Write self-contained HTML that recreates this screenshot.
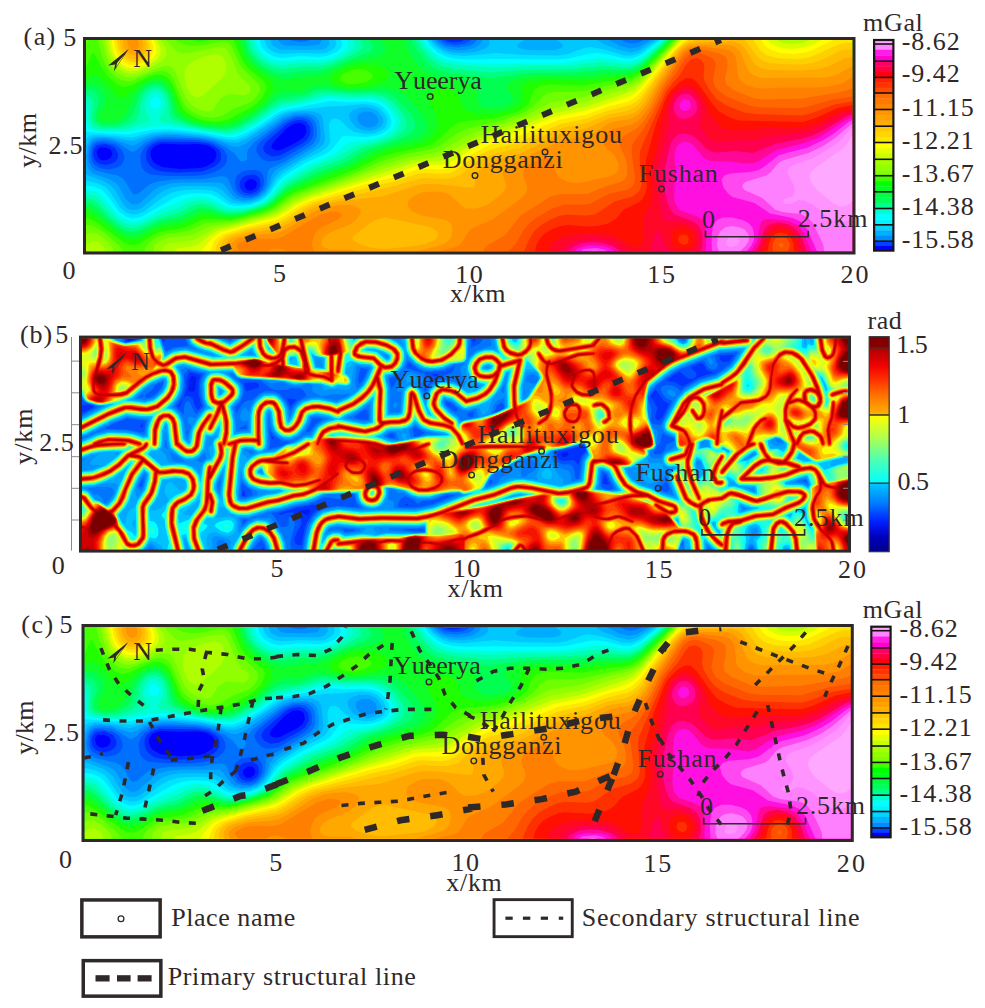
<!DOCTYPE html>
<html><head><meta charset="utf-8"><style>
html,body{margin:0;padding:0;background:#fff;width:985px;height:1008px;overflow:hidden}
svg{display:block}
text{font-family:"Liberation Serif",serif;fill:#2f2829;font-kerning:none}
</style></head><body>
<svg width="985" height="1008" viewBox="0 0 985 1008">
<defs><clipPath id="ca"><rect x="0" y="0" width="766.5" height="211.5"/></clipPath><clipPath id="cb"><rect x="0" y="0" width="766.3" height="211.4"/></clipPath><linearGradient id="gb" x1="0" y1="0" x2="0" y2="1"><stop offset="0" stop-color="#7a0000"/><stop offset="0.054" stop-color="#8a0000"/><stop offset="0.055" stop-color="#b00000"/><stop offset="0.133" stop-color="#f00000"/><stop offset="0.2" stop-color="#ff3000"/><stop offset="0.27" stop-color="#ff7000"/><stop offset="0.364" stop-color="#ffb400"/><stop offset="0.366" stop-color="#ffff00"/><stop offset="0.47" stop-color="#b0ff50"/><stop offset="0.57" stop-color="#50ffb0"/><stop offset="0.679" stop-color="#00ffff"/><stop offset="0.681" stop-color="#00c8ff"/><stop offset="0.77" stop-color="#0080ff"/><stop offset="0.86" stop-color="#0020ff"/><stop offset="0.93" stop-color="#0000c0"/><stop offset="1" stop-color="#000088"/></linearGradient><g id="fa" clip-path="url(#ca)"><rect x="0" y="0" width="766.5" height="211.5" fill="#0000ff"/>
<path fill="#0028ff" d="M2 0l764.5 0 0 211.5-766.5 0 0-211.5zM207.5 84l-6.5 4-13.5 14-2 4 0 1.5 2 2 4.5 1 4-1 16-8 6-4.5 2.5-5-1-6-2.5-2-3-1-6 .5zM74.5 104l-4.5 1.5-3 2-2.5 4 0 4 1.5 4 2 3 8 4.5 18 2 20-1 6-1.5 5-3 3-2 2-4 .5-4-2-4-4.5-3-4-1.5-8-1-16 .5-20-1zM13.5 107.5l-3 4 1.5 6 2 2 4 1 4-1 3-2 1.5-4-2-4-4.5-2-6 0zM162.5 139.5l-4 4 .5 4 3 3 4 0 4-3 1-4-1-2-2-2-4-.5z"/>
<path fill="#0050ff" d="M2 0l357 0 4.5 2 4.5 .5 6.5-.5 4-2 388 0 0 211.5-766.5 0 0-211.5zM212 80l-6 1-5 3-21 18-3 5.5 1 3.5 2 2.5 6 3 8-1 21.5-11.5 5.5-4 3-6 .5-4-1-4-3.5-4.5-4-1.5-4 0zM72.5 102l-5.5 2-4.5 3.5-2 4-.5 4 1 6 3 4 4 3.5 4 1.5 8 1.5 12 .5 24-1 12-4.5 4.5-3.5 2.5-4 0-6-2-4-5-3.5-6-2.5-10-1.5-38-.5zM10.5 106l-2.5 3-1 4.5 1 5 2 3 4 2.5 6 1 6-1.5 4-2.5 2-3.5 0-4-3.5-6-3.5-1.5-5-2-8 1zM159.5 135.5l-3.5 2.5-2 3.5-.5 4 1.5 4 3 3 4 1 4 0 4-2 2.5-2 2-4-.5-6-2-3-4-2-8 1z"/>
<path fill="#0070ff" d="M2 0l353 0 5 3.5 10 1.5 8.5-1 4.5-2 2-2 381.5 0 0 211.5-766.5 0 0-211.5zM209 78l-6 2-5 3-22 17-3.5 4-2 3.5 0 4 2.5 4 3 3.5 4 2 4 .5 10-1.5 24.5-14 5.5-4.5 2.5-3.5 1-4 0-6-1.5-4.5-3-3.5-3-1.5-4-1-6 0zM71.5 100l-6 2-5.5 4-3 3.5-2.5 6 0 6 1.5 6 3 4 5 3 18 1.5 24 0 12-1 8-2 8-3.5 4.5-4 2.5-4 0-6-3.5-6-5-3.5-8.5-4-14-2-28-1-10 .5zM16 102l-6 1-4 4.5-1 10 1 4 2 3 6 3.5 8 1.5 8-1.5 5-2.5 2.5-4 1-4-1-4-2-4-4.5-3.5-4-2-11-2zM156.5 131.5l-4.5 3-2 3-1 6 1.5 6 3.5 4 4 2 6 .5 6-1.5 4-3 3.5-6 .5-6-1-4-3-4-4-1.5-6 0-6 1z"/>
<path fill="#0090ff" d="M2 0l202 0 10 2 6-.5 4.5-1.5 127 0 2.5 2.5 6 3.5 12 1.5 12.5-2 4-2.5 2-3 145.5 0 4.5 2.5 6 1 6-1 6-2.5 208 0 0 211.5-766.5 0 0-211.5zM208 76l-10 4-29.5 22-6.5 7.5-1 4 0 6-3 2-4-.5-5.5-7.5-8-6-12.5-6-14-3-32-1.5-10 .5-7.5 2.5-7 4-7.5 6.5-4 1.5-12.5-8-5.5-2.5-10-1.5-8 1-4 2.5-2 4-1.5 8 .5 6 3 6 4 3 21.5 5 4.5 2.5 3.5 3.5 5.5 10 3 3 4-.5 12-10 8-2.5 14-2 32-.5 18-3 4 1 2 1.5 4.5 11 5 6 6.5 2.5 8 0 6-2.5 6-6 2.5-6 1.5-12 2-3 16-7.5 22-13.5 5-3.5 2.5-4 1.5-4 0-6-1-6-2-4-4-3-4-1.5-12 .5z"/>
<path fill="#00acff" d="M2 0l190 0 3.5 4 4.5 1.5 20 .5 12-1 2-1 2-4 112.5 0 3.5 4 6 3.5 6 2 8 1 8-.5 8.5-2 6-4 2-4 126.5 0 11.5 6 10 2.5 8-1.5 12.5-7 201.5 0 0 211.5-766.5 0 0-211.5zM277 72l-4 2-1.5 2 0 4 2.5 4 4 2.5 4 1 4-.5 4-1.5 2.5-3.5-.5-4-1-2-5-4-8-.5zM207.5 74l-10.5 4-37 25.5-8 3.5-6-.5-16-6.5-9.5-2-30.5-3-12 0-10 1.5-8 2.5-10 5.5-4 1-20-6.5-8-1-8 .5-4 2-3.5 5.5-2 9.5 .5 10 2 4 3 3.5 18 6.5 6 3.5 3.5 4.5 6.5 12 6 5 4 0 4-1.5 14-13 6-3.5 10-3 12-1 38 0 4 2 8 10.5 4 3.5 8 2 8-1 8-3.5 5-4.5 3.5-6 3.5-10.5 4-5 38-22.5 5.5-5.5 1-6 0-6-1.5-8-2-4-3-2.5-6-2-14 0z"/>
<path fill="#00c8ff" d="M2 0l182.5 0 1 4 1.5 2 7 3.5 36 .5 6-.5 4.5-1.5 3-4-.5-4 102.5 0 4.5 5 8 5 8 2.5 10 .5 12.5-1 10-3 4-3 1-2 0-4 34.5 0-5.5 4-1.5 2 2 2 8.5 2 15 .5 13-.5 6-2 1.5-2-.5-2-5.5-4 40.5 0 6 4 15.5 6 11.5 2.5 8-2 16.5-10.5 197.5 0 0 211.5-766.5 0 0-77 18.5 7 5.5 3.5 4.5 4.5 9.5 16 4 3.5 4 1 6-.5 4.5-2 15.5-13 6-4 8-3 10-1.5 24 0 10 1 6 3 7.5 7.5 4.5 3 8 1.5 8-.5 8-2.5 7.5-5.5 4-6 5-10 5.5-6 40-24 3.5-3.5 1.5-6-2-18-1-4-2-2-6-2.5-12-.5-10 1-8 2.5-36 23.5-10 4.5-8 0-16.5-4.5-11.5-2.5-36-2.5-14 1.5-20 6.5-22-4-14-.5-6 2.5-4 6.5 0-105.5zM273.5 68l-6.5 2-4 4 1 6 6 7.5 6 2.5 8 1 6-1.5 5.5-3.5 2-4-.5-4-5-7-8-3.5-10 0z"/>
<path fill="#00e4ff" d="M2 0l176.5 0 2 6 3.5 4 6 3 8 1 16-1 20 .5 6-.5 4-2 4.5-3 2-4-1-4 93.5 0 5 6 10 6.5 8 2.5 12 1 32.5-3 28 2 34 .5 9.5-1.5 16.5-6 6-1 14 2.5 20 6 6 0 4-.5 6-2.5 17.5-12.5 194.5 0 0 211.5-766.5 0 0-71 12 3 8 4 4 4.5 10 15.5 6 5 6 2 6-.5 6-2.5 18-13.5 8-4.5 8-2.5 8-1 14-.5 12 1 6 2.5 10 8 4 2 8 1 10-.5 8-2.5 8-5.5 4.5-6 6-10 5.5-5.5 20-13 19.5-9.5 5.5-4 3.5-5.5-1.5-16 1-4 2-3 4-.5 4 1.5 8 8 6.5 4 11.5 2 8-.5 6-2.5 5-3 2.5-6-.5-4-2-4-5.5-6-7.5-3-10-1-18 2-16 .5-40 4.5-8 3-16 11-18 11-10 4-8-.5-28-5.5-32-3-16 1.5-20 5-34-3-8 1-4 3 0-98.5z"/>
<path fill="#00ffff" d="M2 0l172 0 1 6 5 6 8 4.5 8 1.5 18-2 20 1 8-1.5 8.5-3.5 4.5-4 1.5-4-1.5-4 85.5 0 3.5 5.5 8 7 8 4 8 2 14 1 28.5-.5 58 .5 14-1 20-4.5 8-1 10 1 18 4.5 8 0 10-4.5 18-14 192 0 0 211.5-766.5 0 0-66 8 1 8 3.5 5.5 5.5 11.5 16 7 5 6 2 4-.5 6-1.5 32-18.5 8-3 8-1.5 10-.5 10 1 6 2.5 10.5 7 5.5 2 8 .5 10-1 10-3.5 6-4 4-4 10-14 6-5 20-12 20-9 6-4 10-13 4-.5 20 1 10-1.5 6-2 5.5-3.5 3-4 1-4-1.5-6-4-6-4-4-6-3-10-1.5-18 .5-18-1-46 9-6 2.5-16 11-16 9.5-12 4.5-8-.5-24-4.5-32-3.5-16 .5-26 5-42-2.5 0-92z"/>
<path fill="#00ffd8" d="M2 0l167.5 0 2.5 8 6 7 8 4.5 10 2 20-2 18 .5 10-1.5 9.5-4.5 5.5-4 3-4-1-6 76.5 0 4 6 6.5 7 6 4 6 2.5 14 3 28.5 1 76-.5 34-5 10 .5 16 3 6 0 10-3.5 22-18 190 0 0 211.5-766.5 0 0-61.5 8 1 5.5 2.5 4.5 4.5 8.5 11.5 5.5 6 6.5 4 7.5 2.5 4-.5 6-1.5 18-10 26-11 8-2 8-.5 8 1.5 14 7.5 6 2.5 8 0 12-1.5 9-3 7-4 4.5-4 11.5-14.5 22-13.5 30-13.5 12-9.5 4-2 24-3.5 10-3.5 8-5.5 2.5-4 1-4-1.5-6-4-6.5-6-5.5-6-3.5-8-1.5-22 .5-18-1.5-8 1-16 4.5-24 4.5-6 3-14 10-14 8-8 4-6 2-10 0-44-7.5-14-1.5-16 1-26 5-18-.5-12-1-5-2.5-3-7 0-81zM66 58l-2 4 .5 4 3.5 3 4-.5 2-2.5 1-2-1-4-2-3-4-.5z"/>
<path fill="#00ffb0" d="M2 0l164 0 3 10 7 8 10 5.5 10 1.5 20-2 20 0 10-2.5 10.5-4.5 9.5-6 3-4-1.5-6 66.5 0 3.5 6 7 8 5.5 4.5 8 4 14 3 32.5 2 38-1.5 38 0 34-4 8 .5 16 2 6 0 6-2 6-3.5 22-19 188 0 0 211.5-766.5 0 0-57 6 .5 6 2.5 18 20 8 5.5 8 2 8-1 18-9 18-6 14-7 6-1.5 6-.5 6 1 16 7.5 6 1.5 8 0 12-2 10-3 6-3.5 5-4 13-14.5 26-15.5 28-11 17-10.5 23-5.5 12-4.5 7.5-6 2-4 .5-4-1.5-6-5.5-8-6-6-7-3.5-10-2-20 .5-24-1.5-6 1-16 5-22 3.5-8 4-18 13-16 8.5-10 2.5-10-.5-28.5-4.5-28-6-4.5-2 0-2 5-8 1-8-3-7.5-2-1.5-4-2-6 2.5-4.5 6.5-1 4 1 6 5 10-3 2-17 6-8.5 1.5-14 .5-12-1.5-4-2-2-3-1-5.5-.5-12-.5-2.5-2-2.5 0-61z"/>
<path fill="#00ff80" d="M2 0l160.5 0 3 10 6.5 8.5 12 7.5 12 3 20-2.5 18 0 12-3 21.5-9.5 7-4 2.5-4-2-6 55.5 0 3 6 8 10 6.5 6 6 3.5 14 3.5 36.5 3.5 38-3 44-.5 30-3 22 1.5 6-.5 6-2 6-3.5 24-21.5 186 0 0 211.5-766.5 0 0-53 6 1 4 2 15.5 16 7.5 6 7 4 6 1 8-1.5 20-9 18-5 14-7 6-2 10 .5 14 6 6 1.5 8 0 12-2 10-3 8-3.5 6-4.5 14-14 28-15.5 27.5-10 20-12 22.5-6 10-4.5 5.5-3 4.5-4 2.5-6-1.5-6-6.5-10-6.5-6.5-8-5-10-2-24 0-24-2-8 1-16 5.5-22 3.5-6 3-19.5 14.5-18.5 9.5-10 1.5-14-1-21-4-19-6.5-3-3.5-.5-12-2.5-9-4-5-6-2.5-6 1.5-6 5.5-3 7.5-2 14-2.5 4-2.5 2-8 3.5-8 2-10 .5-8-1-4-1.5-3.5-3.5-1-6 1.5-14-2-4-5-3 0-55z"/>
<path fill="#00ff50" d="M2 0l157.5 0 3.5 12 7 9 8 6 8 4 6 2 6 .5 18-2.5 18-.5 12-3.5 37-15 2.5-2 1.5-4-3.5-6 42 0 4 8 7.5 10 5.5 6 7.5 5 14 4 40.5 5 38-5 44-.5 32-3 18 1 8-1 6-2 6-3.5 25.5-24 184.5 0 0 211.5-766.5 0 0-49 5 1 5 3 13 13 9 7 8 4.5 6 1 8-1.5 20-9.5 20-4.5 14-7 6-2 8 .5 18 6 8 0 10-1.5 14-4 8-3 6-4 16-15 30-14.5 28-10 21-12.5 23-7 16.5-6.5 6-4 3-6-1.5-6-5-8-13-13.5-8-5-12-2-28 1-24-3.5-8 1.5-15 5.5-15 1-6 1.5-6 3-18.5 14.5-13.5 8-8 3.5-10 1.5-16-1.5-17-3.5-14-6-3.5-4-3-14-3-8-5.5-6-6-2-8 2.5-6.5 5.5-4 8-4.5 14-5 6-6 3-6 2-8 .5-6-.5-5.5-3-1.5-4 .5-6 3.5-10-1-6-4-4.5-4-1.5-4 0 0-50z"/>
<path fill="#10ff28" d="M2 0l154 0 4.5 14 7.5 9.5 8 6 12 7 6 2.5 6 .5 16-2.5 18-1.5 30-13 29.5-6.5 5.5-4 1-4-2-4-3.5-4 24 0 2 8 4.5 8 7 9.5 6 6 6 3 6 2 26 4.5 10.5 3 4.5 4 1 2-1 10 2 4 5.5 3 8 1 13.5-2 6-4 1-2-.5-4-6-8 0-2 3-4 4-2 9-2.5 12-1.5 46 .5 26-3 16 0 8-1 6-2.5 6-4 27.5-26 182.5 0 0 211.5-766.5 0 0-44.5 4 1 4 2.5 24 20 8 4 6 1 8-1.5 20-9.5 22-4.5 18-8.5 6-.5 20 5 8 0 8-1.5 24-7.5 6-3.5 12-11 8-5 32-14 26-9 22-13 46.5-13.5 5.5-5 2-3 1-4-1.5-6-5.5-8.5-16-17-7.5-4.5-6.5-1.5-8-.5-32 2-30-5-4 .5-16 5.5-14 0-6 1.5-6 4-17.5 15.5-22.5 12.5-10 2-16-.5-16-4-12-6-4-6-4-14-4-8-6-6-6-1-9.5 3-7.5 6-5.5 8-6.5 14-4.5 6-8.5 4-10 0-3.5-2-1-4 1-4 5.5-10 0-4-1-4-4-6-5-3.5-4-.5-6 .5 0-44.5z"/>
<path fill="#20ff00" d="M2 0l150 0 5 14 4.5 8 6.5 6 16 12 3 4 .5 4-4.5 8-9.5 10-7.5 5-18 10-8 3-6 .5-10-.5-8-1.5-13-4.5-7-5-3.5-5-4.5-14-4-8-4-5-4-2.5-6-.5-10 3-8 5-14 11.5-4 1-13-14.5-9-8.5-4-1.5-8 4.5 0-38.5zM584.5 1.5l1-1.5 181 0 0 211.5-766.5 0 0-39.5 8 3.5 26 20 6 3 6 1.5 8-1.5 18-10 6-1.5 18-3 20-8.5 6-.5 14 3 8 0 10-1.5 16-4 10-3.5 6-3.5 14-11.5 6-3.5 36-15 23.5-8 24.5-13 20-6.5 23-4 9-4 7.5-8 3-8-1.5-8-5.5-10-2-6 1-6 4.5-4 9-2 6 1 4 1.5 4 4 4 11.5 4 4 4.5 2 14 2.5 16-2 12-3 8-5.5 2.5-6-1-8 .5-4 2-2 4-2 16-2 40 .5 46-5.5 6-2.5 6-4 27.5-26.5zM266 25.5l14-1.5 14 2 7.5 4 1 2 0 4-2.5 4-3.5 2-14.5 4-10 1.5-14-1-8.5-2.5-3-2-1.5-2 0-2 3.5-4 7.5-4.5 9-3.5z"/>
<path fill="#48ff00" d="M2 0l103.5 0 8.5 1.5 9.5-1.5 24 0 9.5 22 5 6 16.5 14 2 4-.5 4-4 8-6 6-6 4-22 11.5-12 2.5-14-2-10-4-8-6-3.5-6-8.5-21-4-5-4-2.5-4-1-6 .5-8 3-14 7-8 2-8-3.5-8.5-7.5-5.5-8-8-15-2 0-6 14.5 0-27.5zM586.5 1l.5-1 179.5 0 0 211.5-766.5 0 0-33.5 4 1 6 3 28 20.5 6 2.5 4 .5 6-2 12-8 8-4 24-3.5 19-8.5 5-.5 22 1 30-7.5 12.5-5 15.5-12 6-3 60-22.5 25-12.5 17-5 25.5-5 8.5-2.5 8-5 14-13.5 6-3.5 8-2 28.5-2.5 22.5-6.5 7-4 4.5-4 5.5-14 6.5-4 12-1.5 32 1 24-4.5 16-1.5 8-2 6-3.5 6-4.5 27-27.5zM266 30l8-1 8 2 4 3 1 2-1 2-5.5 4-10.5 2-8 0-5.5-2-2-2-.5-2 3-4 9-4z"/>
<path fill="#70ff00" d="M1 2l-1 2.5 0-4.5 2 0zM14 0l75.5 0 8.5 4.5 10 1.5 12-1 16-4 4 .5 4 2.5 2 3 6.5 15 3.5 6 16.5 16 1.5 4-.5 4-3.5 5.5-5 4.5-17 6.5-12 7.5-10 2-10-1.5-9.5-4.5-6.5-5.5-4-7-9-21.5-3-4-4-2.5-4-1-6 1-26 10-8-1-6-3.5-6-5.5-5-7.5-3.5-10-3.5-14zM588.5 .5l178-.5 0 211.5-708.5 0 1.5-4 3-4 5.5-4.5 6-3.5 6-1.5 22-3 18-8 26-1.5 32-8.5 10-4 14-10.5 8-4.5 58-20.5 26-11.5 22-7 32-6.5 6-3 18-12.5 8-4 38.5-9.5 20-7 9.5-6.5 9-10 5.5-3 6-1 18 0 12-1 46-10 8-4 6-5 28.5-30zM2 185l6 1.5 10 6 15 13 4.5 6-37.5 0 0-26z"/>
<path fill="#90ff00" d="M18 0l62 0 10 11 6 2.5 10-1 24-5 8 0 3.5 2.5 2.5 4 8 20 12 12 .5 2-.5 4-2 2-4 1.5-14-1.5-4 1-6 4-7 11-5 1.5-7.5-1.5-8.5-4.5-6-7-10-26-4-5.5-4-1.5-6 1-26 10-6 1-6-1-8-4.5-6.5-8-4-10-3-14zM590.5 0l176 0 0 211.5-699 0 1-6 3.5-3.5 4.5-2.5 7.5-2 20-2 20-9 26-4 32-9 8-3.5 15-10.5 9-4.5 54-18.5 24-9.5 24-8 37-7.5 33.5-18.5 52-16.5 26-14 32-5 26-8 22-5.5 6-3 8-6.5 30.5-32.5zM4 193l6 .5 8 5 7.5 7 2.5 6-28 0 0-17 2.5-1z"/>
<path fill="#b0ff00" d="M20 0l54.5 0 5 8 1 6-3.5 6-15 9-12 4.5-6 .5-4-.5-8-4.5-6-7-4-10-2.5-12zM592.5 0l174 0 0 211.5-690 0 .5-4 1.5-2 4-2 25.5-3.5 20-11 22-5 34-9 8-3.5 14-9.5 8-4 72-25.5 40-12.5 24-3 8-2 34.5-19 48-16.5 24-10.5 34-6.5 24-8.5 20-5.5 8-4 8-7 33.5-37.5zM120 16l10-2 6 2 2 2.5 2 5.5-.5 8-3.5 6-18 16.5-4 2.5-4 .5-5.5-3.5-3.5-6-2.5-10 .5-8 2-4 3-2.5 6-3.5 10-4zM6 201.5l4-.5 4.5 2.5 3.5 4 1 4-19 0 0-6 5.5-4z"/>
<path fill="#d8ff00" d="M24 0l47 0 3.5 8 0 6-4 6-10.5 7-10 4-8 0-8-4.5-5.5-6.5-4-10-2-10zM594.5 0l96.5 0 5.5 3 10 1 10-1 7-3 43 0 0 211.5-678.5 0 4-3 14-2 6-2 14-11 6-3 56-14.5 6-3 16-10.5 12-5.5 104-33.5 9.5-2 16.5-.5 6-1 6-2.5 26.5-15.5 12-5.5 40-13.5 24-9.5 32-6.5 44-14.5 6-3 8-7 28-32.5 9.5-10z"/>
<path fill="#ffff00" d="M26 0l42 0 2 6 .5 6-3 6-7.5 6-10 4-8-.5-6-3-5.5-6.5-3.5-8-1.5-10zM596.5 0l85.5 0 2.5 3 6 3.5 8 2 8 .5 14-2 8-3 6.5-4 31.5 0 0 211.5-651.5 0 11.5-14 7.5-5 28-8 26-6.5 8-3.5 16-10.5 10-4.5 64-20 24-6.5 20-7 8-1 16 0 6-1 6-2.5 24.5-15 14-6.5 22-7 42-16 32-6.5 42-13.5 6-3.5 6-5 31.5-38.5 10.5-10z"/>
<path fill="#ffe800" d="M28 0l37 0 2 6 0 6-3.5 6-5.5 4-8 3-6 0-6-3-5.5-6-3.5-8-1-8zM598.5 .5l76.5-.5 3.5 5.5 6.5 4.5 9.5 3 12 1 10-1 8-2 22.5-11 19.5 0 0 211.5-642.5 0 4-10 3.5-4 4.5-3 21.5-7 32.5-7.5 8-4 16-10.5 10-4.5 60-18 26-6 21-7.5 7-.5 18 .5 6-1 6-3 20.5-13 16-8 24-6.5 44-18 28-5.5 22-8 20-5 6-3.5 6-5.5 31.5-40.5 10.5-10z"/>
<path fill="#ffd000" d="M32 0l30 0 2 6-.5 6-2.5 4-5 4-6 2.5-6-.5-6-3.5-3.5-4.5-2.5-6-1.5-8zM600.5 1l1.5-1 65.5 0 6.5 10 6.5 5 10 3 16 1 10-.5 8-1.5 28-12.5 8-2 6 .5 0 208.5-637 0 1-6 2-4 7-6 20.5-6.5 32-7 8-4 16-10.5 12-5.5 60-16 22-5 22-7.5 8-.5 16 1 8-1 6-3 17.5-12.5 17-8 26-6.5 44-19 26-5.5 22-8 22-5.5 6-3.5 4-4 33.5-45.5 6-6 5.5-4z"/>
<path fill="#ffbc00" d="M34 0l25.5 0 1.5 6-1 6-3.5 4-4.5 2.5-4 1-4-1-4-2.5-3.5-4-2-6-1-6zM604.5 1.5l5-1.5 49.5 0 11.5 15.5 4 4 8 3.5 14 1 18 .5 12-1.5 10-3.5 18-9 6-1 6 0 0 202-631.5 0-.5-4 1-4 3-4 5.5-3.5 18-5.5 24-4 8-2 8-4.5 16-10.5 12-5.5 78-18 26-7.5 6-.5 20 1 8-1.5 6-2.5 16.5-13 14-7 28-7 30-14.5 13.5-5.5 24.5-5 22-8.5 18-3.5 6-2.5 6-4 4-4.5 13-20 20.5-28 6.5-6.5 6.5-3.5z"/>
<path fill="#ffa800" d="M38 0l18 0 1.5 6-1.5 5-2.5 3-3.5 1.5-6-1-3-2.5-3-4-1-8zM638.5 2l8-.5 8 2.5 4 4 10 16 6 4 8 2 30 .5 18-1 12-3 16-8 8-1.5 0 194.5-626.5 0-1-4 1-4 3.5-4 4-2 16.5-5 22-3 8-2 8-3.5 22-14.5 14-5 18-3.5 40-4.5 34-11 8-1.5 12 0 32 3.5 4.5 0 2-2 1-8 2.5-6 6.5-6 7-4 29-8 40-19.5 26-5.5 22-10 20-3.5 6-2.5 5.5-4.5 4.5-5 14-23 18-26 6-6.5 6-3.5 6-1.5 29-.5zM298.5 177.5l-8.5 2.5-8 4.5-14 11-1.5 2 0 2 6 4 11.5 4 8 1 8 .5 32-3.5 8-1.5 9.5-4.5 2.5-4 0-2-2-3-6-3.5-44-9.5z"/>
<path fill="#ff9400" d="M42 0l10 0 1 6-1 3-4 2-4-2-2-3-1-6zM604.5 5.5l10-1 28 .5 6 1.5 6 5.5 6 15 3 5 5 3.5 8 2.5 64-.5 10-2.5 16-9 0 185.5-436.5 0 20-5 8.5-3 3-2 3.5-4 1.5-8-1.5-6-5-3.5-24.5-4.5-9.5-4-3.5-4-1-4 1.5-4 2.5-2 6.5-3.5 6-2 14-.5 6 1 6 2.5 11 10.5 5 3 10.5 0 12-4.5 11.5-8.5 5-6 1-4-3.5-12 1.5-4 4.5-4 32-15.5 18-8 10-3 18-2 4-1.5 18-12 6-2 16-2.5 8-4.5 9-10.5 11-20 19-28 5-6 6-4zM250 165.5l12-.5 8 1.5 4.5 3 0 4-4 6-6.5 5-20 8-4.5 3-3.5 4.5-.5 3.5 .5 2 2 2 6 2 20 0 9 2-127 0-2-4 1-4 7-5 14-3.5 20-1.5 8-1.5 10-5 24-15.5 11-4 11-2z"/>
<path fill="#ff8000" d="M604.5 7.5l10-1 24 2.5 6 2 3.5 3 2 4 2 18 2 4 6.5 5 10 3 8 .5 20-1 30 0 14-1 12.5-2.5 11.5-7 0 174.5-416 0 17.5-4 5-2 3.5-4 5.5-9.5 4.5-4 20-8.5 29.5-22 3.5-4 1.5-4 0-4-4-10 1-6 3.5-4 9-5 8-2.5 6 1 2 2.5 3 10 3 5 4 3 8 3 8 .5 6-1 26-6 5-2.5 3-4 0-6-4-8-10-9.5-1.5-4 2-6 3-4 4.5-3 18-4 6-3 4-3.5 9.5-12.5 10-20 18.5-28 5-6 5.5-4zM244 171.5l8 .5 3.5 1.5 .5 2-3.5 4-16.5 7.5-6 5-2.5 5.5-1.5 6 .5 4 2 4-27 0-4-2-5.5-1-6 .5-4.5 2.5-27.5 0-3-4-.5-2 1.5-2 9-4 11-1 16 .5 8-2 36-21.5 12-4z"/>
<path fill="#ff6800" d="M606.5 9.5l6-.5 6 1 14 3 6 3 2 2 1 4 0 6-2.5 10 1 6 7.5 6 21 8.5 10 1 38-1 38-6.5 12-3.5 0 163-369.5 0 1.5-3 2.5-3 17.5-10 16-20 30-19 10-2.5 26 0 20-8 14-4 4-2.5 2.5-4 .5-8-1.5-8-6-13.5 0-6 3.5-4 13-7.5 6-6 8.5-12.5 11-22 18.5-28.5 4-5.5 6.5-4z"/>
<path fill="#ff5000" d="M604.5 14l4-1.5 6 .5 11.5 5 2 2 2 4-3 16 1.5 5 3 5 9 6.5 24 9.5 12 1.5 40 .5 30-8.5 20-3 0 155-344 0 7.5-8 8-14 5-6 7.5-6 16-9 12-4 20 0 6-1 19-10 17-3.5 6-3.5 2-4 .5-5-3.5-26 1-7.5 10-13.5 10-16.5 12.5-26 10.5-14 9-15 5.5-5zM693.5 203.5l-.5 2 1.5 2 2-.5 1-1.5-.5-2-2.5-.5z"/>
<path fill="#ff3000" d="M604.5 19.5l6-1.5 4 1.5 2.5 2.5 1.5 4-1 10 1.5 6 5.5 9.5 6 7.5 10 6.5 18 7 12 1.5 46 1.5 8-2 24-9 18-3 0 150-64.5 0 2-6-1-4-3.5-4-5-1-4 1.5-3 3.5-1 4 .5 6-249 0 5-12 5-8 6.5-6 10-6 8-3.5 8-1.5 20 1 8-1 6-3.5 14-9.5 18-5 6-4.5 2-3.5 1-5-2-26 .5-6 2-5.5 24-54 4.5-6.5 8.5-9.5 7.5-12 3.5-4z"/>
<path fill="#ff1000" d="M602.5 38l4 .5 6 5.5 14 20 6 7 10 6 10 3.5 64 1.5 12-3.5 22-10 16-3.5 0 146.5-59 0 0-8-3-6-4-3.5-6-1.5-4.5 1-4.5 4-2.5 6-1.5 8-232.5 0 2-8 3.5-5.5 4-4.5 8-4.5 8-3 6-1 24 1.5 9-1 8.5-2 7-4 9-10 14.5-7 4-3.5 3-5.5 1.5-6-1.5-20 .5-8 10-35.5 10-26 3.5-6 9-9 6-4 3.5-1zM593.5 195.5l-1.5 4 2 4 4.5 1.5 3-1.5 1.5-4-2-4-2.5-1-4 .5z"/>
<path fill="#ff0828" d="M596.5 45.5l6-.5 4 1.5 4 2.5 7 9 7 16.5 4 6 8 7 8 2.5 10 0 28-2 24 .5 10-1 14-4 22.5-11.5 13.5-3.5 0 143-54.5 0-1-8-3.5-8-5-4.5-8-2-6 1.5-4 3-3.5 6-3.5 12-214.5 0 1.5-6 6-6 10-4 12-2 20 0 10 .5 8 3 16 9.5 4 .5 4-1.5 2-3.5 .5-4.5 0-20 6.5-12 2-6 1-10-1-24 6-19.5 3-19 9-29 5-7.5 7-4.5zM594.5 187.5l-4 1-4 3-1.5 4 0 6 2 4 2 2 5.5 2 4 .5 4-1 4-2.5 2-3 0-4-.5-4-2.5-4-5-3-4-1z"/>
<path fill="#ff0050" d="M598.5 49.5l4 0 4 2 6.5 6.5 2.5 6 1 6-.5 6-2 8 .5 4 10 11.5 6 3 18-2 20-.5 20-4 30-3.5 14-5 24-13 10-3 0 140-50.5 0-3-12-4.5-7.5-6-4.5-8-1.5-6 .5-6 4-3 5-6 16-65.5 0 3-4 2-6-1-8-3.5-5.5-8-4.5-8-1.5-12-.5-3.5-2-2-10-4-30 1-14 11-39.5 0-14 1.5-8 4-8.5 4-3.5 4-2zM572.5 190.5l2 1 4.5 14 5 6-20 0 4.5-15 3-5zM494.5 199l14-1 12 1.5 8 3 13.5 9-66.5 0 2.5-4 4.5-4 10-4z"/>
<path fill="#ff0898" d="M598.5 54l4 0 4 2.5 4 5.5 .5 4 0 4-2.5 4.5-4 3-6 1.5-4-.5-4-3-2-3.5-1-4 .5-4 2.5-5 4-4 3.5-1zM762.5 75.5l4-1.5 0 137.5-46 0-4.5-14-5.5-8-8-5-10-2-8 1.5-5 3.5-6.5 18-3.5 6-55 0 2-6 0-8-1-6-3-6-6-4.5-18-6.5-4.5-5-3-8-2.5-12-.5-18 6.5-27.5 3.5-6 4.5-3.5 6-1 8 2 5.5 4.5 8.5 9 6 3 6 .5 16-1.5 18 2 6-2 18-7.5 24-4.5 12-3.5 11.5-5.5 23-14zM496.5 203l10-1 10 1 10 3 8 5.5-52 0 4-4 8-4z"/>
<path fill="#ff10e0" d="M598.5 59.5l4 .5 2.5 4-.5 4-4 3-4-.5-2.5-2.5-.5-4 3-4zM764.5 77.5l2-.5 0 134.5-41 0-7.5-18-6-8-9.5-4.5-18-2-6 .5-3 2-1.5 4-3 16-6 10-45 0 .5-18-1.5-8-1.5-4-5-4.5-18-6.5-4-4.5-2-4.5-.5-10 1.5-18-1-18 2-8 2.5-3.5 5.5-2.5 6 1.5 4 3.5 8 10 4 3 4 1.5 20 .5 14 2 8 0 6-2 12-8 7.5-4 24.5-6 14-5 10-5.5 16-11 7.5-4zM502.5 205.5l14 .5 8 2.5 4 3-40.5 0 4.5-3.5 8.5-2.5z"/>
<path fill="#ff48f0" d="M764.5 81l2-1 0 131.5-35.5 0-9.5-22-7-8-8-3.5-22.5-4.5-15.5-10.5-22-6-4.5-3.5-4.5-6-2-8 3-4 6-2 20-1.5 8-2 4.5-2.5 15.5-12 6-2 22-5.5 16-7.5 10-6 16-12.5zM638.5 177.5l8 0 10 2.5 6 3 4 4.5 1.5 6 0 6-2.5 6-5 6-34.5 0-.5-14 1.5-12 3.5-5 6.5-3zM498.5 209l12-1 7.5 1.5 4 2-28 0 3-2z"/>
<path fill="#ff80ff" d="M766.5 83.5l0 128-28.5 0-.5-6-2.5-6-8-16-5-6-7.5-3.5-18-2-7.5-2.5-12.5-11.5-18-8-2-2.5 0-2 1-2 3-2 20-6 4-3 7.5-9 4.5-3 26-7.5 14-6.5 12-8 17-14.5zM640.5 187l6-1 7.5 1.5 4.5 2 3.5 4 1 4-.5 4-2.5 4-6 6-21 0-2-6 .5-8 2.5-6 5-4zM502.5 211.5l6-1 4.5 1-11.5 0z"/>
<path fill="#ff94ff" d="M764.5 89.5l2-1.5 0 91-10 2.5-10-1-6-3.5-12-11.5-10-5-6-.5-8 4-6-.5-1.5-2 1-2 8.5-3 2.5-5-1-6-6.5-12 .5-4 1.5-2 3-2 20-7 14-8 12.5-8.5 11-12zM644.5 196.5l4-.5 4 1.5 1 4-3 4-6 1.5-3.5-1.5-1-4 2.5-4z"/>
<path fill="#ffa8ff" d="M766.5 95.5l0 66-6 4-6 1-7-3-17-14-6-8-1-6 2-4 4-4 27-18.5 4-4.5 5.5-8.5z"/></g></defs>
<use href="#fa" transform="translate(86 40)"/>
<line x1="221" y1="250.2" x2="721" y2="40" stroke="#2f2829" stroke-width="6" stroke-dasharray="10.5 16.3"/>
<rect x="84.5" y="38.5" width="769.5" height="214.5" fill="none" stroke="#2f2829" stroke-width="3"/>
<text x="394.25" y="89" font-size="26" letter-spacing="-0.07">Yueerya</text>
<circle cx="430.2" cy="96.6" r="2.8" fill="none" stroke="#2f2829" stroke-width="1.4"/>
<text x="480.85" y="143.2" font-size="26" letter-spacing="0.89">Hailituxigou</text>
<circle cx="545.0" cy="152.0" r="2.8" fill="none" stroke="#2f2829" stroke-width="1.4"/>
<text x="442.65" y="168.2" font-size="26" letter-spacing="0.76">Dongganzi</text>
<circle cx="475.0" cy="175.6" r="2.8" fill="none" stroke="#2f2829" stroke-width="1.4"/>
<text x="638.85" y="181.8" font-size="26" letter-spacing="0.74">Fushan</text>
<circle cx="661.5" cy="188.9" r="2.8" fill="none" stroke="#2f2829" stroke-width="1.4"/>
<path fill-rule="evenodd" d="M128.9 48.8L108.2 65.6L115.2 64.4L113.7 71.4ZM124.6 54.5L117.0 63.1L116.2 67.0Z" fill="#2f2829"/>
<text x="133.35" y="66.8" font-size="26" letter-spacing="1">N</text>
<text x="701.9" y="228" font-size="26" letter-spacing="1">0</text>
<text x="797.7" y="227.4" font-size="26" letter-spacing="0.99">2.5km</text>
<path d="M705.5 230.8V236.8H808.2V230.8" fill="none" stroke="#2f2829" stroke-width="1.6"/>
<text x="23.6" y="45" font-size="26" letter-spacing="1.38">(a)</text>
<text x="63.3" y="45.7" font-size="26" letter-spacing="1">5</text>
<text x="48.4" y="154" font-size="26" letter-spacing="0.8">2.5</text>
<text x="62.4" y="279" font-size="26" letter-spacing="1">0</text>
<text x="272.9" y="282" font-size="26" letter-spacing="1">5</text>
<text x="455.15" y="282.5" font-size="26" letter-spacing="1.65">10</text>
<text x="647.25" y="282.9" font-size="26" letter-spacing="1.65">15</text>
<text x="840.5" y="282.9" font-size="26" letter-spacing="2.1">20</text>
<text x="450.05" y="301.8" font-size="26" letter-spacing="0.68">x/km</text>
<text transform="translate(36.4 167.85) rotate(-90)" font-size="26" letter-spacing="0.42">y/km</text>
<rect x="874.5" y="40.50" width="18.5" height="3.80" fill="#ffa4ff"/>
<rect x="874.5" y="44.00" width="18.5" height="6.03" fill="#ff84ff"/>
<rect x="874.5" y="49.73" width="18.5" height="6.03" fill="#ff1ee6"/>
<rect x="874.5" y="55.47" width="18.5" height="6.03" fill="#ff00d0"/>
<rect x="874.5" y="61.20" width="18.5" height="5.70" fill="#ff0068"/>
<rect x="874.5" y="66.60" width="18.5" height="5.70" fill="#ff0040"/>
<rect x="874.5" y="72.00" width="18.5" height="5.70" fill="#ff0010"/>
<rect x="874.5" y="77.40" width="18.5" height="5.50" fill="#ff2000"/>
<rect x="874.5" y="82.60" width="18.5" height="5.50" fill="#ff3400"/>
<rect x="874.5" y="87.80" width="18.5" height="5.50" fill="#ff4800"/>
<rect x="874.5" y="93.00" width="18.5" height="5.80" fill="#ff6c00"/>
<rect x="874.5" y="98.50" width="18.5" height="5.80" fill="#ff7800"/>
<rect x="874.5" y="104.00" width="18.5" height="5.80" fill="#ff8400"/>
<rect x="874.5" y="109.50" width="18.5" height="5.87" fill="#ff9600"/>
<rect x="874.5" y="115.07" width="18.5" height="5.87" fill="#ffa200"/>
<rect x="874.5" y="120.63" width="18.5" height="5.87" fill="#ffae00"/>
<rect x="874.5" y="126.20" width="18.5" height="5.73" fill="#ffc800"/>
<rect x="874.5" y="131.63" width="18.5" height="5.73" fill="#ffd600"/>
<rect x="874.5" y="137.07" width="18.5" height="5.73" fill="#ffe400"/>
<rect x="874.5" y="142.50" width="18.5" height="5.90" fill="#ffff00"/>
<rect x="874.5" y="148.10" width="18.5" height="5.90" fill="#e4ff00"/>
<rect x="874.5" y="153.70" width="18.5" height="5.90" fill="#c8ff00"/>
<rect x="874.5" y="159.30" width="18.5" height="5.77" fill="#a4ff00"/>
<rect x="874.5" y="164.77" width="18.5" height="5.77" fill="#92ff00"/>
<rect x="874.5" y="170.23" width="18.5" height="5.77" fill="#80ff00"/>
<rect x="874.5" y="175.70" width="18.5" height="5.67" fill="#40ff00"/>
<rect x="874.5" y="181.07" width="18.5" height="5.67" fill="#00ff00"/>
<rect x="874.5" y="186.43" width="18.5" height="5.67" fill="#00ff20"/>
<rect x="874.5" y="191.80" width="18.5" height="5.87" fill="#00ff40"/>
<rect x="874.5" y="197.37" width="18.5" height="5.87" fill="#00ff58"/>
<rect x="874.5" y="202.93" width="18.5" height="5.87" fill="#00ff90"/>
<rect x="874.5" y="208.50" width="18.5" height="5.73" fill="#00ffd0"/>
<rect x="874.5" y="213.93" width="18.5" height="5.73" fill="#00ffff"/>
<rect x="874.5" y="219.37" width="18.5" height="5.73" fill="#00f4ff"/>
<rect x="874.5" y="224.80" width="18.5" height="5.77" fill="#00d4ff"/>
<rect x="874.5" y="230.27" width="18.5" height="5.77" fill="#00b0ff"/>
<rect x="874.5" y="235.73" width="18.5" height="5.77" fill="#008cff"/>
<rect x="874.5" y="241.20" width="18.5" height="5.05" fill="#0044ff"/>
<rect x="874.5" y="245.95" width="18.5" height="5.05" fill="#0000ff"/>
<line x1="874.5" x2="893.0" y1="44.0" y2="44.0" stroke="#141010" stroke-width="1.6"/>
<line x1="874.5" x2="893.0" y1="61.2" y2="61.2" stroke="#141010" stroke-width="1.6"/>
<line x1="874.5" x2="893.0" y1="77.4" y2="77.4" stroke="#141010" stroke-width="1.6"/>
<line x1="874.5" x2="893.0" y1="93.0" y2="93.0" stroke="#141010" stroke-width="1.6"/>
<line x1="874.5" x2="893.0" y1="109.5" y2="109.5" stroke="#141010" stroke-width="1.6"/>
<line x1="874.5" x2="893.0" y1="126.2" y2="126.2" stroke="#141010" stroke-width="1.6"/>
<line x1="874.5" x2="893.0" y1="142.5" y2="142.5" stroke="#141010" stroke-width="1.6"/>
<line x1="874.5" x2="893.0" y1="159.3" y2="159.3" stroke="#141010" stroke-width="1.6"/>
<line x1="874.5" x2="893.0" y1="175.7" y2="175.7" stroke="#141010" stroke-width="1.6"/>
<line x1="874.5" x2="893.0" y1="191.8" y2="191.8" stroke="#141010" stroke-width="1.6"/>
<line x1="874.5" x2="893.0" y1="208.5" y2="208.5" stroke="#141010" stroke-width="1.6"/>
<line x1="874.5" x2="893.0" y1="224.8" y2="224.8" stroke="#141010" stroke-width="1.6"/>
<line x1="874.5" x2="893.0" y1="241.2" y2="241.2" stroke="#141010" stroke-width="1.6"/>
<rect x="874.10" y="40.00" width="19.30" height="210.60" fill="none" stroke="#1a1616" stroke-width="2.2"/>
<text x="863.1" y="31" font-size="26" letter-spacing="0.65">mGal</text>
<text x="901.7" y="49.6" font-size="26" letter-spacing="1">-8.62</text>
<text x="901.7" y="82.4" font-size="26" letter-spacing="1">-9.42</text>
<text x="901.7" y="115.5" font-size="26" letter-spacing="1">-11.15</text>
<text x="901.7" y="148.5" font-size="26" letter-spacing="1">-12.21</text>
<text x="901.7" y="182.2" font-size="26" letter-spacing="1">-13.67</text>
<text x="901.7" y="214.9" font-size="26" letter-spacing="1">-14.38</text>
<text x="901.7" y="247.6" font-size="26" letter-spacing="1">-15.58</text>
<g transform="translate(82 338.5)" clip-path="url(#cb)"><rect x="0" y="0" width="766.5" height="211.5" fill="#00008e"/>
<path fill="#0000b5" d="M.5 0l766 0 0 211.5-766.5 0 0-211.5z"/>
<path fill="#000ad4" d="M.5 0l766 0 0 211.5-766.5 0 0-211.5z"/>
<path fill="#0019f1" d="M.5 0l766 0 0 211.5-766.5 0 0-211.5z"/>
<path fill="#0031ff" d="M.5 0l45 0 1 2.5 5-1.5 .5-1 714.5 0 0 211.5-766.5 0 0-211.5zM109.5 37.5l-2 4.5-1 10.5 4 1 2.5-1.5 1.5-13-4.5-2zM481.5 114l-2.5 2 1.5 2.5 3 0 2.5-2 .5-1.5-1-1-4 0zM225 171l-7.5 1.5 7.5 4.5 3-4-1-2.5-1.5 .5zM218 196l-1 3.5 1-3.5z"/>
<path fill="#0053ff" d="M.5 0l43 0 0 3 1.5 .5 9-2 1-1.5 25 0 1 3.5 1.5-1 .5-2.5 307.5 0 .5 4 2-1.5 1.5-2.5 372 0 0 211.5-584 0-1.5-3-1.5 3-179.5 0 0-137 10.5-5 1.5-1.5-6-2.5-6 1.5 0-67zM647 16.5l-8.5 .5-1.5 1.5 1.5 3 2 2 6.5-.5 5-6.5-5 0zM619 24.5l-10 4.5 5.5 6 0 2.5-2 2-3.5 1-3-.5-8.5-7-6 3.5-7.5 6 8.5 1 8 4.5 16-9 15.5-5-7-2-4.5-7.5-1 0zM326.5 26.5l1 1.5 2 .5-2.5-2.5zM107.5 33.5l-3 5.5 0 9.5-3 10.5-6 8.5 2 1.5 3.5-9 3-2.5 3 0 3.5 2 3 9 2.5 3 3.5-4-3-12 0-11.5 2.5-7.5-11-3zM353 35.5l-3.5 .5 4 2 4-2.5-4.5 0zM166.5 44l-4.5 .5 2 8.5 11.5-3.5 1.5-1.5 0-2-2.5-2-7.5 0zM573 51.5l-4.5 6 7 12-2 7 0 3 1 1.5 3 1 3.5-4.5 6-12-5-3-8-11-1 0zM205 60l3.5 7.5 5.5-6-1.5-1-7-.5zM366 65.5l2.5 1-2.5-1.5zM61 84l-2.5 3.5 1 2 1.5-2 0-3.5zM337 94.5l-1 1 1.5-.5-.5-.5zM309 96.5l-1 .5 .5 .5 2 0-1.5-1zM189 97.5l1 3 2.5 0-3-3.5zM499.5 106.5l-6 2.5-16.5 3.5-2 2.5 0 3.5 2.5 2.5 3.5 1.5 11-1 4.5 5 2.5-8.5 5-6-2-5.5-2.5 0zM522 136l-1.5 8.5 2.5 1.5 3 0 1-1-.5-1.5-3-7-1.5-.5zM161 150.5l-1 6 .5 1 2 0 1-1.5-2.5-6zM365 157l-2 2 3.5-1.5-1.5-.5zM344.5 164.5l2.5 0-2 0zM324.5 165l-2 2 5 0-3-2zM231.5 166l-17.5 3.5-18 5.5 3 1.5 6.5-2.5 4.5 0 5 2.5 4 4 1 4.5-5 8.5-2.5 6.5 .5 4 2.5 2.5 4 0 3-15.5 2-6.5 5-8 6-6-3-4.5-1 0z"/>
<path fill="#0076ff" d="M.5 0l41 0 0 3.5 2.5 .5 12-2.5 .5-1.5 22.5 0 4.5 13 7.5-4 15.5-1.5-2-4-1-3.5 40.5 0 4 2 3-2 238 0-.5 9.5 8.5-4 3-3 1-2.5 198.5 0 1.5 1.5 1.5-1.5 164 0 0 211.5-95.5 0-.5-1.5-1.5-1-2 2.5-39 0-1-1-.5 1-406 0 2-12.5 2.5-10.5 4-8.5 6-6.5 7-3.5 12.5-2.5 23.5 1.5-4.5-6-1.5-7.5-5-.5-4 .5-3.5 3.5-2.5 1.5-14.5-2-11 5.5-7.5 2.5-10 1.5-15 4.5-10 2 4 4 3.5 7.5 3 2.5 3.5 0 3-1.5 1-2.5-.5-4.5 1-1.5 2.5 .5 2 2 1 5-4.5 17 .5 8.5-25 0-2-7-3-3.5-8.5 10.5-170.5 0 0-135 16.5-8.5-12-3.5-4.5-3.5 0-61zM654 14l-15.5 1-5 2-.5 1 3 9-1 2-2 1.5-3 .5-2.5-1-2.5-2.5-3-5.5-2 0-26 10.5-19.5 14.5-5.5 6.5-3 5 .5 4 3 7.5-1 10 1.5 5.5 8.5 1 11.5-23 0-1-6-3-3.5-4.5-2-4 1.5-3 4.5-1.5 5.5 .5 4.5 2 4 3.5 5-4 13-7.5 16.5-5 7.5-4.5 3-3 4-2.5 3.5-4.5 4-6.5 0-1-1 0zM326 23l-2.5 6.5 17.5 5 6 5 1 2.5-.5 2.5-6 6 1.5 3.5 3-5.5 4-4 4-3 5-1.5 3.5-3 7.5-3 3.5-7-12.5 5.5-14.5 1-6.5-1-5.5-3-8-6.5zM278.5 29.5l-2.5 11.5 1.5 4.5 4-4.5 4.5-10.5-7-1zM106 31l-4 5 .5 11-1.5 7-2.5 5.5-5.5 8 8.5 8.5 1-9.5 1.5-3 2.5-1 2 2.5 3.5 8 2.5 2.5 7-7.5-3-11-.5-10.5 .5-4 3-7-15.5-4.5zM151.5 36.5l1 1-1-1.5zM315.5 37.5l-8.5 2.5 2.5 10 5.5-8.5 1.5-4-1 0zM155.5 40l5.5 7 .5 7.5-2.5 7.5-6 7 1.5 6 4-7 3.5-4 4-2 3.5 0 8-7 5-2 9-.5 6.5 3 6 7 4 10 3.5-5.5 4.5-4.5 8.5-5-2.5-5-3.5-2.5-9.5-.5-3.5 2-13 0-4.5-2-9.5-7.5-23-2zM80 43.5l-6.5 2.5-3.5 5.5-7 5 .5 2.5 2.5 .5 3.5-1 5.5-4 5-6.5 1-3.5-.5-1zM60.5 56l-3.5 2.5 0 1 2.5-.5 2-2.5-1-.5zM364 62.5l-1 2 1 2 6.5 5.5 4 1.5 1-2 0-1.5-7-6-4.5-1.5zM419.5 64l-4.5 2.5-3 7.5 3-.5 7-3.5-.5-5-1.5-1zM283.5 70.5l-12 8 5.5 2.5 4 .5 5.5-.5 0-7.5-3-3zM390.5 72.5l-5.5 2 .5 2.5 2 2 4-.5 .5-4.5-1.5-1.5zM233 79l-3 1.5-1.5 4.5-5 9 4.5-1 6-7.5 7-5-8-1.5zM45 80l-14.5 5.5-8.5 5 22.5 .5 14 3 3.5-.5 2-11.5-18.5-2zM164 86.5l-5.5 2.5-1.5 1.5 8 0-.5-4zM187 88l1 17-1 5.5 12-3 9.5-4-8-1-5.5-3-5-5-3-6.5zM333 88.5l-2 2.5 1 7.5 5-1 6-3-10-6zM104.5 92l.5 4.5 1-4.5-1.5 0zM309 94.5l-2.5 1-2 2 3.5 2 5.5 .5-1.5-5-3-.5zM580.5 94.5l-2.5 9.5-6 8.5 0 2.5 1.5 1 5.5-.5 3.5-4 2-5.5 7.5-3.5 .5-1-.5-1.5-6.5-2.5-5-3zM500.5 105.5l-27 7-1.5 2.5 .5 5 4 4 4 2 7.5 0 2.5 1.5 2 5 1 8 2.5 0 1-1 2.5-18 2-4 3.5-4-2.5-7-1.5-1zM422.5 130l-3 2.5 3.5-.5 1-2-1.5 0zM520 133.5l-1 14.5 3.5 2.5 4 1 5.5-1.5-7.5-15-4.5-1.5zM62 138l-5 8.5 .5 1.5 1.5 .5 1-.5 1-3 1-7zM408.5 140.5l-2.5 5.5 4.5-1.5-.5-3-1.5-1zM722.5 141.5l-2.5 1 5 1.5-.5-2-2-.5zM584.5 143l-4.5 3.5-2.5 3.5 3.5 2.5 4.5 1 2-3.5-3-7zM159.5 144.5l-1 14 4.5 .5 7.5-2.5-1.5-4.5-9.5-7.5zM308.5 153.5l.5 1 0-1.5zM364.5 155.5l-8 4-8 2.5-8.5 .5-3.5 2.5-2-.5-2.5-3-9-4-5 3.5-2.5 7 4.5 1 12 0 11-1.5 8-2 22.5-9-9-1zM375.5 155.5l1.5 0-1 0zM161 181l-1 3.5 1 1.5 5-5-5 0zM259 190l4.5 3.5 8-1 2-1-4-1-10.5-.5zM341.5 190l-24 1 15.5 2 8.5 0 1-1.5-1-1.5zM313 190.5l1 .5-1-.5zM600 204l-.5 2 1 1 .5-2-.5-1.5z"/>
<path fill="#0091ff" d="M.5 0l38.5 0 0 3 5 1.5 13.5-3 .5-1.5 20.5 0 5 14.5 7-3.5 7.5-2 7 0 10.5 2.5-8-5.5-2.5-6 35 0 8 3.5 6-3.5 233.5 0-2 11 .5 9 7.5-7.5 15.5-5 .5-2-1-5.5 189 0 1 2 2.5 1 2-.5 1-2.5 162.5 0 0 211.5-93.5 0-1.5-3.5-2.5-1.5-2.5 1.5-1 3.5-35.5 0-4.5-4.5-.5 4.5-23 0 0-8-1-1.5-2 3-1.5 6.5-375.5 0 2-12.5 3.5-12.5 5-8.5 5.5-5 5-2 12-2.5 28.5 2.5-7.5-6.5-2-5-.5-4.5-8.5-.5-21.5 1.5-12 6.5-8 2.5-10 1.5-15 4.5-11 2-20 6-9.5 1 1 9.5 7-6 5-3 4-1 13.5 0 12 16 3 8 1.5 8-19.5 0-3-9-4.5-4-4 4-5 9-26 0 .5-7.5-2-2-3.5-.5-2 .5-1.5 2 1 7.5-63 0-1.5-2.5-3-2-4 4.5-64 0 0-88.5 4-2.5-4 .5 0-20 14-6.5 12.5-3 18 .5 7 1.5 9.5 3 2-.5 3-15-21-2.5-15 5.5-25.5 13-4.5 1.5 0-20.5 20-10-14.5-4-3-1.5-2.5-3.5 0-59zM654 12.5l-16 1.5-8.5 3-1 1.5 2.5 5.5-1 2.5-2.5-1.5-3-6-30.5 12-12 8.5-11.5 9.5-3.5 4.5-1.5 5.5 1 16 1 6 3 8 1 1 3.5 1.5 1 3-2 13.5-1.5 2.5-4.5 2.5 0 4 1.5 2.5 2.5 .5 6.5-.5 4-5.5 7-3.5 3.5-3-.5-9-9.5-4.5-2-3-1-4 1.5-4 13-24.5 8-7.5 9-5.5 7.5-4 14.5-4 10-6.5 4.5-3.5 4-5 6-9.5-4-.5zM303 17l1.5 2 1-.5-2-1.5zM325 20l-3.5 9-5 5.5-3 2-8 2.5 2.5 11.5-.5 23.5 8 0 3-1 1-18.5-.5-1.5-3.5 .5-.5-2 6-15 3-3 3.5-.5 5 1.5 6 2.5 2.5 2 1 2-.5 2-4.5 4 2.5 4 3.5 7.5 4.5-9.5 5.5-5 3.5-2 9-.5 13.5 4.5 1-.5 1-5-3-9 1.5-3.5 3.5-3.5-10.5 1-12 5.5-14 1.5-6-1.5-5.5-3-10-8zM275 28l-2 14.5 1.5 8 3.5-2 4.5-6.5 5.5-12.5-1.5-1-11.5-.5zM102.5 29l-1 1.5-3 0 3 9.5-1 12-3 7-7 9 7 6 3 5.5 2 6.5 1 13.5 2 2 4-14-4-3.5 .5-4.5 2-1.5 5.5 2 10-11.5-3-8.5-1-14.5 1.5-5 3-5.5-1-1-20-5zM148 34.5l-1 1 11 9.5 2.5 5.5 0 5-1.5 3.5-2 3.5-6 6.5 2.5 12.5 1 11.5 12-1 0-9.5-.5-.5-4.5 1-2.5-1.5-1-3.5 1-4.5 2-3 2-1 1.5 1 2 3.5 2-6 3.5-6 6-5.5 4-2 9 0 4 1 3 2 6 8 2 5.5 1.5 8.5 5-11.5 4.5-4.5 3.5-2 9-2.5 9-.5 16 4 10.5-4.5 3.5-3-6.5 1-9.5-.5-13 2.5-8-4.5-1.5-3 .5-3.5-2.5-1-2.5-.5-6.5 2-6 .5-7-1.5-6-3-10.5 1.5-9.5-3.5-22.5-1.5-3-1.5-3-4-3 0zM447.5 36l-3 2.5-.5 4 4.5 2.5 5 0 2.5-3.5-1-4-2.5-1.5-4.5 0zM81 41.5l-12.5 5.5-6.5 4.5-8 8.5 9 1.5 8-2 7.5-6.5 2.5-4 1.5-5.5-1-2zM422.5 45.5l-4 7 3.5 2.5 .5-9.5zM442 49l0 9.5 1-4.5-1-5.5zM422 59l-6.5 3-2.5 2-4.5 11.5 6.5-1.5 8.5-4.5-1.5-10.5zM362.5 61l-1 3.5 1.5 2.5 4.5 4.5 7.5 5.5 4 5 17.5-3.5-2.5-8.5-8 2-5 0-11.5-9-6.5-2zM287.5 65.5l-11 8-12 6 16.5 3.5 6.5-.5 .5-4-.5-13zM186.5 74.5l-1 9.5 1 22-2 5.5 .5 .5 11-2 8.5-4 7-2.5 11-6.5 6-1 7-10 11-6-12.5-2.5-5.5 1-5 11.5-7 8-7 3-7 .5-6.5-3-5-5.5-2.5-9-1-8.5-1-1zM333 86.5l-6.5 5 2.5 7.5 7-.5 8.5-2.5 13 0-13-3-6.5-3-5-3.5zM309 93l-3 1-4.5 3.5 6 3 9.5 1-3-8-4.5-.5zM129 99.5l.5 1 1-1-1 0zM694 100l-.5 2 2 2 2.5 0 2.5-1-3.5-3-3 0zM83 101l-1 7.5 4 2.5-1.5-8.5-1.5-2zM621.5 103l-1.5 .5 .5 2 1.5-2-.5-.5zM501 105l-30 7.5-1.5 2 0 5 2 4 7.5 6.5 6.5 2 2 1.5 1.5 4 0 5.5 7-1 2.5-1.5 2.5-18.5 5-7.5-3.5-9-1.5-.5zM164 111l-1 1 3.5 1.5 2 2.5 4-2-3-2.5-5.5-.5zM88 113l1.5 6.5 1.5 3 8 1 4.5-.5-15.5-10zM123 113.5l-8.5 8.5 5 2 5-4.5-1.5-6zM670.5 116l-2.5 2 4-2-1.5 0zM444.5 120l-3.5 2-2 3 0 13 5 .5 2-3 6-3 2-3 0-3.5-2-3-3.5-3-3.5 0zM615.5 123l-.5 1.5 1 .5 1-1-1-1.5zM428.5 126.5l-9.5 4.5-9.5 6-3 4.5-3 7.5 12.5-4.5 2-5 10-5 2-5 0-2.5-1.5-.5zM585.5 130.5l-3 7.5-10.5 11 9 5 10.5 3-6-18 .5-3.5 2-5-2.5 0zM519.5 131.5l-1 2-2 16.5 11 2 6.5-1 .5-1-4.5-7-4.5-9-5.5-2.5zM179.5 132.5l-.5 .5 1 .5-.5-1zM62 135l-3.5 5-3.5 9 4 3.5 2-2.5 2.5-9.5 .5-4.5-1.5-1.5zM139 138.5l-3.5 6-.5 3.5 2.5 6 1.5-10 0-6zM159 139l-2 14.5 0 6 2.5 1 3.5 0 12.5-4 0-3.5-10-5-4-4.5-2.5-4.5zM722.5 140l-6 1.5-3 2 7.5 1 5.5 2.5-1.5-6-1-1-1.5 0zM14.5 148.5l-9.5 1.5 7 6 3.5 0 2.5 1.5 3 3.5 1 3.5 3.5-.5 6-8.5 .5-4.5-2-1.5-5-1-10 0zM307.5 150l-2 11 6 2 .5 2.5-.5 4 1 .5 20.5 .5 10-1.5 8.5-2 27.5-10.5-2.5-2-11 .5-17 5.5-13 .5-6.5-2.5-7-4-6 0-3.5-3.5-5-1zM660.5 168.5l.5 2.5 3.5-1-4-1.5zM254.5 188l-6.5 1.5-3 4 6-1.5 6 0 6.5 3 15-2-.5-3-23-2zM341.5 188.5l-5.5 1-26.5-.5-2 .5-1 2.5 22.5 2 13 0 1-.5 0-3-.5-2-1 0zM297.5 190l2.5 2 1.5-2-3.5 0zM586.5 51.5l3 0 3 1.5 1.5 2.5 0 2-3.5 .5-3.5-1.5-2-3 1.5-2zM313 64l1.5 0 1 2-1 2.5-1.5 1-1.5-1-.5-2 2-2.5z"/>
<path fill="#00a9ff" d="M.5 0l31.5 0 6.5 3.5 5 1 14.5-2.5 1.5-2 18.5 0 5 16 9-4.5 12-1 27 6.5 1.5 0-5-3-5.5-1-7-3-5-3-2.5-3-1-4 31 0 10.5 4.5 8-4.5 154.5 0 7 4.5 4.5 4-3.5-8.5 67.5 0-1 19-1.5 3.5-3 1.5-10 1.5-10 4.5-13 1-7-1.5-8-4.5-8.5-9.5-.5 7-4 7.5-5.5 5-9 2.5-1 1 2.5 12-.5 24 2 1 7.5-.5 3.5-1 2-21.5 3-4 4-2.5 5 .5 4.5 3.5 5.5 12.5 5-12.5 3.5-3.5 5.5-3.5 7.5 0 6.5 1 11 5 3-7-1-13 3-8.5 5.5-6 4.5-2.5 6.5-1.5 10 0-1.5-10.5 184 0 2 3 3 1.5 3-1.5 1-3 161.5 0 0 211.5-92.5 0-1.5-4.5-3.5-2.5-3 2-1.5 5-32.5 0-7-6.5-1 1-.5 5.5-20.5 0-.5-9-1.5-1.5-2.5 4.5-1.5 6-373.5 0 1.5-12 3.5-13 5-8 3.5-3.5 4.5-2.5 14.5-2.5 23 2 25.5-1 29 .5 17-3 31.5-12-5-2.5-10.5 .5-6.5 1-12 4-12 0-7.5-2.5-6.5-4.5-15-3-1.5 .5 0 6.5-3.5 8.5-5 3.5-4.5 1.5-6 0-6.5-3-4-5-1.5-7.5-30 1-3 .5-11 5.5-7.5 2.5-9.5 1.5-15 4.5-11 2-20.5 6-11.5 .5 1 17 9.5-10.5 7.5-4 10.5 .5 8 4.5 7.5 10 3 8 1 7.5-16.5 0-4-10-2-2.5-3.5-1.5-4.5 4.5-5.5 9.5-21 0 2.5-7.5-.5-2-5-2.5-9-2-3 .5-1.5 2.5 .5 11-23 0-3.5-8-.5 1.5 1 6.5-28.5 0-2-3.5-6-3.5-5.5 7-62.5 0 0-61.5 6.5 2 7 9 10 5 3-1 3.5-4.5 3-5 2.5-9-.5-1-10-1.5-12 3.5-13 1.5 0-17 9.5-1 11-4.5-11 0-1.5-1 2-4 6.5-5.5-.5-.5-6 1-10 3 0-17.5 14.5-6.5 12-2.5 18 .5 7 1 9.5 3 3-.5 .5-.5 .5-7 2.5-10-22.5-2-15.5 5.5-26 13.5-3.5 .5 0-17.5 23.5-12-8.5-1-9-2.5-3-1.5-3-4.5 0-58zM658.5 11l-21 1.5-37.5 14.5-11 6-19.5 15.5-2.5 3.5-1.5 5 0 13.5 1.5 10 5.5 14.5 1.5 11-1.5 4-5.5 2.5 0 3-1.5 4.5 1 4 2.5 1 8-1 3.5 1.5 0-6 2-4 4-2.5 8-2.5-1.5-12.5-9-4.5-2-2.5-.5-3.5 1-4.5 13-23.5 7.5-7.5 9-5.5 7.5-4 14.5-4 10-6.5 5-4 5.5-7 6-9.5-2-.5zM169 12l-6 4 8.5 0-2.5-4zM299 14l5 6 2 0 1-2-.5-1-7.5-3zM232 18l2.5 10.5 6.5 .5-1-8.5-8-2.5zM273 26l-2 7.5-2 15-1.5 2-3.5 1-8.5-1.5-13 1.5-2-1.5 0-3-4.5-1-10.5-1-7 1.5-6 0-12.5-4-41-2.5-4-1.5-4-5-8 .5 13 10.5 3 5.5 0 5.5-1.5 4-7.5 9 2.5 13.5 .5 12.5 14.5-1.5 .5-16 1.5-8.5 2.5-5 3.5-3.5 7-4.5 7 0 4 .5 3 1.5 3 3 3 4 2.5 6 1.5 11.5 3-3.5 4-10 4.5-4.5 3-1.5 8.5-2.5 7.5 0 17.5 3.5 12-5 8-5.5 6.5-6.5 4-7 4.5-10-1-1.5-1.5-.5-13.5-1.5zM100.5 27l-4.5 1.5 3 6.5 1 4.5-.5 12-3 7-8 10 5.5 3.5 4 5 2.5 6 2 17 4 4 2-11.5 4-8 8-11.5 4.5-4-3.5-9-.5-14.5 1.5-5.5 3.5-5.5-3-1.5-22-6zM404 27.5l-1.5 .5-.5 1.5 3 .5 3.5-1.5-1.5-1.5-2.5 .5zM447 33l-3 1-2 7.5-1.5 8.5 0 9.5 .5 2 4.5-3 2-3.5 .5-4 4-2.5 5-7.5-1-5.5-1.5-2-7.5-.5zM425 35l-6 14-9 12.5-3.5 10-3.5 4.5-2 0-1.5-1-2.5-6.5-11 2.5-4 0-3-1.5-9-7.5-3.5-1.5-4.5-.5-1.5 4 .5 2 5.5 6.5 8 5.5 4 5 19-4 20-6 7-4-.5-22 2-12-1 0zM80.5 40.5l-12.5 5.5-6.5 4.5-10.5 10 11.5 2.5 9-2.5 8-7 2.5-4 1.5-6.5-.5-2.5-2 0zM394 45.5l1.5 4.5 4-3-5-1.5zM137.5 51.5l1 4 2-2.5-3-2zM289 62.5l-13 10-12.5 5.5-2 2 20.5 4.5 7-1.5 .5-19.5-.5-1zM186.5 72.5l-1.5 2-.5 6 .5 26-1 3.5-3 3 .5 .5 12-1.5 11-6 8-2 10.5-6 6.5-.5 3-6.5 4-4.5 4.5-3 9-3-4-2-11.5-2-6.5 1-5.5 12-6.5 7-6.5 3.5-7 0-6-2.5-4.5-5-2.5-8.5-1-9-1-2.5-1 0zM332.5 85l-3 3-4 2-6 2-9.5 0-4 .5-7 5 8 4 8.5 1.5 6-2-2-4 1.5-2.5 3 1.5 .5 4 1 0 20-3 18.5-.5-3.5-1.5-15.5-3-7-3-5-4.5zM83.5 86.5l-2 7-1 13.5-2 5 5 4 2.5 8 16 1 7 2 3 1.5 6 7 1.5-7.5 1.5-4 2.5-2.5 5-2-1.5-10 2.5-3 1.5-5.5 3.5-3.5 .5-2.5-4.5 3-5.5 0-2.5 12.5-5.5 7.5-6 3-8 0-6-3-9.5-8.5-2.5-14-.5-5.5-1-3.5zM693 99.5l-4.5 3 .5 2 2 2 5.5 1.5 6-2.5-.5-2.5-4-3-5-.5zM622 102l-3 1.5-.5 5.5 8.5-1-.5-6-4.5 0zM500 105l-17.5 5-12.5 2-5 5 .5 5.5 6.5 6.5 4.5 8 5 4-1 5 9-1.5 10-3 2.5-19 4.5-7-4-10.5-2.5 0zM162.5 110l-1.5 1-1 4.5 3.5 2 2 2.5 10.5-6-6-3.5-7.5-.5zM34.5 114l-1 .5 1 2 2.5-2-2-.5zM671 114.5l-9.5 7 4.5-1 7.5-4.5-1-2-1.5 .5zM445.5 117.5l-24.5 12-11 6.5-3 4-5 10 8.5-2 18-8.5 13 .5 14.5 1.5-2-3.5 5-11-1.5-9-11.5-.5zM615 121l-1 3.5 .5 5 5.5 2 .5-2.5-1-4-2-3-2.5-1zM581 126l0 5.5-3 6-4.5 5.5-5 2-4-1-3.5-3.5-.5-3 1-6.5-1-2-9.5-.5-7 2 5.5 10 7.5 4.5 11.5 4 12.5 6 12.5 3.5-6-16-.5-5 1.5-5 5-3.5-7 0-5.5-3zM159 130l-3 23 .5 7.5 3 1 4 0 20-6 12.5-2.5-19-1.5-10-3.5-6-7.5-2-10.5zM519 130.5l-1.5 1-1.5 14-1.5 5 15 2 6.5-1-9.5-18.5-4-2-3.5-.5zM178.5 131.5l-1.5 2 4 1.5-1-3.5-1 0zM62 133.5l-4.5 6-5 11.5 2.5 8.5 5.5-6.5 3-7.5 1.5-9.5-1.5-2.5-1.5 0zM140.5 133.5l-6 10.5-.5 3.5 0 2.5 4 8.5 2-14.5 1-9.5-.5-1zM722 139l-6 1.5-8.5 4 13 1 6 3 1-2-2-6.5-1-1.5-2.5 .5zM648.5 144.5l0 1.5 2.5 0-2-2zM662.5 149l7 3.5 3.5 1 .5-.5-1.5-4-9 0zM436.5 156.5l-6 1.5 8.5-1.5-2 0zM659 167l0 4 1 2 7.5-3-8.5-3zM113 169l-2.5 2.5 1.5-.5 1-2zM595 182l1 1-.5-1.5zM254 187l-7.5 2-2.5 3.5-1 4.5 4-2.5 4.5-1 6.5 0 5 2.5 15.5-1.5 3-.5 2.5-4.5-24-2.5-6 0zM341 187.5l-5.5 .5-33.5 0-8.5 .5-2.5 1 3 5.5 1 .5 10.5-1.5 19 .5 18 0 1-1-.5-5.5-2-.5zM672 189.5l-2 1-1 2.5 1.5 2.5 2 .5 2.5-1 1-2.5-1.5-2.5-2.5-.5zM326 36.5l3-.5 3 1.5 1.5 2-.5 2.5-4 2-4-.5-1.5-3.5 2.5-3.5zM304.5 167l1 .5-.5 1.5-1-1 .5-1z"/>
<path fill="#00c1ff" d="M.5 0l31 0 4 2.5 8 2.5 16-3 .5-2 17 0 6 17.5 9-5 11.5-1.5 28 7 5.5-.5-9.5-4.5-5.5-1-7-3-6-4-2-5 28.5 0 12.5 5.5 9.5-5.5 114.5 0 0 .5 1-.5 35 0 6.5 3.5 5.5 5 2.5 5 .5 6.5-3 8-5 5.5-4.5 2-6.5 1-1 1.5 3 12.5-1 19.5 .5 6.5 10-.5 4.5-1 2-22 2-3.5 4-2.5 5 .5 4.5 4 6.5 18.5 3.5 5.5-3.5-8 1-7 3.5-9.5 7-6 3-1 5-.5 7.5 1.5 6 2.5 8.5 6.5 2.5-1 .5-2.5 1.5 2 2 0 6-2.5 3.5-4-8-2.5-5.5-4.5-2.5-8 .5-6 4-7 7-5 6-1.5 6.5-.5 6 2-2.5-13 182 0 2 3.5 4 2 3.5-1.5 1.5-4 116 0 0 6 2.5 2.5 0-8.5 2.5 0 1 3.5 2 1.5 1.5-1.5-1.5-3.5 36.5 0 0 118-15 3.5-3 2 0 4 1.5 0 9-2.5 7.5-3.5 0 90-59 0-.5-2-2-1-2 .5-1 2.5-27 0-3.5-10.5 5.5-4.5 1-4-2-4-4-1.5-3.5 1-2 3-.5 3.5 2 5.5-3.5 5.5-1 6-30 0-9.5-8.5-1 2 0 6.5-15 0-2.5-10-4-1.5-2 2-3 9.5-372.5 0 2-12 3.5-12.5 4.5-8 7.5-5.5 14.5-3 23 2.5 20.5-1 34 .5 17-3 36-14-6 0-3.5-2-9 .5-8 1-12.5 3.5-11.5 .5-6.5-2.5-6.5-4-16.5-3.5-2 1 0 6-3.5 8-4.5 4-4.5 1-5 0-6.5-2.5-3-4-1.5-4-.5-4-1-.5-33.5 1.5-10.5 5-7.5 2.5-9.5 1.5-15.5 4.5-11 2-20.5 6-12 0-6-2.5-7-6.5-3.5 .5-2.5 7.5-3 4 14.5-2 4 1 2 2 1 3-.5 7.5-2.5 4-3.5 2-4.5-.5-10.5-3.5-4.5 1-2 2-1.5 3.5 0 11.5-16 0-5-12.5-2 1 0 1 2 10.5-23 0-.5-3-1.5-2-10-4.5-7.5 9.5-61 0 0-60.5 3.5 .5 3 2 6.5 8 4.5 1.5 6 3.5 2.5 0 5-5.5 2.5-4.5 3-8.5 8-18-12 9.5-12 5-8 2-12.5 1.5 0-15.5 9.5-.5 10-3.5 12.5-8 7-7-7-.5-13.5 1-9 1.5-9.5 3.5 0-16 14.5-6.5 12-3 18 1 6.5 1 10 3 4-.5 1-8.5 3.5-11-11 0-14-2-15.5 6-25.5 13-3.5 1 0-16 28.5-14.5-10.5 1-9.5-2.5-5-2-3.5-5.5 0-57zM169.5 10l-8.5 5.5-1 1.5 14 .5-4-7.5zM658.5 10l-21 1.5-37.5 14.5-12 6.5-19 15-2.5 4-1 4-.5 13.5 1.5 10.5 6 17.5 1.5 10-2.5 3-5 2-.5 5-6 6.5-6 2-6 3.5-5 .5 1 4.5 5.5 7.5 8 5 11 3.5 10.5 5.5 16.5 5-8-22.5 1.5-4.5 2-2 3.5-1.5 0-2-1-.5-5.5 1-3-1-3-3-1-3.5 1-3.5 2.5-2.5 11.5-4-2-4-.5-10-7-3-2.5-2-1.5-3.5 .5-4 13-24 6.5-7 16-9.5 16-4.5 10-6.5 5.5-4.5 5.5-7 6.5-11-3-.5zM286 10.5l-1 1 5.5 0 5.5 2 8 7.5 2 0 1.5-1 0-3-5-3-10-3-6.5-.5zM230.5 17l3 12 8.5 1 0-10.5-11.5-2.5zM209 18.5l-1 2 1 2.5 2.5-4-2.5-.5zM270.5 24.5l-2.5 4-3.5 .5-1 3.5 0 2.5 3 2 2 3.5 .5 3-1 2.5-3.5 1.5-8-1-6 3-3.5-.5-7.5-3.5-14.5-1-12.5 1.5-11.5-3.5-42-3-4-1.5-4.5-5.5-16.5 .5 7 1.5 7 4 8 7 2 4 0 6-1.5 4-8 8.5 3 14 .5 14 16.5-2 0-17 1.5-8 4.5-7 5-4 3-1.5 7-.5 4 1 5.5 4 2.5 4 2.5 5.5 2 13.5 4-5 4.5-10 4-4 3-2 8.5-2 7-.5 17.5 4 13-5.5 7.5-5.5 7-7 4-7 4.5-10.5-1-1.5-2-1-10-1-6.5-1.5zM100.5 26l-6 2 3.5 7 1 4.5-.5 12-3 6.5-4 6-5.5 5 6.5 3 4.5 4.5 2.5 6.5 2 17.5 5.5 5 1-2 1.5-10.5 3.5-8 8-11.5 3-2.5 3.5-1.5-3-4-2-5.5-1-15 3-7 4.5-4.5-28-7.5zM405.5 26l-3.5 1-1.5 2 .5 1.5 4 .5 4-1 1-2.5-4-1.5zM444.5 30.5l-1.5 2.5-3.5 16 .5 13 3-1 3-2.5 12-18.5-1.5-4.5-4-4.5-7.5-.5zM425 33.5l-1 1-5.5 13.5-4.5 7-6 6.5-5.5 3.5-16.5 5-3 0-3.5-1.5-9-7.5-8.5-2.5-2.5 5 .5 3 6 6.5 9 6.5 2.5 5 5-2.5 14.5-2.5 15-4 10.5-4.5 3-2.5-1-22 2.5-12.5 0-1-1.5 .5zM80.5 39.5l-7.5 2.5-6 3.5-6 4.5-13 11.5 15 2 9-2.5 8-7 4-6 .5-4.5-.5-3.5-3-.5zM741.5 43.5l1 2.5-1-3zM136.5 49.5l.5 6.5 1 1 4-4-2-2-3.5-1.5zM290 60l-5.5 5-9 6.5-13 6-3 3 22.5 5 8-2 1-23.5-1 0zM186 71.5l-1.5 2.5-1 6 1 25-1.5 4.5-2.5 2.5-3 1-3.5-1-4-2.5-6.5-.5-3.5 1-1.5 7-4 39.5 1 4.5 3 1.5 5 0 20-6 11-2 6-2-3.5-1-10 .5-10-1.5-7.5-2.5-3.5-2-4.5-6.5-1-8.5 2.5-6.5 4.5-4.5 5-3 5.5-2 15-2 12-6.5 8.5-2 10-6 6.5 0 3.5-7 3.5-4 4.5-3 10-3 1-1-6-3-8-1.5-5-.5-6 1.5-1.5 1-2 6.5-2.5 4.5-6 7-6.5 3-6.5 0-5.5-2.5-4.5-4.5-2-8-1-9.5-1.5-3-1.5 0zM333 83l-3.5 4-4 2-6.5 1.5-9.5 .5-4 1-9.5 6 10.5 4.5 5.5 1 33-6 21.5-1-4-2-17.5-3.5-6.5-3-5.5-5.5zM83 85l-2.5 8 0 9-1.5 7-3.5 3-7 2-2 1.5 13 11 16-1.5 7 1 6 2 6 4.5 4 6.5 1.5-9 1.5-5 3-3 4-1 2.5-4 0-13 1.5-3 3-3 1.5-8.5-5.5 7-3 1-4.5-.5-2 13-5 7-5.5 3-7.5 .5-6-3-10-8.5-3-22.5-1-2-1 .5zM693 99l-7 3.5 2.5 7.5 6.5-.5 5 1.5 3-1.5 1.5-3.5-1-2-6-4.5-4-.5zM622.5 101.5l-4.5 2-.5 6.5 10.5-1.5-.5-6.5-5-.5zM500.5 104.5l-18.5 5-13 2.5-3.5 3-2.5 1-13.5 .5-8 2-32 17.5-2.5 3.5-6.5 11.5 3.5 0 23-8.5 7.5-2 7 0 10.5 2 26.5 5 21-4.5 1-1.5 2.5-19 4-6.5-4-11-2-.5zM641 109.5l0 1 5 3 1 0 0-1.5-5.5-2.5zM671 113.5l-12 9 6-1 9.5-5.5-1.5-3-2 .5zM717.5 115l-2 4 0 1 6.5 2 6 0-10-7zM614.5 120l-1.5 6 4 13.5 4-4.5 1-5.5-3-7.5-2-1.5-2.5-.5zM142 129l-8.5 15-.5 3.5 0 3 5.5 11.5 1.5-1-.5-6 2.5-20.5 0-6zM519 129.5l-2 1-2 14.5-1.5 6 17 2 7.5-1-6.5-10-4.5-9.5-7.5-3zM178.5 130.5l-2.5 2 0 2 6 1.5-2-5.5-1.5 0zM62 132l-5.5 7.5-9.5 24-3.5 6-6.5 7 2.5 6.5 2.5 2.5 1-1 2.5-9.5 3.5-4.5 3.5-1.5 3-7.5 7.5-10.5 3-15-1.5-2.5-2.5-1.5zM724.5 137.5l-8.5 2-12 4.5-.5 1 1 .5 13.5 .5 4 1 4.5 2.5 2-3.5-2.5-6.5-1.5-2zM92 140l-11.5 2-4 14.5-3 6-5 6.5 0 3 4.5 0 4-1.5 6-4 3-4 .5-1.5-3-5-1-3.5 1-5.5 2.5-3 2-.5 2.5 1 7 7 3 .5 2.5-1 1-4-1-5-4-1.5-6.5-.5zM647.5 141l-.5 6.5 4.5 0 6.5 1 14.5 6 1.5 0-1-6.5-16-.5-5.5-4.5-4-2zM436.5 155.5l-5 1-8.5 3.5 20-3.5-6-1zM116.5 161l-4.5 5-10.5 8-.5 2 7.5 1 7-8.5 2-6-.5-2zM658 165.5l-1 5.5 1.5 3 13-4-13.5-4.5zM721.5 170l-2 2 2.5 1.5 1 2 0-5.5-1.5 0zM707.5 176l-2 1 2 1.5 1-2-1-.5zM52 181l-2.5 4.5 3.5 5.5 .5-8-.5-2-1 0zM594.5 181l2 3.5-.5-3.5-1.5 0zM630.5 184.5l2 4 0-4.5-2 .5zM254 186l-7 1.5-2 2-3 6-1 7 5-6 5.5-2.5 6 .5 5.5 2.5 18-2 7 0 6 1.5 11-2 19 1 19-1 .5-1 0-6-1-1-6.5 1-34-.5-25.5 1-22-2zM635.5 192.5l2 2 0-1.5-1.5-.5zM322.5 0l63 0-1 20.5-3.5 3-12.5 2-8.5 3.5-8.5 1.5-9-1-9-5-6.5-6.5-3-6.5-2-11.5zM463.5 130l3.5 0 2.5 3 .5 5-2 2.5-5 0-3.5-2.5 .5-4 3.5-4zM570.5 131.5l3 1 .5 3.5-2.5 3.5-3.5 .5-2-1.5 0-3 1.5-2.5 3-1.5zM173.5 182l6-.5 4.5 1 9 5.5 5.5 8.5 3 7.5 1.5 7.5-15.5 0-.5-4-3-6.5-3-3-3.5-1.5-2 1-3.5 4-5.5 10-16.5 0 .5-3 10-16.5 6.5-6.5 6.5-3.5z"/>
<path fill="#03fffc" d="M.5 0l30 0 4 2.5 9 2.5 16.5-2.5 1-2.5 15.5 0 4.5 12.5 1.5 6.5 9.5-5.5 11-1.5 28.5 7 9.5-.5-11.5-5.5-14-4.5-5.5-4-2-4.5 26 0 14 6.5 11-6.5 112 0 .5 2.5 3-2.5 32 0 7.5 4 5.5 5 2.5 4.5 0 6.5-2.5 7.5-5 5-4.5 2.5-6.5 1-1 2 2.5 13-.5 26 11 0 5-1.5 2.5-22.5 3-4 4-1.5 3.5 1 3.5 3.5 8.5 23 1 1.5 3.5 1-5-10 .5-6.5 3.5-9.5 6.5-6 3-1 5 0 7.5 1.5 5.5 2 9 7 8.5-2 4.5-2.5 4-3.5 .5-1.5-8.5-2-5.5-5-3-7 0-4 2-5.5 2.5-3 3.5-3.5 4-2 5.5-1.5 7 0 8 3.5-2.5-5-2-10.5 15.5 0 1 2.5 2.5 1.5 2-1 1-3 157.5 0 3.5 4.5 4.5 1.5 3.5-1.5 2-4.5 113 0-.5 8 1.5 1.5 3.5 1 1.5-5 3.5 1.5 2.5-.5 0-6.5 34.5 0 0 117.5-30.5 7.5 6.5 6.5 13.5-5 10.5-2 0 87-58 0-1-4.5-2.5-1-3.5 1.5-1.5 4-24 0-1.5-9 5-6 .5-3.5-2-5.5-4-2.5-8.5 2.5-1.5 3-1 3.5 1 7-1.5 10.5-28 0-12-11.5-1 4 .5 7.5-13 0-1.5-10-2-1.5-4-1-2.5 3.5-3 9-169.5 0-.5-2-2 2-199 0 1.5-12 3.5-12.5 5-7.5 7-5 14-3 23 2.5 20.5-1 34.5 .5 17.5-3.5 41.5-16-11 1.5-5-2-10 .5-8.5 1-11 3-11 0-6-1.5-7.5-4.5-11-2.5-7-.5-1.5 .5 .5 5-1 4-3 5.5-4 3.5-5.5 1-6-1-5-3-2-4-1.5-6.5-35 1-11 5-7.5 2.5-9 1-15.5 5-11 1.5-20 6.5-11 0-6.5-2-3-2.5-3-3-2-4-1-9.5 3-26.5-.5-3.5-8 13.5-3 8 0 3.5 3.5 6.5 1.5 5.5-2 12.5-3 4-3 .5-3.5-.5-2.5 2.5-1.5 3.5 3.5 1.5 .5 1.5-3 3.5-4 2.5 0 4.5 4.5 13-13.5 0-2.5-5.5-3-10.5-4 1-.5 1 3 14-17.5 0 2-7.5-3.5-14-1-9.5-2.5-2.5 0-2.5 3-3.5 2-6.5 3.5-4.5 5.5-4.5 5.5-2 4-2.5 1.5-3-.5-6-1.5-2-4-1.5-6-.5-13 2-4 15-3 6-5 6.5-1 3 1 11 4 .5 3 3.5 1.5 5-.5 5.5-1 2-1.5 1-5.5-1-4 8-4.5 4.5-59.5 0 0-59.5 6 2 6 7.5 5.5 1.5 6.5 4.5 2.5-.5 5-5.5 2.5-4.5 9.5-23.5 6-9.5-17 13.5-8 4.5-11.5 4-13 1 0-13.5 10-.5 14.5-6 12-9.5 4.5-5-9.5-.5-13 1-9 1.5-9.5 3.5 0-14 15-6.5 11.5-3 18 .5 6.5 1 10 3.5 5-.5 .5-9.5 4.5-12-12.5 0-14-2-15.5 6-26 13.5-3 .5 0-14 33.5-16.5-13 1.5-5 0-10-3-3.5-3.5-2-4 0-56zM185 7l1.5 3.5 2 2-.5-2-3-3.5zM170.5 8.5l-13.5 9 18 .5-4.5-9.5zM662 9l-24.5 2-38 14.5-11.5 6-19.5 15.5-2 3.5-1.5 7.5 0 12 1 9.5 6 17 1.5 10.5-2 3-5.5 2 .5 4-2.5 2.5-14.5 9.5-7.5 1.5 1.5 5 5 7.5 9 5.5 10.5 3 12.5 6.5 16 5 .5-1.5-7.5-18.5-1-4 1.5-4.5 5-3-.5-3.5-6 .5-3-.5-2.5-2.5-1-3.5 .5-3 2.5-2.5 12.5-4-3-4-1-11.5-8.5-4-2-3.5 .5-3.5 13-24 6.5-7 16-9.5 16-4.5 10-6.5 5.5-4.5 5.5-7 8-12.5-1.5-.5zM284.5 10l-2.5 1.5 12.5 2 10 8.5 2 0 1.5-1.5 .5-3.5-6-4-10-3-7.5 0zM229 14.5l4 15 9.5 1 .5-11-9-2-5-3zM208.5 18l-1.5 2.5 1 5 8 1.5-2-9-5.5 0zM268 22.5l-4 2.5-1.5 9.5 5 5 1 3.5-1 2.5-3 1.5-8.5-1-6 2.5-11-3.5-15-.5-11.5 .5-11.5-3-42-2.5-4-2-4.5-6-23 1-25.5-7.5-6 1-3 2 5 8.5 .5 5.5-.5 8.5-2.5 6.5-4.5 6-7 7 6 1 6 5.5 3 6.5 2 17.5 4.5 5 2 .5 1.5-2.5 2-12 4.5-9 8-10 6.5-2.5-4.5-4-2.5-6-.5-14.5 1-4.5 2.5-3.5 3.5-2.5 6.5-.5 4.5 1 7 3.5 5.5 5 3 3 1.5 3.5 0 5-1.5 4-8 8.5 3 14.5 0 14.5 9-2 9 0 .5-18 1.5-7.5 3.5-6 7-5.5 9.5-1 4 1.5 3 3 3 3.5 2 6 1 9.5 1.5 4.5 2-1 2.5-3 5-11.5 6.5-5.5 8.5-2.5 7 0 17.5 4 10-4 8.5-5.5 9.5-9 4-6.5 5-11.5-2.5-3-12-1-8.5-3zM445 23l-6.5 26 0 11 1 2.5 4-1.5 3-2.5 12-19-2-5-10-11-1.5-.5zM404.5 25.5l-3.5 1.5-1.5 2.5 .5 1.5 5 1 5-2 1-2-1-1.5-2.5-1.5-2.5 .5zM427 32l-3.5 1.5-4.5 12.5-6 9-5.5 5.5-3.5 2.5-7 3-14 3.5-3-1.5-9.5-8-8.5-2.5-1.5 1.5-1.5 3.5 0 4 6.5 7 9 7 2.5 5.5 4.5-3.5 16.5-3 13-3.5 13-5.5 2-2-.5-21.5 3-14.5-1-.5zM738 37.5l5.5 14.5 1 1 1-2-2-6-3-5.5-2.5-2.5zM79.5 39l-12 5.5-6.5 4.5-10 9-7.5 4 19 2.5 9.5-2.5 9-7.5 3.5-6.5 1-4.5-1-4-1-1-3.5 .5zM665.5 45.5l-.5 2 1 1 1-2-1.5-1zM135.5 48.5l.5 8 1.5 1 3-1.5 2.5-3-2.5-2.5-4.5-2.5zM291 58l-7 6.5-9 6.5-12.5 5.5-5 3.5-2.5 0-8.5-3.5-11.5-2-8.5 2-3 8-4.5 6.5-4.5 4.5-6 3-7.5-.5-3.5-2-3.5-3.5-2.5-6-1.5-13-2-3-2.5 .5-2 2.5-1 6.5 1 24.5-1 4.5-2.5 2.5-3 .5-3-.5-3.5-3-7-.5-4 1.5-2.5 11-3 32.5 1 8.5 4 2 4.5 0 20.5-6.5 11-1.5 8-3-6-2-10 .5-9.5-1-10.5-4.5-4.5-6.5-1-8 2.5-6 4.5-4.5 5-3.5 4.5-1.5 14.5-1.5 11.5-7 10-2 10-5.5 6.5 0 6-10.5 8.5-5 11-3 26 5 8.5-1.5 .5-1 0-16.5 1-8-1-1zM332.5 81.5l-3.5 4.5-4 2.5-6 1.5-9.5 0-4.5 1-5 4-7 3 13 5 5.5 1 33.5-6 22.5-1-1-1.5-3.5-2-14.5-2-7-2.5-3.5-2.5-5-5.5zM83 84l-3.5 9 0 9-1 6.5-4 3-5.5 0-3.5 4 14 12 16.5-1.5 6.5 .5 7 2.5 6.5 7 2.5 8.5 3-18 3-3.5 5-1.5 2.5-4.5 1-3.5-1.5-9 1.5-3 3.5-3 1.5-6.5-.5-5.5-6 9-3 1-5-.5-2.5 13.5-4 6.5-5.5 3-7 .5-6-2.5-9.5-8-1.5-6-1.5-16.5-1.5-2.5-1.5 0zM249.5 96.5l0 .5 1 0 1.5-.5-2 0zM694 98.5l-8.5 3.5 1 6 2 3 7-.5 6 3 3-4 .5-4.5-6.5-5.5-4-1zM623.5 101l-6.5 2.5-.5 7 8-1.5 5 .5-1-3 0-4-2.5-1.5-2.5 0zM501.5 104l-19 5.5-14.5 2.5-5 3.5-11 0-11 3-31 17-3 3.5-5.5 10-3 3 5.5 0 22.5-8.5 8-2 7 0 10.5 1.5 26 5.5 22.5-5 1-1.5 2-19 4-6.5-4.5-12-1.5-.5zM640.5 109l-1.5 2 4 1 3 3 1-.5 1-1.5 0-1-7-3.5zM634.5 112.5l1.5 0-1-.5zM671.5 112.5l-8.5 5.5-5 5 8-.5 9-6 .5-1-1.5-3-2.5 0zM717.5 114l-3.5 6 8 3.5 8-1-12.5-8.5zM614 119l-2 7 3.5 13.5 1.5 1.5 5-5 1-6-3.5-9-2.5-2-3 0zM666 123l-1.5 1.5 .5 1 2-2-.5-.5zM517.5 129l-1.5 1-1.5 15-2 6 19 2.5 7.5-1 0-1-7-10-4.5-9.5-5.5-3-4 0zM178.5 129.5l-3 2.5-.5 2.5 4 2 4 .5-3-7-1-.5zM61.5 131l-5.5 8-6.5 14-2.5 8.5-3.5 6.5-7.5 8.5 4.5 9 5 6 4.5 2.5 3 4 1.5-3.5-.5-27 2-5.5 7.5-10.5 3-10.5 .5-6-5-4.5zM680 131l-2 2 2.5-1 .5-1-1 0zM723 137l-20 6.5-.5 1 1.5 2 16.5 .5 6 3.5 2.5-5-3-8-1-1-2 .5zM645.5 138l-1 1 2 5-1 4.5 6.5-.5 8 2.5 12.5 5 2.5 0 0-5-1.5-3.5-16.5-.5-2.5-1.5-2.5-3.5-6.5-3.5zM118.5 150l-.5 3.5-4.5 8-6 5-7.5 3-2.5 2-1.5 6.5 1 7 10-4 9-12 2.5-6.5 0-13zM435 155l-4.5 1-14 6 30-6-8-1.5-3 .5zM707.5 160l1.5 0-1.5 0zM657 164l-1.5 7.5 .5 2.5 1.5 1 19.5-5-1-1-7.5-1-11.5-4zM723.5 168l-8.5 5 5.5 2 5 11 4.5 5.5-4.5-10.5-2-13zM708.5 174.5l-4.5 2.5 4.5 3 2.5-5.5-2 0zM594.5 180l-1 1 3.5 4.5-.5-4-.5-1.5-1 0zM631 183l-2 1 1.5 3.5 5.5 7 2 1 .5-3-3-2-1.5-2.5 0-5-2.5 0zM255.5 185l-8.5 2-3 2.5-3 6-1.5 7.5 .5 3 5.5-8.5 5.5-2.5 6.5 0 5.5 3 18-2 13 1.5 11-2 18.5 .5 19.5-1 1-1 0-7-1-1.5-7 1-34-.5-25.5 1-20.5-2zM323.5 0l61 0-.5 20-1 2-2 1.5-12.5 1.5-8.5 3.5-8 1-9-1-9-4.5-6.5-6.5-3-6-1-11.5zM144.5 181.5l5 .5 2.5 4-1.5 5.5-4.5 3-7-2-5-3.5-1.5-2 1-1.5 3-2 7.5-2zM175 182.5l8.5 1 9 5.5 5.5 8 3 7.5 1 7-13.5 0-1-4.5-3-6.5-4.5-4-2.5-.5-2.5 1-3.5 4-6 10.5-14.5 0 .5-3 9.5-16 6.5-6.5 7.5-3.5z"/>
<path fill="#1dffe2" d="M.5 0l29.5 0 4 2.5 9.5 3 17.5-3 .5-2.5 12 0 .5 3.5 2-1 3.5 6.5 2 6 .5 5 7-5 10.5-2.5 6 0 25 7 13.5-.5-16-7.5-5-.5-7.5-3.5-5.5-3.5-1.5-4 24 0 15.5 7 12-7 110.5 0 0 4 5-4 29 0 9 4.5 5.5 4.5 2.5 4.5 0 6-3 8-4.5 5-6 2.5-4.5 0-1.5 3 2.5 13-1 26.5 12.5 0 5-1.5 1-3.5 1-19 3-4 4-1.5 3.5 1 3 3.5 6 17.5 3 6 6 3 1-.5-4-5-2.5-5.5-.5-4 4-12 6-5.5 4.5-1.5 10.5 1 6 2.5 9 7.5 8.5-2.5 5-2.5 4-4 1-2.5-9-1.5-5.5-4.5-3-7 0-4 2.5-5.5 5-6 8.5-3.5 9 0 5.5 3 4.5 4.5 2-.5-7-8.5-2-11 13.5 0 2 3.5 3.5 2 2.5-1.5 1-4 155.5 0 4 5 5 2 4-2 2-5 63.5 0 1 1 1-1 45.5 0-1 4-2.5 5 6 3.5 4-.5 1.5-4 6 0 0-8 34 0 0 105-2 1-1 1.5 1 1.5 2 1 0 7-32 7-2-.5-15.5-10-3.5 6 8 4.5 11.5 0 4 2.5 5.5 6 11.5-4.5 12.5-3 0 51.5-2 .5-1 1.5 .5 2 2.5 1 0 30-57.5 0-1-6-3.5-1-4 2-2.5 5-21 0-.5-8 4.5-6 1-4-3-9-3.5-1-11.5 3.5-2 2.5-1.5 5.5 1 7.5 0 9-25.5 0-14-13.5-6.5-12-.5 4 4 6 2 5.5 .5 10-12 0-1.5-10.5-6.5-2.5-2.5 3.5-3 9.5-169 0 .5-3-1-.5-3 1-1 2.5-197 0 3-19 4.5-9.5 6.5-7 8.5-3 9.5-1 21 2.5 21-1 34.5 .5 17.5-3.5 38.5-15 20.5-5 20.5-8 11-.5 36 7 22.5-5 1.5-2 2-19 4-6-5.5-13.5-21 6-14 2-4.5 3.5-10 0-11.5 3-31 17-3.5 3-7 12.5-3.5 1.5-7 2-7.5 1-5-2-9 .5-11.5 1.5-9 2.5-11.5 0-5-1.5-7-4-12-2.5-7.5-.5-1.5 .5 .5 6.5-3.5 7.5-4.5 3.5-5 1-6-1-4.5-3-2.5-4-1-6.5-36.5 1-10 5-7.5 2.5-9.5 1-47.5 13-9.5 0-6-2-5.5-4.5-2-4-1.5-10 3-26 0-7.5-12 22-.5 6.5 3.5 6.5 1.5 5.5-2 12.5-3.5 3.5-6 0-4 4.5-3.5 8 .5 7.5 4.5 13-12.5 0-4-9.5-1-10.5-3-1.5 3.5-3.5 5-9.5 6-7.5 1.5-3.5 3.5-38 3-4.5 5-1 3-5 1-4-1.5-9 1.5-3 3.5-2.5 1.5-6.5 0-7.5-1-.5-6 10.5-3.5 1-4.5-1-2.5 14-4 6-6 4-6.5 0-6-2.5-9-8-3-22-1-2.5-1.5-1-2.5 2-2 6-.5 11-1.5 6.5-3.5 3-5-1-4.5 5 14.5 12.5 17-1.5 6.5 .5 7 3 6 6.5 2.5 9-.5 7.5-4 7.5-8 5.5-6.5 3-2.5 3-1 11.5 6.5 28-13 0-5.5-25 0-11.5 2.5-9.5 6.5-7 11.5-6 1.5-3-.5-6.5-1.5-2.5-4.5-1.5-6-.5-13.5 2-4 15.5-3 6-5 6-1 3 1 18 3.5 0 1 4-1.5 2-2.5 0-1.5 7-3 5-3.5 3.5-2 1-58 0 0-59 3 .5 3 1.5 5.5 7.5 5.5 1 7.5 5 2.5-.5 5-5.5 3-5 2.5-8.5 7-15 6.5-10-2.5 0-8 8-9 6-7.5 4-11.5 4-12.5 1 0-12.5 10-.5 14.5-6 12-9 6-6.5-11-.5-13 1-9 1.5-9.5 3.5 0-13 7.5-2.5 7.5-4 11.5-3 17.5 .5 7 1 10 3.5 5.5-.5 1.5-14 4.5-9.5-13.5 1-14.5-2-15.5 6-29 14 0-13 24.5-12.5 17-6.5 8.5 0 13.5 2 8.5-2.5 9.5-8 3.5-6 1-5-.5-4-1.5-1.5-3.5 0-8 3-12 7.5-11.5 10.5-12.5 5-18.5 2.5-12.5-3.5-2.5-2-3-6.5 0-54.5zM184 5l2 6 4 2.5-6-8.5zM171 7.5l-16 10.5 21 .5-5-11zM659 8.5l-21.5 2-38 14.5-7.5 3-5 3.5-19 15-2 4-1.5 8 0 11.5 1.5 9.5 5.5 17.5 2 10-2 2.5-6 2.5 .5 3.5-2 3-15 9-8 1.5 2 5.5 5.5 8 9 5.5 10 3 12.5 6.5 17.5 5.5 0-2-8.5-22.5 1.5-5 5-2.5-.5-4.5-9 0-2.5-2.5-1-3 1-3 2-2 13.5-4.5-3-1.5-1.5-2.5-1-12-8.5-4-1.5-3 .5-3.5 13-23.5 7-7.5 15.5-9 16-4.5 15.5-11 5.5-7 8.5-14-5.5 0zM286 9l-3.5 1-2 2 13.5 2 10.5 9 2.5-.5 1.5-1.5 1-3.5-3-3-13.5-5-6.5-.5zM228 12.5l4 17 4.5 1 7 0-.5-11.5-9-2-6-4.5zM265.5 16l-3.5 18.5 4.5 4.5 1.5 5.5-1.5 1.5-2 .5-9-1-5 2.5-11.5-3.5-26.5 0-10-2.5-43-3-4-1.5-5-6.5-23 1-25.5-7.5-6 1-3.5 2.5 5 8.5 .5 5.5-.5 8.5-2.5 6-4 6-9 8 7.5 1 6 5 3 7 2 17.5 4.5 5 3 .5 1.5-3 1.5-11.5 5-9 8-10.5 2.5-1.5 3.5 0 .5-1-4.5-4-2.5-6-.5-14.5 1-4 2-3.5 3-2.5 8-.5 4 1 6.5 3.5 7.5 7 2 4 0 5-2 4-8 8 3.5 15-.5 15.5 6.5-2 13.5-1 0-18 1.5-7.5 2.5-5 3-3 6.5-4 9.5 .5 5.5 4.5 4 7.5 1.5 13 1 2.5 1 .5 2.5-2 3-4.5 3.5-9.5 6-5 9-3 7 0 12.5 2 5 2 13.5-5.5 13-10.5 4.5-6.5 6.5-15-3-3-16-2.5-4.5-2.5-3-4.5zM210 17.5l-3 1 0 7 9.5 2 .5-2-2.5-8-4.5 0zM444.5 22l-6.5 27 0 11 1 3 4.5-1.5 3-3 12-19-1.5-4.5-12-13.5zM406 24.5l-5 1.5-2 3.5 1 2 5.5 1 5-2 1-3.5-5-2.5zM428.5 31l-5.5 2-2 6.5-4 9-4.5 6.5-8 7-7.5 3.5-13.5 3.5-3-1-9.5-8.5-9-2.5-2 1.5-1.5 4-.5 2 .5 2.5 7 7.5 9 6.5 2 6.5 2-3 3-1.5 16-3 14-4 13.5-6 2-1.5-1-21.5 3.5-15-1-1zM736.5 35.5l7.5 19.5 2.5-4.5-5.5-11-4.5-4zM665 41l-1.5 3-.5 4.5 1 2.5 2 .5 3-2 .5-3.5-1.5-4-3-1zM135.5 47.5l0 9 .5 1.5 1.5 .5 3.5-2 3-3.5-3-3-5.5-2.5zM292 56l-8 8-9 6.5-12.5 5.5-5 3.5-3.5 0-7.5-3.5-11.5-2-9 2-3.5 8.5-3.5 6-5 5-5.5 2.5-7-.5-3.5-1.5-3.5-3.5-2.5-6-1-11.5-1.5-3.5-2-2-2.5 1-2 3-1 6 1 25.5-1 4-2.5 2-2.5 .5-3-1-3-2.5-8-.5-4 1.5-2.5 11.5-3 32 0 7 1 2.5 4.5 2 4.5 0 20.5-6.5 11-1.5 10.5-3.5-8-2.5-10.5 .5-9.5-1-10-4-4.5-6.5-1-8 2.5-6 4.5-4.5 9-4.5 14-1.5 12-7 10.5-2 9.5-5.5 6.5 0 6-10.5 5-3.5 4-2 11-2.5 26 5.5 8.5-2 1-1 0-28zM744.5 60.5l.5 4.5 1-3.5-1-1.5zM333 79.5l-3 5-5 3.5-6 1.5-10 0-4.5 1-5 4-9.5 4 8.5 1.5 8 4 4.5 .5 34-6.5 18.5 0 5-1-2-2.5-3-1-15-2.5-7-3-5-3.5-3.5-5zM256 95l-5.5 .5-3 1.5 3.5 .5 4-1.5 10 0-6-1.5-2.5 .5zM693 98.5l-8.5 3.5 1 5.5 2.5 4 6-1 3 1 2 2 0 2.5 1 .5 4.5-6 1.5-5.5-8-6-5-.5zM622 101l-5.5 2.5-.5 7.5 9.5-1.5 10 4 5.5-1.5 3 1.5 2 3 3-3.5-8-5-4.5 3.5-4.5-1-2.5-3-.5-5.5-3.5-1.5-3 .5zM673 111.5l-4.5 1.5-6 4.5-4.5 4-1 2 5.5 .5 .5 3 1.5 0 6-7 5.5-4-1.5-4-1.5-.5zM614 118l-2.5 5.5 0 2.5 3.5 13.5 2 3.5 6-6 1-5.5-4-11.5-2.5-2-3.5-.5zM519.5 128l-4 1.5-1.5 15.5-2.5 6 22 3 3.5 0 3.5-1.5-7.5-11-4.5-9.5-2.5-2-6-2zM178.5 129l-4 3 0 3 5.5 2.5 4.5 0-4.5-8.5-1.5 0zM681.5 129l-5.5 3.5-1 1.5 6-.5 1.5-2.5-.5-2zM61.5 130l-6 8.5-6.5 14.5-2.5 8-4 7-7 8.5 2.5 7 5 5.5 7 12 2.5-.5 2.5-4-.5-27 .5-4 8.5-13 3.5-11 .5-7-5.5-4.5zM724.5 136l-6 1-16.5 6-.5 1 2 3 14 0 4.5 1.5 5 3 3-6-3.5-8.5-2-1zM645.5 136.5l-2 2.5 2.5 3.5 0 3-4.5 5 10-2 8 2 13 5.5 3.5-.5-.5-5.5-1-3.5-17.5-.5-3-2-1.5-4-6.5-4zM290 154l0 1.5 1-1-.5-1zM437 154l-6.5 1.5-22.5 8.5 41-8-11.5-2zM708 159l-1.5 .5 0 1.5 5.5-1.5-4-.5zM477.5 161.5l1.5 2 2-1-.5-1-3 0zM655.5 163l-2.5 9 1 2.5 2 1.5 2.5 0 13-4.5 8.5-1-1.5-2-9.5-.5-13-5.5zM402 165l-5.5 1.5 9.5-1.5-4 0zM724 166.5l-5.5 3.5-15.5 7 6.5 4.5 3.5-6 2.5-1 3 1 2 2 7 13 3.5 3 0-2.5-5.5-10.5-.5-13.5-1-.5zM611.5 173.5l1.5 5-1-5.5zM595.5 179l-2.5 1.5 4.5 6 .5-1.5-2.5-6zM636 180.5l-7.5 2 0 1 4 8 5.5 5.5 1.5-4.5-4-2.5-1.5-3 2-6.5zM687 182.5l-2.5 .5 2 2 2-2-1.5-.5zM254.5 184.5l-8 2-3 2.5-3 7-1.5 7 0 6 5.5-9.5 3-2.5 3.5-1.5 6.5 0 4 3 2 0 17.5-2 12.5 1.5 12-2 14.5 .5 23.5-1.5 .5-1-.5-9-7.5 1-34-.5-25.5 1-21.5-2zM698.5 190l-.5 2.5 4 0-3-3zM324.5 0l59.5 0 0 20-1.5 2-2 1-13.5 2-7.5 3-11.5 1-6-1-7.5-4-6.5-7-3-5.5-1-11.5zM173.5 183.5l9.5 0 9 5.5 5.5 8 3 7.5 1 7-12.5 0-1-5-3-6.5-4.5-4-3-1-3 1.5-3.5 4-6 11-13.5 0 .5-2.5 9-16 7-7 5-2.5zM143.5 186l4 .5 0 2-1 1.5-2.5 .5-2-1.5-.5-1.5 2-1.5z"/>
<path fill="#38ffc8" d="M.5 0l29 0 4 2.5 10 3 18-2.5 .5-3 11 0 1 6.5 3-1 3 5.5 1.5 4.5 0 5 8-5 9.5-2.5 6 0 25.5 7 12.5 0 2.5-1-17.5-8-5-.5-7-3-5.5-3.5-1.5-4 22.5 0 16.5 7.5 13-7.5 47.5 0 0 1.5 0-1.5 60 0 1.5 5.5 6.5-5.5 26.5 0 13 6.5 3.5 4 1.5 5 0 6-3.5 7-5.5 4.5-9 1.5-1.5 3.5 2.5 13-.5 27.5 12.5-.5 5-1.5 1.5-4 1-19 3-4 3.5-1 3 1 3.5 3.5 5.5 17.5 3.5 6.5 7 2.5 .5-1-5.5-8-1.5-6 3.5-12 6-5.5 4.5-1.5 10.5 1 5.5 2.5 9.5 7.5 8.5-2.5 5-2.5 4.5-4 1.5-3-9.5-2-6-4.5-2.5-6.5 0-4 2.5-5.5 4.5-5.5 4-2 5-1.5 8.5 0 5.5 3 4.5 4.5 3-1-7-8-2-5.5-.5-6 11.5 0 2.5 4 4.5 2.5 3-1.5 1.5-5 153 0 5 5.5 5.5 2 4.5-2 2-5.5 62.5 0 1 2 2-2 43 0-1.5 3.5-4 4.5 11 6 3.5-.5 1.5-3.5 6.5-1-.5-9 33.5 0 0 103.5-3.5 1.5-1 2.5 1.5 2.5 3 1 0 6-31.5 6.5-4-1-14-9.5-4.5 7 9 4.5 8.5-.5 5.5 2 3.5 3 4 6.5 3 2.5 2-1.5-.5-5 1-1 8-3 10-2.5 0 50-3.5 1-1.5 2 1.5 3.5 3.5 1.5 0 28.5-57 0-1.5-8-3.5-1-2.5 .5-3 2-2 3-.5 3.5-18 0 0-7.5 5.5-7 0-8.5 2-1 3.5-5-2.5-.5-13 1.5-10 3-4.5 3-2 7 2.5 7.5 .5 7.5-23.5 0-11-9.5-5.5-7.5-6-14-1.5-7.5-2.5-1-.5 2 3 10 0 5.5 4 3.5 2 4 1.5 5 .5 9.5-11 0-2-11-6.5-2.5-1 .5-2 3.5-3 9.5-168 0 1-4-1.5-.5-4 1-2 3.5-165 0-3.5-1-1 1-12.5 0 5.5-11.5 3-2.5 3.5-1.5 6.5 0 3.5 3 2.5 0 17.5-2 12 1 12.5-1.5 13.5 .5 24.5-1.5 1-1 0-9-1-1-7.5 1-34-.5-25.5 1-19.5-2-10.5 2-3.5 3-3 6.5-2.5 16-11.5 0 3-19 4-9 7-7 8-3 9.5-1 21 2.5 21-1 34.5 .5 17.5-3.5 38.5-15 21.5-5.5 19.5-7.5 11-.5 36 7 22.5-5 2-2.5 2-19 4-5.5-4.5-12.5-1.5-1.5-21 5.5-14.5 2.5-4 3-9.5 0-12.5 3.5-31.5 17-10.5 15.5-12.5 3.5-5 1-4-2-7.5 0-15 2-8 2-10.5 0-5-1.5-6.5-3.5-13.5-3-7.5-.5-1.5 1 .5 6-3.5 7.5-4 3.5-5.5 1-5.5-1-4.5-3-2.5-5-.5-5.5-38 1.5-9.5 4.5-7 2.5-9.5 1-47.5 13-9 0-6-2-5.5-4-2-4-1.5-10 3.5-31.5-.5-4.5-13 24-.5 7.5 3.5 6.5 1.5 5-2 12.5-3.5 3.5-5.5-1-4.5 5.5-3.5 8 .5 7.5 4.5 13-11.5 0-4-10-.5-14 3.5-8 7.5-10 1.5-3.5 1.5-10 .5-17 1.5-11 3-4 5-1 3-5.5 1-4-1.5-9 1.5-3 3.5-2 1.5-7 0-7.5-1-2-7 11.5-3.5 1-4-1.5-1.5 3-2 12.5-4 6-5 3-6.5 0-5.5-2.5-9.5-8-2.5-22-1.5-2.5-1.5-1-2.5 1.5-2 5-2.5 19.5-3.5 2.5-4.5-1-5.5 5 15.5 13.5 11.5-1.5 12 .5 7.5 3 3.5 3.5 2.5 5 1.5 9-.5 5-3.5 6.5-8 6-6.5 3-3 3-1 12 6.5 28-11.5 0-6-25.5 0-11 2.5-9.5 6.5-6.5 11-6 2-3.5-.5-6.5-1.5-2.5-4.5-2-6.5-.5-14 2-4 15.5-3 6-5.5 7.5-.5 8.5 1 16-.5 7-3.5 6-3 3.5-3 1.5-57 0 0-58.5 5.5 1.5 6 8 5.5 1 7.5 5 3-1 5-5.5 2.5-4.5 10-24 6.5-10-3-.5-8.5 8-8.5 6-8 4-11 4-12.5 1 0-11.5 10-.5 14.5-6 9-6.5 11-10.5-26 1-9 1.5-9.5 3.5 0-12 7.5-2.5 7.5-4 11.5-3 17.5 .5 7 1 10 3.5 6-.5 .5-9.5 1-5 5-10.5-7 1.5-7 0-15-2-16 6-28.5 14 0-12 24.5-12.5 17-6.5 8.5 0 13.5 2 9-2.5 9.5-8.5 3.5-6 1-5-.5-4-2-2-3.5 0-8 3-12 7.5-12 10.5-12.5 5-17.5 2.5-13-3-2.5-2.5-3-7 0-53.5zM183.5 3.5l.5 4 1.5 4 3 2 2.5 .5-7.5-10.5zM171 7l-20 12 25.5 0-4.5-12-1 0zM662 8l-24.5 2-38 14.5-12.5 6.5-19.5 15.5-1.5 3-2 9.5 .5 12 1 8.5 6 16.5 1.5 10.5-2 3-5.5 2 .5 4-2 2.5-7.5 4-8 5.5-8 1.5 2.5 6.5 5 7.5 9.5 5.5 10 3 10.5 5.5 13 4 6.5 3.5 1-.5 0-2.5-9-23 1.5-5 5-2-.5-5.5-1-.5-5 1-3-.5-2.5-2-1-3 .5-2.5 2-2 13-4 1-1.5-3-1-1.5-2.5-1-12.5-8.5-3.5-1.5-3 .5-3 13-24 6-6.5 16-9.5 16-4.5 15-10.5 6.5-8 9-14.5-4 0zM284.5 9l-4 2-1 1.5 14 2 11 8.5 3-.5 1.5-1.5 .5-4.5-6-4-11-3.5-8 0zM227.5 11.5l4.5 18.5 11.5 1 .5-12-9.5-2-4-4.5-3-1zM265 15.5l-1.5 3-2 16.5 4.5 3.5 1.5 3.5 0 2.5-3 1.5-9.5-1-5 2.5-11-3-26.5-.5-10-2-43-3-4-2-5-6.5-23 1-25.5-7.5-6.5 1-4 3 5.5 8.5 .5 5.5-.5 8.5-2.5 6-4 6-9.5 8.5 8 1 6 4.5 3 7 2 18 5 5 3 .5 2-3 1.5-12 5-9 7.5-10 3-1.5 3 0 1-1.5-4.5-4.5-2.5-5.5-.5-14 1-4 1.5-3.5 3-2.5 7.5-.5 4 1 7 3.5 7.5 7 1.5 3.5 0 5-1.5 3.5-8.5 8.5 3.5 15-.5 16 7-2 14-1 0-18 1.5-8 5.5-8 6.5-3.5 9 .5 5 4 4.5 9 1.5 13.5 2 1.5 4.5-4.5 5-11.5 6-5.5 8.5-2.5 7 0 12.5 2 5 2 14-6 12.5-10 5-7 6.5-15-3-3.5-16.5-2.5-4-2-2-5-1.5 0zM211.5 17l-5 1 0 7.5 10.5 2.5 .5-2.5-2.5-8.5-3.5 0zM444.5 21l-7 28 0 11 1 3.5 5-2 3-2.5 12.5-19.5-1.5-4.5-10-12-3-2zM404.5 24.5l-3.5 1-1.5 2-1 2 1 2.5 6 1 3.5-1 2-1.5 1-3-1-1.5-3-2-3.5 .5zM427 31l-4.5 1.5-2 7-4 8.5-4.5 7-7.5 6.5-8 4-13 3-3-1-9.5-8.5-9.5-2.5-2 1.5-1.5 5 .5 4.5 6.5 7 9 6.5 1.5 2.5 0 3.5 1.5 1 1.5-3 3-2 16.5-3 14.5-4 13-6 2-1.5-1-22 3.5-15-.5-1-2.5 .5zM665.5 31l-2 2.5-2 14.5 1 3.5 3 1.5 4-2 2-5-4.5-9-1.5-6zM735.5 34.5l8.5 23 3.5-7.5-6.5-12-5.5-3.5zM135 47l0 9.5 1 2 1.5 .5 4-2.5 3-3.5-3.5-3.5-5.5-2.5zM292 55l-8.5 9-9 6-13 6-4 3-3.5 0-7.5-3.5-11.5-2-9 2-1.5 2-2.5 7-3.5 6-5 4.5-5 2.5-7-.5-6.5-4.5-2.5-6-1-11.5-1.5-4-2.5-2-3 1.5-2 3-1 6.5 0 14.5 1 9-1 5-2 2-2.5 .5-3-1-2.5-2.5-4.5-.5-7.5 .5-1 1.5-2.5 11.5-3 32 1 9.5 4.5 2.5 5 0 43.5-12-9.5-3-10.5 .5-9.5-1-9-3.5-4-4.5-2-5 0-5.5 2.5-5 4-4.5 5.5-3 4-1.5 13-1 13.5-8.5 9.5-1 10-6 6.5 .5 6-11 8.5-5 11-2.5 26 5 9-2 1.5-26.5 0-3.5-1 0zM744.5 58l-.5 7.5 .5 1 1-1 1-4-2-3.5zM518.5 76.5l0 1.5 1.5-.5-.5-1-1 0zM333 78.5l-3 5.5-5 3.5-6.5 1.5-9.5 0-4.5 1-6.5 4.5-10.5 4 11 2 7 3.5 5 .5 34.5-6 18.5 0 6-1-2.5-3-3-1.5-17.5-3-6.5-3-4-3.5-3-5.5zM256.5 94.5l-7.5 1-2.5 1.5 5 1 4-1.5 14.5 0-7.5-2-6 0zM694 98l-10 4 1 5.5 3 4.5 5.5-1 3 1 1 5 2.5 .5 5-7 1-5.5-7.5-6-4.5-1zM623 100.5l-7 3-1 8 10.5-1.5 10 4 5.5-1.5 3 1.5 2 3.5 3.5-4.5-8.5-5.5-4.5 3.5-4-.5-2.5-3-.5-5.5-6-1.5zM47.5 108.5l-.5 1 2-.5-1.5-.5zM673 111l-5 2-5.5 4-4.5 4-1.5 2.5 4.5 1.5 1 3.5 2-.5 12.5-12-2-4.5-1.5-.5zM145 111.5l.5 2 0-2.5zM615.5 116.5l-2 .5-2.5 8.5 3.5 14 2.5 5 8-7 1-6-5.5-13-2-1.5-3-.5zM517.5 128l-2.5 1-1.5 16-2.5 6 22.5 3 4 0 4-1.5-6.5-8.5-7-13-6.5-3-4 0zM178.5 128.5l-4 3-1 2 1 2 5.5 2.5 5.5 0-3-4-2.5-5.5-1.5 0zM681.5 128.5l-5.5 3.5-2 2.5 8.5-.5 1.5-4.5-.5-1-2 0zM61.5 129.5l-6.5 9-6.5 14.5-2.5 7.5-3.5 7-7.5 9 3 7.5 4.5 5.5 5.5 10 2 2 3-1 2.5-3.5-.5-27.5 .5-4 8.5-13 3.5-11 .5-7-4-4-2.5-1zM646 135l-3 4 2.5 3.5-.5 3.5-1.5 2.5-3 1.5 0 1 10.5-2 8.5 2 13 5.5 4.5-.5-1-9.5-19-1-3-2.5-1-4.5-6.5-3.5zM724.5 135.5l-6 1-17.5 6.5-.5 1 2.5 3.5 17 .5 7.5 4.5 1-4 2-3-3.5-9.5-2-.5zM290 153.5l-1 2 1 .5 1.5-2-1.5-.5zM435 154l-21 7.5-21 6 6-.5 51.5-11-1.5-1-10-1.5-4 .5zM706.5 159l-.5 3 8-3-7.5 0zM476 161l.5 2.5 2 1.5 2 0 1.5-1.5 0-2.5-6 0zM654 162l-.5 4-3.5 6.5 1.5 2 3 2 4 0 13.5-4.5 14.5-1 4-1.5-10-2-11 0-15-5.5zM724.5 165.5l-5.5 4-13.5 5-3.5 3 8 5.5 3.5-6 2-.5 2.5 .5 2.5 3 7.5 13 3 3 .5-4.5-5.5-11-1-10 .5-4.5-1-.5zM641.5 174.5l-6.5 4.5-7.5 3 4.5 9.5 6.5 6.5 1.5-6-4.5-2.5-1-4 2-4 5.5-4 1.5-3-2 0zM595 178.5l-3 1.5 6 7 .5-1-2-7-1-.5zM698.5 189.5l-1.5 2 0 2 4 1 3-.5-3.5-4-2-.5zM324.5 0l59 0 0 20-3 3-14 1.5-7 3-11.5 1-6-1-7.5-4-6-6.5-3-5.5-1-11.5zM175.5 183.5l8 1 8.5 5 5 8 3 7 1 7-11.5 0-1-5-3-6.5-5-4.5-3-1-3 1.5-3.5 4-6.5 11.5-12.5 0 .5-2.5 9-16 7-6.5 6.5-3z"/>
<path fill="#53ffad" d="M.5 0l28.5 0 3.5 2.5 11 3.5 18-2.5 1-3.5 10 0 1 8.5 1 0 2.5-1.5 1 1 3 6.5-.5 6 1 .5 8-5 9.5-2.5 6 0 25.5 7 47-1.5-3.5-7-2-6-18.5 11.5-7 1-18.5-7.5-5-1-7-3-5.5-3.5-1-3.5 21.5 0 17 8 13.5-8 46 0 0 2.5 1 .5 1.5-.5 0-2.5 57 0 2.5 6.5 7.5-6.5 24.5 0 6 2 8 5 3.5 3.5 1.5 5 0 6-3 6.5-5.5 4.5-9.5 2-1.5 3.5 2.5 13-.5 28 13-.5 5.5-1.5 1.5-4.5 1-19 3-3.5 3-1 3 1 3.5 3.5 5.5 17 3 6.5 7.5 3 1.5-1-5.5-6.5-2-5 0-3 3.5-12 6-5.5 3-1 4.5 0 7 1 5.5 2.5 9.5 7 8.5-2 5.5-3 4-3.5 2-4-10-2-5.5-4.5-2.5-6.5 0-3.5 2.5-5.5 4.5-5.5 8.5-3 9 .5 4.5 2.5 5 4.5 4-1.5-5-4-3-4-1.5-5.5-.5-6 10.5 0 2.5 5 5.5 3 3.5-2.5 1.5-5.5 150.5 0 6.5 6 5.5 2 5-2 2.5-6 61.5 0 .5 3 3-3 40 0-1 3-5.5 4.5 9.5 4 6 4 3-1 1.5-3.5 6.5-.5-.5-10.5 33 0 0 102.5-4 1.5-2 3.5 1.5 3 4.5 1.5 0 4.5-31.5 7-3.5-1-15-10-4.5 8 9.5 4.5 8.5-.5 5.5 2 4.5 5 6 10 2 1 3-1.5-1-10.5 7.5-3 9-2 0 48.5-4.5 1-1.5 2.5 2 4.5 4 2 0 27.5-56.5 0-1.5-9-3.5-4.5 .5-3.5-6.5-6-2.5 3 0 3.5 4.5 4-5 6.5-1 6-15.5 0 1-6 4-4 1-11.5 4.5-7.5-1-1-14.5 1.5-11 3.5-6 3-3.5 8.5 4.5 6.5 1 7-8.5 0 .5-10.5-1-2-1 4-.5 8.5-11.5 0-5.5-4-9-10-7-13-2.5-11.5-4.5-2-.5 2.5 2.5 10.5-.5 4.5 5.5 4 2.5 4.5 1.5 5.5 .5 9-10 0-2-11-3-2-4.5-1-3 5.5-2.5 8.5-167.5 0 1.5-4.5-3-1-4.5 1.5-2.5 4-159 0-1.5-1-3.5 0-3-1-1.5 2-11.5 0 5.5-11 2.5-2.5 3.5-1.5 6 0 4 2.5 2.5 .5 17.5-2 11.5 1 13-1.5 13 .5 13.5-2 12 0 1-1-1-10.5-8 1-34-.5-25.5 1-19.5-2-10.5 2-3.5 3-3 7-3 16-10.5 0 3-19 4-9 6.5-6.5 8.5-3 9-1 21 2.5 21-1 34.5 .5 17-3.5 39-15 21-5.5 20-7.5 10.5-.5 36.5 7 23.5-5.5 1.5-2.5 2-19 4-5.5-5-13-1.5-1.5-20.5 6-15 2-4.5 3-9 .5-12.5 3-31.5 17.5-3 3-5 9.5-2.5 3-12 3.5-5.5 .5-4-2-8 .5-22.5 3.5-10.5 0-5-1.5-6.5-3.5-14-3-7.5 0-1.5 .5 .5 5.5-.5 3.5-3 5-4 3-5 1-5.5-1-4.5-3-2-4.5-.5-5.5-38.5 1-9.5 4.5-7 2.5-9.5 1.5-48 12.5-8.5 0-6-2-5.5-4-2-4-1-9.5 4.5-43.5-.5-1.5-1 0-.5 6.5-1.5 4.5-12 22-.5 7.5 3.5 6.5 1.5 5-1.5 12-3.5 3.5-5.5-1-5 6-3 7.5 .5 8.5 4 12.5-10.5 0-4-10-.5-13.5 3-8 8-10.5 1.5-4 3-35 2-5.5 2.5-1.5 3.5 0 3.5-6 1-4-1.5-9 1.5-3 3-1.5 2-7.5-1-11-7.5 12.5-3 1-4-1.5-1 .5-1 2.5-2.5 13.5-3.5 5-4.5 2.5-9 0-12-9-1.5-6-2-16.5-1-2.5-2-1.5-2.5 1.5-2 5-1.5 4.5-.5 13-1 2.5-3.5 2-4.5-1-6 5.5 16 13.5 12.5-1 11.5 .5 7 3 3.5 3.5 2.5 4.5 1.5 9-.5 5-3 6-8 6-6.5 3-3.5 3.5-1 12 6.5 28-10.5 0-6-25.5 0-11 2-9 6.5-6.5 11.5-6.5 2-3.5-.5-6.5-2-3-4.5-1.5-6.5-1-14 2-4.5 16-3 6-5.5 7.5 0 31-3.5 6.5-3 3-3 2-11.5 0-2-1-.5 1-42.5 0 0-37.5 2-1 .5-2-1-2.5-1.5-.5 0-14.5 5.5 1.5 5.5 7.5 6 1.5 7.5 4.5 3-.5 5-5.5 3-5 3-8.5 6.5-15 7-11-3.5-.5-8.5 8-9 6.5-7.5 3.5-11 4-12.5 1 0-10.5 10.5-1 15-6 8-6 9.5-9 7-4-2.5-1-4.5 2.5-11.5 0-16.5 1.5-15 4.5 0-11 8-3 7.5-4 11.5-2.5 17 .5 7 1 10 3.5 3-.5 3 .5 1-1.5 0-9 1-5 2.5-6.5 3.5-5-10 2-20.5-1.5-16 6-28.5 13.5 0-11 25-12.5 16.5-6.5 8.5 0 13.5 2 9-2.5 9.5-8.5 3.5-6 1.5-5.5-2-6-4.5 0-13.5 5.5-7 5-11.5 10-11.5 5-18.5 3-12.5-3-3-2.5-3-8 0-52.5zM183 2.5l.5 5 2 4.5 3 2 3 .5-8.5-12.5zM662.5 7.5l-25 2-38.5 15-12 6-19.5 15.5-1.5 3-2 10 0 12 1.5 8.5 5.5 15.5 2 11.5-2 3-6 2 .5 4-2 2.5-7 3.5-8 6-8.5 1 2.5 7 5 7.5 9.5 5.5 10.5 3.5 10.5 5.5 15.5 5 4.5 3 1.5-.5 0-2-9.5-24.5 1-4.5 5.5-2-1-6.5-.5-.5-5.5 1-3-.5-2-1.5-1-3 .5-2.5 2-2 13-4 1-1.5-3.5-1.5-1.5-2-.5-12.5-9-4-1-2.5 .5-3 13-24 7-7 15-8.5 15.5-4.5 15.5-11 6-7.5 10-15.5-4 0zM285 8.5l-4.5 2-1.5 2 14.5 2.5 11 8.5 3-.5 1.5-1.5 1.5-4.5-3-3-14.5-5-8-.5zM227 10.5l0 2.5 4.5 17 12.5 1.5 0-13-9-2-4-4.5-3.5-1.5zM265.5 15l-2 1.5-2.5 18.5 5 4 1.5 3-.5 2.5-3 1.5-9-1-5 2-11-3-26-.5-10.5-2-43-3-4-1.5-5-7-23 1-25-7-7 1-4.5 3 5.5 9 .5 9.5-1 5.5-6 10-10.5 9.5 9 .5 6 5 3 6.5 2 18 5.5 5.5 3 .5 2-3.5 2-12 5-9 7.5-10 2.5-1 3.5 0 1-2 0-1-4.5-3.5-2.5-5.5-.5-14 1-4 4-5.5 7.5-.5 4 1 6.5 3.5 7.5 6.5 1.5 3.5 0 5-1.5 3.5-8.5 8.5 3.5 15-.5 16.5 11.5-2.5 10 0 .5-19 1.5-8 5-7.5 6.5-3.5 9 .5 4.5 4 4.5 8.5 2 14 2 1 2.5-1.5 2.5-3 5-11.5 5.5-5 8.5-2.5 7 0 12 2 5.5 2 14-6 13-10.5 6.5-10 3.5-8 1-4.5-3-3.5-11.5-1-5-1-4.5-3-1.5-5-1 .5zM212.5 16.5l-6 1-1 3 1 5.5 11 2 0-3-2-8-1-1-2 .5zM444 20.5l-7 28.5 0 11 1 4 5.5-2 3.5-3 12.5-19.5-1.5-4.5-10.5-12.5-3.5-2.5zM405 24l-5 2-2 3.5 1 2.5 6.5 1.5 3.5-1 2-1.5 1-2.5 0-2-3.5-2.5-3.5 0zM667 28l-5.5 7.5-.5 15 1.5 2.5 2.5 1 3-.5 2.5-1.5 3-6-.5-3-3.5-6.5-1.5-7.5-1-1zM427 30.5l-4.5 1.5-2.5 7.5-4 8.5-4 6.5-8 7-7.5 3.5-13 3-2.5-1-9.5-8-10-3-2.5 2-1.5 5 .5 4.5 7 7.5 9 6.5 1 2.5 0 3 2 2 1.5-3.5 3-2 16.5-3 15-4.5 13-6 1.5-1.5-.5-6 0-16 3.5-15-.5-1.5-2.5 .5zM734.5 33.5l5.5 13.5 3.5 11-.5 8.5 2 .5 2-6-2-2.5 0-3 4-5.5-3.5-4-4.5-9-5-3.5-1.5 0zM134.5 47l.5 11 1.5 1 2.5-.5 5-3.5 1-2-6.5-5.5-4-.5zM292.5 54l-9 9.5-9 6-13 6-4 3-3 0-7.5-3-12-2.5-9 2-1.5 1.5-2.5 7.5-4 6-4.5 4.5-5.5 2.5-6.5-.5-6.5-4.5-2-6-1-11-1.5-4-3-2.5-3.5 2-1.5 2.5-1.5 6.5 0 15 1 10-1 4-2 1.5-2.5 .5-2.5-1-2.5-2.5-8-.5-4.5 1-1 1.5-2.5 11.5-3 32 1 10 5 2 5.5 0 44.5-12 .5-.5-11.5-3-10.5 .5-9.5-1-8.5-3-4-4.5-2-5 0-5.5 2-4.5 4.5-4.5 5-3 4.5-1.5 12.5-1.5 13.5-8 9.5-1 10-6 7 0 5.5-10.5 8.5-5 10.5-2.5 26.5 5 10-2.5 0-18 1-8.5 0-4-1-.5zM731 58l-.5 3 2 1.5 0-2.5-1.5-2zM517.5 73.5l-1.5 3.5 1.5 3 4.5-3-2-3.5-2.5 0zM333 77.5l-3 6-5.5 3.5-6 1.5-9.5 0-4.5 1-7.5 5-12.5 4 9.5 1.5 11.5 4.5 5 .5 35-6.5 17.5 .5 6.5-1-1.5-3-3.5-2-17.5-3.5-7-3-3.5-3.5-3.5-6zM257 94l-8.5 1.5-3 2 6.5 .5 5.5-1 16.5 .5-11-3-5.5-.5zM692.5 98l-9 4 1.5 5.5 2.5 5 6.5-.5 2 5 4 1 5-7 1.5-6-8.5-6.5-5-.5zM726 98.5l-.5 1 1.5 .5 3.5-1-1.5-1-2.5 .5zM622 100.5l-6.5 3-1 8.5 11-2 10 4.5 5.5-1.5 3 2 1.5 3.5 4.5-5.5-9.5-6-3.5 3-4 0-2.5-2.5-1-5.5-3.5-1.5-3.5 0zM673.5 110.5l-6 2.5-8 6-3.5 4 0 1 4 1.5 1.5 4.5 2.5-1.5 13-12-2.5-5.5-1-.5zM614.5 115.5l-2.5 4.5-1.5 6 4 14.5 3 5.5 8.5-5.5 1-10.5-5.5-13.5-2.5-1-4.5 0zM518 127.5l-3.5 1.5-1.5 16-2.5 6.5 25 3 7-1.5-7-9-7-13-5-3-5-.5zM683.5 127.5l-8 4.5-2.5 3 4.5 .5 6.5-1.5 1-4.5-.5-1.5-1-.5zM179 128l-5 3.5-.5 2 .5 2 6 2.5 6.5 .5-3.5-4-2.5-6-1.5-.5zM61.5 129l-6.5 9-6.5 14.5-3 8-3.5 7-7.5 8.5 3 8 6.5 8.5 4 7.5 2 2 3-1 3-4-.5-27.5 .5-4 8.5-13 3.5-11 0-7.5-3.5-3.5-3-1.5zM701.5 130l0 1 2-.5-1.5-.5zM646.5 134l-4.5 5 3 3.5-.5 4-2 2-4.5 1.5 2 2 11-2.5 8.5 2 12.5 5 3 .5 3-1-1.5-10-19.5-1-2.5-2.5-.5-5-7-3.5zM601 134.5l.5 2.5-.5-2.5zM725 135l-6.5 1.5-19 7 3 4.5 17.5 .5 7.5 5 1-5 3-3-3-9.5-1-1-2 0zM289.5 153l-1 2.5 1.5 1 2-2.5-.5-1-1.5 0zM435.5 153.5l-5 1-16.5 7-15.5 3.5-7.5 3 9.5-1 51-11-2.5-1.5-13-1zM706.5 158.5l-2 4 6-1.5 4.5-2.5-8.5 0zM475 160.5l.5 3 2.5 2.5 3 0 2-2 0-3.5-8 0zM652 161.5l0 3.5-2.5 3.5-8.5 3-8 7.5-6.5 1.5 3 8 5.5 7 3.5 3 2-7-4-1.5-1.5-4 1-3 2.5-2.5 9.5-4 10.5 0 13.5-4 17-1.5 4.5-2.5-9-2-12.5 1-16-6-3.5-.5zM725 164.5l-6.5 5-13 5-5 3 6.5 3.5 3.5 3 4-5 3.5 .5 4.5 5.5 6 12 3 2 .5-8-5.5-10.5-1-10 .5-5.5-1-.5zM595.5 178l-4 2 5 6.5 2 .5 .5-.5-2.5-8-1-.5zM325 0l38 0 1 3 2 1.5 3-1.5 1.5-3 12.5 0 1 12-1 8-3 2.5-13.5 2-7 2.5-11.5 1-6-1-7-4-6-6-3-6-1-11zM174.5 184l8.5 .5 8.5 5 5 8 3 7 1 7-10.5 0-1-5-3.5-7-4.5-4-3.5-1-3.5 1.5-3.5 4-6.5 11.5-11.5 0 9.5-18 6.5-6.5 6-3z"/>
<path fill="#73ff8d" d="M.5 0l28 0 3.5 2.5 11.5 3.5 12.5-2 6 0 .5-4 10 0 1 10 1 0 2.5-2 1 .5 2.5 6 0 6 1 1 8-5.5 10-2.5 5.5 .5 25.5 6.5 47.5-1-4-7.5-2-6.5-18.5 12-7 1-18.5-8-5-1-6.5-2.5-5.5-3.5-1.5-3.5 20.5 0 18.5 8.5 13.5-8.5 20.5 0 .5 7 2 4.5 2 2 4 1.5 1-1-9.5-14 25 0-.5 3 1.5 .5 2.5-.5 0-3 54.5 0 3.5 8 5-5.5 4-2.5 22.5 0 13 6 4.5 4 2.5 5-.5 6-3 7-5 4.5-9.5 1.5-2 4 3 13-1 28 13.5-.5 6-1.5 1-4.5 1.5-19 2.5-3 3-1.5 3 1.5 3 3 5.5 17 3.5 7 8 2.5 2-.5-5.5-6.5-3-7.5 3-11.5 4-4.5 4.5-3 6.5-.5 10.5 3 10 8 8.5-2 6.5-3.5 3.5-3 3-4.5-11-2-5.5-5-2.5-8.5 1-3.5 3.5-5.5 6.5-4.5 5-1.5 6 0 6.5 3 5.5 5 5-1.5-5.5-4.5-3-4-1.5-5.5-1-6 10 0 1.5 4.5 4.5 4 3 1.5 2-1 1.5-2.5 1.5-6.5 148 0 9 7 5 1.5 3-.5 2.5-2 2.5-6 60.5 0 .5 4 4-4 37 0-1.5 2.5-6 5.5 8 1.5 5.5 3 6 4.5 2.5-1 1.5-3.5 7-1-1-11.5 33 0 0 101.5-5 2-2 4 2 4 5 1.5 0 3-31.5 7-4-1.5-14.5-9.5-5 9 10 4 8.5-.5 5.5 2.5 4.5 5 5.5 10 2 1 6-2-1.5-11 14.5-4 0 47-5.5 1-2 3 2.5 5.5 5 2.5 0 26.5-56.5 0-1-9.5-2-5.5-2-3.5-6-4.5-3 4-1.5 19-13 0 .5-3.5 2-2.5 1-3.5 1.5-12.5 4-8.5-16 1.5-19 7-4 4.5-1.5 3.5-1 5.5 0 8.5-10.5 0-6-4-9-10-7-13.5-3-11.5-6-3-.5 2 2.5 11.5-1.5 5 6.5 3.5 3.5 4.5 2 6.5 .5 9-10 0-2-11.5-3-2-4.5-.5-1 .5-2.5 4.5-2.5 9-167 0 2.5-5-4-1.5-6 2-2 4.5-156 0-1.5-1.5-5.5 .5-3.5-1.5-1.5 2.5-11 0 6-11 2.5-2.5 3.5-1.5 5.5 .5 3.5 2.5 3 0 17.5-2 11 1 13.5-1.5 12.5 .5 14-1.5 12 0 1-1 0-10-1-1.5-8 1.5-34.5-.5-25 1-19.5-2.5-11 2-3.5 3.5-3 7-2.5 16-10.5 0 3.5-18.5 4-9.5 6.5-6.5 8-2.5 9-1.5 21 2.5 21-1 34.5 .5 17.5-3 38.5-15 21.5-5.5 19.5-7.5 10.5-1 36.5 7 23.5-5 1.5-2.5 2.5-19.5 3.5-5.5-6-15-21.5 6-15 2.5-4 2.5-8.5 .5-13 3.5-32 17.5-3 3.5-5 9.5-2.5 2.5-12 3-5 1-3.5-2-8 0-23 4-10.5 0-5-1.5-6.5-3.5-14-3-7.5-.5-2 1 .5 6.5-3 7-4 3.5-5 1-5.5-1-4-3.5-2-4.5-.5-5.5-39.5 1.5-9 4.5-7 2-9.5 1.5-48 13-8.5 0-6-2-5-4-2-4-1.5-9.5 4.5-44 0-1-2-.5-.5 7-1 4.5-12 22-.5 8 2 2.5 3 8.5-2 12-1 2-2.5 1-5.5-.5-4.5 5.5-3.5 8 .5 8.5 4.5 12.5-10.5 0-3.5-10-.5-13.5 3-8 7.5-10 2-5 1.5-26 2-11 2.5-3.5 5-1 3.5-6.5 .5-3.5-1-9 1-2.5 3.5-2 1.5-7.5 0-7.5-1-4-7.5 12.5-3 1.5-4-2-1 .5-1.5 3-2.5 13.5-3.5 5-4 2.5-9 0-11.5-9-2-6-1.5-16.5-1.5-3-2-1-3 1.5-2 5-2.5 19.5-3.5 2.5-4.5-1.5-6.5 6 16.5 14 12-1.5 12 1 7 3 3 3 3 4.5 1.5 9-1 5-3 6-8 6-6.5 3-3 3.5-1 12 6.5 28-10 0-6.5-25.5 0-11 2.5-9 6.5-6.5 11-6 2-4-.5-7-2-3-4.5-1.5-6.5-.5-14.5 1.5-4 16.5-3 5.5-5.5 7.5 0 31.5-3.5 6-3 3-4 2.5-9.5 0-3.5-1.5-.5 1.5-42 0 0-36 2.5-1.5 1.5-2.5-2.5-4-1.5-.5 0-13.5 5.5 2 5.5 7.5 6 1 8 5 2.5-.5 6-6.5 12-28 7.5-11-4.5-1-8.5 8-9 6.5-11 5.5-7.5 2-12.5 1.5 0-10.5 10-.5 15-6 9-6.5 9-8.5 8-4.5-3.5-1.5-4.5 3-28 1.5-15 4.5 0-10.5 8-3 7.5-4 11.5-3 17 .5 7 1.5 10 3.5 3-1 3.5 .5 1-11 4-11.5 3-4 3.5-1.5 7.5-1 5.5 2.5 4.5 6.5 3 21 5 5 3.5 1 2-2.5 2.5-13.5 4.5-8.5 7.5-10 3-1.5 3 .5 1.5-2 0-1.5-4-2.5-2-3.5-2-8 1-12.5 3-5 3.5-1.5 8 1 4.5 2 8.5 6.5 3 5 0 5-1.5 3.5-8 8.5 3.5 15 0 12-1 5 12-3 10 .5 .5-1.5 0-18 1.5-7.5 3-5 5.5-5 3.5-1.5 6 .5 3.5 1 3 2.5 4.5 9 2 14 2.5 1.5 2.5-1.5 2.5-3 5.5-12 5.5-5 8-2 7-.5 12 2.5 5.5 2 14.5-6.5 7.5-5.5 7.5-7.5 4.5-7.5 5-12-3.5-4-12.5-1.5-6.5-2-2.5-2.5-1.5-4.5-3.5 2-3 19 5.5 4 1 3 0 2.5-3 1-9-1-5.5 2.5-6-2.5-5-.5-25.5-.5-10-2-43.5-3-4-2-4.5-6.5-23.5 1-25-7.5-7 1-5 3.5 3.5 4.5 2 4.5 1 9.5-1.5 5.5-6 10.5-11.5 9.5-12 4-21.5-2-16 6-28.5 14 0-10.5 28.5-14.5 14-5 7.5 0 13.5 2 9.5-2.5 9.5-8.5 3.5-6 1-5.5-1.5-6-5-.5-8.5 3-5.5 3-7 5-10 9-12.5 5.5-18.5 3.5-12.5-3.5-3-2.5-1.5-6.5-1.5-1.5 0-52zM663.5 7l-26 2-38.5 15-7.5 3-5 3.5-19.5 15.5-1.5 3.5-2 10 .5 12 1 8.5 5.5 15.5 2.5 11-2 2.5-6.5 2.5 1 3.5-2 2.5-7 3.5-8.5 6.5-8.5 1 2.5 7 5.5 8 9.5 5.5 10.5 3 12.5 6.5 13.5 4 5 4.5 2.5-1.5-11-27 1.5-4.5 5.5-1.5-1-7.5-9 .5-2-1.5-1.5-3 1-2.5 1.5-1.5 13-4 1-2.5-3-1-1.5-2-1-13-8.5-3.5-1-2.5 0-3 13-23.5 7-7 15-9 16-4.5 15.5-11 6-7.5 10-16-4 0zM285.5 8l-5.5 2.5-1.5 2.5 15 2 7.5 7 3.5 2 3-.5 2-2 1-4.5-3-3.5-14.5-5-7.5-.5zM683 8l-2 2 .5 3 2.5 1.5 3-.5 1.5-2 0-2-2-1.5-3-.5zM226.5 10l0 3 5 17.5 13 1 0-13-9-2-4.5-6-4.5-.5zM214.5 15.5l-8 1.5-1 3.5 .5 5.5 8 2 4 0-.5-5.5-3-7zM443.5 19.5l-6.5 29.5 0 11.5 1 4 6-2.5 3.5-3 10.5-16.5 1.5-3.5-1.5-4-11-14-3-2zM405.5 23.5l-4.5 1-2 2.5-1 2.5 1 3 6.5 1 3.5-.5 2.5-2 1-3-.5-2-3.5-2.5-3 0zM668 26l-7.5 10.5-.5 14.5 1.5 2.5 3 1.5 3.5-.5 3.5-2 2.5-3.5 1-3.5-.5-3-3.5-6.5-1.5-8-1.5-2zM427.5 30l-5.5 2-2 7-4 8.5-4.5 7-7.5 6.5-7.5 3.5-13 3.5-2.5-1.5-9.5-8-10-2.5-2.5 1.5-1.5 4.5-.5 3 .5 2.5 7 7.5 9 6.5 1 2.5 0 3 2.5 2.5 1.5-4 3-2 16.5-3 14-4 14.5-6.5 1.5-1.5-1-6 0-16 3.5-15.5 0-1-3 0zM734 32.5l6 15 3 10.5 .5 6-1 3.5 3 .5 2-7-2-3 0-2.5 1-2.5 3.5-3-4-3.5-4.5-10.5-7.5-3.5zM134 46.5l0 7 1 5 1.5 1 3-.5 4.5-3.5 1.5-2.5-4-4-4.5-2.5-2.5-.5zM293 53l-9.5 10-4.5 3-5.5 4-12 5-4 3-3 0-8-3-11.5-2-9.5 2-1.5 2-2.5 7.5-4 5.5-4.5 4.5-5 2.5-6.5-.5-6-4.5-2-6-1.5-11.5-1.5-4-3-2-3.5 1.5-2 3-1 6.5 0 15 1 9-1 4.5-4 2.5-2.5-1-2.5-2.5-5-.5-8 .5-1 1.5-2.5 12-3 32 .5 10 5.5 2.5 5.5 0 20.5-6 11-2 15-5-13-3-10.5 .5-9.5-1.5-8.5-3-4-4.5-1.5-4.5 0-5.5 2-4.5 4-4 5.5-3.5 4-1.5 12.5-1 13.5-8 8.5-.5 11-6.5 7-.5 6-10.5 8-4.5 11-3 26 5.5 10.5-3-.5-18 1-9-.5-5zM729.5 57.5l-.5 3.5 3.5 2 .5-3-1.5-2.5-1.5-.5zM517 71.5l-1.5 1.5-.5 3 .5 3.5 1.5 2 5.5-4-1.5-4.5-3.5-1.5zM332.5 76.5l-3 6.5-5 4-6 1.5-9.5 0-4.5 1-5 3.5-5 2.5-13 3 12.5 2 11 4 5 .5 35.5-6 9.5-.5 8 1 8-1.5-3.5-4-3-1.5-17.5-3.5-7-3-3.5-3.5-3.5-6zM646.5 81.5l-3 3 3.5-1 .5-2-1 0zM429.5 92l-1 2 1.5 .5 1.5-.5 0-2-2 0zM258 93.5l-9.5 1.5-4 2.5 7.5 1 4.5-1.5 22 1.5 2-.5-22.5-4.5zM694 97.5l-8 2.5-3.5 2.5 4.5 10 5 0 2.5 4.5 5.5 1.5 5.5-7 1.5-6.5-8-6.5-5-1zM726.5 98l-2.5 1.5 4 1.5 3.5-1.5-1-1.5-4 0zM623.5 100l-8.5 3.5-1 8.5 .5 1 11-2.5 10 4.5 5.5-1.5 3 2 1 4 5.5-6.5-2-2-8-4-3.5 3-4 0-2.5-3-.5-5-3.5-2-3 0zM360.5 102l-4.5 3.5 0 2 1 1 3.5 0 3-3 0-3-3-.5zM674 110l-6.5 2.5-8.5 6.5-3.5 4 0 1 3 2 1.5 5.5 13.5-10.5 4-4.5-3.5-6.5zM618 113.5l-4.5 1.5-3 9 .5 6 2.5 9 4 8 6-3.5 4.5 0-1.5-4 0-5.5 2-6.5-3-3.5-2.5-9-2-1.5-2.5 0zM519 127l-4.5 1.5-2 16.5-2.5 6.5 26.5 3.5 7-2-8-9.5-6.5-12.5-5-3-5-1zM683.5 127l-8 4.5-3 4 10-.5 2.5-1 1-5.5-.5-1-2-.5zM179 127.5l-5 3.5-1 2.5 1 2.5 6 2.5 7.5 .5-4-4.5-3-7-1 0zM61.5 128.5l-7 9.5-6.5 14.5-2.5 8-4 7-7 8.5 3 8.5 6.5 8.5 4 8 2 1 3-.5 3-4 0-29.5 2-5.5 7-10 3-11 .5-7.5-4-4-3-1.5zM700.5 129.5l-1 1 .5 1 4.5-1-1-1-3 0zM600.5 130l-1.5 4 2 5 2.5 3-3-12zM647 133l-6 6 3.5 3.5-.5 4-3 2.5-5 .5 0 1 4.5 2.5 5-2.5 5.5-1 8.5 2.5 12.5 5 3 .5 4-1.5-.5-10-21.5-1-2.5-3.5 1-5.5-4-1-4-2zM726 134.5l-7.5 1.5-13 5-6.5 1.5-.5 1 3.5 5 18 .5 4.5 2.5 3.5 3.5 .5-6 4-4-3-9.5-3.5-1zM290 152.5l-2 3 1.5 1.5 2-1 1-2-1-1.5-1.5 0zM436.5 153l-6 1-23.5 9-9 1.5-9 4 12-1.5 51.5-11.5-16-2.5zM707 158l-2 1-2 4.5 7.5-2 5.5-3-9-.5zM474 160l.5 3.5 3 3 3.5 .5 3-2.5-.5-4.5-9 0zM649.5 160.5l.5 3-1.5 2.5-8.5 4-7.5 8-3 1-4 0 4 10 5.5 7 4 3.5 2-8.5-4-1.5-2-3.5 1-2.5 2.5-2.5 6.5-3 13.5-1 13.5-4 17.5-2 6.5-3.5-9.5-2.5-9 2-5 .5-17.5-6.5-5.5-.5zM726.5 161.5l-4 5-3.5 2-13.5 5.5-6 3.5 7 3.5 5 4 3.5-4 3.5 .5 5.5 8 3.5 10.5 4 2 1-1.5-.5-9.5-4.5-8.5-1.5-6.5-.5-6.5 1.5-8.5zM595.5 177.5l-4 1.5 0 1 5.5 7.5 2.5 0-2.5-9.5-1.5-.5zM325.5 0l36 0 1 5.5 2 2.5 5.5-3.5 2-4.5 11 0 .5 11.5-.5 8-3 3-14 1.5-6.5 2.5-11.5 1.5-6-1.5-7-4-6-6-2.5-5.5-1.5-11zM174 184.5l9 .5 8.5 5 5 7.5 2.5 7 1.5 7-10.5 0-.5-5-3.5-7-5-4.5-3.5-1-3.5 1.5-3.5 4-7 12-11 0 10-18 6-6 5.5-3zM655 205l2.5 2 1 4.5-6 0 .5-4.5 1.5-2z"/>
<path fill="#93ff6d" d="M.5 0l27.5 0 3.5 2.5 12 3.5 13.5-2 5.5 1 .5-5 9 0 1.5 11 .5 .5 3.5-2 1 1 2.5 5.5-1 5 1.5 1 8-5.5 10-2.5 5.5 0 25.5 7 41.5-1.5 7 .5-4.5-8-2-7-19 12-6.5 1-7-2.5-11.5-5-5.5-1.5-6.5-2.5-5.5-3.5-1-3 19.5 0 19 8.5 14-8.5 19.5 0 .5 7 2.5 5 2 2 4 1.5 1.5-1-7.5-10.5-1.5-4 23.5 0 0 3.5 1.5 .5 3.5-.5 0-3.5 53 0 3.5 10.5 3-5 7-5.5 21 0 13.5 6 5 4 2 5 0 6-3 6.5-5.5 4.5-9.5 1.5-2 4.5 3 13-1 28.5 14-.5 6-1.5 1.5-5 1-18.5 2.5-3.5 3-1 2.5 1 3 3 5.5 17 3.5 7 5 2.5 3.5 .5 3-.5-6.5-7.5-2.5-7.5 3-11 3.5-4.5 5-3 6 0 10.5 3 10 8 9-2.5 6.5-3.5 3.5-3 3-5-11-2-5.5-4.5-2.5-8.5 2-5.5 2.5-3.5 6-4 5-1.5 6 0 6.5 3 5 4.5 6.5-1.5-4.5-3-4.5-5.5-2-5.5-.5-6 9 0 1 4 4.5 5 2.5 2 3 .5 1.5-.5 1-2.5 1.5-8.5 29.5 0 1.5 3.5 .5-3.5 114 0 2 2 9.5 6 4.5 1.5 3-1 3-2 2-3 .5-3.5 59.5 0 .5 2-.5 2.5-2.5 2-24.5 2.5-5-.5-38.5 15-12.5 6.5-19.5 15.5-1.5 3-2 11 0 11.5 1.5 9 7 20 .5 7-2 2.5-6.5 2 1 3.5-2 3-7 3-8 6-9 1.5 5.5 11.5 2.5 3.5 4.5 3 5.5 3 10.5 3 12 6 14 4.5 3 2 2.5 3.5 4.5 0 3 6.5 1.5 6.5-1 4-2.5 2 9.5 4.5 3 3.5 2.5 6.5 .5 9.5-9 0-2-11.5-3-2-5-1-1 .5-2.5 5-2.5 9-102.5 0-.5-5-.5 5-63 0 2.5-5.5-4.5-1.5-7 1.5-1.5 2.5-.5 3-153 0-1.5-2-7.5 .5-3.5-1.5-2 3-10 0 5.5-11 2.5-2 3.5-1.5 5.5 0 3.5 3 3 0 17.5-2 8.5 1 16-1.5 12 .5 14-2 13 0 1-1-1-12-8.5 1.5-34.5-.5-25 1-19.5-2-11 2-3.5 3-3.5 7.5-2.5 16-9.5 0 3-18.5 4-9 6.5-6.5 8-3 9-1 21 2.5 21-1 34.5 .5 18-3.5 38-14.5 21.5-6 19.5-7.5 10.5-.5 36.5 7 12-2 12-3.5 1.5-2.5 2-19 4-6-6.5-15-21.5 6-15 2-4 3-8.5 0-13.5 4-31.5 17-2.5 3-5.5 10-2.5 2.5-12.5 3.5-4.5 .5-3.5-1.5-8 0-23 3.5-10.5 0-11-4.5-14.5-3.5-7.5 0-2 1 .5 6.5-3.5 7-3.5 3-5 1-5.5-1-4-3-2-4.5-.5-6-39.5 2-16 6-9.5 1.5-48 13-8.5 0-6-2-5-4-1.5-3.5-1.5-9.5 4.5-44.5-2.5-1.5-2 11.5-12 22.5-.5 8 2 2.5 3 8.5-2 12-3 3-5.5-1-5 6-3.5 8 .5 8.5 4.5 12.5-9.5 0-4-10-.5-13.5 3-7.5 8-10.5 2-5 1.5-26 2-11 2.5-3.5 4.5-.5 4-7.5 .5-3-1.5-9 1.5-2.5 3.5-1.5 1.5-8 0-7.5-1.5-5-7.5 13.5-3.5 1-4-2.5-.5 .5-2 4-2 13-3.5 5-4 2.5-9 0-11.5-8.5-1.5-6-1.5-16.5-1.5-3-2-1.5-3.5 1.5-2 4.5-1.5 5.5 0 9-1.5 6-3.5 2-4-1.5-7 6.5 17 14.5 12-1.5 11.5 .5 7.5 3 3 3.5 2.5 4.5 1.5 7-.5 5.5-3.5 7-7.5 5.5-6.5 3-3.5 4-1 12 6.5 28-9.5 0-5.5-22.5-.5-14 1-6.5 1.5-3 6-5.5 11.5-6.5 2-3.5 0-4.5-1-3.5-2-3-4.5-1.5-6.5-.5-15 2-4 16.5-3 5.5-5.5 7.5 0 31.5-3.5 6-2.5 3-4.5 2.5-8.5 0-4.5-2.5 0 2.5-42 0 0-34.5 2.5-1.5 2.5-3.5-5-6 0-12 5 1.5 5.5 7.5 6.5 1 8 5.5 3-1 5-5.5 3-5 9.5-24 8-11.5-5.5-.5-8 8-9 6-11 5.5-7.5 2.5-12.5 1 0-9.5 10-.5 15.5-6.5 8.5-6 9-9 8.5-5-4-1.5-4.5 3-28 1.5-15 4.5 0-10 8-2.5 7.5-4 11.5-3 21 1 13 4.5 3.5-1 3 1 1-2.5 0-9.5 4.5-11.5 2.5-3.5 4-2 7-.5 5 2 4.5 6.5 3 21 6.5 6 3 0 2-2.5 2.5-13.5 4.5-8.5 7.5-10 2.5-1 3.5 .5 1-2.5 .5-2-4-2-2.5-3.5-1.5-8 1-12.5 2.5-4.5 3.5-1.5 8 .5 4 2 8.5 6.5 3.5 5 0 4.5-1.5 3.5-8.5 8.5 3.5 16 0 11.5-1 5.5 12.5-3 10.5 0 .5-19.5 1-7 3-5.5 6-5 3-1 6 0 3.5 1.5 3 2.5 4 8.5 2.5 14.5 2.5 1.5 2.5-1.5 3-3.5 5-12 6-4.5 8-2.5 6.5 0 12 2 5.5 2 14.5-6 8-6 7-7 4.5-8 5-12-3.5-4.5-12.5-1-6.5-2.5-2.5-2.5-1-5-4.5 3-3 19.5 5 3 1.5 3 0 2.5-2.5 1.5-9.5-1-5 2-5.5-2-5.5-1-25.5-.5-10-2-43-3-4-1.5-5-7-23.5 1-25-7.5-7 1-4 2.5-1.5 2 2.5 2.5 3.5 6 .5 9.5-1.5 5.5-5.5 10-11.5 9.5-7.5 3-4.5 1-22-2-16 6.5-28 13.5 0-10 29-14 13.5-5 7.5 0 13.5 2 9.5-2.5 9.5-8.5 4-6.5 1-5.5-.5-4-1.5-2.5-5-.5-14 6-7 5-10 9-13 6-18 3-12.5-3-2.5-2.5-2-7-1.5-2 0-51zM284 8l-4.5 2.5-1.5 2.5 15.5 2.5 7.5 7 3.5 2 3.5-1 1.5-1.5 1.5-5-3-3.5-5-2.5-10-3-8.5 0zM226 9l0 4 5 17.5 13.5 1.5 .5-13.5-9-2-4.5-6.5-5.5-1zM13.5 12.5l-1 2.5 1 2 .5-4.5zM212.5 14.5l-1 1-5.5 1.5-1 3.5 .5 5.5 12.5 2.5 .5-3.5-2.5-8.5-1-1.5-2-.5zM445 18l-2 1.5-6.5 29 0 12 1 4.5 6.5-3 3-2.5 13-20-1-3.5-9.5-12.5-2-5-2.5-.5zM404 23.5l-4.5 2-2 3.5 .5 3 1.5 1 4.5 1 5.5-1 3-3 .5-3.5-4.5-3.5-4 .5zM428.5 29.5l-6.5 2-2.5 7.5-4 8.5-4 6.5-7.5 6.5-7.5 3.5-13 3.5-2.5-1-9.5-8-10-3-3 2-1.5 4.5-.5 3 1 3 7 7.5 9 6.5 1 2 0 3.5 3 2.5 1-4 3-2 19.5-4 14-4.5 12-5.5 1.5-1.5-1-6 0-16 3.5-16.5-.5-1-2 .5zM134 46l-.5 7.5 1 5.5 2.5 1 2.5-.5 5-4 1.5-2.5-4.5-4.5-4-2-3-1zM293 52l-10.5 11-9 6.5-12.5 5.5-3.5 2.5-3 .5-7.5-3.5-12-2-9.5 2-1.5 2-3 8-3.5 5.5-4.5 4-5 2.5-6-.5-6-4-2.5-6-1-11.5-1.5-4-3.5-2.5-4 2-2 3-1 6.5 0 15.5 1 8.5-1 4.5-1.5 1.5-2.5 .5-2.5-1-2-2.5-8.5-.5-5 1-1 1.5-2.5 12-3 32 0 7 1 3.5 5.5 2.5 5.5 0 20.5-6.5 10.5-1.5 18.5-5.5-16-3.5-10.5 .5-9-1-7.5-2.5-3-2-3-5-1-3.5 .5-5.5 3.5-5.5 7-5 4.5-1.5 12.5-1 13.5-8.5 4-.5 3.5 .5 12-6.5 5 0 2.5-1 5.5-10 8-4.5 11-3 26 5.5 10.5-3 0-18.5 1-12.5-1-2.5zM516.5 70.5l-2 2-.5 4.5 1 4 2 2 6-6-2-4.5-2.5-2-2 0zM332.5 76l-3 7-5 3.5-6 1.5-9.5 0-5 1-6.5 5-9 3-8 .5-22-4.5-10 1.5-4.5 3 8 1 3.5-1 6 0 25 2 7.5 1 10.5 4 5 .5 35.5-6 11 0 4 1-5.5 5-1 2 1 2 4 2 4.5-1.5 3.5-5.5-.5-4 5.5-1.5-2-3-5.5-3.5-17-3-6.5-3-3.5-3-4.5-7.5zM429.5 90l-3.5 2.5 0 3 2.5 1.5 4-.5 2-2 0-2.5-2-2-2.5 0zM180 127l-3 1-3.5 3-1 2 1 3 6.5 3 9 .5-5-4.5-4-8zM517 127l-3 1.5-1.5 16.5-3 6.5 27 3.5 7.5-1.5-8-10-7.5-13.5-7-3.5-4 .5zM61 128.5l-7 9.5-6.5 14.5-2.5 8-3.5 6.5-7.5 9 3.5 9 6 8 4.5 8.5 2 1 3.5-1 3-4-.5-29.5 2-5 7-10.5 3.5-11 .5-7.5-4.5-4.5-2.5-1.5-1 .5zM289 152.5l-1 2.5 0 1.5 3 .5 1.5-4-1-1-2 .5zM434.5 153l-21 7.5-20 5.5-6.5 3 13-1.5 54-12-15-3-4.5 .5zM473.5 159.5l0 4 3.5 3.5 4.5 .5 3-2.5 .5-3-1-2.5-10.5 0zM563 162l5.5 2-3.5-2-2 0zM595.5 177l-4.5 2 0 1 6 7.5 4.5 0-2-2-2.5-8-1-.5zM587.5 200l-.5 1 1.5-.5-.5-.5zM325.5 0l35 0-.5 13 1 2 6-4 5.5-7.5 .5-3.5 9.5 0 1 11.5-1 8-2.5 2.5-14 1.5-10 3.5-8.5 .5-5.5-1.5-7-3.5-5.5-6-3-5.5-1-11zM675 0l33 0-7 8.5 11 1.5 5.5 3 7 5.5 2-1 1.5-4 7-.5-1-13 32.5 0 0 45-4 2 4 1 0 52.5-6 2.5-2.5 4.5 2 4 6.5 2 0 2-31.5 7.5-4-1.5-15-10-5.5 9.5 10.5 4.5 9-.5 5.5 2.5 4 4.5 6 10.5 2 1 6-1.5 2-1.5 0-3.5-1.5-6.5 .5-1 12-3.5 0 46.5-6.5 .5-2 3 .5 3.5 2.5 3.5 2.5 2 3 .5 0 26-56 0-1-9.5-2-6-2.5-3.5-6-4.5-1.5 1-2 3.5-1.5 19-10 0 2.5-21.5 5.5-9-1-.5-16.5 1.5-21 7.5-2.5 3.5-2 6-.5 12.5-9.5 0-6.5-4.5-11-13-6-14-2-8-9.5-5-3.5-4.5-3-5.5-7-18 .5-3 1.5-2 2.5-1 3 1 7.5 16 2 1.5 0-1.5-3.5-8.5-3.5-15-3 4.5-1.5-7-8 1.5-2.5-1-1-2 0-3 1.5-2 13.5-4.5 1-2.5-.5-1-3-.5-1.5-1.5-1-13-8.5-4-1-2.5 .5-3 13-23 6-6.5 15.5-9 16-4.5 10.5-7 5.5-4.5 16.5-24 6.5-6.5zM682.5 6.5l-3.5 4 1.5 4 4.5 1.5 5-2.5 1-2.5-1-2.5-4-2-3.5 0zM668 24.5l-9 12.5 .5 15 1.5 2.5 3 1 4.5 0 3.5-2 3-3.5 2-4.5-.5-3.5-4-6.5-1.5-8-2.5-3zM733 31.5l6.5 16 3.5 10.5 0 6-1.5 4 4 1 2.5-8-2-3 0-3 1.5-2.5 4-2.5-5-3.5-2.5-8.5-2-3-8.5-3.5zM627 54l-4.5 1.5-1.5 1.5 7.5-3-1.5 0zM728.5 56.5l-1 2.5 .5 2 3 2.5 1.5 0 1-2-1-3-1-1.5-2.5-.5zM647.5 80l-5 4 0 2.5 4-.5 4-2-.5-2.5-2-1.5zM663.5 80.5l-1.5 1.5 0 1 3-1.5 0-1-1.5 0zM733 87.5l0 1 1.5 .5-1-2zM692.5 97.5l-7.5 3-3 2 5 10.5 4 .5 3 4 6.5 1 5-7 2-6.5-9-7-5.5-.5zM727 97.5l-3 1-1 1.5 5 1.5 4.5-1.5-1.5-2-3.5-.5zM622 100l-7.5 3.5-1 10-3.5 10 1.5 10.5 2.5 7.5 3.5 7 5.5-3 2.5 0 14 8.5 6-3 5-1 9 2.5 12.5 5 3 .5 5.5-2-.5-10.5-22-.5-2.5-1.5-1-2.5 1-3 2.5-3 12-11.5 5-3.5 3-3.5-3-6.5-7.5 2-11 9-2 3 3 3 .5 4.5-1.5 2-4 .5-4.5-2.5-6 6.5-2 .5-3-1 .5 2 3 0 2.5 1 1 2 .5 2.5-1.5 2.5-2.5 1-6.5 .5-3-2-3.5-7-.5-7 3-8.5-2-.5-1.5-1.5-1-7.5-2-3 2-1 2.5 .5 7.5 4 3.5-2 3 .5 2.5 3-.5 4 2.5-2 4.5-6.5-11-6-3 3-4 0-2-2.5-.5-5-4-2-4 0zM682.5 127l-7.5 4.5-4 4 6.5 .5 8.5-1.5 1.5-4 0-3-1.5-1-3 .5zM700.5 129l-2.5 1 0 2 4.5 0 3.5-2-5.5-1zM724.5 134.5l-6 1-21 7.5 .5 2 3.5 4 15-.5 4.5 1 5.5 4 1 3.5 0 2.5-2.5 3.5-3.5 3.5-16.5 7.5-7 4 5.5 1.5 8.5 6.5 3.5-3 3.5 .5 3 4 2.5 4.5 1 10 6.5 2 1-1.5-.5-11.5-5-10.5-1.5-11 .5-5 2-5.5 0-9.5 5-4.5-3-9.5-3-1.5-3 .5zM705.5 158l-1 .5-4 6.5 10-3 6-3.5-2-1-9 .5zM648.5 160l-1 1-1 3.5-7.5 4.5-7 8-4.5 .5-3-3 0 3 4.5 11.5 5.5 7 4.5 4 2.5-9-4.5-1.5-1.5-3.5 1-2.5 2.5-2.5 6-2.5 13.5-1 13.5-4.5 17.5-1.5 10.5-6-5.5 .5-6.5-2-10.5 3-5 0-17.5-6.5-6.5-.5zM176 184.5l7 1 8.5 5 4.5 7.5 2.5 6.5 1.5 7-9.5 0-1-5.5-3.5-7-5-4.5-3.5-1-4 2-3.5 4-6.5 12-10.5 0 9.5-18 6.5-6 7-3z"/>
<path fill="#b2ff4e" d="M.5 0l27 0 3.5 2.5 12 4 16.5-2 1.5 .5 2 4.5 .5-1.5 0-8 8 0 1.5 11.5 1 1 3.5-2 1 .5 2 5.5-1 4.5 2 1 8.5-5.5 9.5-2 5.5 0 25.5 7 41-2 8.5 .5-5-8-2-7.5-19.5 12-6.5 1-18.5-7.5-5-1-7-3-5-3-1-3 18 .5 20 8.5 14.5-9 18.5 0 1 7 2 5 2.5 2.5 4 1.5 1.5-.5 .5-1-8-10.5-1.5-4 23 0 0 4 2 .5 4-.5 .5-4 51 0 3.5 11.5-1 2-3.5 2-3.5 20 5.5 3.5 1.5 4.5-2.5 1.5-9.5-1-5 2-5.5-2-6-1-25-.5-10-1.5-42.5-3-4.5-1.5-5-7-23.5 .5-27-7-7 1.5-4 3.5 4 4.5 2 4.5 .5 5-.5 8-2.5 6-3.5 5.5-11.5 10-7.5 3-4.5 .5-22-1.5-16 6-28 13.5 0-9 25-12.5 11.5-5 6-1.5 6.5 0 15 2 9.5-3 6-5 6-7 2.5-8.5-2-6.5-5.5-.5-14 5.5-7 5-10.5 9.5-12 5.5-18 3.5-12.5-3-3-2.5-1.5-7.5-2-2.5 0-11.5 2-3.5-2-3 0-32zM226.5 8l-1 .5 .5 4.5 4.5 17.5 5 1 9.5 .5 0-14-8-1.5-4.5-7-2.5-1.5-3.5 0zM13.5 10.5l-2.5 5 2 3.5 1-.5 .5-4.5-.5-4zM209.5 13l-1 .5 1 1.5-3.5 1-.5 1-1 3.5 1 5.5 6 2 7 .5-.5-6-2-7-4.5-2.5-2 0zM23.5 13.5l0 5.5 1-3.5-1-2zM39.5 49l-1.5 2 2.5 0 3-1.5-1.5-1-2 .5zM279 0l19 0 7.5 2.5 9.5 5 3 3 1.5 3.5 0 7-2.5 6-5.5 5-10 1.5-1.5 4.5 2.5 13-.5 29 14-.5 6-2 2-5 1-18.5 2.5-3.5 2.5-.5 2.5 .5 3 3.5 5.5 17 3.5 7 5 2 7 1 0-1-6.5-7.5-2.5-6 .5-5.5 2-6.5 3.5-4.5 5-3 6 0 10.5 3 10 8 9-2.5 6-3 4-3.5 3.5-6-11.5-1.5-5.5-5-2-8 2-5.5 2.5-3.5 5.5-4 5-1 6 0 6 2.5 5.5 5 8-2-6-3.5-4-5-2-5.5-.5-6 8 0 1.5 5 4 5 6 2 2-.5 1.5-1.5 1.5-10 28 0 1 3.5 2 2 .5-5.5 111.5 0 1.5 2 11.5 6.5 4.5 1.5 3.5-1 3-2 2-3.5 .5-3.5 18 0 .5 1.5 5.5-1.5 35 0 0 3.5-2.5 2.5-25 2.5-4.5 0-46 18-12.5 8.5-12 10-1.5 3.5-2 10.5-.5 12 2 9.5 6.5 18.5 1 8-2.5 2.5-6 1.5 1 4-1.5 2-8 4-6.5 5.5-3.5 1-7 .5 3 8 6.5 8.5 8.5 5 10.5 3 10.5 6 16 5 3.5 2.5 1.5 3.5 4.5 2 3.5 8-.5 3.5-1.5 2-4.5 0-3-8.5-6 2-.5 1 6.5 8.5 10 1 8.5 4.5 2.5 4 1 4.5 .5 9.5-8 0-2-11.5-3.5-2.5-5-1-1.5 1-2.5 4.5-2.5 9.5-99.5 0 0-8.5-1.5-2.5-2.5 1-1.5 2-1 8-59.5 0 3-6-2-1.5-4-.5-8 2-1.5 2-.5 4-150 0-2-2.5-8.5 .5-3.5-1.5-2 3.5-9.5 0 5-10.5 3-2.5 3-1 5.5 0 3.5 3 3 0 17.5-2 8.5 .5 16-1 11.5 0 14-1.5 13.5-.5 1-.5 0-11.5-1-1-8.5 1-34.5-.5-24.5 1-20-2-6 1-6.5 2-3 3-2.5 6-3 17-8.5 0 3-18.5 4-9 6.5-6.5 7.5-2.5 9-1 21 2.5 21-1 34.5 .5 18-3.5 38-15 21.5-5.5 20-7.5 10-.5 36.5 7 24-5.5 1.5-3 2.5-19 4-5.5-5.5-14-1.5-2-21.5 6.5-15.5 2-3.5 2.5-8 .5-14 3.5-31.5 17.5-3 3-7.5 12-12.5 4-4.5 .5-3.5-2-8 0-23 3.5-10.5 0-10.5-4.5-14.5-3-7.5-.5-3 1 .5 7-3 7-4 3-4.5 .5-5.5-1-4-3-1.5-4-.5-6-40.5 1.5-9 4.5-7 2-9 1.5-48 12.5-8.5 0-5.5-1.5-5-4-2-4-1-9 4.5-45-3-1.5-1 1 0 6.5-1 4.5-12 22-1 8.5 2.5 3 2.5 8-1.5 11.5-3 3-5-1.5-6 7-3 8-.5 5 5 16-8.5 0-4-10.5-.5-13 3-7.5 7.5-10 2-5.5 2-26 1.5-11 2.5-3 4.5-.5 4-7.5 1-3.5-1.5-9 1.5-2.5 3-1 2-8.5 0-7.5-1.5-6-8.5 14.5-3.5 .5-3.5-3-2.5 5.5-2.5 13-3 4.5-4 2.5-8.5 .5-12-9-3-22-1-3-2.5-2-3.5 1.5-2.5 4.5-1 5.5-.5 9.5-1 6-3.5 1.5-4-2-4 5-4 2.5 17.5 14.5 4 .5 9-1.5 11 .5 7 2.5 3.5 3.5 2.5 4.5 1 8.5-.5 5-3 5.5-8 6-6.5 3-3 3.5-1 13 6 27.5-8.5 0-5.5-22.5-.5-14 2-9 6.5-6 6.5-3 5-3.5 1.5-3.5 .5-4.5-1-3.5-2-3-5-1.5-6.5-1-15 2-4 16.5-3 5.5-5.5 8-.5 31.5-3 5.5-3 3.5-5 2-5.5 .5-7-3 0 3-12.5 0 5-11-1-3-2-1-3 1.5-2 3.5 .5 4 1.5 6-28 0 0-33.5 3-2 2.5-4-5.5-7.5 0-10 5 1.5 5.5 7.5 6 1 8.5 5 3-.5 6-6.5 12-28.5 8-11.5-3.5-1-2.5 0-8 8-9 6.5-11.5 5.5-7.5 2-12 1 0-8.5 10.5-1 15-6 9-6.5 9-9 9-5-5.5-2-3.5 3-25.5 1.5-9 1.5-9 3 0-9 8.5-3 7-4 11.5-2.5 21 1 13 4.5 3.5-1 3.5 1 1-12.5 4-11 2.5-3.5 4-2 7-.5 5 2 4.5 6.5 3 21 6.5 6 3 0 2-2.5 2.5-14 4.5-8 7.5-10 2.5-1 3.5 .5 2-4-.5-1.5-5-3.5-2.5-9 0-11.5 2-4.5 4-2.5 6 0 6.5 2.5 8 6 3.5 5 0 4.5-1.5 3.5-8.5 8.5 3.5 16 0 11.5-1 6 13-3 11 0 .5-20 1-7.5 5.5-7.5 5.5-3 8.5 .5 4.5 3.5 4 8.5 2 14 1.5 1.5 2 0 2.5-1.5 3-3.5 4.5-11.5 5.5-4.5 8.5-2.5 6.5 0 12 2 5.5 2 14.5-6 13.5-11 4.5-6.5 7-16-4-4.5-15-2-4-2-2-2-.5-5.5 2.5-5.5 3.5-4 4-2.5zM284.5 7.5l-5.5 3-1 3 15 2 7.5 7 4 2 3.5-.5 2-2 1-5.5-3-3.5-5-2.5-10-2.5-8-.5zM447 16.5l-4.5 3 0 3-4.5 18-2 9 1 15.5 6.5-2.5 3.5-2.5 13-20.5-.5-3.5-9-12-1.5-6.5-2-1zM404.5 23l-4 1-2.5 3-1 2.5 1.5 3.5 7.5 1 3.5-.5 3-3 1-3.5-1-1.5-4-2.5-3.5 0zM429.5 29l-8 2.5-2 7.5-4 8-4.5 7-7 6-7.5 4-13 3-12-9-4-1.5-6.5-1-3 2-1.5 5.5 .5 5 7 7.5 9 6.5 1 2 0 3.5 4 3.5 .5-4.5 3-2.5 19-3.5 14.5-4.5 12.5-6 1-1.5-.5-6 0-16 3.5-17.5-1.5 0zM134 45.5l-1 7.5 1.5 6 2 1 3-.5 5-3.5 2-3-5-5-4-2-3.5-.5zM293.5 51l-11 12-9 6-12.5 5.5-3.5 3-3 0-7.5-3-12-2.5-9.5 2-2 2-2.5 7.5-3.5 6-4.5 4.5-5 2-6 0-6-4.5-2-5.5-1.5-11.5-1.5-4.5-3.5-2.5-4 2-2 3.5-1.5 6.5 0 15.5 1 8.5-.5 4-1.5 1.5-2.5 .5-2-.5-2-2.5-9.5-1-4.5 1-1.5 2-2.5 12-3 32 0 7 1.5 3.5 5.5 2.5 5.5 0 20.5-6 10.5-2 15.5-4.5 9.5-1.5 .5-.5-9.5 0-13.5-3-16 0-10.5-2.5-3-2-3-4.5-1-4 0-5 3.5-5.5 7.5-5.5 4-1 12.5-1.5 13.5-8 4-.5 2 1.5 13.5-8 4.5 .5 3-1 6-10.5 7.5-4.5 11-2.5 26 5 11.5-3-.5-18 1-14-1-2.5zM516 70l-2.5 1.5-.5 5 1 5 3 3 2-4 4.5-3-2.5-5.5-2.5-2-2 0zM332.5 74.5l-3 7.5-4 3.5-7 2-9.5 0-5 1.5-6 4-9.5 3.5-8 .5-22-4.5-10.5 2-4.5 3.5 9 .5 9-.5 25 2 11.5 2 6.5 3 5 .5 35.5-6 10 0 2.5 .5-5 5.5-.5 2.5 1 2 5.5 2.5 3.5 0 2.5-2 5-7 .5-3.5 2-1-2.5-4-2-2-3.5-1.5-17-3-6.5-3-3.5-3-4.5-8zM429 89l-4.5 3.5-.5 4.5 4 1.5 6.5-1 1.5-3-.5-3.5-2.5-2-4 0zM537 108.5l.5 1.5 2 .5 0-1.5-2-1zM518 126.5l-4 1.5-2 17-3 6.5 23.5 3.5 5.5 .5 7-2-5-4.5-3-4.5-7.5-14-5.5-3.5-5.5-.5zM178.5 127l-5.5 4-.5 2.5 1 3 6.5 2.5 10 1-6-5.5-3-7.5-2 0zM61 128l-7.5 10-6.5 14.5-2 7.5-4 7-7 8.5 3 9.5 6.5 8.5 4 8 2 1 4-.5 3-4 0-30 2-5 7-10.5 3-10.5 .5-8.5-4-4-3-2-1 .5zM289.5 152l-2 3.5 .5 1.5 2 .5 2-1 1-3-1-1.5-2.5 0zM435.5 152.5l-5.5 1-16.5 7-19 4.5-9.5 4.5 15-2 55-12-5.5-1.5-13.5-1.5zM473 159l-1 2 1 3 4 4 4.5 .5 4-3 .5-3-1.5-3.5-11.5 0zM561 161.5l9 3-5-3-3.5 0zM355 189l-3.5 2.5 0 2 1.5 2 5.5 0 3-2 0-2-1.5-1.5-5-1zM576.5 196l-6.5 2.5-6.5-2-1.5 1 1.5 2.5 2.5 1.5 10 1.5 2.5-7-2 0zM589 198.5l-2.5 1.5-.5 3 3.5-.5 2-1.5 0-2.5-2 0zM326 0l33.5 0-.5 6.5-2 8 0 2 1 .5 5-2 6.5-5.5 3.5-5.5 .5-4 8.5 0 1 11.5-.5 7.5-3 3-13 1-7.5 3-11 1-5.5-1-7-3.5-6-6.5-2.5-5-1-11zM629.5 0l1 0-1.5 0zM675.5 0l29 0-6.5 8.5-.5 2 5.5-1 8.5 .5 6 3 7.5 7 2-1 1-4 8-.5-1.5-14.5 32 0 0 43.5-5 1.5-2 3 7 .5 0 50.5-6.5 3-2.5 3-.5 2.5 2 4.5 6 3-12 4-18 3.5-4-1.5-15-10-6 10 11 5 9-.5 5 2 4.5 4.5 5 9.5 2 2 9.5-2 4.5-3 6 0 0 33-7.5 .5-2 1.5-.5 2 1.5 4 2.5 4 3 2 3 .5 0 25.5-45 0 1-3.5 1.5-2 4-.5 4.5 .5 .5-1-.5-14.5-5-10-1-10.5 .5-5.5 2-5.5 0-9.5 1.5-2 3.5-2 0-1-2-8-3-2.5-10.5 1.5-13 5-7 1.5-2.5 1.5 5 6 16-.5 3.5 .5 4 2.5 2.5 3 0 3.5-2 4.5-3 3-29 14-18.5 2-21.5 7-2 3-2 7-1 12.5-8.5 0-6.5-4.5-6-6-3.5-4.5-4-7-4-10-1.5-7.5-9.5-5.5-4-4-3-6-6.5-18 .5-3 2.5-2 3 .5 1.5 1.5 8 18.5 2 .5 .5-1.5-7-20.5-1-9.5-3.5 5.5-1.5-5-8 1.5-3.5-2.5 0-2.5 1.5-2.5 13.5-4 1-1 .5-2.5-5-2-1-13.5-8.5-4-1-2.5 .5-3 12.5-22.5 6.5-7 15.5-9 15.5-4 10.5-7 6-5 16-23.5 7-7zM684 4.5l-6.5 7 2 4 4.5 1.5 6-2 4.5-4.5-4.5-4-6-2zM669.5 21.5l-11.5 16 1 3-.5 12.5 2 2.5 3 1 5 0 4-2 3.5-4 2.5-5.5 0-3-4.5-6.5-4.5-14.5zM732 30.5l7.5 17 3 10.5 0 6-1.5 5 5 .5 2.5-8.5-2.5-3 0-3 2-2.5 5-2.5-5.5-3-3-9.5-2.5-4-2-1.5-3.5 0-4-1.5zM727 42l.5 4 1.5 .5-2-4.5zM630.5 52.5l-7.5 2.5-2.5 2 1.5 .5 10-5-1.5 0zM728 56l-1 2.5 .5 3 3 2 2.5 .5 1-2.5-1.5-4-2.5-1.5-2 0zM664.5 77l-9 5-6.5-3.5-7 5.5-.5 3 2 1 10-2 6.5 1 3-.5 4-3 2-4-.5-2-3.5-.5zM733.5 86.5l-1.5 2 4 1-.5-2.5-1.5-.5zM700.5 89.5l1 2-.5-2zM713 93.5l.5 1.5 2-.5-2.5-1zM693.5 97l-9 3-3 2.5 5 10.5 3.5 1 2 3.5 8.5 1.5 5.5-7.5 1.5-6.5-8-7-5.5-1zM725.5 97.5l-2 1-1 2 6 2 3-1 2-1.5-2.5-2.5-5 0zM623.5 99.5l-9 3.5-.5 6-4.5 14.5 1 6.5 2.5 9 5 11 4.5-2.5 3-.5 13.5 7.5 6.5-3.5 5.5-.5 23.5 7.5 9-3-1-10.5-24 0-2.5-1-1-2.5 .5-2.5 3.5-4 11-10.5 7-5 1.5-3-3.5-7-7.5 2.5-11 9-2.5 3.5 2 4-1 3.5-2.5 .5-4-1.5-5.5 6.5-2 1-2.5 0-2.5-1.5 1.5 3.5 3.5 0 2.5 2 .5 2.5-1 2.5-3 1.5-4 0-4.5-1.5-4-7 0-6 6-15 4.5-4.5 2.5-.5 2 .5 1.5 4-2.5 6.5 5.5-6 4.5-6.5-11.5-6.5-3 3-3.5 .5-2.5-2.5 0-5-4-2-3.5-.5zM683 126.5l-8 4.5-4.5 5 7 .5 9.5-1.5 2.5-7-2.5-1.5-4 0zM698.5 129l-2.5 1 1 3 5.5-1 4.5-2-4-1.5-4.5 .5zM706 157.5l-2 .5-2.5 4.5-3 2-4 .5-5.5-2-12.5 3.5-7-.5-13.5-5.5-7-1-10.5 8-5 7-3 2-2 0-2-1-2.5-6.5-1 0 1 8 5 12.5 5.5 7 5 4 2.5-10-4.5-1-1.5-3.5 .5-2 2.5-2.5 6-2.5 13.5-1.5 13.5-4 17.5-2 12.5-6 12-4.5 3.5-2.5-3-1.5-8 .5zM627.5 112.5l3.5 1 2.5 2-1 2.5-2 2-1.5-.5-1.5-7zM764.5 127l2 0 0 3-6 .5-2-1 6-2.5zM696.5 179l6.5 .5 9.5 8 4.5-3 4 3 2 4 .5 4-1.5 4.5-3 2.5 .5 9-8.5 0-1.5-9.5-1.5-5.5-2.5-4-6.5-5-2 1.5-1.5 3.5-2 19-9 0 3-23.5 4.5-6.5 4.5-2.5zM174.5 185l8.5 .5 8 5 5 7.5 2.5 7 1 6.5-8.5 0-1-5.5-3.5-7-5-4.5-4-1-4 1.5-4 4.5-6.5 12-9.5 0 9-17.5 6.5-6.5 5.5-2.5z"/>
<path fill="#caff36" d="M.5 0l26.5 0 3 2.5 13 4 16-1.5 5 7.5-.5-12.5 8 0 1.5 12.5 1 1.5 3.5-2.5 1 .5 2 4.5-1 5 2 1 8.5-5.5 9.5-2.5 5.5 .5 25.5 6.5 41.5-2 9 1.5-6-9.5-2-8-19.5 13-6.5 1-18.5-8-5-1-6.5-2.5-5-3-1.5-3 18.5 1 19.5 8.5 15.5-9.5 17.5 0 .5 7 2.5 5.5 2.5 2 4 1.5 2.5-1-8-11-2-4 23 0-.5 4 1 .5 6.5 0 0-4.5 50 0 .5 4.5 3 7-1 2-3.5 2-3.5 20.5 5.5 2.5 2 4.5-2 2-9-1.5-6 2.5-5-2-7-1-24-.5-10.5-1.5-42-3-4.5-1.5-5.5-7.5-23.5 1-27-7.5-7 2-4.5 4 3 2.5 3 6 1 5-1 8-2 5.5-4 6-11.5 10-11.5 3.5-22-2-16 6-28 14 0-8.5 25-13 11.5-4.5 6-2 6.5 0 15 2 9.5-2.5 6.5-5.5 6-7 2-8.5-.5-4-1.5-3-5.5-.5-9 3-5.5 3-7 5-11.5 10.5-12 4.5-17 3.5-12-3.5-2.5-2-1.5-8-2.5-2.5 0-8 2-2.5 1-4.5-.5-3-2.5-2 0-29.5zM225 7.5l.5 5.5 5 18 6.5 1 8.5 0 0-14-8.5-2-2.5-5.5-3-3-6 0zM14 8.5l-4.5 7.5 1 2.5 2.5 2 1.5-2 .5-4-.5-6.5zM24 10.5l-1.5 11 1.5-1.5 1-3-1-7zM209 12.5l-2 1-2 4.5 0 8.5 14 2.5-.5-6.5-2.5-7.5-4-2.5-3 0zM74.5 28.5l-.5 1 1.5-.5-1-.5zM40.5 47l-2.5 1.5-1.5 3 3.5 0 5-2.5-1-1.5-3-.5zM279.5 .5l17.5-.5 8.5 3 9.5 5 4 6 0 7-2.5 6-5 4.5-10 1.5-2 5 3 13-1 29 15-.5 6-2 1.5-4.5 1.5-19 2-3 2.5-1 2.5 1 2.5 3 5.5 17 3.5 7 5.5 2.5 7.5 1 .5-1-7.5-8-2.5-6 1-5.5 2-6.5 3.5-4.5 4.5-2.5 6-.5 10.5 3 10 8 9-2 7-4 3.5-3 3.5-6-12-2-5.5-4.5-2-8 2-5.5 3-3.5 5.5-3.5 4.5-1.5 6 0 6 2.5 5.5 5.5 9-2.5-6.5-3.5-4.5-5-1.5-5.5-1-6 8 0 1 5 3.5 5 7 2.5 2.5-.5 2.5-2.5 .5-9.5 27.5 0 1.5 5 3 2 0-7 59.5 0 1.5 2 2 1 2-1 1-2 43 0 2.5 2.5 12.5 7 4 1 3.5-.5 3-2.5 2.5-3.5 1-4 14.5 0 .5 3 9-3 33.5 0 0 3.5-2.5 2-24.5 3-4.5-.5-46 18-13 9-12 10-1.5 3.5-2 11 0 11.5 1.5 9 6.5 19 1 8-2 2-6.5 2 1 3.5-.5 2-4 2-5.5 1-1.5 3-4 3.5-3.5 1.5-7.5 .5 6 12.5 3 3.5 4 3 6 3 10 3 12.5 6.5 13.5 4 3 2 2.5 5.5 3 1.5 2 2 1.5 4-.5 3.5-2 2-2.5 0-3-8.5-7 3.5 7 9.5 10 1 6 2.5 2.5 2 2 3.5 1 4.5 1 9.5-8 0-.5-7-1.5-5-3.5-2-5-1-1.5 .5-2.5 4.5-2.5 10-98.5 0 .5-11-.5-1.5-2-1-3.5 1.5-2.5 2.5-.5 9.5-58.5 0 4-6.5-3-1.5-4.5-.5-9.5 1-1 2.5 0 5-148 0-2-3-9.5 1-3.5-2.5-2.5 4.5-9 0 5.5-10.5 2.5-2.5 3-1 5.5 .5 3.5 2.5 20.5-2 8 1 17-1.5 11 .5 14.5-2 13.5 0 1-1-1-13-9 1.5-34.5-.5-24.5 1-20-2.5-10.5 2-3.5 2.5-4.5 8.5-2.5 16.5-8.5 0 3.5-18.5 3.5-9 6.5-6.5 7.5-2 9-1.5 20.5 2.5 21.5-1 35 .5 17.5-3.5 38.5-14.5 21-5.5 20-8 10-.5 36.5 7 12-2 12.5-3.5 1.5-3 2.5-19 3.5-5.5-6.5-16.5-21 6.5-16.5 2-3.5 2.5-8 .5-14 4-32 17.5-10.5 15-12 3.5-4 .5-4-1.5-7.5 0-23.5 3.5-10.5 0-10.5-4.5-14.5-3-7.5-.5-3.5 1 1 6.5-3.5 7.5-3.5 2.5-4.5 1-5-1-4-3-2-4.5 0-6-41.5 2-8.5 4-7 2-9 1.5-48 13-8.5 0-5.5-2-5-4-1.5-3.5-1.5-9 5-45.5-4-1-1 .5 .5 7-1.5 4.5-12 22-.5 9 2 2.5 3 8.5-2 11-1 2-2 1-4.5-2-7 9-2.5 6.5 0 5 1.5 7.5 3.5 8.5-8.5 0-4-10.5-.5-12.5 3-8 8-10 2-5.5 1.5-25.5 2-11.5 2.5-3 4.5 0 4-8 .5-3.5-1-9 1-2 3.5-1.5 1.5-8.5 0-7.5-1.5-7.5-8.5 15.5-3.5 .5-2-1-1-2-1 .5-2.5 5.5-2 12.5-3 4.5-4 3-8.5 0-11.5-8.5-3-22.5-1.5-3-2.5-1.5-3.5 1-2.5 5-1.5 5.5 0 9-1.5 6.5-3.5 1.5-3.5-3-4 5.5-4.5 3 18 15 4 0 9-1.5 11 1 7 2.5 5.5 7.5 1.5 8.5-1 4.5-2.5 6-8 6-6.5 2.5-3.5 4-1 13 6.5 27.5-8 0-6-22.5-.5-14 2.5-9 6-6 11.5-6 2-4 0-4.5-.5-3.5-2.5-3.5-5-1.5-6.5-.5-15.5 2-1 6-3 10.5-2.5 5.5-6 8 0 31.5-3 5.5-3 3-4.5 2-6.5 .5-5-2-2-2 0 4.5-8.5 0 3.5-12.5-1.5-3-3-1-4 1.5-2.5 3.5-.5 4 .5 7.5-25 0 0-32.5 3-1.5 3.5-5-6.5-9 0-9 4.5 1.5 6 8 6 .5 9 5.5 3-1 5.5-6.5 12.5-28.5 8-11.5-1.5-1-5-.5-8.5 8.5-9 6.5-11 5-7.5 2.5-12 1 0-8.5 10.5-.5 15.5-6.5 8.5-6 9-9 10-5.5-6.5-2-4 3-25 1-9 1.5-9 3.5 0-8.5 8.5-3 7.5-4 11-3 21 1 13 5 4-1.5 3 2 1-4 .5-9.5 3.5-11 3-3.5 4-2 6.5-.5 5 2.5 4 6 3 21 6.5 6 3.5 .5 2.5-3 2-12 4.5-10 8-10 2.5-1 3 1 2-4.5 0-1.5-4-2-1.5-2-2.5-8.5 1-12.5 2-4 3.5-2 8 1 4 1.5 8 6.5 3 4.5 .5 4.5-1.5 3.5-9 8.5 4 16 0 11.5-1 6.5 13-3.5 11.5 0 0-20 1.5-7 4-6.5 6.5-4 8.5 .5 4 3 4 8.5 2.5 14.5 1.5 1.5 2 0 2.5-1.5 3-3.5 4.5-11.5 5.5-5 8.5-2.5 6.5 0 12 2.5 5.5 2 15-6.5 13-10.5 4.5-6.5 7.5-16.5-4-5-15.5-2-6-3.5-.5-5 2.5-6 4-4 4.5-2.5zM285.5 7l-6.5 3-1.5 2 0 2 15.5 2 11 9 4-1 2-1.5 1.5-6-3-3.5-5.5-2.5-9.5-3-8-.5zM462 8l.5 3.5 3 1.5 0-1-3.5-4zM448 15l-6 4.5 0 3-4.5 18-1.5 9 0 11 1 5 7-3 3.5-2.5 13-20.5-1-3.5-8-11 0-8.5-2-2-1.5 .5zM405.5 22.5l-5 1.5-2.5 2.5-1 3 1.5 4 5.5 1 4.5-.5 4.5-3.5 .5-3.5-.5-1.5-4-3-3.5 0zM540.5 24l-2 2.5 2 2.5 4.5 2 3-1 1-2.5-1.5-2.5-3.5-1.5-3.5 .5zM430 28.5l-8.5 2.5-2.5 8-3.5 8-4.5 6.5-7.5 6.5-7.5 3.5-12.5 3.5-12-9.5-10.5-2.5-3 2-1.5 5-.5 3 1 3 7 8 9 6.5 1 2-.5 3 4.5 4.5 1-5.5 2.5-2.5 19-3.5 14.5-4.5 13-6 1-1.5-1-6 0-16 4-18-1.5 0zM134 45l-1 2.5 .5 9.5 1 3 3 .5 5-2.5 4.5-5-5-5-4.5-2.5-3.5-.5zM293 50.5l-10.5 12-9 6.5-13 5.5-3 2.5-3 0-7.5-3-12-2-10 2-2 2.5-2.5 7.5-3.5 5.5-4 4-5 2.5-6-.5-5.5-4-2-5.5-1.5-11.5-1.5-4.5-3.5-2.5-4.5 1.5-2.5 3.5-1 7 0 15.5 1 8-.5 4.5-3.5 2-2.5-1-2-2.5-9.5-.5-5.5 1.5-3 13-3 32.5 0 7 1 3.5 6 3 5.5 0 20.5-6 10.5-2 15.5-4.5 9-1.5 4-1.5-12 .5-14-3-16 0-10-3-3-1.5-3.5-4.5-1-4 .5-5 3.5-5.5 7-5 4-1.5 12.5-1 13-8 3.5-.5 2 2 14.5-8.5 4.5 0 3.5-1 5.5-10 8-4.5 10.5-3 26 5.5 11.5-3-.5-18.5 1-14-1-3zM516.5 69.5l-4 2-.5 6 2 5.5 4 3 .5-4.5 4.5-3 .5-1.5-2-5-2.5-2-2.5-.5zM332.5 73l-3 8.5-3.5 3.5-7.5 2.5-9.5 0-5 1-6 4.5-9.5 3-8 1-22-4.5-10.5 1.5-5 4 9.5 1 9-1 25 2 11.5 2.5 6 2.5 5.5 .5 21.5-4 16-2 6.5 0 2 1-4 3.5-1 3 2 4 2.5 2 4 1 4 0 3-1.5 5-7 3-2.5-.5-3-3.5-5-2.5-2.5-3-1-17.5-3.5-6.5-2.5-3.5-3.5-4.5-9zM429 88l-3 1.5-2.5 3-2.5 7.5 12.5-.5 3-1.5 1-4-1-4-3-2-4 0zM416 101.5l-6.5 2 7.5 .5 3-1-.5-2-3.5 .5zM536 106l-1.5 2.5 1 2.5 3 1.5 3.5 0 .5-2-1.5-3-2.5-1.5-2.5 0zM518.5 126l-4 1-1 1-2 17-3 7 18 2.5 11 1 8.5-2-5.5-4.5-3.5-4.5-7.5-14.5-5.5-3-5-1zM179 126.5l-6 4-1 2.5 1 3.5 7 3 10 1 0-1-6-5.5-2.5-7.5-2 0zM61 127.5l-7.5 10-6.5 14.5-2.5 8-3.5 7-7.5 8.5 3.5 10 6.5 8 4 8.5 2 1 4-.5 3.5-4.5 0-30 1.5-5 7.5-10.5 3-10.5 .5-8.5-4.5-4.5-3-2-1 .5zM395 138l.5 .5 .5-.5-1 0zM290 151.5l-1.5 1-1.5 3 .5 1.5 2 1 2.5-1 1.5-3.5-1-1.5-2.5-.5zM436 152l-6 1.5-17 6.5-18.5 5-12 5 17-2 57-12.5-7-2-13-1.5zM472.5 158.5l-1 2 .5 3.5 4.5 4.5 5 1 4.5-3.5 .5-3.5-1.5-4-12.5 0zM559.5 161l10 4 1-.5-1-1.5-4.5-2-5.5 0zM392 184l-2 1.5 .5 2.5 3 2.5 2.5-.5 1.5-1.5-1-3-1.5-1.5-2.5 0zM355.5 187l-3.5 1-2 2.5-.5 3 1.5 2.5 9 0 4-1 2-1.5-.5-2-3-3-7-1.5zM559.5 193.5l-.5 1.5 .5 2.5 3 5 2.5 2.5 3.5 1 8-1.5 1-4.5 2.5-5.5-10 1.5-10-2.5zM590.5 197.5l-4.5 2.5-1 2.5 .5 1.5 5.5 0 3-2 .5-2-.5-2-3.5-.5zM326.5 0l32 0-.5 6.5-3.5 9.5 .5 1.5 1.5 .5 6.5-2.5 7-6 3.5-5 0-4.5 8.5 0-.5 4 1 7.5-.5 8-3 2-10.5 1-12.5 4-8.5 .5-5-1.5-7-3.5-6-6-2-5-1.5-11zM676 0l25.5 0-2 3.5-4 2.5-9.5-3.5-2 1-8 9 4.5 5 6.5 0 14.5-7.5 6.5-.5 9 3.5 9 9 1.5-1 1-5 9 .5-3-16.5 32 0 0 42.5-5.5 1.5-4 4.5 9.5 .5 0 49-3.5 1-4.5 3-2 3-1 3 1.5 4 5.5 3-8.5 3.5-19 4-4-1.5-15.5-10.5-6 11 11.5 5 9-1 5 2 4.5 5 6.5 11 2.5 .5 12.5-3.5 5.5-1 0 31.5-8.5 .5-2 1-.5 1.5 1 4.5 3 5 3.5 2.5 3.5 1 0 24.5-42.5 0 2.5-3.5 3-.5 3.5 1 .5-2-.5-16-5-10-1.5-10 1-6 1.5-5 0-9.5 1.5-2 4-2 0-1-2.5-8.5-2.5-2.5-3-.5-8 1.5-13.5 5-11 3 1 2 5.5 5 16.5-1 3.5 1 3.5 2 2.5 3 .5 3.5-2 4-3 3-4.5 3-12.5 4.5-12.5 6.5-18 2-21.5 7-2.5 3.5-2 7-.5 12.5-8.5 0-12.5-11-5.5-7-2-4.5-3.5-9.5-1.5-8-9.5-5-4-4-3-6-7-18 .5-3 3-2 2.5 .5 1.5 2 9 21 2 1 1-1.5-8-24-1-10-2 0-1.5 3.5-1.5-2.5-8.5 1.5-2-1-1-2 0-2.5 2-2 13-4 1.5-4-5-1.5-1-3.5-.5-10.5-8-3.5-1.5-2.5 .5-2.5 12.5-23 6.5-6.5 15.5-9 16-4.5 10.5-7 5.5-4.5 16.5-24 7-7zM674.5 13.5l0 .5 0-.5zM672.5 16.5l-1 2 1-2zM671 19l-7.5 11-8 9 2 0 1 1-.5 14 1.5 2 3 1 6 .5 5-2 3.5-4 3-6 0-4-4.5-6.5-2.5-9-2.5-3.5 .5-4zM714 22l2.5 2-2.5-2zM731.5 29l-.5 1.5 6 12 5 15.5 .5 6-2 5.5 5.5 1 1-1 1-6.5 1-2.5-2.5-2.5 0-3 2-2.5 6-2.5-6-3-3.5-10.5-3-4.5-2.5-1.5-4 .5-4-2zM725 38.5l1.5 8 3 .5 0-2-4-7zM631 52l-11 4.5 2 1.5 11-6-2 0zM728 55.5l-1.5 1.5 .5 4 3.5 3 2.5 .5 1.5-3-1.5-4-3-2-2 0zM612.5 63.5l-3 4 3 1 3 3 2-3 0-2-2-2.5-3-.5zM698 68l-1 2 .5 1.5 1.5-2.5 0-1-1 0zM606 74.5l-1 2 2.5 0-.5-2-1 0zM664 75.5l-8 4-6.5-2-7.5 6-1 5 2.5 .5 9-1 8 1 3-.5 6-5.5 3-5.5-2-2-6 0zM600.5 82l-.5 1 .5-1zM699.5 84.5l.5 7 3 3.5 0-1.5-3.5-9.5zM615.5 85l1 4 1.5 1 1-1.5-.5-2.5-1-1-2 0zM734 85.5l-2.5 3 5.5 2-1-4-1.5-1zM712.5 93l1 3.5 3-2.5-4-1zM692.5 97l-9.5 3.5-2 2 2 2.5 3 8 3 2 1.5 2.5 10 2 5.5-7.5 2-7-9.5-7.5-6-.5zM726 97l-3 1.5-1 2.5 3.5 2 3.5 0 3.5-.5 2-2-3.5-3.5-4.5 0zM622 99.5l-8 3.5-.5 6-4 14.5 .5 6.5 2.5 9 5.5 12.5 5-2 2.5 0 12.5 6 7.5-4 5.5-1 23.5 8 11.5-4 .5-10.5-27.5 .5-2.5-1-1-2 .5-3.5 7-7 7.5-7 8.5-5.5-.5-2.5-3.5-7.5-8 3-8.5 6.5-5 6.5 0 4.5-4.5 0-7 8.5-3 0-3.5-2 1.5 4.5 4 .5 2.5 1.5 .5 2.5-1.5 2.5-4.5 1.5-3.5-.5-2.5-1-4-7.5-.5-5.5 6.5-14.5 4.5-5 2.5 0 2.5 1.5 0 3-4 8.5 7.5-8 5-7-12-7-3.5 3.5-3 0-2-2.5 0-4.5-5-2.5-4 0zM683.5 126l-9 5-4.5 5.5 17.5-1 4.5-5.5 2 1 1.5 2.5 7-1 5.5-2.5-5-1.5-10 0-6-2.5-3.5 0zM706.5 157l-3.5 1-2 4-3 2-3 0-5-1.5-13.5 4-7-1-13-5-7.5-1.5-10 6-6 8-2.5 2-3-.5-2.5-6.5-2 .5-.5 1.5 1 7 5 12.5 5.5 7 5.5 5 3-11.5 0-.5-4 0-2-2 0-3 2.5-3 6.5-2.5 13-1 14-4.5 17-1.5 12.5-6.5 12.5-4.5 3.5-3-3.5-1-7.5 0zM696.5 179.5l4-.5 2.5 1 3.5 2 7 7 3.5-2.5 3.5 2 2 6-1 3-3.5 3 1 11-8 0-1-9.5-2-6-2.5-4-6.5-5-2 1.5-2 4-2 19-8 0 3-23 4-6.5 4.5-2.5zM174 185.5l8.5 .5 8 4.5 5 7.5 2.5 7 1.5 6.5-8.5 0-1-5.5-3-7-5.5-5-4-1-4 1.5-4 4.5-7 12.5-9 0 9.5-17.5 6-6 5-2.5z"/>
<path fill="#e1ff1f" d="M.5 0l26 0 3 2.5 13 4.5 15.5-2 6.5 9-.5-14 7 0 .5 8.5 2 6 5-1.5 1.5 4-1 4.5 2.5 1.5 8.5-5.5 9.5-2.5 5.5 0 25.5 7 23-.5 18.5-1.5 10.5 1.5-5-5.5-3-6.5-1-6.5-20.5 13-6 1-18.5-8-5-.5-6.5-3-5-3-1-2.5 12 0 2.5 1 3.5 0 19.5 8.5 10-5 6-4.5 16.5 0 .5 7 2.5 5.5 2.5 2.5 4.5 1.5 3-1.5-8.5-11-1.5-4 22 0 0 5 9 0-.5-5 48.5 0 .5 4.5 3 7.5-4.5 3.5-2.5 18-1 2.5 5.5 2.5 2 4.5-2.5 1.5-5.5-1.5-3 0-5.5 2.5-5-2-8-1-19.5 0-14-2-41.5-3-5-1.5-5.5-7.5-23.5 1-27-7.5-7.5 2-5 4.5 3.5 2.5 3.5 6 .5 5-.5 8-2.5 5.5-4 6-11 9.5-11.5 3.5-22-2-16 6-28 14 0-8 25-12.5 12-5 5.5-1.5 6.5 0 15 2 9.5-3 6.5-5 6-7 2.5-9-2-7-6-1-9 3-6 3.5-6.5 4.5-12 10.5-10 3-3 2-15.5 3-12-3-2.5-3-1-8-2.5-4.5 3-8 1-5-1.5-4-3-2.5 0-27zM23 5.5l-1 17.5 3-2.5 1-4-1-6-2-5.5zM14.5 6.5l-7.5 10.5 1 2 5 3 1.5-2.5 1-5 0-6.5-1-1.5zM226 6.5l-1.5 .5 0 1.5 5.5 22.5 5.5 1.5 10 0 .5-14.5-8-2-3-6.5-2.5-2.5-2.5-1-4 .5zM207.5 12.5l-1.5 1.5-2 6 1 6.5 14 3 .5-4.5-3-10-4.5-2.5-4 0zM253 17.5l.5 4 1-4-1-.5zM74.5 28l-1.5 2 3-1-1.5-1zM39 46l-2.5 2-1 4 3 .5 4.5-1.5 3.5-3-3-2-4 0zM280.5 .5l15.5-.5 9.5 3 9.5 5.5 4 5.5 0 6.5-3 6.5-5 4.5-9.5 1-2.5 6 3 12.5-.5 29.5 15-.5 6-2 2-5 1-19 2-2.5 2.5-1 2.5 1 2.5 3 5 16.5 4 7.5 5.5 2.5 7.5 1 1.5-.5-7-7.5-3.5-8 3-11.5 3-4 4.5-3 6 0 10 3 10.5 8 9-2 6.5-3.5 4-3.5 4.5-7-12.5-1.5-5.5-5-2-5.5 0-2.5 2-5 4-4.5 3.5-2 4.5-1.5 7 0 5.5 2.5 5.5 5.5 9.5-3-6.5-3.5-4.5-5-2-5.5-.5-6 7 0 1.5 6 3 4 7.5 3 3-1 3.5-3 0-9 26 0 2 5.5 4 2.5 0-8 31 0 1 2 2-2 22.5 0 2 3 4 1.5 3-1.5 1-3 40.5 0 2.5 3 14 7 3.5 1 3.5-.5 3.5-2.5 2.5-4 1-4 12.5 0 0 3.5 1 .5 11-4 32 0 .5 3-2.5 2.5-24.5 2.5-4.5-.5-46 18-13 9-12 10-1.5 3.5-2 11.5-.5 13.5 1.5 7.5 6.5 16 1.5 7.5 0 3-2.5 2-6 2 1 4-2 2-3 1-5.5-1-2.5 1 .5 4.5-3.5 3.5-11 2 6.5 13 2.5 3 4.5 3.5 5.5 3 10.5 3 10.5 5.5 12.5 3.5 5.5 3 1.5 2 1 5 2.5 1 2 2.5 .5 4.5-1.5 1.5-2 0-2-7.5-4 2.5-3.5 1-.5 1 7.5 10 10 .5 8 4.5 2 3.5 1.5 4.5 .5 9.5-7 0-.5-7-1.5-5-3.5-2.5-5.5-1-1.5 0-2 2.5-3-2-4 .5-4 2-1.5 2.5-.5 2.5 1 1.5 9-.5-.5 6.5-97 0 1-12-1-2.5-2-.5-4.5 1.5-3.5 3-1 3.5 0 7-56.5 0 4-6.5-.5-1-5-2-13-.5-2 .5-.5 1 1 8.5-145 0-2-3-11 .5-3.5-2.5-3 5-8 0 5-10 2.5-2.5 3-1 5.5 0 3.5 3 20.5-2 36 0 14.5-2.5 14 0 1-1-.5-12.5-1-1-9.5 1.5-34-.5-24.5 1-20-2-11.5 2-3 2.5-4.5 8.5-2.5 16.5-7.5 0 3-18.5 4-8.5 6-6.5 7.5-2.5 9-1 20.5 2.5 21.5-1 35 .5 17.5-3.5 38.5-15 21.5-5.5 19.5-7.5 10-.5 36.5 7 12-2 12.5-3.5 2-3.5 2-19 4-5.5-5-14.5-2-2-21 6.5-17 2-3 2.5-7.5 0-14.5 4.5-32 17-3 3.5-7.5 11.5-12.5 4-4 .5-3.5-2-7.5 0-24 3.5-10 0-10-4-15.5-3.5-7 0-4 1 1 6.5-3 7-3.5 2.5-4.5 1-5-1-4-3-1.5-4 0-6.5-42 2-15.5 6.5-9.5 1-47.5 13-8.5 0-5.5-2-4.5-3.5-2-3.5-1-9 5-46-4.5-1-1.5 1 .5 6.5-1.5 5-12 22-.5 9 2 2.5 3 8.5-1.5 11-3 2.5-4.5-2-7.5 9.5-2.5 6.5 0 5 1.5 7.5 3.5 8.5-7.5 0-4-10.5-.5-12.5 3-8 8-10 2-5 1.5-26 2-11.5 2-2.5 4.5 0 4.5-8.5 .5-3.5-1.5-9 1.5-2 3-1 2-8.5 0-8-1-7-1-1.5-9 16.5-3.5 0-2.5-4-1 1-3 6-1.5 12.5-3 4.5-5 3.5-5.5 0-5-2-8.5-7.5-2.5-21-1.5-3.5-2-2-4 .5-3 4-2 7.5-1 15-3 1.5-3-1.5-1-2.5 1-14.5 2.5-8 3-5.5 6.5-3.5 6 0 3.5 2 2.5 2.5 2.5 5.5 2 19 7 6.5 4 0 2.5-3 2-13.5 4.5-8.5 7.5-9.5 2.5-1 3 1 2-3 .5-3.5-4.5-2.5-2.5-4-1-6 0-10 2-5 2-2.5 6.5-.5 4 1 6 3 7 6.5 1.5 3 0 4-1.5 3.5-8.5 8.5 3.5 16 0 11.5-1 7 13.5-3.5 12 0 0-20.5 1-7 2.5-4.5 3-3 5.5-3 8 .5 4 3.5 4 8 2 14.5 2 2 2 0 2.5-1.5 3-3.5 5-12 5-4.5 8.5-2.5 6.5 0 12 2 5.5 2 15-6 13.5-11 5-7 6.5-16.5-4-4.5-15.5-2-4-2-1.5-2-.5-4.5 2.5-6 4-4 5-2.5zM461 5.5l-1.5 5 .5 2 3.5 2 4.5 0-6.5-9.5zM284 7l-5.5 3-1.5 4 16 2.5 7 6.5 4 2.5 4-1 2.5-2 1.5-6-3.5-4-5.5-2.5-9.5-3-9 0zM449.5 13l-8 6.5 .5 2.5-6.5 26.5 0 12 .5 4.5 1 1 7.5-3.5 3.5-2.5 12.5-20-.5-4-7.5-10 1-8-1-4-2.5-1zM542.5 22l-4.5 2-1 3.5 6.5 5 4.5 .5 3-3.5 .5-4-3.5-2.5-5.5-1zM404 22.5l-4 1-2.5 3-1 3 1 3 1.5 1.5 4.5 1 6-1 4-3.5 .5-4.5-5-3.5-4.5 0zM430.5 28l-9.5 3-2 7.5-4 8.5-4.5 6.5-7 6-7.5 4-12.5 3-11.5-9-4.5-2-6.5-1-3 2.5-2.5 6 0 2.5 1 3 7.5 8 8.5 6 1 2-.5 3 5.5 5.5 .5-6 2.5-2.5 19-3.5 15-5 12.5-6 1.5-1.5-1-6 0-16 4-18 0-1-1.5 .5zM133.5 45l-1 8.5 1.5 6 2.5 1.5 3.5-1 5-4 2-3-7.5-7-6-1zM293 50l-4 5.5-7 7-9 6-12.5 5.5-3.5 3-2.5 0-7.5-3.5-11.5-2-5.5 .5-5 2-2 2-2.5 7-3.5 6-4.5 4.5-4.5 2-6-.5-6-4.5-2-7.5-.5-9-2.5-5-4-2-4 2-2.5 3.5-1 7 0 15.5 1 8.5-.5 4-3.5 1.5-2-1-1.5-2.5-6-.5-8 .5-2 1.5-3 13-3 32.5 0 7.5 1.5 3.5 5.5 3 6 0 20.5-6.5 11-1.5 29-8-1.5-.5-11.5 .5-13.5-3-11 .5-9-1-5-1.5-4-2-3-4-1.5-4 0-5 3-5 7.5-5.5 4-1.5 12.5-1 12.5-8 3-.5 1 2.5 2-.5 14.5-8.5 4.5 0 3.5-1 6-10.5 7.5-4.5 10.5-2.5 26 5.5 12-3.5-.5-18.5 1-14.5-1.5-3.5zM455 67l-.5 3 2 3 3.5 .5 3-1.5 .5-1.5-2-2-3.5-1.5-2.5 0zM515.5 69.5l-4.5 1.5 .5 8.5 3 5.5 2 2 2.5 .5 .5-.5-1-3 .5-2 4.5-3.5 .5-1.5-1.5-4-2-2.5-2.5-1.5-2.5 .5zM332 70l-.5 5.5-2.5 6-2.5 3-3 1.5-20 2-5.5 4.5-10 3.5-7.5 .5-22-4.5-10.5 1.5-4 2.5-1.5 2.5 10.5 .5 8.5-.5 25 2 11.5 2 6 3 5.5 0 21-3.5 21.5-2 1 .5-3 3-.5 5 2 3.5 3 2 4.5 1.5 5 1 3-1 5.5-7.5 3-3-3-7.5-4.5-5-3-1.5-18-3-6.5-3-3-3.5-5.5-11.5zM429.5 87l-5 3-6.5 8.5-9 3.5-2 2 14 0 5.5-2.5 10-1 2.5-4-1-6-3.5-3.5-4.5 0zM535 104.5l-2 3.5 1.5 4 5.5 2 4.5-.5-.5-3-2.5-4-3-2-3 0zM223.5 112l-3.5 2.5 3-.5 2-2-1.5 0zM412.5 112l2 .5-2-.5zM179.5 126l-3 1-3.5 3-1.5 3 1 3.5 2 1.5 5.5 2 11 .5-6-6-3.5-8.5-1.5 0zM517.5 126l-4 1.5-2 17-3.5 7.5 19 3 11 1 8.5-2.5-5.5-4.5-3.5-4.5-8.5-15.5-7.5-3.5-4 .5zM395.5 134.5l-3 2-1.5 2.5 1.5 2.5 3.5 1 2.5-1.5 1-3.5-1-2.5-3-.5zM289 151.5l-2 3.5 0 2 2.5 1 2 0 2-2.5 0-3-2-1.5-2.5 .5zM435 152l-5 1-17 7-20 5-13 5.5 19.5-2.5 57.5-12.5-7.5-2.5-10.5-1.5-4 .5zM471 158.5l-.5 3 1 3 5 5 5.5 .5 4.5-3.5 1-4-2-4.5-14 0zM557 161l12.5 4.5 1.5-1-1.5-2-4.5-2-8 .5zM392.5 182.5l-3 1.5-1.5 3 2 3 3.5 1.5 4.5-1.5 1-1.5-2-5-4-1zM354 185.5l-3.5 1.5-2 3-.5 3.5 1.5 3 6.5 .5 14.5-2.5-1-3-6-4.5-4.5-1.5-5 0zM558 191.5l-1 2.5 6 12 3.5 4.5 1.5 0 9-5 .5-5.5 3.5-6.5-11 1-8.5-3-3 0zM326.5 0l7 0 1 5 .5-5 22.5 0-1 6.5-3.5 10-.5 1.5 1.5 .5 5.5-1 8.5-5.5 5.5-7 .5-5 7.5 0-.5 4.5 1.5 7.5-1 7-2 2-5.5 0 1.5-2.5-.5-2.5-8 6-7.5 3.5-8.5 1-8.5-1-6.5-3.5-6-6-2.5-5.5-1-10.5zM676 .5l10-.5-1.5 2.5-10.5 10.5-9 14.5-6 7.5-7 6.5 5.5-1.5-.5 14 1.5 2.5 2.5 1.5 7 0 6-1.5 3.5-3.5 3.5-6.5 0-5.5-4.5-7-2.5-9.5-2.5-3.5 3.5-6 4.5 3.5 5.5 .5 7.5-3 4-3.5 5-2 6.5-.5 9 3.5 11.5 12-.5-6.5 1-2 5.5 .5 5.5 3.5-3.5-8.5-1.5-12.5 31.5 0 0 41.5-5 1-7.5 5.5-2.5 0-2.5-3-4-10-3-5-2.5-1.5-4.5 1.5-5-4-1 .5 7.5 16 4.5 11.5 1 9.5-2 7 4 1.5 3-1 1-8 2-2.5-2.5-1.5-1-2 .5-2 1.5-2 8-3 6.5-1 3.5 .5 0 46.5-9 6-2.5 3-1.5 3 1.5 4 5.5 3.5-8 3-17.5 3.5-4-1.5-15.5-10.5-6.5 11.5 12 5 8.5-.5 5.5 2 4 4.5 4.5 9 2.5 2.5 20.5-4 0 30-10 0-2 1-.5 1.5 1.5 5.5 3.5 6 3.5 2.5 4 1 0 24-32.5 0-.5-21-5.5-10.5-1-9.5 .5-6 2-5 0-9.5 1-2 4.5-2.5-1.5-7.5-3-4-4-1-8 1.5-13.5 5.5-15 3.5-30.5 .5-3-1-1-3 1.5-2.5 13.5-13 9.5-6-4.5-11-8.5 3.5-8.5 6.5-16.5 19.5-3.5 0-2.5-3-1 3 2 3.5 4.5 .5 2 3-.5 2-2 1.5-5.5 .5-4-2-3.5-7 0-6 3-7 6-10 2-1.5 2.5 .5 1.5 1.5 .5 2-5 9.5 0 1 14-16.5-7-5-5.5-2-1 0-2.5 3-3 0-2-2 0-4.5-5.5-3-4.5 .5-7.5 3-.5 6-4.5 14.5 0 3 4 15.5 5.5 12 1 .5 5-2 6 3 7.5 1.5 7.5-4.5 5-1 24.5 8 12.5-4.5 2.5-6.5 2.5-2 7.5 4.5 16.5-1 4 1 3 1.5 2.5 3 .5 3.5-2 4-3.5 3.5-29 13.5-17.5 1.5-21.5 7-2.5 3.5-2.5 7-.5 13-7.5 0-.5-1.5-3.5-1.5-8-7.5-6-7.5-6-14-1-8-10-5.5-4-4-2.5-5.5-7-18 .5-3 2.5-1.5 2 .5 1.5 1.5 9.5 22 4 3.5 2.5 .5-9-21-2.5-9-.5-10-1.5-.5-2.5 1.5-9 1.5-2.5-.5-1.5-2 .5-2.5 1.5-1.5 13.5-4.5 1.5-4.5-4 0-1.5-1.5-1-13.5-8.5-4-1-2 .5-2.5 12.5-23 6.5-6.5 15-8.5 16-4.5 10.5-7 6-5 16-23.5 7-7zM744 10l1.5 4.5 1.5 .5 0-2-2.5-3zM704.5 17.5l7.5 4.5 9.5 10 4 15 4.5 .5-2.5-7.5-11-17.5-7.5-4.5-4-.5zM634.5 51l-11 3-4.5 2.5 3 2 13.5-7.5-1 0zM728.5 55l-2.5 1.5 1 5 3.5 2.5 2.5 .5 1.5-2.5-.5-3-1.5-2.5-4-1.5zM716 56.5l-1 1 3.5-.5-.5-.5-2 0zM701.5 58l-3.5 2.5-5 9.5 5 9 1 14 2 2.5 3 1.5 0-2.5-4.5-13 .5-11 1-5.5 3-6.5-.5-1-2 .5zM753.5 59l-2 1 2.5 .5 1-1.5-1.5 0zM612 63l-2 2-1 3.5 3.5 .5 4.5 5.5 1.5-4-.5-3.5-2-3.5-3.5-.5zM677.5 72l-4.5 1.5-9 .5-8 4-6-1-8.5 6.5-.5 6.5 2 .5 9-1 9 1.5 3-1 16-17.5-.5-1-2 .5zM606 73.5l-9.5 12 3.5 1 5-5 2.5-.5 3.5 3 4 9 2 1 2-.5 2.5-4-1-5-7.5-1.5-6.5-10zM712.5 84l1.5 1 5 0-6.5-1.5zM735 84.5l-4 4.5 6.5 3 0-5.5-1.5-2.5-1 .5zM711.5 93l1 3 1.5 1.5 3-4-5-1zM693.5 96.5l-11 2.5-3 2.5 3 3.5 3 8 4.5 5 10.5 1.5 6-7.5 2-7-9-7.5-6-1zM727.5 96.5l-4.5 1.5-1.5 2 0 1.5 3.5 2 4 .5 3.5-.5 3-2-.5-2-3-2.5-4.5-.5zM685.5 125.5l-6 1.5-5 3.5-5.5 6 8.5 .5 10.5-1 4-1.5 3 0 8-1.5 6-3-5.5-2-10.5 0-7.5-2.5zM705.5 157l-3 1-2 3.5-2.5 1.5-3 0-4-1.5-15 4.5-6.5-.5-13-5.5-7.5-1.5-7.5 5-4.5 1-4.5 7-2 2-1.5 0-1.5-1.5-1.5-5.5-2 .5-2 2.5 1 7.5 4 10 3.5 6 9.5 9 3.5-13-4 .5-2.5-1.5-.5-3 2.5-3 6-2.5 13.5-1 14-4.5 17.5-1.5 12.5-6.5 12-5 4-3-4-1.5-9 .5zM735.5 177l.5 3 1.5 1.5-.5-3-1.5-1.5zM689 0l9 0-1.5 2.5-2.5 .5-3.5-1-2-2zM27 97.5l21 1 13 5 3-1.5 2 .5 2 2.5-1 3.5-3 3.5-4.5 3 15 13 4.5 2.5 11.5-1.5 11.5 .5 6.5 2.5 4.5 5 1.5 3 1 7.5-.5 5-3 5.5-7.5 6-7 3-3.5 4-1 13 6.5 27.5-7.5 0-5.5-22.5-.5-14 1.5-7 3-4.5 5-4 5-2 5.5-3.5 2-4 0-4.5-1-4-2-3-5.5-2-6.5-.5-16 2-.5 6.5-3.5 10.5-8.5 13.5-.5 9 1 19-1 4.5-5 7-5 2.5-6.5 0-4.5-2-3-3.5 1 6.5-6 0 3-10-3-6.5-3.5-1-4.5 1.5-2.5 3.5-1 5 0 7.5-23.5 0 0-31.5 3.5-2 3.5-5.5-7-9.5 0-8 4.5 1.5 6 8 6 .5 9 5.5 3-1 6-6.5 12-28.5 8.5-12-1.5-1.5-5.5-.5-9 9-8.5 6-7 3.5-11.5 4-12 1 0-7.5 10.5-.5 15.5-6.5 8.5-6 9.5-9.5 10.5-5.5-8-2.5-3.5 3-25 1-9 1.5-9 3.5 0-8 9-3 2-1.5 5-2.5 10.5-2.5zM61 127l-7.5 10.5-7 14.5-2.5 8-3.5 6.5-7.5 9 4 10.5 6 7.5 4 8.5 2.5 1.5 4.5-1 3.5-4.5-.5-29.5 2-5.5 7-10 3.5-11 .5-8.5-4.5-4.5-4-2.5zM698 179.5l3.5 0 4.5 2.5 8.5 9 2.5-2.5 3 2 .5 4.5-3 2.5 1 14-7 0-1-9.5-2-6-2.5-4-7-5-2.5 1.5-2 3.5-1.5 19.5-7.5 0 2.5-23 4.5-6.5 5-2.5zM175.5 185.5l7.5 1 7.5 4.5 4.5 7 3 7 1 6.5-7.5 0-1-5.5-3.5-7.5-5.5-5-4-1-4.5 2-4 4.5-7 12.5-8 0 9.5-17.5 6-6 5.5-2.5zM729 210l2.5 1.5-4 0 1.5-1.5z"/>
<path fill="#f8ff07" d="M.5 0l21 0 1.5 10.5-2 13 .5 1 3.5-2.5 1.5-4.5-2-17.5 1 0 3 2.5 13.5 4.5 15.5-1.5 5 7.5 3 2.5-1-15.5 6 0 1 8.5 1.5 7 1 .5 4.5-2 1 3-1 4.5 3 1.5 11.5-6.5 10-1 27 7 23.5-.5 19.5-2 13.5 3.5 .5-.5-5-2.5-4-4-3-7-1-7-2 1-19 12.5-6 .5-18.5-7.5-5-1-6.5-2.5-4.5-3-1-2.5 11 0 3 1.5 3.5 0 19.5 8.5 10-5.5 6-4.5 16 0 1 7.5 2.5 5.5 2.5 2 4.5 2 2.5-1 1-1-8.5-10.5-2-4.5 14 0 .5 1 .5-1 6.5 0 0 5.5 7.5 0 3 .5-1-6 47 0 3.5 12.5-3.5 2.5-3 18.5-1.5 2.5 6.5 3 1.5 4-1.5 1-3-.5-1-3-1.5-.5-7 5-2 0-13-3.5-18 1-15.5-2-38-2.5-8-2-6-7.5-23.5 .5-27-7-7.5 2-6 4.5 4.5 3 3 5.5 .5 4-.5 8.5-2 5.5-4 6-11 9.5-11.5 3.5-22-1.5-16.5 6-27.5 13.5 0-7 25.5-13 11.5-4.5 5.5-1.5 6.5 0 15 2 9.5-3 7-5.5 6-7 2.5-9-1-4.5-1.5-3-2-.5-4.5 0-8.5 3-6 3-20 16-11 2.5-2 2-12 3-5.5-.5-8-2.5-2.5-2-1-2.5 .5-3.5 1.5-3-2-7 1.5-11.5-1.5-8 1-2 2-.5 7 .5 2-8 0-7.5-1-2.5-7.5 9.5-3 1.5-4 .5 0-16zM229 5l-4.5 1-.5 2 5.5 23 5 1.5 11.5 0 0-15-7.5-1.5-4-9-2.5-2-3 0zM208 12l-2.5 1.5-.5 2.5-1 4.5 .5 6 7.5 2 7.5 1 0-4.5-3-10-4.5-3-3.5 0zM253 17l0 8.5 1.5-7.5 0-1-1 0zM74 28l-1.5 2.5 4-1.5-1.5-1.5-1 .5zM40 44.5l-4 2.5-2 5.5 4.5 0 5-1.5 4-3.5 0-1-2-1-5-1zM281.5 .5l13-.5 11 3.5 9 5 2.5 2.5 1.5 3.5 0 6-2.5 6-5 4.5-10 1.5-2.5 6 3 12.5-.5 30 15.5-1 6.5-2 1.5-5 1.5-19 2-2.5 2-.5 2.5 1 2.5 3.5 5 15.5 3.5 7.5 6 2.5 10 1.5-7.5-8.5-3.5-7.5 .5-5 2-6.5 3.5-4.5 4-2.5 6 0 10 2.5 10 8.5 9.5-2.5 6.5-3 4-3.5 5-8-11.5-1-3.5-1.5-3.5-3.5-1.5-5.5 0-2.5 1.5-4.5 4.5-5 3.5-2 4.5-1 6.5 0 5.5 2.5 5 5 11.5-3-8-4-4-4.5-2-5.5-.5-6 6 0 2 7.5 1.5 2 3 2 6 1.5 3-.5 4-3.5 0-9 25 0 2 5.5 2.5 2.5 2.5 .5 1.5-.5-1.5-8 28 0-.5 4 1.5 .5 5-1 2-3.5 18.5 0 2.5 4 5 1.5 3.5-1 1.5-4.5 38 0 2.5 3 8 3.5 7.5 4.5 3.5 .5 4-.5 3.5-2.5 2.5-4 1-4.5 11 0 .5 5 13.5-5 6.5 .5 24-.5 .5 3-2 2-24.5 2.5-4 0-9 3-38 15-12.5 8.5-12.5 11-3.5 16.5-.5 15.5 7.5 18 2.5 9-.5 3.5-2.5 1.5-6 2 1 4.5-4 2-11.5-3-6-8.5-4-3-4.5 .5-2.5 3.5 .5 3 1.5 2.5 4 2 9.5 2 4 6-1 2-3 2-10 1 4 9 5 7.5 10.5 6.5 10 3 10.5 5.5 13 4 5 2.5 2 3.5 0 4.5-3 3-5 2 8 10.5 10 1 7.5 4 2.5 3.5 1 4.5 .5 9.5-6 0-2-12-4-2.5-5.5-1.5-11 1.5-4 2-1.5 2.5 0 4.5 9 1 0 4.5-21 0 1-2.5 4-2.5 .5-6.5 4.5-7-13 0-11-3.5-2.5 .5-1 2 5 8.5 4.5 11-66.5 0 1-13.5-1-2.5-2.5-.5-5.5 1.5-5 4-.5 3 .5 8-55 0 4-6.5 0-1-5-2.5-16.5-2.5-2.5 .5-1 1.5 3 10.5-99.5 0-1-5-1.5-.5-1.5 .5-1 5-38.5 0-1.5-3.5-12 .5-2-1-1-2-4 6-7 0 5-10 2.5-2.5 2.5-.5 5.5 0 3 3 21-2 35.5-.5 16-2.5 13 .5 1.5-1 8.5 1 16-1.5 2-1-.5-2-2-2.5-6-4-4.5-2-8.5 0-5 4.5-.5-6-1-.5-10 1-34-.5-24.5 1-20-2-11.5 2-3.5 3-4 8.5-3 16.5-6.5 0 3-18.5 3.5-8.5 6-6 7.5-2.5 9-1 20.5 2.5 21.5-1 35 0 17.5-3 38.5-15 21.5-5.5 19.5-7.5 10-.5 36.5 7 12.5-2.5 12-3 2-4 2.5-19 4-5-4.5-14.5-2.5-3-21 6.5-17.5 2-3 2.5-7.5 .5-15 4.5-30.5 16-4 4-7 10.5-5.5 3-7.5 2-4 .5-3-1.5-8 0-24 3-10 0-9.5-4-15.5-3-7.5-.5-4 1.5 .5 6.5-3 7-3.5 2.5-4 .5-5-.5-3.5-3-1.5-4 0-6.5-43 2-15 6-9.5 1.5-47.5 12.5-8.5 0-5-1.5-4.5-3.5-2-3.5-1-9 3.5-37.5 1.5-8.5-4.5-1.5-2 1.5 0 6.5-1 5-12 21.5-.5 9.5 2 3 2.5 8-1.5 11-1 1.5-2 .5-4-2-7.5 10-2.5 6.5 0 5.5 4.5 15.5-6.5 0-4-10.5-.5-12.5 2.5-7.5 8-10 2-5.5 2-26 1.5-11 2.5-3 4 .5 4.5-9 1-3.5-1.5-8.5 1-2 3.5-1.5 1.5-8.5 .5-8-1.5-7.5-1-2-9.5 17.5-3.5-.5-1-2.5 .5-3-1.5 1-4 8-2 12.5-3 4.5-4.5 3-5.5 0-5-2-8.5-7-2.5-21.5-1-3-2.5-2-4.5 .5-2.5 4-2 7.5-1 14.5-2.5 1.5-3-1-1-2.5 1-14.5 2-8 3.5-5.5 6-3 6 0 3.5 2 2.5 2.5 2 5 2.5 19.5 7 6.5 4 0 2.5-3 2-12.5 4.5-9.5 8-10 2.5-.5 3 1.5 1.5-4 1-3.5-5-3-2-3.5-1-6 0-10 1.5-4.5 2-2.5 6.5-.5 4 .5 6 3.5 6.5 6 1.5 3 0 4-1 3-9 9 3.5 16 0 11.5-1 7 14-3 12 0 .5-21 1-7 5-7 5.5-3 8 .5 3.5 3 4 8 2.5 15 2 1.5 2 0 3-1.5 3-3.5 4.5-11.5 5.5-5 8-2 6.5 0 12 2 5.5 2 15-6.5 13.5-10.5 5-7 7-17-4.5-5-15.5-2-5.5-3.5 0-4.5 2.5-6 3.5-3.5 6-3zM461 2.5l-2.5 5.5-2.5 3 2.5 1.5 4 3.5 7.5-1-5-5-4-7.5zM284.5 6.5l-6 3-2 4.5 16.5 2.5 7 7 4 2 4.5-1 2-1.5 1.5-6.5-3-4-5.5-2.5-10-3-8.5-.5zM450 11.5l-9 7.5 .5 3-6 26.5-.5 12 1.5 5.5 8-3 4-3 12-20-.5-4-6-9 1-7-2-5.5 2-3-4.5 0zM541 21l-5 3-1 2 .5 2 8.5 6.5 2.5 1 2-.5 4.5-5.5 .5-5-5.5-3-7-.5zM404.5 22l-4.5 1.5-2.5 3-1.5 3.5 2.5 4 5.5 1.5 4.5-1 3.5-1.5 1.5-2 1-4-1-2-4.5-3-4 0zM431 27.5l-10 3-6 16-4.5 6.5-7 6.5-7.5 3.5-12.5 3-11.5-9-4-1.5-7-1-3.5 2-2 5.5-.5 3.5 1.5 3 7 8 9 6.5 .5 4.5 6.5 7.5-.5-7.5 2.5-3 18.5-3 15.5-5.5 13-6 1-1.5-.5-6 0-15.5 4-19-1.5-.5zM133.5 44.5l-1 2.5-.5 6 1.5 6.5 3 1.5 4-1 5-4 2-3-8-7-6-1.5zM293.5 49l-4.5 6-7 7-9 6.5-13 5.5-3 2.5-2.5 0-7.5-3-11.5-2-5.5 .5-5 1.5-2 2-2.5 7.5-4 6-4 4-4.5 2-6 0-6-5-1.5-7-1-9-2.5-5.5-4-2-4 2-2.5 4-1 6.5-.5 16 1 8.5-.5 4-3 1-2-1-1-2-6.5-1-8 1-2 1-3 13.5-3 32 0 8 1 3.5 6 3 6 0 20.5-6 11-2 15-4.5 9.5-1.5 5.5-2-2.5-1-11.5 .5-13.5-2.5-11 0-11-1.5-6-2-3.5-4-1.5-4.5 0-5 2.5-4.5 7.5-6 4-1 12.5-1.5 12-7.5 2.5-.5 0 2.5 1.5 0 17-9.5 4.5 .5 4-1.5 6-10.5 7-4 10.5-2.5 26 5 12.5-3.5-.5-18.5 1-14.5-1-3-1-1zM495 58.5l-1 3.5 4.5 2.5 8-1-2-3-9.5-2zM453.5 63.5l-2 4 1.5 5 4 3.5 5 0 2.5-4.5 0-4-7.5-4-3.5 0zM508.5 63.5l-1 .5 1 1.5 1-1.5-.5-.5zM332 68.5l-2.5 11.5-2.5 3.5-3.5 2-20 2.5-5.5 4-10 3.5-7.5 .5-22-4.5-11 2-4 2.5-1.5 2.5 11.5 1 8-.5 24.5 2 12 2 5.5 2.5 5.5 .5 21.5-4 12.5 0 6.5-1.5 .5 .5-1.5 1 1 4-1.5 3 2.5 3.5 7 4 7 2.5 3-.5 9.5-11.5-4-9.5-4.5-5-3.5-1.5-18-3.5-6.5-3-3-3.5-5.5-12.5zM516 69l-6 1.5 1 8.5 3 7 2.5 2.5 2.5 0 3-1-3-2.5 0-3 4.5-3 .5-2-1-4-2-2.5-2.5-1.5-2.5 0zM472 71.5l-1 4.5 3 0 1-1 0-2-3-2zM543 81.5l-1 3 2 2.5 .5-4.5-1-1.5zM552 81.5l-.5 4 1 3 2-2 .5-2-1-2-2-1zM430.5 86l-6 3-7.5 8.5-9.5 4-3 2.5 18 .5 5.5-2 7 0 2.5-1 2.5-4.5-.5-6-4.5-4.5-4.5-.5zM380.5 96l1.5 4.5 1.5 1-.5-3.5-2.5-2.5zM510.5 101l-2.5 1.5 0 1.5 2 .5 1.5-1 .5-2-1.5-.5zM226 110l-9.5 6 8.5-1.5 2-3 0-2-1 .5zM408.5 111.5l-.5 .5 1.5 1 4 1 5-2-10-.5zM180 125.5l-3.5 1.5-4 3-1 3 .5 3.5 2 1.5 6 2 9 1.5 3-1-7-6-2.5-8.5-2-.5zM518 125.5l-5 1.5-2 18-3.5 7 23 3.5 8.5 .5 8.5-2-7-6-11-19-7-3.5-4 0zM395.5 133l-5 3.5-1.5 3.5 2 2.5 6 4 3-4.5 1-5.5-2-3.5-3.5 0zM289 151l-2.5 4.5 1 2.5 2.5 .5 2.5-1 1.5-4-1-2-3.5-.5zM435.5 151.5l-6 1.5-16.5 6.5-20 5-14 6.5 21-2.5 33-8 17.5-3 8-2.5-9-2-13.5-1.5zM470.5 158l-.5 3.5 .5 3 2.5 3 3.5 2.5 3 1 3-.5 5-4 .5-4-2-5-15 0zM555 160.5l15 5.5 1.5-2-6.5-3.5-9.5 0zM585 169.5l4 1-3.5-1.5zM392.5 181.5l-4.5 2-1.5 3 1.5 3.5 4 2.5 6-2 2.5-2-3-6-2-1-3 0zM430.5 182.5l-1.5 1 1 1.5 2.5-.5 1-1.5-3-.5zM470 194l-3 1.5 .5 3 2.5 1.5 3-.5 1.5-1.5 0-1.5-2-2-2.5-.5zM327 0l6.5 0 0 3.5 1.5 5.5 1-9 20.5 0-1 6.5-4.5 10.5 .5 2 2 0 6-1 8.5-5.5 5.5-6.5 1-6 6.5 0-.5 8 1 2 0 3.5-1.5 1-4-.5-9 7.5-7.5 3.5-8 1-7.5-.5-8-4-5.5-5.5-2.5-5.5-1-10.5zM676.5 .5l9-.5-1 2-11 11-14.5 21.5-10 9 8-3-1 13.5 .5 2.5 2 1.5 8 1 8.5-1.5 3.5-3 4-7.5 0-5.5-5-9-2.5-11.5-2-2 .5-1 5 2 8-.5 5.5-2 4.5-4.5 6.5-2.5 8 .5 6 3 5.5 5 9 13.5 7 15.5 3 10.5 0 5.5-2.5 6 .5 1 4.5 2 3-.5 2-10.5 2-1.5 3 1 2.5-3-1-.5-5 2-2-.5-1.5-3 1.5-3 10-3.5 8 0 0 38.5-2.5 1.5-1.5 6-9 8-2.5 5.5 1.5 3 6 3.5-7 2.5-17 3.5-19.5-12-6.5 11.5 12 5.5 9-.5 5 1.5 4 4.5 5 9.5 2.5 2.5 20.5-4 0 29-13.5-.5-2 1 3 6.5 5 8 3 2.5 4.5 1 0 23.5-32.5 0 0-21-5.5-10.5-1-9.5 .5-5.5 2-5.5-.5-9.5 1.5-2 4-2.5-1.5-7.5-2.5-4-4.5-1.5-8 2-13.5 5-15 3.5-11 .5-19.5 0-3-1-.5-3.5 7.5-7.5 7.5-7 10-6-5.5-11.5-8.5 4-9 6.5-16.5 19.5-3.5-.5-1.5-4.5-1.5 4 1 4 1 1 4.5 0 1.5 3-.5 2-2 1.5-5 0-3.5-1.5-3.5-7 0-6 3-7.5 6.5-10 2.5-.5 2 1 .5 3-5.5 9.5-.5 3.5 16-19.5-7.5-6-6-1.5-3 3.5-3 0-1.5-2.5 0-4-6-3-5.5 .5-7 3 0 3.5-4.5 17 0 3.5 3.5 15 8 18.5 9-3 9-.5 7-4.5 4-.5 8 1.5 14 5.5 3.5 .5 14-4.5 2.5-4.5 2-1.5 6 2.5 6-1 11 0 5 1 4.5 4.5 0 4-5 6-29 13.5-18 2-11.5 3.5-3.5 2-6.5 1.5-2.5 3.5-2 7-1 13-6.5 0-.5-1.5-3.5-1.5-8.5-8-6-7.5-5.5-13.5-1.5-8.5-9.5-5-4-4-3-5.5-6.5-18 0-2.5 2.5-1.5 2 0 1.5 2 9 22 7.5 5 2 0-2.5-2.5-7.5-17-3.5-12-1-10.5-13 2.5-2 0-1.5-2 0-2.5 2-1.5 13-4 1.5-5 0-.5-4 0-1.5-1-.5-3.5-.5-10.5-8-3.5-1-2 .5-2.5 12-22.5 6.5-6.5 15-9 16.5-4.5 10-6.5 6-5 16.5-24 7-7zM704 17l-1 1.5 7.5 4 8.5 10.5 2.5 5 3 10 6-.5-3-8-11-17.5-7.5-4.5-4.5-.5zM645 45.5l-.5 1 1-1zM634.5 50.5l-11.5 3.5-4.5 2.5 3.5 2.5 15-8.5-2 0zM716.5 54.5l-3 3.5 5.5 0-.5-3.5-1.5 0zM727 55l-1 1.5 .5 5 4 3 3 .5 1.5-3.5-1.5-4-3.5-2.5-2.5 0zM702.5 56l-5.5 2-8.5 11.5 5.5 6 2.5 4 2 16-10 2-7 0-8.5 4 2 1.5 3.5-1 2.5 1.5 4.5 9.5 4.5 5.5 10 1.5 2.5-1.5 4-6 2.5-7-6-6.5 2-.5 0-1.5-4.5-14.5 0-12 1-5 4-9-3-.5zM612 62.5l-2 2-1.5 4.5 4 .5 5 6 1.5-4-.5-4.5-2.5-4-3.5-.5zM680 68l-7 3.5-9.5 1.5-7 3-5.5 0-10 7.5-1 8 2.5 .5 8.5-1 10 1.5 3.5-.5 11.5-12 11-10-3-2-4 0zM644 71l0 1.5 .5-1-.5-.5zM606.5 72.5l-10.5 13 5.5 2 6-2 2 2 4 7.5 2.5 1.5 3-1 4.5-5.5-1-5-1.5-2.5-3.5 1-4-1-7-10zM726.5 81l-7.5 2.5-8-1 1.5 2.5 3.5 1 6.5-1.5 4.5-2.5 .5-1-.5 0zM736 83l-6 6 8.5 4 0-7-1-2.5-1.5-.5zM711 92.5l1 3.5 2 2.5 4-5.5-6.5-1zM725.5 96.5l-4 2.5-.5 2 0 1.5 4 2 4.5 .5 4-.5 2.5-2 0-2.5-4-3-3.5-1-2.5 .5zM683 125.5l-8.5 4.5-6.5 7 9.5 .5 17-2.5 8.5-2 7-3-6.5-2-7.5 0-9-3-4 .5zM706 156.5l-4 1-4 4.5-6-1-16 4.5-6.5-.5-13-5.5-8-1-7.5 4.5-7.5 1.5-3 6-1.5-1-.5-4-4.5 1-2 2.5 1 8.5 3.5 9.5 3.5 6 10 9.5 4-14-4 .5-2.5-1-.5-3 2-2.5 6.5-2.5 13-1.5 14-4 17.5-2 12.5-6.5 12-4.5 4.5-3.5-1-1-3-.5-8.5 0zM735 175.5l.5 4 2.5 4 0-5.5-1.5-2-1.5-.5zM735.5 0l31 0 0 40.5-6 1.5-7 4-2 0-1.5-1.5-7.5-17 .5-2 1.5-2-4-3.5-3.5-7.5-1.5-12.5zM743.5 6.5l1 6.5 1.5 2.5 1 0 1-1.5 0-2-4.5-5.5zM729 19l3.5 0 3 1.5 2.5 3 0 2.5-3 2.5-2-.5-3.5-4.5-.5-4.5zM26 98l22 1 10 3 3 2 3-1.5 2 0 1.5 2.5-.5 3.5-3.5 3.5-5 3 16 13 4.5 3 11.5-1.5 11 .5 6.5 2 4.5 5 1.5 3 1 7.5-.5 5-2.5 5.5-8 6-6.5 2.5-3.5 4.5-1 13 6 27.5-6.5 0-5.5-22.5-.5-14 1-6.5 3.5-5 5-4 5-1.5 5.5-4 1.5-4 .5-4.5-1-4-2.5-3.5-5.5-1.5-6.5-1-16 2-1 6.5-3 10.5-2.5 5.5-6 8.5-.5 31.5-5.5 8-5.5 2-5.5 0-4-1.5-3.5-4.5-5-9.5-3-1.5-5 1.5-3.5 4-1 5 0 8-22.5 0 0-31 4-2 3.5-6-7.5-10 0-7 4.5 1.5 6 8 6 0 9 5.5 3-1 6-6.5 12.5-28.5 8.5-12.5-2.5-1-5-.5-9 8.5-9 6.5-6.5 3-11.5 4-12 1 0-6.5 10.5-1 15.5-6 9-6.5 9-9 11-6-8.5-3-3.5 3-25 1.5-9 1.5-9 3 0-7 9-3 2-2 5-2 10-2.5zM61 126.5l-8 11-6.5 14.5-2.5 8-3.5 6.5-7.5 9 2.5 5 1 5.5 6.5 8 4 8 2.5 1.5 4.5-.5 3.5-5 0-29.5 1.5-5 7.5-10.5 3-11 1-8.5-4.5-4.5-4.5-2.5zM598.5 175l1.5 .5 1 2-1 3-1.5-2.5 0-3zM697 180l4.5 0 4.5 2.5 9 10 2 7.5 1 11.5-6 0-1.5-9.5-1.5-6-3-4.5-7-5-2.5 1.5-2 4-2 19.5-6.5 0 2.5-23 4-6 4.5-2.5zM174.5 186l8 .5 7.5 4.5 5 7.5 2.5 6.5 1 6.5-6.5 0-1-5.5-3.5-7.5-5.5-5-4.5-1-4.5 1.5-4 4.5-7 13-7.5 0 9-17 6-6 5-2.5zM39 207l1.5 4.5-3 0 1-4.5z"/>
<path fill="#ffc800" d="M.5 0l20.5 0 1.5 10.5-2 15 4-1.5 2.5-4.5 .5-5-1.5-12 16.5 4.5 14-1 6 8 3.5 3-1.5-17 6 0 .5 8.5 1.5 7 1.5 1.5 4.5-2 1 2.5-1 4.5 3 1.5 9-5.5 9.5-2.5 4.5 0 25.5 7 23.5-.5 19-2 5 1 8.5 2.5 2-.5-5.5-2.5-4-4-3-7-1.5-7.5-21 13.5-5.5 1-7-2.5-12-5.5-5-1-6-2.5-5-3-1-2 10.5 0 3.5 2 3.5 0 19.5 8.5 10.5-6 6-4.5 15.5 0 .5 7.5 2.5 5.5 3 2.5 4.5 1.5 3-1 .5-1-8-10.5-2-4.5 13 0 .5 6 1.5-6 6 0 0 6 7.5-.5 3.5 1.5-1-7 46 0 3 12.5-3 2.5-2.5 18.5-2 2.5 1.5 2-8.5 7-13.5-4.5-8 1.5-9.5 0-55.5-4.5-6-1.5-6.5-8-23 1-25.5-7.5-7.5 1-9 6 5 3 3 5.5 1 9-1.5 5.5-5.5 9.5-11 9.5-11 3.5-22-2-16.5 6-27.5 14 0-6.5 25.5-13 11.5-4.5 5.5-2 6.5 0 15.5 2 9.5-3 6.5-5 6-7 2.5-9.5-.5-4.5-2-3.5-6.5-.5-9 3-5.5 3.5-20 15.5-5 2-8 1-1.5 2-10.5 2.5-5.5 0-7.5-2.5-2.5-2-1-3 .5-2 3-3-3-8.5 2-16.5 1.5-2.5 5.5-.5 2-6 .5-11.5-1.5-5-2.5 5.5-4 4.5-3.5 2.5-4.5 .5 0-14.5zM231 3l-7 2-.5 1.5 6 25 4.5 1.5 12.5 0 0-15.5-7.5-2-4-11.5-1.5-1-2.5 0zM209 11.5l-4 2.5-1.5 6 .5 6.5 7.5 2.5 8 1 .5-5-3.5-10.5-4-2.5-3.5-.5zM252.5 17l.5 12 2-11.5-.5-1-1.5 .5zM74 27.5l-2.5 3.5 6-2-3-1.5zM39.5 43.5l-3 1.5-2 2-1 6.5 5-.5 5-1.5 5.5-5-4-2.5-5.5-.5zM282.5 .5l9-.5 14 4 9 5 4 5.5 0 6-3 6-4.5 4-4.5 1.5-5.5 0-2.5 6 3 13-1 30 2.5 .5 4-1 9.5 0 6.5-2 2-5.5 1-18.5 2-2.5 2-1 2.5 1.5 2.5 3.5 4.5 15 4 8 5.5 2.5 11 1.5 .5-1-8.5-8.5-3.5-7 .5-5 2.5-6.5 3-4 4-2.5 6-.5 10 3 10 8 10-2.5 6-3 4.5-3.5 5-8.5-12-1-3-1-3.5-3.5-2-7.5 2-5 4-4.5 3.5-2 4.5-1.5 7 0 5 3 5.5 5 12.5-4-8.5-3.5-3-2.5-2.5-4-2-9.5 6 0 2.5 9 3.5 2.5 6.5 2 3-1 4.5-3.5 1-2-.5-7 16 0-.5 4.5-2.5 3.5-6 2-5.5 5.5-5 3.5 1 3-6.5 26.5 0 12.5 .5 4.5 1 1 8.5-3.5 3.5-2.5 12.5-20-.5-4-5.5-8.5 1.5-6.5-2.5-5.5 0-2.5 1.5-1.5 2 0 5.5 6 9-2.5-7-6-2-4-1.5-5.5 6.5 0 1 4 2.5 3.5 5.5 2 1.5-1-2-4-.5-4.5 25 0-2 5 .5 0 9-.5 4-4.5 15.5 0 .5 2.5 2 2 7 2.5 4-2 1.5-5 36 0 3 3.5 8 3 8 5 3.5 .5 4.5-1 3.5-2 3-4.5 1-4.5 8.5 0 1 6 16-6 5 1 7.5-1 16.5 0 0 3-2 2-24 2.5-4-.5-9 3-38 15-13 9-12.5 11-5 25.5 0 9.5 3.5 2.5 4 8 3.5 12.5-.5 4.5-2 1.5-6 1.5 .5 4.5-2.5 2-11.5-4-7.5-9-4-2.5-4.5 .5-3 4.5 0 3.5 2 3 3.5 2 9.5 2.5 4.5 5.5-1 2-2.5 1.5-10 1 4 9 5.5 8 10 6.5 10.5 3 10.5 5.5 17.5 6 2 3.5 0 4.5-3 3-5 1.5 8 11 10.5 1.5 7.5 4 2 3.5 1.5 4.5 .5 9-6 0-.5-7-1.5-5.5-4-2.5-5.5-1-11 1-4 2-1.5 2.5 0 6 8 2.5 .5 2-18 0 3-4.5 .5-7.5 5.5-7.5-14 0-12.5-4-3.5 1-1 1.5 6.5 10 4.5 11-65.5 0 2-14.5-1.5-2.5-3-1-6 2-7.5 4.5 1.5 11.5-45.5 0-.5-.5-.5 .5-7.5 0 5-7-.5-1.5-5-2-19-4-4 .5-1 1.5 5 12.5-17 0-1-2.5-1.5-.5-2 1-.5 2-74.5 0-.5-6-3.5-.5-4 1 0 5.5-36 0-2-4-12.5 1-1.5-1-1.5-2.5-4 6.5-7 0 5.5-10 4.5-3 5.5 .5 3 3 21-2.5 35.5 0 16-2.5 23 .5 16-1.5 4-1.5-1.5-4-8.5-6-4.5-1.5-9.5-1.5-2 .5-2 3-.5-3-1.5-.5-10 1.5-34-.5-24.5 1-20-2.5-12 2.5-3.5 3-4 8.5-2.5 16.5-6.5 0 3-18 4-9 6-6 7.5-2.5 8.5-1 20.5 2.5 21.5-1 35 .5 18-3.5 38-14.5 21.5-6 19.5-7.5 10-.5 36 7 8.5-1 17-4.5 2-4 2.5-19 4-5-3.5-10 4.5-1 2.5-3.5 1.5-5.5-.5-2-1.5-.5-30.5 11-11.5 2-7.5-1-2.5 3.5-7 .5-14.5 4-27.5 14.5-6.5 4-4 4.5-2-6.5-2-1.5-3 .5-6 4-2.5 4 .5 2.5 4.5 5 0 2.5-7 3-4 .5-3-2-8.5 0-23.5 3.5-10 0-9.5-4-16-3.5-6.5-.5-5 2 1 6.5-3.5 7-3 2-4 1-5-1-3.5-3-1.5-4 .5-6.5-43.5 2.5-15 5.5-9.5 1.5-47.5 13-8.5 0-5-2-4.5-3.5-1.5-3-1.5-9 3.5-37 2-9.5-5-1.5-2.5 1.5 .5 7-1.5 5-12 21.5-.5 10 2 2.5 3 8-2 11-1 1.5-2 .5-3-3.5-8.5 11.5-2.5 6.5 0 5.5 1.5 7 3.5 8.5-6.5 0-4-10.5-.5-12.5 3-7.5 7.5-10 2.5-5.5 1-9 0-11.5 2.5-16.5 2-2.5 4 .5 5-9.5 .5-4-1.5-8 1.5-2 3-.5 2-9.5 0-8.5-1-7-1.5-3-8.5 17-2 1.5-2-.5-1.5-2 2.5-7-1 .5-7 11.5-1 10.5-1.5 4-3 3.5-3 2-6 .5-4.5-2-8.5-7-2.5-21.5-1.5-3.5-2.5-2-5 1-2.5 4-2 7.5-1 14.5-2.5 1.5-2.5-1.5 0-16.5 2.5-7.5 3.5-6 5.5-3 6 0 3 2 2.5 2.5 2 5 2.5 19.5 7.5 6.5 4.5 0 2.5-3 2-12.5 4.5-9.5 7.5-9.5 2.5-1 3 2 2-4.5 1-4-5-2.5-2.5-4-1-5.5 0-10 3.5-6.5 6.5-1 3.5 1 6 3 7 6.5 1.5 2.5 0 4-1.5 3-9 8.5 4 16.5 0 11.5-1.5 6 .5 2 14-4 12.5 .5 0-21.5 1.5-7 4.5-6.5 5.5-3.5 8 1 3 2.5 4 8 2.5 15 2 1.5 2.5 .5 3-1.5 3-3.5 5-12 5-4.5 8-2.5 6.5 0 11.5 2 6 2.5 15.5-7 13.5-10.5 5-7 7-17-4.5-5-16-2.5-4-2-1.5-3 .5-3 2.5-5.5 5-4.5 5-2zM285.5 6l-7.5 3.5-2 5 16.5 2.5 7 6.5 4.5 2.5 4.5-1 2-2 2-6.5-3.5-4-5.5-3-10-3-8-.5zM500.5 11.5l-1.5 .5 3.5 .5 3-1-5 0zM497.5 12.5l1 0-.5 0zM494 13l1 0-1 0zM490 13.5l-4 1.5 2 .5 4-1.5-1.5-.5zM492.5 13.5l1 0-1 0zM542.5 19.5l-6.5 3-2 2.5 0 2.5 2.5 3 7.5 6 4 1 4.5-4.5 2.5-5.5 .5-3-4-3.5-8.5-1.5zM405.5 21.5l-6 2-2.5 3-1 3.5 2 4 5.5 1.5 5-.5 4-2 1.5-2 .5-4-.5-2-5-3.5-3.5 0zM431.5 27l-11 3.5-5 14-5.5 8.5-5 5-9 4.5-12.5 3.5-10.5-8.5-5-2.5-7-1-3.5 2.5-2.5 7 1 5 7.5 8.5 8.5 6 1 2-.5 2.5 7 8.5 4.5 9 1.5-2.5-.5-3.5-1.5-2.5-3.5-3-1-3 0-3 1.5-2 5-2 14-2 16-5 14.5-7-1-22.5 4.5-19 0-1-1.5 0zM133.5 44l-1.5 3.5 1 12 1.5 1.5 3.5 .5 5-2.5 5-6-5.5-5.5-5-3-4-.5zM293.5 48l-5 7-6.5 6.5-9 6.5-13 5.5-3 2.5-2.5 0-7.5-3-11.5-2-6 .5-5 2-2 2-2.5 7.5-4 6-4 4-4 2-6-.5-5.5-4.5-2-7-.5-9-3-6-2-1.5-2.5 0-4 2-2.5 4-1 6.5 .5 28-3 1.5-1.5-1-1.5-2.5-6.5-.5-8 .5-2.5 1-3 14-3 32 0 8 1.5 4 6 3 6 0 20.5-6 11-2 15-4.5 9.5-1.5 6.5-2.5-3-1.5-12 1-13.5-3-10.5 .5-10-1.5-7.5-2.5-3-3.5-2-4.5 .5-5 3-5 7-5 3.5-1.5 12.5-1 12-7.5 1.5 0-.5 2.5 2 0 5.5-2.5 12.5-7.5 4.5 .5 4.5-2 5.5-10 7-4 10.5-3 26 5.5 7.5-1.5 5.5-2.5 .5-.5-1.5-3.5 0-14 1-15-1.5-5zM472 49.5l1 4 1-2-2-2zM492.5 57l-1 5.5 4 1 4 3 5.5 .5 2.5 1.5 1.5 4 2 10 5 8 3 0 8.5-5.5-4.5 1.5-2.5-.5-1-1.5 .5-3 4-2.5 .5-1-1-4.5-3-4-3.5-1-5.5 1.5-2-1.5-.5-2.5 1.5-1.5 6.5-2.5-16.5-2.5-7.5-2.5zM452 60.5l-2 5 .5 6.5 5 5.5 2.5 1 2.5 0 2-2 2.5-5 .5-5.5-9.5-5.5-3.5 0zM524.5 64.5l4.5 5-.5-3-4-2.5zM331.5 67.5l-2 12-3 4-3 1.5-20 2.5-7 5-12.5 3.5-10-1-14.5-3.5-9 1-7 3-2 3.5 20 0 24.5 2 11.5 2 5.5 2.5 5.5 .5 23.5-4 5.5 0 3.5 2 6-1.5 1.5 1 1 2-2.5 4 3.5 4.5 14.5 7.5 2.5 0 7-9.5 4-3.5-4.5-9.5-6.5-7.5-6-2-14-2-6.5-3-3-3.5-6-13.5zM472 69l-2.5 8.5 6 1.5 2-2 .5-4.5-2-2.5-3.5-1.5zM544 79l-3.5 2.5-1.5 3 2 2.5 3.5 2 .5-7.5-1-2.5zM552 80l-1 6 1.5 3.5 3.5-2.5 2-4-1-1.5-5-1.5zM431.5 85l-7 3-8.5 9-10.5 4.5-2.5 3.5 20.5 0 12-1 2.5-1 3-5-.5-6.5-5.5-6-3.5-.5zM227.5 108.5l-18 10.5 17.5-3.5 1.5-3.5 0-3-1-.5zM408 111l-2.5 1 4 2.5 4 1 3.5-1 3.5-3-12.5-.5zM181 125l-5 2-3.5 2.5-1.5 3.5 1 4 2 1.5 6 2 9 1 3.5-.5-7-7 1-8-5.5-1zM519 125l-6 1.5-2 18-4.5 7.5 23.5 4 9 .5 9.5-2.5-8-6.5-11-19-5-2.5-5.5-1zM341.5 134.5l-1 .5 2 2.5 2 1 1.5 0 .5-3.5-4.5-.5zM290 150.5l-2 1-2 4 1 2.5 2.5 1 3.5-1.5 1.5-4-1-2.5-3.5-.5zM436.5 151l-7 1.5-16.5 6.5-19 5-17.5 7 6 0 16.5-2.5 34-8 17.5-3 9.5-2.5-10.5-2.5-13-1.5zM470 157.5l-.5 3.5 .5 3.5 2.5 3.5 4 3 3 .5 3 0 5.5-4.5 .5-4-2-5.5-10.5 .5-5.5-1zM554 160l-1 .5 17.5 6 1.5-2.5-7-4-11 0zM582 168l5 3 3.5-.5-8-2.5zM392.5 180.5l-5.5 2.5-2 3.5 1 3 4.5 4 7.5-2.5 3.5-2.5-3-6.5-2.5-1.5-3 0zM433 181.5l-6 1.5 .5 4 2 .5 2.5-.5 4-2.5 1.5-2-.5-1-3.5 0zM528 183.5l-3 1 .5 4 3 2 3.5-1 1.5-2-.5-2-2-2-3 0zM468.5 192.5l-2.5 1-1 2 .5 3 2 2.5 4.5 1 5.5-2.5 .5-2-2.5-3-3.5-1.5-3.5-.5zM327.5 0l5.5 0 1 8.5 1.5 2 1.5-2.5 0-8 19 0-1.5 6.5-5 10 0 2.5 1 1 7-1 6-3 5-3.5 4.5-5.5 1.5-2.5 0-4.5 6.5 0-.5 6-1.5 4-8 8-10 6-11 2-6-1-5.5-2.5-7.5-6.5-3-5.5-1-10.5zM677 .5l8-.5-1 2-10.5 10.5-9 14.5-6 7.5-15.5 12.5 13-6 .5 4-1.5 10 .5 2 1.5 1.5 4 1.5 7.5 0 7.5-1.5 2.5-1.5 4.5-9 1-5-1-3.5-5-8.5-1-5 1-3 1.5-1 12-3.5 5.5-5.5 6-2.5 7.5 .5 6.5 3.5 5 4.5 9 13.5 7 15.5 3.5 10.5 0 5.5-4 7 .5 .5 5.5 3 3-.5 1.5-2.5 1-9 2.5-1.5 3 1.5 4.5-5.5-10 2-2-2.5 2-3 9.5-3.5 5.5-.5 2.5 .5 0 37-4 1.5-2 7.5-9 8-2 4-2.5 .5-3-1-4 2.5 0 3.5 2 2.5 8.5-1 5 1.5-6 2-15 3-4.5-2-15-10-7 12.5 10 3.5 2.5 2 9-1 5 2 4 4.5 5 9 2 2.5 21-4 0 28.5-10.5-1-8.5-3.5-1.5 2 .5 2.5 12.5 16.5 3.5 2.5 4 1 0 22.5-10 0-2-3.5 0 3.5-20 0-1-16 1-5-5-9-2-11 .5-5.5 2-5.5 0-9.5 5.5-4.5-1.5-7.5-3-4.5-4.5-1-8.5 1.5-13 5-15 3.5-11.5 1-19.5 0-2-1-.5-3.5 7-7 8-7.5 10-5.5-6-13-2 2-7 3-8.5 6-16 19-2 1-2.5-2 0-3.5 16.5-19-5-6.5-3-3-2.5-1-2.5 2.5-2.5 0-2 3.5-2.5 0-1.5-1.5-.5-5-7.5-3-5.5 1-6 3 .5 3.5-5 16.5 0 4 4 15.5 7 15 .5 3.5 10-3 8.5-.5 7-4.5 4-1 8 2 14 5.5 3.5 .5 14-4.5 5.5-4.5 4 1 7-1.5 11 0 5 1.5 4 4 0 4-4.5 5.5-29 13.5-18 2-12 4-3 1.5-6.5 1.5-3 4-2 7-.5 13-6.5 0 0-2-3.5-1-3-2.5-11.5-13-5.5-13.5-1.5-8.5-10-5.5-4-4-2.5-5.5-7-17.5 .5-2.5 2-1.5 2 .5 1 1.5 9.5 22.5 7.5 5 2 .5 1-1-3-2.5-7.5-17-4-12-.5-11-13.5 3-2-.5-1-1.5 0-2 1.5-1.5 13.5-4.5 2-6-4.5 .5-1.5-1-1-3.5 0-10.5-8.5-4-1-2 1-2 12-22.5 6.5-6.5 15-8.5 16-4.5 10.5-7 6-5 16-23.5 7.5-7.5zM704.5 16.5l-3.5 2.5 8.5 4.5 7.5 8.5 3.5 7.5 2 9.5 8.5-1-3-8.5-11-17.5-7.5-4.5-5-1zM635.5 50l-12.5 3.5-5.5 3 7 6-1-4 15-8.5-3 0zM719 52l-6.5 6.5 6.5 0 1-6.5-1 0zM727.5 54.5l-2 1.5 1 6 4 3 3 0 2-3.5-1-3.5-2-2-4.5-1.5zM698.5 55l-3 1.5-4.5 6.5-2.5 1.5-8 .5-9 5.5-8.5 1.5-6.5 2.5-5 .5-10.5 8-1.5 10 3 1 9.5-2 13.5 3 6.5-10 5-5.5 8.5-5.5 4.5 0 4 3 2 4 0 14-6 1.5-7.5-.5-9 1.5-2.5 4.5 2.5 1 1.5 1.5 2.5-2 3 1 1.5 1.5 3.5 8.5 4 5 11.5 1.5 6-7.5 2-7.5-3-4 0-2-5.5-17 0-11 1-5 5-11-7.5 0zM612.5 62l-2.5 2-2.5 6.5-12 15 3 2 8.5 2 5 7 5 1.5 3-1.5 3-3 2-3.5 .5-2.5-3.5-6-4 1.5-4.5-1-5.5-8 0-3.5 3-1.5 1.5 1 4.5 6.5 1.5-1.5 1-4-.5-4.5-2.5-3.5-4-1zM715 65l9.5 4.5-3-3-6-1.5zM643 68.5l-1 .5 1.5 4 3.5-3-3.5-1.5zM727.5 79.5l-9 3.5-9-2 2.5 4 4 1.5 5-1 6-3 2.5-3-2 0zM634.5 80.5l-1.5 3.5 .5 2.5 1-6.5zM736.5 81.5l-8 7.5 5 1.5 6 3.5 0-9.5-1-2.5-2-.5zM710.5 92l1.5 4 2 3.5 5-7-8-1zM726.5 96l-5 2.5-1 2.5 0 2 8 3 5.5-.5 3-1 0-3-2-3-4-2.5-4.5 0zM683.5 125l-9.5 5-7 7 10.5 .5 17-2 8.5-2 7.5-3.5-7-2.5-7.5 .5-8.5-3-4 0zM707 156l-6 1.5-3.5 3-4.5-.5-17 5.5-6-.5-14.5-6-7-1-7.5 4.5-12 1.5-5.5 2.5-2 2.5 1 8.5 3.5 9.5 4 6.5 10.5 9.5 4-15.5-4.5 1.5-2-1-1-2.5 2.5-3 6-2.5 13.5-1 13.5-4.5 17.5-1.5 12.5-6.5 12.5-5 3-1.5 1-2-.5-1-3.5-1-8 0zM734.5 174l.5 5.5 2.5 4.5 1 .5 0-7-1.5-2.5-2.5-1.5zM736 0l6 0 1 10.5 2.5 5 1 .5 2-1.5 .5-3.5-4.5-5.5-1.5-5.5 23.5 0 0 40-5.5 1-7.5 3-3-1-5.5-14 0-2.5 2-3.5-4-1-3-3-3-7-1.5-12zM729.5 21l2.5 0 2 1.5 .5 2.5-1 2-3-2.5-1-3.5zM262.5 39l2.5 2.5-.5 2-2.5-.5 0-3.5zM25.5 98.5l10.5-.5 12 1 10 3.5 3 2 2.5-1.5 2 0 2 2-1 3.5-3 3-5.5 3.5 4.5 3 11.5 10 4.5 3 12-1.5 11 .5 6.5 2.5 4.5 5 1.5 3 1 7-1 5-2.5 5.5-7.5 5.5-7 3-3.5 4.5-1 13 6.5 27.5-6 0-6-22.5-.5-14 1.5-6.5 3-4.5 5-4 5-2 5.5-3.5 2-4 0-5.5-1-4-2.5-3-5.5-2-6.5-.5-16.5 2-.5 6.5-3.5 10.5-2.5 5.5-6 8-.5 9.5 1 19-1 4.5-5 6.5-5.5 2.5-5.5 0-4-2-8.5-14.5-3-1.5-5.5 2-3.5 4-1.5 5.5 0 8-21.5 0 0-30 4-2 4-6.5-8-11 0-6.5 4 1.5 7 9.5 2-1.5 2.5 0 10 6 3.5-1.5 5.5-6 13-29 8.5-12.5-2.5-1.5-6-.5-9 9-8.5 6-7 3.5-11 4-12 1 0-6.5 10.5-.5 16-6.5 8.5-6 9.5-9.5 11.5-6-10-3.5-3 3.5-25 1-9 1.5-9 3.5 0-6.5 9-3 2-2 5-2 9-2.5zM61 126l-8 11-7 15-2.5 8-3.5 6.5-7.5 8.5 3 6 1 5.5 6 7.5 4.5 8.5 2.5 1.5 5-1 3.5-5-.5-29.5 2-5 7.5-10.5 3-11 .5-8.5-4.5-5-4.5-2.5zM639 115.5l3 .5 1 2.5-5.5 10-3 8.5 2 4 5 .5 1.5 3-3 2.5-4.5 .5-3-1.5-1.5-2.5-2.5-4.5 0-5 4-9 6-9.5zM697 180.5l4-.5 4.5 2.5 8.5 9.5 3 8 1 11.5-6 0-1-9.5-2-6.5-2.5-4-7.5-5.5-3 2-2 4-2 19.5-6 0 3-23 3.5-5.5 4-2.5zM174 186.5l8.5 .5 7.5 4.5 4.5 7 2.5 6.5 1.5 6.5-6.5 0-1-6-3.5-7.5-5.5-4.5-4.5-1.5-5 2-4 4.5-7 13-7 0 9.5-17 5.5-5.5 4.5-2.5z"/>
<path fill="#ff9c00" d="M.5 0l13 0-1.5 5-3.5 5-4 2.5-4.5 1 0-13.5zM15.5 0l5 0 .5 1.5 1 9.5-1 9-1.5 5.5 .5 1 4.5-1.5 3-4 .5-5-.5-12.5 15 4 13-1 7.5 9 4 2.5-2-18 5 0 .5 8.5 2 7.5 1.5 2 4.5-1.5 .5 2-1 3.5 3 2 3.5-1.5 8.5-5.5 10-1 27 7 24-.5 19-2.5 14 4 2.5-1-7-3-4-4.5-3-6.5-1-9 5.5 0 .5 7.5 3 6 2.5 2 5 2 3-1 1-1.5-8.5-10.5-2-4.5 12.5 0 .5 9.5 2.5-9.5 5 0 0 6.5 8-.5 4 1.5-1-7.5 14 0-2 2.5-5 2 0 3.5 6 23.5 3.5 2.5 2.5 .5 3.5-1 7.5 0 1-1 0-15-6.5-1.5-1-1-1.5-9 1-6 22 0 2.5 12.5-2.5 2.5-2.5 19-3 2 1 1.5-3.5 3-1 3-2 1-13-4.5-5.5 0-2.5 1.5-9.5 .5-54.5-4.5-6.5-1.5-7-8.5-23.5 1-25-7.5-8 1-10 7 5.5 2.5 3.5 5.5 .5 9-1 5.5-6 9.5-10.5 9-11 3.5-22-2-16.5 6.5-27.5 13.5 0-5.5 25.5-13 11.5-5 5.5-1.5 6.5 0 15.5 2 9.5-3 10-8.5 3-4.5 2.5-7.5-.5-6-2-3.5-2.5-1-4.5 0-9 3.5-5.5 3-20 16-5 1.5-9 1-3 3-8 2-6-.5-7.5-2.5-2.5-3.5 0-1.5 4-3.5 0-3-2.5-5.5-.5-4 2.5-12.5 1.5-1.5 4-1 2.5-7 .5-8-1-10.5zM207.5 11.5l-3 2-1.5 6 1 7.5 8.5 2 7.5 1 .5-5.5-3.5-10-5-3.5-4 .5zM253 16.5l-1 1 0 16.5 1.5 1 0-5 2-12.5-.5-1-1.5 0zM74.5 27l-4 5 8-3-4-2zM38.5 42.5l-4.5 4-1.5 7 6 0 5.5-2 6.5-6-5.5-3-6 0zM112 0l9 0 4.5 2.5 3.5-.5 19.5 9 10.5-6 7-5 8.5 0-1.5 2-11 7.5-9.5 6-4 .5-8-2-11.5-5.5-5-1-6.5-2.5-4.5-3-1-2zM283.5 .5l11.5 .5 10.5 3 8.5 5 4 5.5 0 6-2.5 5.5-4.5 4.5-4.5 1-5.5 0-3 6.5 3 13-1 18 .5 12.5 16-.5 7-2.5 2-5.5 1-18.5 1.5-2 2-1 2 1 2.5 3.5 5 15.5 3.5 7.5 6 3 12.5 1.5 .5-.5-9.5-9.5-3.5-7 .5-5 2-6.5 3-3.5 4.5-3 5.5 0 10 3 10 8 10-2.5 6-3 4.5-3.5 5.5-9-1-1-7 .5-4.5-.5-3-1.5-3-3-2-7.5 2-5 4-4.5 7.5-3 7 0 4.5 2.5 5.5 5.5 14.5-4.5-7.5-2.5-5-3.5-3-4-1.5-9.5 5 0 1.5 7.5 1.5 2 3.5 2.5 6.5 2 6-3 2.5-3 1-2.5-1-5.5 15 0-2.5 6-2.5 1.5-3.5 1-5.5 6.5-5.5 4 1 3-6.5 27 0 12 1 5.5 1.5 0 12-5-.5 6 .5 4.5 2 3.5 5.5 5.5 6-3.5 3-6 .5-7-9.5-6.5-4.5-1 8.5-15 1-3-.5-3-4.5-6.5 1.5-6.5-4-8.5 1.5-2 2 0 6 7 11-4-5-2.5-4-3.5-2.5-4-1-5.5 5.5 0 1 4 3 4 6 2 5.5-1.5-4.5-3-1.5-5.5 22.5 0-2.5 4-11 4 22.5-3 5-5 12.5 0 1 3 2 2 4.5 2 4.5 1 2.5-.5 2-1.5 1.5-6 34 0 1 2 2 2 9 3 8 5 3.5 1 4.5-1 4.5-3 3-4.5 1-4.5 6.5 0 1 6.5 17.5-6 5 1 11.5-1.5 11.5 0 .5 2.5-1.5 2-24.5 2.5-4.5-.5-46.5 18.5-13 8.5-12 10.5-1.5 4-3 15.5-2 4.5-1 8.5-2 2-5 0-1 3.5 1 9 3.5-1.5 5.5-5 3-1 2 2 3 6.5 2.5 10 .5 4.5-2 2-7 2 1 3.5-1 2-1.5 0-11-4-8-9-4-3-3 0-2.5 1-3 5 0 4.5 2 3 13 5 5 5-.5 1.5-3 1.5-10 .5 4 9.5 5.5 8 10.5 6.5 10.5 3 10.5 6 13 3.5 4.5 2.5 2 3.5 0 4-3.5 3-5 1 8.5 12 10.5 1 7 4 2.5 3.5 1 4.5 .5 9-5 0-.5-7.5-2.5-6-4-2-5-1-9.5 .5-6.5 4-1.5 3 .5 5.5 4 1.5 2 2-13 0 2-12 2-3.5 5.5-4.5-16.5-.5-13.5-4-7 1 8 9 6 14.5-64.5 0 2.5-14-.5-2.5-1.5-2-5 0-12 3.5-9-4.5-4.5-1-3.5 1-1.5 1.5 0 4 1.5 4 3.5 2 10.5-.5 2.5 3.5 .5 5-43 0-1-1.5-1.5 1.5-6.5 0 6-7.5-1-1.5-6-2.5-24-6-7 3-3.5 2.5 8.5 2.5 4 5 1.5 4.5-13 0-1-5.5-2.5-2-5 3-1.5 4.5-71 0 0-6-5-1-5 1-.5 6-33.5 0-2-4.5-13.5 1-1.5-1-1-2.5-1.5 .5-3.5 6.5-6 0 5-9.5 2-2 3-1 5 0 2.5 3.5 21.5-2.5 35.5 0 16-3 23.5 1 16.5-2 5-1.5-1.5-4.5-9-6-13.5-4.5-18 3-34.5-.5-24.5 1-20-2.5-10 2-5 3.5-2.5 4.5-3.5 11.5-1 9.5-5.5 0 3-18 3.5-8.5 6-6 7.5-2.5 8.5-1 20.5 2.5 21.5-1 35 .5 18-3.5 38-15 21.5-5.5 19.5-7.5 9.5-.5 36.5 7 13-2 13-4 2-3.5 2-19.5 4.5-4.5-2.5-7.5 3.5-.5 2-2.5 3-7.5 2-9 12-8.5-1-3.5-6 5.5-2 .5-2.5-.5-1-1.5 .5-2 5-3.5-2-6.5-4.5-4-7.5 1.5-1.5-1.5 0-2 1.5-1.5 3.5-1.5 6 0 6.5 5.5 3 4.5 2-5.5-2-2.5-10-4.5-19.5-1.5-9.5-4-1.5 3-.5 4.5 6.5 1.5 4.5 3.5 5.5 1.5 2 2.5 2 10.5 3.5 8.5 0 2-1.5 2-9.5 4-5.5 4-13 4.5-13 1.5-6.5-2 0 3-1.5 2-7 0-15.5 5-24.5 12.5-11 7-3-5.5-2.5-1-2.5 .5-6 4-4 4.5-.5 3.5 4 5 .5 2.5-1 1.5-5.5 1.5-2.5 0-2.5-1.5-9.5-.5-23 3.5-10 0-9-3.5-15.5-4-7 0-6 2 1 6.5-3.5 7-2.5 2-5 .5-4.5-1-3-3-1-4 1-6-10.5 .5-8.5-1-13 2-13.5 .5-14 6-9.5 1-15.5 5-10.5 1.5-20.5 6.5-9.5 0-5-1.5-3-2.5-2-2-1.5-4.5-.5-6.5 3.5-37 2-10-5.5-1.5-2.5 1.5 0 7.5-1 4.5-12.5 21.5-.5 10.5 2.5 2.5 2.5 8-1.5 10.5-1.5 2-2 0-1.5-1.5-.5-3.5-9 13-3 6.5 0 6 1.5 7 3.5 8.5-5.5 0-4-10.5-.5-12.5 2.5-7 8-10.5 2.5-5.5 1-8.5 0-12 2-16.5 2.5-2.5 3.5 1 5.5-10 .5-4-1.5-8 1-1.5 3.5-1 2-9.5-1-15.5-2-3.5-8.5 17-2.5 1.5-2-1-.5-2 4-9-1.5 1-4.5 6-4 7.5-1.5 11-1.5 4-5.5 5-5.5 .5-5-2-8.5-7-2-21-1.5-3.5-3-2.5-3.5 .5-3 2.5-3.5 10-.5 14-2 1.5-2.5-1 0-16.5 2-7.5 3.5-5.5 5.5-3 6 0 3 2 2.5 2.5 2 5 2.5 19 7.5 7 4.5 0 3-3.5 1.5-12.5 5-9.5 7.5-9.5 2.5-.5 2.5 2 2.5-5 1-4-5-2.5-2.5-4-1-5.5 0-10 1.5-4.5 2-2 6-.5 3.5 .5 6 3.5 6.5 6 1.5 2.5 0 4-1.5 3-9 8.5 4 16.5 0 11.5-1.5 5.5 .5 3 15-4 12.5 0 0-21 1-7 4.5-6.5 5.5-3.5 7.5 .5 3.5 3 4 8 2 14.5 2.5 2 3 0 3-1.5 3-3.5 4.5-11.5 5-4.5 8-2.5 6.5 0 11.5 2 6 2.5 15.5-7 13.5-10.5 7-11 3.5-8 2-6-5.5-5.5-16-2-3.5-2-1-3 0-2.5 3-5.5 4.5-4 6-2.5zM284 6l-6.5 3.5-2 5 4.5 1.5 12.5 1 7 7 4.5 2.5 4.5-1 2.5-2.5 2-6.5-4-4.5-5.5-3-10-3-9 0zM507 10.5l-7.5 .5-16.5 4 4 1.5 8.5-3 11.5-1.5 1-1-1-.5zM500.5 18.5l-3 1 6-.5-3-.5zM541.5 18.5l-7 4-1.5 2.5 0 2.5 2 3 9 7.5 4 1.5 2.5-1.5 2.5-3.5 3.5-7 .5-3.5-2-2.5-3.5-2-5.5-1.5-4.5 .5zM404 21.5l-4.5 1.5-2.5 3-1.5 3.5 1 3.5 2 2 5 1 6.5-1 4-4 1-5-5.5-4.5-5 0zM432 26.5l-11.5 3.5-5.5 14.5-5 8-5 5-9 5-12.5 3-10-8.5-5.5-2.5-7-1-4 3-2.5 7 1.5 5.5 7 8 9 6.5 0 4 7 8.5 4.5 10 2.5-.5 1-4.5-2.5-5-4.5-4-.5-4 1-2.5 5.5-2 13-1.5 17-5.5 14-7-.5-22.5 4.5-19 0-1.5-1.5 0zM133 44l-1.5 3 0 6.5 1.5 6.5 3.5 2 4.5-1.5 5-4 2-2.5 0-1.5-8-7-7-1.5zM470.5 45.5l2 11 1 .5 3-.5 1.5-2 0-2.5-3-4-4-3zM294 47l-5.5 7.5-7 7-9 6.5-13 5.5-2.5 2.5-2.5 0-7.5-3.5-11.5-2-6 .5-5 2-2 2-3 8-3.5 5.5-4 4-4 2-5.5 0-5.5-4.5-2-7-.5-9-3-6-4.5-2-4.5 2-3 4.5-1 6.5 .5 28-2.5 1-1.5-1-1-2-7-1-8.5 .5-2.5 1.5-3 14-3 32 0 8 1.5 4 6.5 3.5 6 0 21-6.5 10.5-1.5 15.5-5 9-1 7-2.5 .5-1-2-1.5-14 1-13.5-3-11 .5-9-1-5-1.5-3-1.5-3.5-4-1-4 0-4.5 3-4.5 7-5.5 3.5-1 13-1.5 10.5-6.5 0 3 1.5 0 8-3.5 13-8 4 1 4.5-2 6-10.5 6.5-4 10.5-2.5 26 5.5 7.5-1.5 5.5-2.5 1-1-1.5-3.5 0-14.5 1-14.5-2-6zM464.5 50l1 3-1-3.5zM331.5 66l-2 13-2.5 3.5-3.5 2.5-20 2-7.5 5.5-12 3-10-1-14.5-3.5-9 1-7 3-2.5 4 20.5 .5 24.5 2 11.5 2 5 2 5.5 .5 23.5-3.5 5 0 3 2.5 7.5-2 1.5 1 .5 2-3.5 3.5 6 6.5 9 5 3.5 3 2.5 3.5 .5 7.5 2.5 2 1-2.5-2.5-6.5 .5-3.5 6-10 6.5-6-2.5-1.5-4-8.5-6.5-7-6.5-2.5-14-2-7-3.5-2.5-2.5-3.5-7-3-8.5zM472.5 66.5l-4 12.5 5.5 2.5 2.5 .5 2.5-3.5 1-8-2.5-3-5-1zM543 77.5l-4.5 3-3 4 2.5 3 7 3 .5-1 0-11.5-2-.5zM432.5 84l-7.5 3-9.5 9-11 4.5-2.5 2.5-.5 2.5 37-1 3.5-5.5 0-7-7-7.5-2.5-.5zM458.5 87.5l-3 1 1 2 3-.5 .5-2-1-.5zM229 107l-14.5 9-11 5 4 1 9.5-4 13.5-1 .5-3-1-6.5-1-.5zM405.5 111l-2 1 5.5 3.5 5 1.5 3.5-1 4.5-4.5-2.5-1-13.5 .5zM179.5 125l-3.5 1.5-4 3.5-1.5 3.5 1.5 4 1.5 1 6.5 2.5 9 1 4.5-1-6.5-6 1.5-9-5-1.5-3.5 .5zM517.5 125l-5 1.5-2 18-1.5 4-3 3.5 22 4.5 11.5 0 9.5-2 0-1-8-6-5.5-8-4-9-2-2.5-8-3.5-3.5 .5zM341.5 126.5l-3.5 2 8.5-.5-2-1.5-2.5 0zM341.5 134l-2.5 .5-.5 1 5.5 7.5 2.5 .5 2-2.5 0-5.5-1.5-1-5-.5zM268 137l.5 2 3.5 3 3 1.5 1.5-.5 0-2.5-1.5-2.5-7-1zM288.5 150.5l-1.5 1.5-1.5 4 1.5 2.5 3 1 3-1.5 1.5-4.5-1-2.5-4.5-.5zM435 151l-5.5 1-16.5 7-20.5 5-18.5 7.5 8 0 17.5-2.5 61.5-14-11.5-3-10-1.5-4 .5zM469.5 157l-1 4 .5 3.5 2.5 3.5 5 3.5 3 1 3-.5 4-2 2.5-3 .5-4-2.5-6-11 .5-6-.5zM551.5 160l14 4.5 5.5 3 1.5-3.5-7.5-4.5-13.5 .5zM581 167.5l6 4 4-.5-.5-1-2-1-7.5-1.5zM393 179.5l-6 2.5-3.5 4.5 0 3 5.5 4.5 5.5-1 8-4.5-3.5-7-2.5-2-3 0zM433.5 181l-8 2 0 3 1 2.5 2.5 1 3-1 6.5-3.5 2-2.5-1-2-5.5 .5zM531.5 182l-8.5 2 .5 4 3.5 3.5 4 .5 9.5-5.5-7-4.5-2 0zM327.5 0l5 0 1 9 2.5 3.5 2-3 0-9.5 17 0-1.5 7-5.5 9.5 0 3 2.5 1 7-1 6-3 5-3.5 5-5.5 1.5-3 0-4.5 5.5 0-.5 6-1.5 3.5-8 8.5-9.5 6-11 1.5-6-.5-5.5-2.5-7-6.5-3-5.5-1-10.5zM677.5 .5l7-.5-1 2-10.5 10.5-9 14.5-6 7.5-8 7-7 4.5-1 2 13.5-6.5 .5 4-2.5 11 1.5 3 4.5 1 9 0 8-1.5 4.5-3 3.5-8.5 1-5-1.5-3.5-4.5-8-.5-6.5 2.5-2 10-3 5.5-6 6-2.5 7.5 .5 6 3 5.5 5 9 13.5 7 15 3 11 0 5.5-2.5 4.5-3 2.5 4 2.5 3 4.5 2.5-1 2.5-2.5 2-12.5 2.5-1 2.5 2 3.5-4.5 4.5-3-4.5 .5-8.5 2.5-2-2 1-2.5 10-4 5.5-.5 2.5 .5 0 4-2.5 1 2.5 .5 0 30-3.5 .5-2 1.5-2 7.5-2.5 3-6 4-1 4.5-3 1-2.5-3-1.5 2.5-3 .5-3-8.5-5.5-4-2.5 0-5 1-3.5 4 0 3 2 1.5 13.5 3.5 3.5 11.5-3 1-3.5-.5-18-11.5-2.5 6.5-4.5 6.5 10 3.5 3 2.5 9-1 4.5 1.5 4 4.5 5 9 2.5 3 21-4.5 0 27.5-10.5-1.5-10-5.5-2 1.5-.5 3.5 1 4 6.5 5.5 8 11 3.5 2 4 1 0 22-8.5 0-1.5-4-2.5-2.5 0 6.5-19.5 0-.5-16 1-4.5-5.5-9.5-1.5-11 .5-5.5 2-7 0-8.5 5.5-3.5-1.5-8-3-4.5-5-1.5-8.5 1.5-13.5 5.5-15 3-10.5 1-19.5 0-3-1.5 1-3 13.5-13 6.5-4.5 4.5-2-5-9-1-4.5 1-2 2.5-.5 2 2 3.5 8.5 5 6 11 1 6-7.5 2.5-8-2-3-6.5-19.5 0-11 1-6 6-12-11.5 .5-8.5 8-4.5 .5-7 2.5-6 4.5-8 1.5-11 3.5-11 8.5-2 9.5 2 7.5-1 3.5-4 4.5-3-1.5 0-5-6.5-3-5-.5 6-8 1-3-5.5-6.5-5 2-3 0-2-2-4.5-7 .5-3 1.5-1 2 .5 5 7 1.5-1.5 1.5-7-2.5-5-2.5-1.5-3 0-2.5 2-3.5 7.5-11 14.5 7.5 3.5 4 3 3.5 5 5.5 2.5-3.5 3 1 3-5 16.5 0 4 4 15.5 7.5 16.5 0 2.5-1 1.5-2.5 0-1.5-1.5-7.5-17-3.5-12-.5-11.5-14 3-3-1.5 0-2 2-1.5 13.5-4.5 2-6.5-4.5 .5-1.5-.5-1-3.5 0-11-8-3-1.5-2.5 13-24.5 6.5-6.5 8.5-5.5 12-5 10-2 15.5-11 7-8.5 10.5-16.5 7.5-7.5zM703.5 16.5l-3.5 2-.5 1.5 8 4 4.5 4 5.5 7 3 7.5-.5 6-8.5 10.5 8 0 .5-5 1.5-3 2-1.5 4-1 4 .5-.5-4-5-9.5-9-14-7.5-4.5-6-.5zM636.5 49.5l-13.5 3.5-6 3.5 5 4.5 2.5 3.5 1 3.5 1-.5 .5-2-3-7 16-9-3 0zM728 54l-3 2 1 6 4 3 3.5 .5 2-2.5-.5-4-2-3.5-4.5-1.5zM715 64.5l-3 1.5 5 1.5 8.5 4.5 3 .5-1.5-2.5-5-3.5-5-2-2 0zM644 65.5l-3 1-2.5 2.5 3 1 1.5 4 4.5-3.5 1.5-2-2.5-2.5-2.5-.5zM636 73.5l-5.5 12.5 0 1.5 2.5 2 1.5-2.5 1.5-13.5zM728 77.5l-9.5 4.5-6-1-5.5-2.5-.5 1 5.5 6 4 1 6.5-1 5-2.5 3-4-.5-1.5-2 0zM736.5 79.5l-2 3.5-7.5 6.5 6 1 7.5 4.5 1.5-15-5.5-.5zM710 91.5l4 9 6-8.5-10-.5zM685.5 124.5l-6.5 2-5.5 3.5-7.5 7.5 12 .5 16.5-2 8.5-2 8.5-4-7.5-3-8 .5-10-3zM734 172.5l.5 7 4 6.5 1.5-4.5-.5-5-2-3-3.5-1zM736 0l5.5 0 1 10.5 3.5 6 2.5-1.5 1-4.5-4.5-6-1-4.5 22.5 0 0 39.5-5.5 .5-7 2.5-3-1.5-4.5-12 2.5-7-5 0-3.5-3-3-7-1.5-12zM264 41.5l.5 1-1 .5 .5-1.5zM687 75l4.5 1 3.5 4.5 1 7-1.5 6.5-3.5 1.5-9-.5-8.5 .5-3 7 3.5 1.5 0 3-7.5 3.5-8.5 6-16.5 19.5-3 0-1-2.5 1-2.5 16.5-19.5-2-4-7.5-8.5-.5-3 4-2.5 5 0 7 3 3.5 3.5 5-11 3.5-4.5 6-5.5 8-4zM26.5 98.5l21.5 1 10.5 3.5 2.5 3 2-2.5 2.5-.5 1.5 2-1 3.5-3 3-6 3.5 5 3 12 10.5 4.5 3 12.5-1.5 10.5 .5 6.5 2.5 4 4.5 1.5 3 1 6.5-.5 5.5-2.5 5-8 6-6.5 2.5-4 5-1 13 6.5 27.5-5 0-6-22.5-.5-14 1-6.5 3.5-4.5 4.5-3.5 5-2 6-4 2-4 0-5.5-1-4-3-3.5-5-2-7-.5-16.5 2-1 7-3 10.5-3 5.5-6 8-.5 10 1 18.5-.5 4-5.5 7-5 2-5.5 0-3.5-1.5-3.5-4.5-5-10-3.5-2-6 2-3.5 4-2 6 0 8-20.5 0 0-29 4-2 5-7.5-9-11.5 0-5.5 4 1.5 7.5 10 2-2 2 0 10.5 5.5 3-1 6-6.5 12.5-29 9-12.5-1-1.5-8-1-9 9-8.5 6-6.5 3.5-11.5 4-12 1 0-5.5 10.5-.5 16-6.5 9-6.5 9-9 12-6.5-10.5-4-3 3.5-25 1-9 1.5-9 3.5 0-5.5 9.5-3.5 2-2 4.5-2 10.5-2.5zM61.5 125.5l-9 11.5-7 15-2 7.5-3.5 6.5-8 9 3 6 1.5 6 5.5 7 4.5 8.5 3 2 5-1 3.5-5 1-4-1-26 1.5-4.5 7.5-11 3.5-11 .5-8.5-5-5.5-4.5-2.5zM640 115.5l2 1 .5 2-5.5 10-3 8.5 2.5 4.5 4.5 0 1.5 3-2.5 2.5-4.5 0-2.5-1-2.5-3.5-1.5-3.5 0-5 6-13.5 4.5-5zM595 135l2.5 2 9 21.5 5 4 4.5 2 4-3 5.5-2.5 13-1.5 7.5-5 3.5-.5 8 1.5 14 6 3.5 .5 20.5-7.5 10-2 11 0 3.5 .5 3.5 2.5 2 2 0 3-2.5 4-5.5 4.5-13 5-12.5 6.5-18 1.5-12 4-3 2-6.5 1.5-3 3.5-2 5.5-1 15-5.5 0 0-2-3.5-1-3.5-3-11.5-13-5.5-13-1.5-9-9.5-5-4.5-4.5-8.5-20.5-.5-3.5 2-2zM705.5 156l-4.5 1-3.5 2-4 .5-17.5 5.5-6-.5-13.5-5.5-8-1.5-7.5 5-12 1-5.5 2.5-2.5 2.5 1 9 4 9.5 3.5 6.5 4 4.5 7.5 5.5 1.5-8.5 3-8-5 1.5-2-.5-1-2.5 2-2.5 6-2.5 13.5-1 13.5-4.5 17.5-1.5 13-7 12-4.5 3.5-2 1-2-1-1.5-3.5-1-9 .5zM697.5 180.5l4 0 4 2.5 8 9 3 8 1 11.5-5 0-1-10-2-6-3-4.5-4.5-4-3-1.5-3 2-2.5 4.5-2 19.5-5 0 2.5-23 4-5.5 4.5-2.5zM175 186.5l7.5 .5 7 4.5 5 7 2.5 6.5 1 6.5-5.5 0-1-6-3.5-7.5-6-5-4.5-1.5-5 2-4 4.5-7.5 13.5-6 0 9-16.5 6-6 5-2.5z"/>
<path fill="#ff7f00" d="M.5 0l12 0-1 4.5-3 4.5-4 2.5-4.5 1 0-12.5zM16 0l4.5 0 1 5 .5 6-1.5 9-1.5 5.5 .5 2 5.5-1.5 3-4 1-5.5-1-11.5 1-1 13.5 3.5 12-.5 9 10 4.5 2.5-2.5-9.5-.5-10 5 0 .5 9 1.5 7 2 3 4-1-.5 4 3.5 2 1.5 0 10.5-6.5 10-1.5 27 7.5 24-1 19-2 14 4 3.5-2-7-2-4-4-3.5-7.5-1-9 5 0 .5 7.5 2.5 6 3 2.5 5 1.5 3-.5 2-2-8.5-9.5-3-5.5 11.5 0 1 11.5 1.5-2.5 1.5-9 5 0-1 7 9-1 4.5 2 .5-.5-2-7.5 11.5 0-1.5 2-3.5 1.5 1.5 10 5 19 1.5 1.5 4.5 1 12-2 0-15.5-6-1.5-1-1.5-.5-7.5 2-7 19 0 2 12.5-1.5 2.5-3 18.5-1.5 1.5-2-.5-1-2 2-16-3.5 .5 0 17.5 3.5 2.5-2.5 2.5-1.5 4-1.5 1-9-4-4-.5-6.5-.5-3 2-8 .5-16.5-2-37.5-2.5-6-1.5-1-4-4.5-2.5-2.5-2-23.5 1-25-7.5-8 1-11 7 6 2.5 3.5 5.5 1 9-1.5 5-5.5 9.5-10.5 9-11 4-22-2-16.5 6-27.5 14 0-5.5 25.5-13 12-4.5 5.5-2 6 0 15.5 2 9.5-2.5 10-8.5 3.5-5 2-7-.5-6.5-1.5-3.5-2.5-1-5 0-9 3-6 3.5-20 15.5-5 2-9.5 .5-3 3.5-7.5 2-6-.5-7.5-3-1.5-2 0-1.5 4.5-3.5-.5-5-2.5-6 1-7.5 2-6.5 4-2.5 2.5-8 1-8-1.5-10.5zM208 11l-3.5 2.5-1.5 6.5 .5 7 10 2.5 7 .5-.5-8-3-8-4.5-3-4 0zM197.5 25l1 .5-1-.5zM74.5 26.5l-5.5 5.5-6.5-1-6.5 1.5-1 1.5 5 4 8.5-5 11.5-3.5-5.5-3zM39.5 41l-3.5 1.5-2.5 2.5-2 5.5 0 3.5 7.5-.5 5-1.5 8-7.5-5.5-3-6.5-.5zM112.5 0l7.5 0 5.5 2.5 3 0 20 8.5 11-6 7-5 7.5 0-1 1.5-11.5 8-9 5.5-4 1-7.5-2.5-12-5.5-5-1-6.5-2.5-4.5-3-1-1.5zM328 0l4.5 0 1 9.5 2 3.5 1.5 1 2-3 0-11 15 0-1.5 7-6.5 9.5 .5 3 3.5 1 7.5-1 6.5-3 4.5-3 5-6 1.5-3 .5-4.5 5 0-1 6-1.5 3.5-7.5 8-10 6-10.5 2-5.5-1-5.5-2-7.5-7-2.5-5-1.5-10.5zM418.5 0l4.5 0 1.5 8 3 3.5 8.5 2.5 3.5-1 4.5-3.5 2-4-.5-5.5 13 0-2 5-5.5 2.5-5.5 7-7 4.5 1.5 1 .5 2-6 26.5 0 12.5 1 6 11.5-4 .5 9.5 5.5 8 1 3 8.5-5.5 3-6.5 1.5-8-.5-10.5-1.5-6.5-2-4-2 3.5-.5 8-1.5 .5-4.5-1 7-11.5 .5-2.5-1-3.5-3-5 1-7-4.5-8 .5-2.5 1.5-.5 1.5 .5 4 5.5 2.5 2 12-4.5 9.5 .5 9.5-3 12.5-1.5 2-2-7 0-23 4.5-5 0-5-2-4-3.5-2.5-4-1.5-5.5 5 0 1 4 3 4 2.5 1.5 4 .5 31-5 5.5-5 9.5 0 1 3 3 3 6 2.5 5.5 1 2.5-1 1.5-1.5 2-7 32 0 .5 2 2.5 2 9 3 8.5 5.5 4 1 5-1 4-2.5 4-5 1.5-5 3.5 0 1 7 1 0 18-6.5 5 1 12.5-1.5 10 0 .5 2.5-1.5 1.5-24 3-4.5-.5-46.5 18-13 9-12 10-1.5 3.5-3.5 15.5-3 4-1 8-1.5 2-4 .5-1 4.5 1 10.5 12.5-7 2 2 2.5 5.5 3 13.5-2 2.5-7.5 2 1 3.5-.5 1.5-12.5-4.5-8-9.5-4.5-3-3 0-3 1.5-2.5 2.5-1 3 0 5 1.5 3 3.5 2 11 3.5 4.5 5-1 1.5-2 1-10 .5 4.5 10 5.5 8 10.5 6.5 10.5 3 10 5.5 17.5 6 2 3.5 0 4-3 2.5-6 1 9.5 13 10 1 7.5 4 2 3 1 4.5 1 9-5 0-.5-7.5-2-6-5-2.5-5-.5-9 .5-5.5 2.5-2.5 4 0 5 0 2.5 3 2-8.5 0 .5-10.5 1.5-3.5 3.5-3.5 5.5-3.5-19.5-.5-10-4-10-.5-14-5-14 3 .5 3.5 2 4 2.5 2 3 .5 11-6 3.5-.5 4 1 9 9 6.5 14.5-5.5 0-1.5-3-.5 3-56 0 2.5-15-.5-2.5-1.5-2-5-.5-12.5 3.5-9-4-5.5-1-4 .5-2 2 0 5 2 5 3.5 3 10.5 0 2 2 1 4-41.5 0-1.5-2-2 2-6 0 3-4 4.5-4-1-1-8-4-22-5.5-15.5 6.5-6.5 7-1 5-68 0 0-6-6-1-6.5 1 0 6-32 0-.5-3.5-1.5-1.5-13.5 1.5-1.5-1-1.5-3-2 1-3.5 6.5-5.5 0 5.5-9.5 2-2 2.5-1 5 .5 1.5 3 1 0 21.5-2.5 35.5 0 16.5-3 23 2 21.5-3.5 1.5-.5 2.5-3.5 6 3 2 0 9-3 5-3-3.5-7.5-2.5-2-2.5-.5-4 .5-5 2.5-7 7-5-1.5-9-5.5-9.5-3-20 4-34.5-.5-24.5 1-19.5-2.5-6.5 1-6 1.5-4 4-3.5 8-3 16.5-5 0 3.5-18 3.5-8.5 6-6 7-2 8.5-1.5 20.5 2.5 21.5-1 35 .5 17-3 39.5-15 20.5-5.5 20-7.5 9.5-1 36.5 7 8.5-1 17.5-4.5 2-4 2.5-19 1.5-2.5 2.5-2 .5-3 2 .5 1.5-1.5 6-23 3.5-3 5.5-2 14.5 4.5 .5-15.5-1-1-3 0-5.5 4-2.5 0-1.5-1.5-.5-3 .5-2.5 3.5-4.5-2-3-15-7-10 1-10.5-1-9-5.5-4.5 4-.5 8.5 4-1.5 6 .5 6 5 5 2 1.5 3 1.5 8 2.5 7-1 4-4.5 2-6.5-.5-3 7.5-13 5-11.5 1.5-5.5-3-4 0-1 .5 2.5 2.5-1 2.5-7 .5-15 4.5-14 7.5-11 4.5-9 6-5-5.5-4.5 0-8.5 6.5-4.5 4.5 0 3.5 4 4.5 .5 2.5-.5 1-4 1-2.5 0-2.5-1.5-10-1-14.5 3.5-18 1-8.5-4-16.5-4-3.5-.5-9.5 2.5 1.5 6.5-2 5-4 4-5 1-4.5-1.5-3-3-1-5.5 1.5-4.5-9.5 0-3.5-2-4.5-.5-11.5 4-17.5 1-14 5.5-9 1.5-15.5 4.5-10.5 2-20.5 6-9.5 0-5-1.5-2.5-2-2.5-2.5-1-4-1-6.5 3.5-37 2-10.5-3.5-.5-2-1.5-3 2.5 .5 7.5-1.5 4.5-12 21.5-.5 11 2 2 3 8-2 10.5-1.5 1.5-2.5-1 .5-10-3 9-6.5 8-4 9 .5 9.5 4.5 12-5 0-4-10.5-.5-12.5 2.5-7 7.5-10 2-4.5 1-4 .5-18 2.5-16 2-2.5 3.5 1.5 5-9 1-5.5-1-8.5 1-1.5 3-.5 2-10-1-15.5-2-5-9.5 19-2 .5-1.5-1.5 1-4.5 5.5-10 3-8.5-6-3.5-2-5-1-13.5 3.5-6 6-1 6 2 8 6.5 3 4 0 4-1 2.5-9 9 4 16.5 0 11.5-1.5 9 15.5-4.5 12.5 .5 .5-.5-.5-21 1.5-7 2.5-4.5 5.5-4.5 7-.5 2.5 .5 2.5 2.5 4 8 1 9 1.5 6 2.5 2 2 0 5.5-3.5 3.5-5 3-8.5 5-4.5 7.5-2 6.5-.5 11.5 2.5 6 2 15.5-6.5 8.5-6 5.5-5 4-6 8.5-18.5-5.5-6-13-1.5-6-2-1.5-2 0-3.5 2.5-5.5 6.5-5.5 4.5-1.5 11 1 10 3 6.5 3 4.5 4 2 3.5-.5 5.5-2.5 5.5-4.5 4-4 1.5-6-.5-2.5 7 3 13-1 18 .5 13 16-1 7-2 2-6 1.5-18.5 3-2.5 2 1 2.5 3 4.5 15.5 4.5 8 7.5 3 12.5 1.5-10.5-10.5-3.5-7 .5-5 2-6 3-4 4-2.5 5-.5 10 3 10.5 8.5 10-2.5 6.5-3.5 4.5-4 5.5-9-.5-.5-12-.5-3.5-1.5-3-3-2-5.5 1-3.5 5.5-7.5 7-2.5 7 0 4.5 2.5 5.5 5.5 16-5-9-2.5-5-4-2.5-4-2-9zM284.5 5.5l-7 3.5-2.5 5 .5 1 4 1 13 1.5 7 6.5 4 2.5 5.5-1 2-2 2-4.5 0-2.5-3.5-4.5-5.5-3-10.5-3-8.5-.5zM541.5 17l-7.5 5-2 3-.5 2.5 2 3 10.5 10 3.5 1 2.5-1 2.5-3 5.5-10 1-3.5-2-3-4-2-6.5-2-4.5 0zM500.5 18l-6.5 2 10 2.5 1.5 1.5 1 4.5 6 1.5 .5-3.5-5.5-5 0-3.5-7 0zM404.5 21l-5.5 2-3.5 5 .5 5 2 2 5.5 1 5.5-.5 3.5-2 2-2.5 1-4.5-1-2-5-3.5-4.5 0zM432.5 26l-12 3.5-5.5 15-5.5 8-5 5-8.5 4.5-12 3.5-10.5-8.5-5-2.5-7.5-1-4 2.5-2.5 7.5 1 5.5 7.5 8.5 8.5 6 .5 1.5-.5 2.5 7.5 9 3 6.5 1 3.5 5-.5 .5-3-2.5-7-6-5-.5-3 1.5-2.5 6-1.5 11.5-1 17.5-6.5 14.5-7-1-22.5 4.5-18.5 .5-2.5-1.5 0zM469 41l3.5 21-2.5 11-3 8 10 4.5 2-1.5 1-2 0-9 3.5-7-8.5-4 5.5-2.5 3-3.5-5.5-7.5-9-7.5zM133 43.5l-1.5 4 0 6.5 1 6 4 2 4.5-1 5-4 2-2.5 .5-2-5-5.5-3.5-2-7-1.5zM293.5 46.5l-5.5 8-6.5 6.5-9 6.5-13.5 6-2.5 2-9.5-3-11.5-2-6 .5-5 1.5-2.5 2.5-2.5 8-4 5.5-3.5 3.5-4 2-5.5 0-5.5-4.5-2-7-.5-8.5-3-6.5-2-1.5-3 0-4 2-3 4-1 7 0 16.5 1 8-1 3.5-2.5 .5-2-3-6.5-.5-9 .5-2.5 1-3 14.5-3 32 0 8 1.5 4.5 6.5 3 6.5 0 20.5-6 10.5-2 15.5-4.5 9-1.5 8-2.5 1-3.5-17 2-14-3-11 .5-10.5-2-6-2-3-3.5-1.5-4 0-4.5 2-4 7-6 4.5-1.5 12.5-1 12-3.5 8-3.5 14-8.5 2.5 1.5-.5 2.5-14 9-13 5.5 7.5 1.5 7.5-4 7.5-.5 5 1.5 6 5.5 3 0 2-2.5 0-3.5-6.5-7.5-2-8 3.5-2.5 3-7 3-3.5 5.5-3 7.5-1.5 2.5-1.5 26.5 5.5 9-2 5-2.5-1.5-4.5 1-29-2-6.5zM496 51l3 2 3 .5-6-3zM331 64l-2 14.5-2 3.5-3.5 2.5-5.5 1.5-9.5 0-5.5 1-7 5-12 3.5-10-1.5-14.5-3-9.5 1-7 3-2.5 4.5 21 0 24.5 2 11.5 2.5 4.5 2 6 .5 23.5-4 4 .5 3 2.5 8.5-2 1.5 1 0 2-4 2.5-.5 1 7 7 10.5 7 2.5 3.5 2 9.5 2.5 2.5 2.5 0 1.5-3-2.5-9 1-4.5 3.5-7 7-6 0-2-2.5-1-4.5-8.5-6-7-7-2.5-14-2.5-6.5-3-2.5-2.5-4-7.5-3.5-10zM491.5 68.5l-1.5 .5 4 1-.5-1-1.5-.5zM433 83l-8 3.5-10.5 9-11 4.5-2.5 2.5-1.5 3 3.5 .5 36.5-1 3.5-6 .5-7-.5-2-3.5-1-4.5-5.5-1.5-.5zM496.5 84.5l-4 2 0 2 2 3 4 2.5 1-6.5-1.5-2.5-1.5-.5zM461.5 85l-4.5 2.5-3.5-2-1 3.5 1 2.5 3.5 2 4.5-1 1.5-3 0-4.5-1 0zM406 110.5l-4.5 1 4 3.5 8.5 4 3.5-1.5 6.5-6.5-17.5-.5zM180 124.5l-4.5 2-3.5 3-1.5 3.5 1 4 2 2 6 2 9.5 1 5.5-.5-5.5-5.5 1.5-10-10-1.5zM518 124.5l-5.5 1.5-2.5 18.5-1.5 4-3.5 3.5 17 4 1 3 2.5 1.5 7.5-3.5 6.5 0 11-2.5-9-7-5.5-8-4.5-9.5-2-2.5-7.5-3-3.5 0zM340.5 125.5l-6 3.5 1.5 .5 12.5-1-2.5-3-5 0zM342 133.5l-6 1.5 4.5 6 .5 4.5-1.5 3 2 .5 3.5-.5 3-2 2.5-5-1-6.5-7-1.5zM265 134l-1.5 2 .5 3 6 7.5 5 1.5 4-1.5 1-4-2-5-8.5-1-4.5-2.5zM289 150l-1.5 1-2 4.5 1 3 3.5 1 3.5-1.5 1.5-4.5-1.5-3-4-.5zM435.5 150.5l-6 1.5-17 6.5-20 5.5-21.5 8.5 28-3.5 33.5-8 16.5-2.5 14-3.5-13-3-14-1.5zM469 156.5l-1 4.5 .5 4 3 3.5 5 4 3 1 3-.5 4.5-2.5 2.5-3 .5-4.5-2.5-6.5-11 1-7-1zM551 159.5l-.5 1 2 .5 14.5 4.5 6 5.5 4 1-5-4.5 1-4-4-2.5-4-1.5-14 0zM578 166l8.5 5.5 5-.5-.5-1.5-2.5-1-10.5-2.5zM439.5 180l-14.5 2.5-1 3 1 4 2 1.5 3 0 10.5-5.5 2-1.5 .5-2-.5-1.5-3-.5zM478 0l19.5 0-1 2-2 1-11.5 3-3.5-1.5-1.5-4.5zM678 .5l6.5-.5-1.5 2-8.5 8.5-11 16.5-8.5 10-12 8.5-2.5 3-17.5 4.5-6.5 3.5 4.5 4 2.5 3.5 2 7 2.5-2.5 .5-2-3.5-8.5 24.5-13.5 6-2-1 6.5-4 10.5-9.5 5-4.5 3.5-6 14-3 1-4-4-5.5 3.5-3-.5-2-1.5-4.5-7 0-2.5 1.5-1 2 .5 5 7 2-2 1-6-.5-3-2-3.5-2.5-1.5-2.5 0-3 2-6.5 12-8.5 10 .5 1 7.5 3.5 3.5 3 3.5 6.5 3.5 1.5-1.5 2 1 3-4.5 16.5 0 4 4 15.5 7 17-.5 2.5-2.5 .5-4.5-8.5-6.5-18-2-7.5 .5-8.5-14.5 4-2.5-1.5 0-2 1.5-1.5 13.5-4 2.5-7.5-4.5 1-2-1-1-3.5 .5-10.5-8.5-3.5-1-1.5 0-1.5 12.5-23 6-6 15-9 16.5-4.5 10-7 6.5-5.5 16.5-23.5 7.5-7.5zM736.5 0l4.5 0 1.5 10.5 2.5 5.5 1 1 3-2 1-6-4-4.5-1.5-4.5 22 0 0 38.5-12.5 2.5-3-2-3.5-10 3-8-5.5 1-3.5-2.5-3.5-7.5-2-12zM702 11.5l9 .5 5.5 3 5 4.5 11.5 17.5 6.5 17.5 1.5 9-3 5.5-3 2 1.5 4.5-1 5.5-5.5 6-5.5 3.5 8.5 .5 9 7 .5-9 5.5-14 1.5-12 1.5-1 1.5 0 2 3 4.5-6.5 3.5-1.5 4-.5 0 28.5-4.5 .5-2.5 2-2.5 8.5-7 5-1 6-1.5 1-1.5-1-3-7.5 0 6.5-1 1.5-1.5 0-1.5-1-2.5-7-3.5-3-4.5-1.5-4.5 1-3 2.5-2 5.5 4.5 2.5 10 3 2 4 0 6.5-1.5 .5-2.5-1-17-11-3 7-4.5 6.5 11 4 2 2 9.5-1 4.5 2 3.5 4 6.5 11 1.5 1 21-4 0 26.5-11-2-10.5-8-2.5 2.5-1 7 .5 4.5 8.5 5 8.5 11 3 1.5 4.5 1 0 21.5-7.5 0-2-5.5-4-3.5 1 9-19 0-.5-16 1.5-4-6-10.5-2-10.5 1-5.5 3-9.5-.5-6 4.5-3.5-1.5-8-3-5-5-1-8.5 1.5-13.5 5-15 3.5-10.5 1-19.5 0-2.5-2 .5-2 14-13.5 6.5-4.5 4.5-1.5-5-10-1.5-4 1.5-2 2 0 1.5 1.5 3.5 8.5 5 6 11.5 1.5 6-7.5 3-8.5-8.5-22.5-.5-11 3.5-10.5 5.5-8.5-14.5 .5-14 9.5-7.5 2.5-4 3-16 4-14 11-1.5 9.5 0 10-2.5 5-1.5 0-1.5-1 0-5-10-4.5 5.5-5.5 2-.5 2.5 1 .5-1 3.5-18 1.5-3 1.5-.5 1.5 1 1 4 8-6 2-5.5 23.5-3.5 6.5-3.5 3-8 .5-7-5.5-10 0-5.5 3-2.5 7.5-2.5 6-6.5 5-2.5zM703.5 16l-3.5 2-2 3 10 5.5 4 3 4.5 6 2.5 6.5 0 3.5-2 3.5 0 3-6 8 8.5-.5 1-5.5 2.5-3.5 5-2 4.5 .5-1.5-4-4.5-9.5-9-14-8-5-5.5-.5zM727 54l-2 2 1 6.5 4 3 4 0 2-4-1.5-4.5-4-3-3 0zM715 64l-7.5 2.5-.5 2.5 5.5-1.5 4.5 1 7 5 1 1.5-.5 2-3 3-3.5 1-6.5-1-5-3.5-.5 2.5 5.5 6.5 4.5 1.5 6.5-1.5 5-2.5 3-3 .5-2-.5-4.5-3-3.5-5.5-4-6.5-2zM709.5 90.5l4.5 11 3-5.5 4-4.5-6 .5-5.5-1.5zM682.5 124.5l-8.5 5-8.5 8.5 12.5 0 17-2 8.5-2 9-4-8.5-3-7.5 .5-9-3-4.5 0zM733.5 171l1 8.5 2.5 5 2 2 1.5-5.5 0-7-1.5-1.5-5-2zM762 50.5l4.5 .5 0 3-16 4.5-2.5-1 0-2 2-2 6.5-2 5.5-1zM514 63.5l5.5-.5 3 1.5 4.5 4.5 2 3.5 1 8-5.5 5-3 0-1.5-2 .5-1.5 4.5-3-.5-4.5-1.5-3-4.5-3.5-6.5 1-2-1 .5-2.5 3.5-2zM80.5 75l7 0 4.5 3.5 2.5 5.5 2.5 19 6 6 3.5 1.5 3-.5 3-3 2-12.5 5-10 7-9 1.5-.5 1.5 .5 .5 2.5-6.5 9-4 7.5-2.5 13.5-3.5 5-3.5 2-6 0-11-8-3-21.5-1.5-4-3-2-3.5 0-3.5 3-3 9.5-1 14-1.5 1.5-2-.5-1-2 .5-13.5 1.5-5 4.5-9 4-2.5zM686 76.5l4.5 .5 3.5 4 1 6.5-1.5 5.5-4 1.5-15.5-1.5-4 9.5 3.5 1.5 1 1.5-1 1.5-7.5 3.5-8 6-16.5 19-3 0-1-2 1.5-2.5 13-15.5 5-5-8-10.5-.5-3.5 3.5-1.5 5 1 3.5 2.5 3 4.5 6.5-14 3-4 6-5.5 7-3zM26 99l10-.5 12 1.5 11 3.5 1.5 3.5 2.5-3 2.5-.5 1 2-1 3-3 3-6.5 3.5 6 3.5 11.5 10 5 3 12.5-1.5 10.5 1 6 2 4.5 5 2.5 9.5-1 4.5-2.5 5.5-7.5 5.5-6.5 3-4 4.5-1 13.5 6.5 27.5-5 0-4.5-17.5-2-9 0-9.5 1.5-6.5 3-4.5 3-2.5 7-3.5 5.5-3.5 2-4.5 .5-3.5-1-5.5-3-4-5.5-2-7-.5-17 1.5-1 7.5-3 10.5-8.5 13.5-.5 10 1 18-1 4.5-5 6.5-5 2.5-5.5-.5-3.5-1.5-8.5-14-3.5-3-6 2.5-4.5 4.5-2 6 0 8-19.5 0 0-28 4-2 5.5-8.5-9.5-12 0-5 4 2 8 10.5 3.5-3 10.5 6 3.5-1.5 6-6.5 12-28.5 10-13.5-6.5-2-4 0-8.5 8.5-9 6.5-6.5 3.5-11 3.5-12 1.5 0-5 10.5-1 7-2 9.5-4.5 8.5-6 9-9 13-7-12-4-2.5 3-25.5 1.5-8.5 1.5-9 3.5 0-5.5 9.5-3 2-2 5-2 9.5-2.5zM61.5 125l-9.5 12-6.5 14.5-2.5 8-3.5 6.5-7.5 9 3 6 1.5 6.5 5.5 7 4.5 8.5 2.5 1.5 5.5-1 4-5 .5-4-.5-26 1.5-4.5 7.5-11 3-10.5 1-9.5-5.5-5-4.5-3zM639.5 116l2 .5 .5 2-5.5 10-2.5 8.5 2 4.5 5 .5 1 2.5-2.5 2-4 .5-2.5-1.5-3.5-5.5-.5-6 3.5-8.5 6.5-9.5zM594.5 135.5l1.5 0 1.5 1.5 9 22 4.5 3.5 5 2.5 9.5-5.5 13.5-2 7-4.5 3.5-1 7.5 2 14 5.5 4 .5 27-8.5 14.5-1 3.5 1 3 2 2 2 0 3-2.5 4-5 4-13 5-12.5 6.5-18 2-12.5 4-3 1.5-6 1.5-3 3.5-2 6-1.5 15-5 0 .5-2.5-3-.5-4-3-11.5-13-5.5-13.5-1.5-9-9.5-4.5-4.5-4.5-8.5-20.5-1-3 1.5-2zM706 155.5l-30 9.5-6-1-14.5-5.5-7.5-1-7.5 4.5-11.5 1.5-7.5 4-.5 3 1 7 3.5 9.5 4 6.5 4 5 7.5 6 2-9.5 3.5-9-7.5 2-1-2 1.5-2.5 6-2.5 13.5-1.5 13.5-4 17.5-2 13-6.5 12-4.5 3.5-2 1.5-3-1.5-1.5-3-.5-9 0zM697 181l4 0 4 2 8 9 3 8 1.5 11.5-5 0-1-10-2-6.5-3-4-4-4-3.5-1.5-3.5 2-2 4.5-2 19.5-5 0 3-22.5 3.5-5.5 4-2.5zM174.5 187l7.5 .5 7.5 4.5 4.5 6.5 2.5 7 1.5 6-5 0-1.5-6-3.5-7.5-5.5-5-5-1.5-5 2-4.5 4.5-7.5 13.5-5.5 0 9.5-16.5 5.5-5.5 4.5-2.5zM400.5 204l4.5 2.5 2.5 5-10 0 .5-5.5 2.5-2z"/>
<path fill="#ff6100" d="M.5 0l11 0-1 4.5-2.5 4-3.5 2-4.5 1 0-11.5zM16 0l4 0 1 5 .5 6-1 9-2 7.5 .5 1 5.5-1 4-4 1-5 0-12 .5-2 12 3.5 11-.5 3.5 2.5 8 9 4.5 2.5-3-11.5-.5-10 4 0 .5 9 3 9.5 4 2 0 2 4 2 2-.5 10-6 10-1.5 27 7.5 24-1 18.5-2.5 5 .5 9.5 4 5.5-2.5-8.5-2.5-4.5-3.5-3.5-7.5-.5-9 4 0 .5 7.5 3 6.5 3 2.5 5 1.5 3.5-1 2-2 2.5-6 1.5-9 4 0-.5 7.5 3.5-1 5.5 0 5 2-1.5-8.5 8 0-2.5 2-.5 1.5 7.5 30 6 2 5.5 0 .5-1.5 6.5-.5 0-16-5.5-1.5-1.5-1.5 0-6.5 3-8 16 0 2.5 12.5-1.5 2-2.5 19-1.5 1.5-1.5-.5-1-2 2-16-1.5-.5-3 1 0 17.5 2.5 2.5-1.5 1.5-1 4.5-1.5 1-9-4-11-1-3 2-7.5 .5-16-2-38.5-2.5-4.5-1.5 .5-3-1.5-2-8-3.5-23.5 1-25.5-7.5-10 2-5 4-5.5 2.5-7.5-3-4.5 3.5-4-1-11 1-9.5-2.5-1.5 1.5-.5 2.5 6.5 7.5-9 .5-6 3-3 4.5-1.5 7.5 8 0 5.5-2 8-6.5 3-4.5 14.5-8 13-3.5 7.5 2 3.5 6 .5 9-3 8.5-6.5 8.5-9 6.5-10 3-21.5-2-17 6.5-27 13.5 0-4.5 26-13 11.5-5 5.5-1.5 6 0 15.5 2 10-3 10-9 3-4.5 2.5-7-.5-6.5-2-3.5-2.5-1.5-5 0-9 3-6 3.5-20 16-5 1.5-10.5 .5-3.5 4-6 1.5-6-.5-7-2.5-1.5-1.5 0-1.5 4.5-3-.5-7-2-5.5 0-5.5 2.5-6 3.5-3.5 3-9 .5-8-1-10.5zM207 11l-2.5 2-1.5 4.5-.5 3 .5 6.5 9.5 2.5 8 1 .5-6-3.5-10.5-5.5-3.5-4.5 .5zM197.5 24.5l-1 1 2 .5 .5-1.5-1 0zM113 0l6 0 6.5 3 3-.5 14 7 6 2 11-6 7.5-5.5 6.5 0-1 1.5-11 7.5-9 5.5-4 1-7.5-2-12-6-8-2-7.5-4-1-1.5zM185 0l10.5 0 .5 13.5-2-.5-4-4.5-4-5.5-1-3zM328 0l4 0 1.5 9.5 2 4 3 2 3-2-2-13.5 13.5 0-.5 4.5-2 4-7.5 6.5 2 4.5 5 1.5 7.5-1 6.5-3 4.5-3.5 5.5-6 1.5-3 0-4.5 4.5 0-.5 6-2 3.5-7 8-10 6-10.5 1.5-5.5-.5-5-2.5-8-6.5-2.5-5-1-10.5zM418.5 0l4 0 2 8 3 3.5 8.5 3 3.5-1 5-4 2-4-.5-5.5 11.5 0-1.5 3.5-5 2.5-3 5.5-3 3.5-4.5 2.5-3.5 1-9-2-5-3-3-4.5-1.5-9zM462.5 0l4.5 0 1 4 1.5 2.5 2.5 2.5 4.5 1.5 32-5 6-5.5 5.5 0-5.5 6.5 0 1 6-3.5 7.5 3.5 12.5 3.5 2-.5 1.5-2.5 1.5-8 30.5 0 1 2.5 2 2 10 3 8.5 5.5 4 1 8-2.5 7.5-7 1.5 1 .5 2.5 20.5-7 5.5 1 16.5-2 4.5 0 1 1 0 2-1.5 1-23.5 2.5-4.5-.5-39.5 15-13 7-19 15-1.5 3.5-3.5 14.5-3.5 3-2.5 10-4 2-1 5.5 .5 10 1 1.5 12.5-7 1.5 1 2.5 5 3 9.5 0 4.5-2 2.5-7.5 2 1 4-12-4-9-11.5-4-3-2.5 0-3 1.5-5.5 5.5-.5 6.5 1.5 4 3.5 2 12 4 4.5 4.5 0 1-2 1-10.5 1 5 10.5 5.5 8 10.5 6.5 10.5 3 10 5 13.5 4.5 5 2.5 1 3.5-.5 3.5-3 2-6 .5 6 8 2 4.5-24 .5-11.5-4.5-5.5-.5-4 .5-13-5-9 2.5-7.5 .5 0 3 2 4 3 3 3 1.5 12.5-6.5 3.5-.5 4 1 8.5 8.5 6.5 14.5-4.5 0-6-12.5-6.5-6.5-4 0-2.5 1 8 2 3.5 2.5 3 6 .5 7.5-54 0 3-15.5-1.5-5-5-.5-13.5 3-9.5-3.5-6.5-1-5 .5-2 2 1 6.5 2 6 4 3.5 10 0 1.5 1.5 .5 2.5-39 0-2-2.5-2.5 2.5-5 0 5-6.5 4.5-1-2-2-10-5.5-1.5-2 17.5-10 .5-2-.5-2-4-1-12.5 1.5-4 1.5-1 4.5 1 7-16.5-1.5-20 8-3.5 3-1 8-66 0 0-6.5-7-1-7.5 1 0 6.5-30 0-.5-3.5-1.5-1.5-14.5 1-1.5-1 0-2.5-1-.5-2.5 1-4 7-4.5 0 5-9.5 2-1.5 2.5-1 5 .5 1 2.5 1 .5 22-2.5 36 0 16-3.5 13.5 1 9 2 23-4.5 9.5 0 11-4 5-3.5-3.5-8-4.5-2.5-8 2-10.5 6.5-4-1-8-4.5-8.5-2.5-21.5 4-34.5-.5-24.5 1-20-2.5-12 3-4 3.5-4 8.5-2.5 16.5-4.5 0 3-18 4-8.5 5.5-5.5 7-2.5 8.5-1 20 2.5 22.5-1 34.5 .5 18-3.5 38.5-15 21.5-5.5 19-7.5 9.5-.5 36.5 7 13-2 13.5-4 2-4 2.5-19.5 2.5-3 5-.5 3-2.5 .5-9 2.5-7 1.5-8.5 3-2.5 3.5-.5 8 2.5 8 1 0-19-5-2.5-2-5.5-1.5-2-10.5-4-6-5-7 1-4 2-9 0-7-3-5.5-5-5.5 0-15-14.5 0 3.5 3.5 16.5 0 8.5-1.5 8.5-4.5 9-7.5 4.5-3 0-.5-1.5 .5-1.5 8-5.5 3-6.5 1.5-8.5 0-6.5-2-10-5.5-14.5 1-6.5-6-9 0-2.5 1-1 2 .5 4 6 2.5 2 12-4 8 0 11-3.5 14.5-1.5 2.5-3-10 .5-19.5 4-8 .5-5-2-4-3-2-4-1.5-5.5zM541.5 15l-9 7-2 3 0 2.5 1.5 3 7 6 5.5 7.5 2.5 1.5 5.5-6 7.5-12.5 .5-3-1.5-3-4-2.5-9-3.5-4 0zM504.5 17.5l-7.5 .5-5.5 2.5 9.5 3.5 3.5 5 4 .5 5 2 2-3-1-4-5-7-4.5 0zM494 49l1.5 2.5 3.5 2 6 .5-6.5-4.5-4.5-.5zM516.5 124.5l-4.5 1.5-2 18.5-2 4.5-4 3 14 3.5 4.5 6 4.5-.5 8-3.5 16.5-3-10-7-5-8-4.5-9.5-2.5-2.5-8-3.5-4.5 .5zM434 150.5l-21.5 8-20 5-22.5 9 29-3 34.5-8.5 29-5 5 .5-.5 5.5 1 3.5 4 4.5 6 4 3 0 3.5-1 4.5-3.5 2-3-.5-4.5-3-6-12 1-25.5-5.5-10.5-1.5-5 .5zM550 159.5l-1 .5 2 1.5 14.5 3.5 7 6.5 6.5 1.5-6.5-5-.5-2 2-2-4.5-3-4.5-2-15 .5zM576.5 165.5l10 6 4 .5 1.5-1-1-1.5-2.5-1-11.5-3.5zM430 175l-2.5 1.5 10-1.5-7 0zM529 176l-3.5 2 6-2-2 0zM479.5 0l15 0-2.5 2-8.5 2.5-3-1.5-1-3zM678.5 .5l5.5-.5-10 10.5-10.5 16-8.5 10.5-12.5 8.5-2.5 2.5-17 4.5-7 4 5 4 2.5 4 1.5 9.5 4.5-3.5 2.5-.5 .5 5-2.5 5-2 1-2-1-1.5-2.5 0-3-1 3-4.5 4-4 .5-2-1.5-4-7 0-2.5 1-1 1.5 .5 5.5 7.5 2.5-2.5 1-6.5-1-3-2.5-3.5-2.5-1.5-2.5 0-3 2.5-5.5 10.5-9.5 12 8 4 3 2.5 7.5 12.5-2.5 11.5-2.5 6 0 4 4 15.5 7.5 17-.5 2-2 1-4.5-8.5-7-18-1.5-7.5 .5-9.5-14.5 4.5-2-.5-1-1 .5-1.5 1.5-1 13.5-4.5 3-8-5.5 1-2-.5-.5-3 0-8.5 .5-1 3.5 .5-2.5-2-10-4-.5-2.5 12.5-23 5.5-6 15-8.5 16.5-4.5 10.5-7.5 6-5 16.5-24 8-7.5zM736.5 0l4 0 1.5 10.5 3.5 6.5 3.5-1.5 2-6.5-.5-1.5-4-4.5-.5-3 20.5 0 0 38-12 1-3-1.5-2-4.5-.5-4 3.5-10.5-6.5 3-4.5-2-3.5-7.5-1.5-12zM284.5 1l10.5 .5 10.5 3.5 8.5 4.5 3.5 5 0 6-2.5 5.5-3.5 3.5-2.5 1-8.5 0-3 7.5 3 13-1 28.5 1 3 16.5-1 7-2.5 2-6 1-18.5 3-2.5 2.5 1.5 1.5 3 5 15 4 8 8 3.5 15.5 2-6-4-7.5-7.5-2-4-1.5-4.5 3.5-11 5.5-4.5 6-.5 9.5 3 11 8.5 9.5-3 6.5-3 5-4.5 4-6 1.5-4-9.5 .5-6.5-2-3.5-4-1.5-6 2-4.5 4.5-5 6.5-2.5 6 0 5.5 2.5 5 5.5 17.5-5 2.5 1-6 28 .5 17 1 2 10-3 .5 9 5.5 9-1.5 7.5 1.5 3 6 2.5 6-1.5 2.5-2 0-6 2-1.5 3 1.5 3 5 2 0 3-1.5 2.5-3 1-3-2-7 0-4 4-6 5-2.5 6 .5 3 2.5 2 3.5 4.5 2 1.5 3 0 7 2 5.5 .5 2.5-2.5 2-2.5-.5-2.5-7.5-3.5-2.5-2.5 2.5-6 2 .5 3.5 5.5 7-.5 3.5-1.5 2.5-10 3.5-9 1.5-3.5-.5-4.5-3.5-4.5 0-3.5 2.5 4.5 1 .5 2-1 1-7.5 .5-14.5 4.5-14.5 8-6.5 2.5-1.5 0-3-3 11.5-12.5-19-.5-8 1 3 4 8 5 4 3.5-5.5 7-7.5-4-3.5 0-14.5 11.5-2.5 4.5 1 2.5 3.5 4 .5 1.5-1.5 1-3 0-1.5-1.5-9-3-16 5.5-18.5 1-9-4-19.5-5-10 3.5 1.5 6-2 5.5-3.5 3.5-5.5 1-4-1.5-3-3.5-.5-5 1.5-4-2-1 1-5.5-2-6.5-10-1-6-4-2.5 3.5 0 9-7.5 6.5-7 1-11 .5-14 5.5-9 1-15.5 5-10.5 1.5-20.5 6.5-9.5 0-7.5-3.5-3-4.5-1-8 3.5-37.5 2-11-4.5-.5-1-2.5 12-4.5 17.5-.5 0-26.5 3-6.5 5.5-4.5 7-.5 2.5 1 2.5 2 4 8 .5 9 1.5 6 2.5 2 2.5 .5 5.5-3.5 3.5-5.5 3.5-8.5 4.5-4 8-2.5 6 0 11.5 2 6 2.5 16-7 7.5-5.5 6-5.5 4.5-6 8-18.5-5.5-6-15.5-2-4.5-3-.5-4 2.5-5.5 5-4 6.5-2.5zM283.5 5.5l-6.5 4-2 5.5 4.5 1.5 13 1.5 6.5 6 4.5 3 5.5-1 2.5-2.5 2-4.5 0-3-4-4.5-6-3-10-3-9.5 0zM403.5 21l-4.5 1.5-2.5 3-1.5 4 1 3.5 2 2 5 1.5 7.5-1 4-4 1-5.5-2.5-3-3.5-2-5.5 0zM433 25.5l-13 4-5.5 14.5-5 8.5-5 4.5-8.5 4.5-12 3.5-10.5-8.5-5-2-8-1.5-4 3-2.5 7.5 1 5 8 9 8.5 6.5-.5 3.5 8 9.5 3.5 7.5-1 2.5-2.5-.5-5-9.5-5.5-6-7-2.5-14-2-6.5-3-2-2.5-4-8-4-12-1.5 16-2 4.5-4 2.5-5.5 1.5-9.5 0-5.5 1-7 5-12 3.5-10-1-14.5-3.5-9.5 1-7 3.5-3 5 8-.5 28 1.5 17.5 2 8.5 3 6 .5 24-3.5 2.5 .5 3.5 2.5 9-2.5 1.5 1.5-.5 1.5-5.5 3.5 8 8.5 10 6.5 2 3.5 3 10.5 3.5 3.5 3 0 1.5-1 1-2-3-12 1.5-7 4-6 5-3.5 .5-3.5 7.5-1 1-1.5-3.5-9-2-2.5-5-2.5-.5-4 3-2 7.5-1.5 4.5 .5 1.5 2 2 0 3-4 15-5.5 14.5-7-1-22.5 5-21-1.5-.5zM294 45.5l-6 9-6.5 6.5-9 6-14 6.5-2 2-9.5-3.5-11.5-2-6 .5-5.5 2-2.5 3-2.5 7-2 4-5 5.5-4 2-5.5-.5-5-4-2-7-.5-8.5-3.5-6.5-1.5-1.5-3.5-.5-4.5 2.5-2.5 4-1.5 7 .5 27.5-2 1-2-3.5-7-.5-9 .5-3 1.5-3 14.5-3.5 36.5 2 8 2.5 2 4.5 1.5 6.5 0 20.5-6.5 10.5-1.5 15.5-5 9-1 9-3.5 3.5-4-20.5 2.5-14-3-10.5 .5-9.5-1-8.5-3.5-3-4.5-.5-6.5 2.5-4.5 7-5 4-1.5 12.5-1 11.5-3.5 9-4 13.5-8 2 1 .5 1.5-4.5 3.5-11.5 6.5-13.5 5.5 7 1 2.5 2.5 7.5-5 7-.5 4.5 2 6.5 7.5 3.5 0 3.5-4.5 1-5.5-1.5-3-5.5-5.5-2-6 5-10 2.5-3 5.5-3 7.5-1.5 2.5-1.5 26.5 5.5 9-2 5.5-3-1.5-4.5 1-29-2.5-7zM489 68.5l-1.5 1.5-.5 1.5 8 0 0-1.5-1-1.5-4.5 0zM433 82l-8.5 4-10 8.5-12 4.5-4.5 4.5-.5 2.5 43.5-.5 3.5-6.5 1-7.5-2-3.5-1.5 1.5-2-.5-5-6.5-2-.5zM342 124l-8.5 3-1.5 1.5-.5 2 10.5-1.5 8 .5-2-5-5.5-.5zM179 124.5l-3.5 1.5-4 3.5-1.5 4 1.5 4 2 2 6 2 9.5 1 6.5-1-4.5-4.5 1.5-11-9-2-4 .5zM271 131.5l3.5 .5-3-.5zM340.5 133.5l-6 1.5 3.5 4.5 1 3-.5 3-2.5 3 8 1 5-1.5 2-2 1-2.5-1-8.5-4-1.5-6 0zM230.5 139l-8 3.5-9 0-3 1.5 3.5 1 6-1 9.5-2 4.5-2-1-1-2.5 0zM288 150l-3 5 1 3 3.5 2 2.5-.5 2.5-3.5 .5-4.5-3-2-3.5 .5zM703.5 11.5l7.5 1 5 2.5 5.5 4.5 11.5 19 4.5 10 3 10.5-1 6.5-1.5 3.5-3.5 2 1 4 0 5-1 2.5-5 4.5-8 4-6.5 .5-6-2 1.5 6.5 3.5 6 3-5.5 4-4 6.5-2 5 .5 7.5 5.5 2 3 1 5-1 2.5-2 0-3.5-8-5-3.5-3-1-5.5 1.5-2.5 2.5-2.5 6.5 14 6 1.5 3.5-1 4-3-.5-15-10-3.5 7.5-5 7 11.5 4 2.5 2 9.5-1 4.5 2 3.5 4 6 10.5 2 1.5 3.5 0 9.5-3 8-1.5 0 26-7-1-5.5-2.5-4.5-4.5-3-6.5-1.5-.5-4 4-2 12-2 1.5-3.5-.5-.5 4.5 1 6.5 5 7.5 1.5-2 2-9 1-1 2-.5 5.5 3.5 8.5 10 7 2 0 21-7 0-2.5-7.5-4.5-3-.5 .5 1.5 10-4.5 0-1-6-1-2-.5 2 .5 6-12 0-.5-15 2-4.5-6.5-11-1.5-11 .5-5 4.5-10.5-1-5.5 4-3-1.5-8-3-5-3.5-1.5-3 0-7.5 1.5-13.5 5.5-15 3-10.5 1-19.5 0-2.5-1.5 .5-2 14-13.5 6.5-4 5.5-2-5.5-9.5-1.5-4.5 1-1.5 1.5-.5 2 1.5 3.5 9 5 6 11.5 1.5 6.5-8 2.5-8.5-8.5-22.5 0-11.5 3.5-10 6.5-10-18 1-3 1.5-5 6-5 3-23.5 6-17 14-2 10-.5 11.5-1.5 3-2.5-.5-.5-5-8-4.5 4-3.5 4.5 .5 3.5-19 2-4.5 2.5 .5 .5 4.5 16-13.5 18-2 7-4 2.5-5.5 1.5-10-1-3-4.5-6.5 0-4.5 2.5-2.5 7-2.5 6.5-7.5 6-2.5zM703 16l-3.5 2-2.5 2.5 0 1.5 5 5.5 5.5 .5 4.5 3 4 5 2 5.5-.5 4-2 3 1.5 3-7 9 4.5-1 5.5 .5 .5-6 2.5-3.5 5-1.5 5 1-1.5-5.5-5-9.5-9-13.5-8-5-6.5-.5zM727.5 53.5l-3 2 1 7 4.5 3 4 .5 2-4-.5-3.5-2.5-3.5-5-1.5zM714 64l-7 2.5-1 5.5-.5 8 7 6.5 3.5 1 3.5-.5 8-3.5 2.5-2.5 1.5-2 0-4-2.5-4-6.5-5-5.5-2.5-2.5 .5zM684.5 124l-4.5 1-6 4-9.5 9 13.5 .5 17-2 8.5-2.5 10-4-9.5-3.5-7.5 .5-8.5-3-3 0zM132 39l7 .5 6.5 3.5 6.5 6.5 1 5-1.5 3.5-9 8 4 17 0 11.5-2 10-1.5 2.5-2 1 .5 8-1.5 4.5-10.5 19.5-1.5 1.5-.5 12 2 1.5 3 8-1.5 10.5-2 1.5-2-1.5 1.5-9-1-3-3 10-7 9.5-4 9 .5 9.5 4.5 12-4.5 0-4-10.5-.5-12.5 3-7 7.5-10 2-4.5 1-4 .5-18 2-16 2.5-2.5 2.5 2.5 5.5-9.5 1.5-5.5-1.5-9 1.5-1.5 2.5 0 2.5-10.5 0-9-3-12.5-10 19.5-2 1-1.5-1.5 1-4 5.5-10.5 3.5-8.5-6.5-3.5-2.5-8.5 0-10.5 2-4.5 3-1.5zM132.5 43.5l-1.5 3.5 0 6.5 1.5 7 4 2 4.5-1 7-6.5 .5-3-8-7-3-1.5-5 0zM653.5 43l1.5 .5-1 4.5-5 9-14.5 9.5-2 1-1-.5-5.5-8 0-1.5 27-14.5zM763.5 50.5l3 1.5-1 2-7.5 1.5-7.5 3-2-1 0-2 2-1.5 6-2.5 7-1zM765 57l1.5 0 0 27-5.5 1-3.5 2-1.5 7.5-2.5 3-4 1.5 0 7-2.5 1.5-1.5-1.5-2-14 4-13.5 2-15 1.5-1.5 1.5 .5 1.5 5 4.5-7.5 6.5-3zM515.5 63.5l4.5 0 2.5 1.5 4.5 4 1.5 3.5 1 8-5.5 4.5-2.5 .5-1.5-2 1-1.5 4.5-3-.5-4.5-2-3.5-4.5-3.5-6.5 1.5-2-1.5 1-2.5 4.5-1.5zM711 68.5l4.5 .5 4.5 2.5 2.5 3.5-1 3-2 1.5-3.5 .5-7.5-2.5-1.5-2.5 0-2.5 1.5-2.5 2.5-1.5zM82 75l5.5 0 4.5 4 2.5 5 2.5 19.5 5.5 5.5 4 2 3-.5 3-3 2-13 5-9.5 7-9.5 1.5-.5 1.5 1 0 2-6.5 9-4 7.5-2 13.5-3.5 5-3.5 2-6 0-11-8.5-2.5-21-2-4-3-2.5-5 1-2.5 3-3 9-.5 14-1.5 1.5-2-1 0-15.5 2-7.5 4-6.5 5-2zM686.5 77.5l4 .5 3 3.5 .5 5.5-1 4.5-3 1.5-5 0-6.5-2-2-2.5-3.5 5-3.5 9.5 0 .5 3.5 .5 .5 2.5-7.5 3.5-8.5 6.5-16 18.5-2.5 .5-1-2 1-2.5 13-15.5 8-7-7-7-1-2 0-1.5 2.5-.5 3 1.5 4.5 7 1 .5 7.5-17.5 2.5-4 6.5-5.5 7-2zM27.5 99l20.5 1 10 3.5 1.5 1 .5 1.5-1 1.5-1.5 0-12.5-3.5-2 3.5-25.5 1-8.5 1.5-9 3.5 0-4.5 10-3.5 1.5-1.5 5-2.5 11-2.5zM63.5 104l2.5 .5-.5 3.5-3 3-7 4.5 6 3 16 13 5 .5 8.5-1.5 10.5 .5 6.5 2.5 5 7 1 6-.5 5-3 6-7 5-6.5 3-4.5 5-1 6.5 0 7.5 6.5 27-4 0-5-17.5-1.5-9 0-9.5 1-6.5 3-4.5 3-2.5 7-3 5.5-4 2.5-4.5 0-3.5-1-5.5-2.5-4-6-2.5-7-.5-17.5 2-.5 7.5-3.5 10.5-8.5 13.5-.5 10 1 18-1 4.5-4.5 6.5-5 2-5.5 0-3.5-2-8-13.5-4-3.5-6.5 2.5-4.5 4.5-2.5 6.5 0 8-18.5 0 0-27 4.5-2.5 5.5-9-10-12.5 0-4 4 1.5 8 11 1 0 3-3 10 6 3.5-1.5 6-6.5 12.5-29 10-13.5-2-1.5-9-1-8.5 9-9 6-14 6.5-7 1.5-8.5 .5 0-4.5 10.5-.5 7-2 10-5 8.5-6 8.5-9 16-8 3-3.5zM61 125l-9 11.5-7 15-2.5 8-3.5 6.5-7.5 8.5 .5 2 3 4.5 1.5 7 5 6.5 4.5 8.5 3 2 5.5-1 4.5-5.5 .5-4-1-26 2-4.5 7-10.5 3.5-11 1-9.5-5.5-5-4.5-3.5-1 .5zM639 116.5l2 0 1 2-5.5 9.5-3 9 2.5 5 4.5 0 1.5 2-2 2-4.5 .5-2.5-1.5-3-5.5-.5-5.5 3.5-8.5 6-9zM594 136l1.5-.5 1.5 1.5 9 22 5 4 5 2.5 9.5-5.5 13.5-2 7-4.5 3.5-1 7.5 1.5 14 5.5 4 1 27-9 14.5-.5 3.5 1 3 1.5 1.5 2 .5 2.5-2 4-5.5 4-13.5 5.5-12 6-18 2-12.5 4-3 2-6.5 1.5-3 4-2 5.5-1 15-4.5 0 0-3.5-3 0-4-2.5-11-13-6-13.5-1-9-10-5-4-4-9-20.5-.5-3 1-1.5zM704.5 155.5l-28.5 9-6-.5-14.5-6-7.5-1-7.5 5-11.5 1-7.5 4-1 3 1 7.5 4 10 3.5 6 4.5 5 8 6.5 1.5-10 4.5-9.5-8 2.5-1.5-2 1.5-2.5 6-2.5 13.5-1 13.5-4.5 17.5-1.5 13-6.5 12.5-5 3.5-2.5 1.5-2.5-2-1.5-3.5-1-10 .5zM698.5 181l3 .5 4 2 7.5 9 3 7.5 1 11.5-4 0-1-10-1.5-5.5-3-4.5-5-4.5-3.5-2-3.5 2.5-2.5 4.5-2 19.5-4 0 2.5-22.5 4-6 5-2zM176 187l6.5 1 7 4 4.5 7 3.5 12.5-4.5 0-3-11-4-5.5-4.5-3-4-1-5 2-4.5 4.5-7.5 14-5 0 9-16.5 6-5.5 5.5-2.5zM592.5 190.5l11.5 0 9 3.5 3 4.5 1.5 13-4 0-.5-7.5-2.5-6.5-5-2.5-5-.5-9 .5-6 3-2.5 4 0 9.5-4.5 0 .5-10.5 2-4 3-3 8.5-3.5zM401.5 208l2.5 1 1 2.5-5 0 1.5-3.5z"/>
<path fill="#ff4400" d="M.5 0l10 0-.5 4-2.5 3.5-3.5 2.5-4 1 0-11zM16.5 0l3.5 0 1.5 10.5-3.5 19 6.5-1 4.5-3.5 1.5-4.5 0-13 1-2.5 10 3 9 0 3.5 1 3.5 3.5 9 11.5-2.5 2.5-6 1.5-4.5-.5-7-2.5-4 1-1.5 3 .5 7-9 7-2 5-1 6.5 9.5-.5 5-1.5 12-10.5 7.5-5 13.5-6 6.5-1 6.5 2 3 5 .5 3.5 0 6-1 4.5-5.5 9.5-10.5 9-5.5 2-5 1-6.5 .5-11-2-5 0-16 6-27.5 13.5 0-4 26-13 11.5-4.5 5.5-1.5 6-.5 15.5 2 10-2.5 10-9 3.5-5 2-7-.5-6.5-2-4-2.5-1-5 0-9 3-6.5 3.5-19.5 15.5-5 1.5-11.5 1-3.5 4-5 1.5-5.5-.5-7-2.5-1.5-2 5-3.5-3-13 .5-5 1.5-5 3.5-4 3-10 1-8-1.5-10.5zM66 0l3.5 0 .5 9 2.5 9.5 4 4 4.5 2 2 0 10.5-6.5 9.5-1.5 27 7.5 24-1 18.5-2.5 5 1 9.5 3.5 6.5-3-5-.5-4.5-1.5-4.5-4-3-7-1-9 4 0 .5 7.5 3 7 2.5 2 5.5 1.5 4-1 2.5-3 3-14 4 0-1 8 4-1 5.5 0 5 2 .5-1.5-1.5-7.5 4 0 2.5 13.5 5 20.5 6 1.5 5.5 .5 1.5 0 1-1.5 4.5-.5 .5-.5 0-16.5-5-1-1-1.5 0-6 3.5-8.5 14 0 2 13-3.5 20-1 1.5-1.5 0-1-2 2-16.5-3 0-1.5 1 0 17.5 1.5 2-1 1.5-.5 4.5-2 1-8.5-3.5-11.5-1.5-1.5 0-1.5 2.5-7 .5-16-2-37-2.5-4-1-.5-5-5-3-6-1-23 .5-25.5-7-8 1-7 5-5.5 2-7.5-3-2.5 1.5-.5-3-3.5-6.5-1-4.5-1.5-13zM208 10.5l-2.5 1-1.5 2-1.5 6.5 .5 7 10.5 3.5 7.5 0-.5-8.5-3-8.5-5-3-4.5 0zM198 24l-1.5 1.5 2.5 .5 0-2-1 0zM113 0l5.5 0 6.5 3 3.5 0 14 6.5 6 2 11-5.5 8-6 5.5 0-.5 1.5-11 7.5-9.5 5.5-3.5 1-7.5-2.5-12-5.5-8-2-6-3-2-2.5zM185.5 0l9.5 0-1 11.5-6.5-6.5-2.5-5zM328.5 0l3.5 0 1 9 2.5 5 9 6 5.5 1 8-1 6.5-3 9.5-9 1.5-3.5 .5-4.5 4 0-1 6-1.5 3-7.5 8.5-9.5 5.5-10.5 2-5.5-1-5.5-2.5-7-6-2.5-5-1.5-10.5zM341 0l11 0-1.5 6-3.5 4-2.5 .5-2-1-1.5-4-.5-5.5zM419 0l3.5 0 1.5 8 3.5 4 8.5 2.5 3.5-.5 5-4 2-4.5 0-5.5 9.5 0-1 3-4 1.5-2 5.5-4 4.5-4.5 3-4 1-8-2-5.5-3.5-2.5-4-2-9zM463 0l3.5 0 1 4.5 4 4.5 6 1.5 31-5 1.5-.5 5-5 4.5 0-7 9-34.5 5.5-5.5-1-4.5-2.5-4-5.5-1.5-5.5zM481.5 0l6 0-3.5 2-2-.5-.5-1.5zM546.5 0l28.5 0 1 3 2 2 10.5 3 9 5.5 4 1.5 6.5-2 7.5-4.5 2 1 21.5-8 6 .5 20-2 2 2-1.5 1.5-23.5 2.5-4.5 0-39.5 15-8 3.5-5.5 3.5-18.5 15-2 4-2.5 11-1 1.5-2.5 .5-1.5 1.5-2 9.5-4 4.5-.5 6 .5 10.5 1 2 13-7 3.5 5.5 2.5 9 .5 4.5-2.5 2.5-7 2 .5 3-10.5-3.5-5.5-6-3-7 .5-1 3-1.5 0-21.5-3-2.5-4-7-9.5-3-4-2.5-2-3.5-.5-5.5-9.5 6-2.5 2.5-9.5 1-3.5-1-4.5-2-6-6.5-4-.5-3.5-2-9.5-11.5-3.5-2.5-1 3 5 20.5-.5 9-1.5 8-4 8.5-7.5 5-3-.5 .5-2.5 8-5.5 2.5-6 1.5-9-.5-10-4.5-16.5 0-6.5 .5-3.5-3.5-3.5-4-6-.5-2 .5-1.5 2.5 .5 5 7 2 1 2-1 2.5 .5 7-3 8-.5 11.5-3.5 15-1.5 5-4 3.5-1.5 15 3.5 3 1.5 1 2-8.5 9-1 4.5 10 11 6.5 14.5 2 1.5 3 .5 2-2.5-1.5-5.5 1-3.5 5-10.5 4.5-7 1-2.5-1.5-2.5-2-2-13-7.5 .5-11.5zM505.5 17l-8.5 1-7.5 3 9.5 4 3.5 4.5 6 .5 6 3 2.5-4.5-1-4.5-4.5-6.5-6-.5zM505 34l2 1.5 2.5-.5-2.5-1.5-2 .5zM494 47l-1.5 .5 .5 1 3.5 4 5.5 2 6-.5-9.5-6.5-4-.5zM679 .5l4.5-.5-9.5 10-6.5 9-4 7.5-8.5 10-13 9-1.5 2-18 5-7.5 4 5.5 4 3 4.5 1 8-1.5 4-1.5 2.5-3 2-3.5 0-6-8.5 0-2 2.5-.5 5.5 7.5 2.5-2 1-4-.5-5.5-2-3.5-3-2-3 0-3 2-6.5 12.5-9 10.5 8.5 4 3 3 5 10.5 2 1.5-2.5 11.5-2 6 0 4 4 16 7 16.5 0 2-2 .5-8.5-18-3.5-11.5-1-9.5 1-4.5-15 4.5-2.5-1 0-1.5 1.5-1 13.5-4 3.5-9-.5-.5-5.5 2-1.5-.5-1-3.5 .5-7 2 .5 4.5 4-2-5.5-3.5-3-9.5-3.5-1-2 12.5-23.5 6-6 15-8.5 16.5-4.5 1.5-2 8.5-5 6.5-5.5 16-23.5 8.5-8zM737 0l3.5 0 1.5 11 3.5 6.5 3.5-1.5 2-7 0-3-3-3-1-3 19.5 0 0 37.5-11.5 0-3-1.5-1.5-3.5-.5-4 4.5-12.5 .5-4-2 5-3 3-4 1-3-.5-4.5-8.5-2-12zM283.5 1.5l11 .5 10.5 3 8.5 4.5 3.5 5.5 0 5.5-2.5 5.5-3.5 3.5-2 .5-6 1-2.5-1-3.5 8 3 13-.5 18 0 11.5 .5 2 17-1 7-2 2-6 1.5-19 2.5-2 2.5 1.5 1.5 2.5 4.5 15 4.5 8.5 6 2.5 19 4-7.5-6-7-7-2.5-4-1-4.5 3-11 6-4.5 10 1 6.5 2.5 9 7.5 10-2.5 7-3.5 4.5-4 4.5-7 1.5-4-9.5 1-6.5-2-3.5-3.5-1.5-6.5 1.5-4.5 4.5-5 7-2 5.5-.5 5 2.5 5.5 6 17.5-5 2.5 .5-6 27.5 .5 17.5 1 2.5 8.5-3-.5 9 5 7.5 0 3.5-1.5 1.5-1.5-.5-5.5-4.5 0 1.5 3 3.5-.5 2-2 .5-5.5-7-2.5-1-8 4-10.5 9-10.5 3-9 5.5-2.5-1.5-4.5-7.5-7-4 0-2.5 1.5-1.5 7.5-1.5 3.5 0 2 4 4 .5 2-1.5 1-4.5 1-1 13.5-5 14.5-7-.5-22.5 4.5-22-8.5 2-7 2.5-5 14.5-5.5 8.5-4.5 4.5-8.5 4.5-12 3-10-8-5.5-2.5-8-1-4.5 3-2 7-.5 2.5 1 3 8 9 9 6.5 0 1.5-1.5 1.5 8.5 10 3.5 7.5-1 2.5-2-.5-5-10-5.5-6-7-2-14-2.5-6.5-3-2-2.5-4-7.5-4-13-2 17-1.5 4-4 3-5.5 1-9.5 .5-6 1-6.5 5-12 3-9.5-1-14.5-3-10 1-7 3-3 4.5 0 1.5 7-.5 14 0 25 2.5 18.5 4 8 0 19-3.5 2 .5 3.5 3.5 10-3 1 1 0 1.5-6.5 3.5 5 6.5 1.5 3-.5 1.5-17 5-1.5 1.5 0 2 1 2 11.5-2 9.5 .5 1-7 3 .5 3.5 1.5 2.5 3.5 2 9 3.5 7-1.5 2-8 5-10.5 1.5-10 0-4.5-1.5-5.5-3.5-19.5-5.5-3 3-6 2.5 1 6.5-3 7-2.5 1.5-5.5 .5-4-1.5-2.5-4.5 0-4 1.5-4-.5-7-1.5-6-11.5-1-7.5-5-2 3-3 10-5 7.5-16.5 1-14 5.5-9 1.5-15.5 4.5-10.5 2-21 6-9 0-7-3-3-4.5-1.5-8 4-37.5 2-11.5-4.5 0-1-1 0-1.5 12-4 17-.5 .5-27 2.5-6 5.5-4.5 7-.5 2.5 .5 2.5 2.5 3.5 7.5 1 9 1.5 6 2 2 3 .5 3.5-1 2.5-2.5 3.5-5.5 3-8.5 4.5-4 8-2 6 0 11.5 2 6 2.5 15.5-7 8-5.5 6-5.5 5-6.5 8-18.5-6-6.5-15.5-2-4.5-3 0-3.5 2-5 5-4.5 5-2zM284.5 5l-7.5 4-2.5 6 5 1.5 13 1.5 6.5 6.5 4.5 2.5 5.5-1 2.5-2 2-5 0-3-3.5-4.5-6-3-10.5-3-9-.5zM404.5 20.5l-5.5 1.5-3 3.5-1.5 4 1 3.5 1.5 2 3 1 6 .5 4.5-1 4.5-4 1-5.5-3-3.5-3.5-2-5 0zM294.5 44.5l-6.5 9.5-7 7-9 6-13.5 6-2 2-9.5-3-11.5-2-6 .5-5.5 1.5-2.5 2.5-2.5 8-3.5 5.5-4 4-4 1.5-5 0-5-4-1.5-7-1-8.5-3-6.5-2-1.5-3-.5-5 2-3 4.5-1 7 .5 27.5-2.5 .5-1.5-3-7-.5-9 .5-3 1.5-3 14-3.5 37 2 8.5 7 3 6.5 0 20.5-6 10.5-2 15.5-4.5 9.5-1.5 6.5-2 5-3 2.5-4-10.5 2.5-9 1.5-6.5-1-10-2-11 .5-9.5-1.5-8.5-3.5-2.5-4-.5-6.5 2-4 7-5.5 4-1 12.5-1.5 12-3.5 8-3.5 14.5-8 1.5 .5 0 1.5-4 3.5-11.5 6.5-15 6 9 1 1 2-1.5 2 1 0 2.5-.5 6.5-5.5 6.5-.5 4.5 3 5 7.5 .5 2.5-.5 1.5-7 5-4 1.5-8.5 0-4.5 1.5-.5 .5 .5 .5 5 1 7-.5 9.5-2 7-3 1-5 4.5-8.5 2-5.5-2-6-5-6.5-2.5-1-1-1.5 3.5-8.5 3-5 6.5-3.5 7.5-1.5 2-1 26.5 5 9.5-2 5.5-3-2-4.5 1-29-2-8zM180 124l-5 2-4 3.5-1 4 1.5 4.5 1.5 1.5 6.5 2 9 1 8-.5-3.5-3.5-.5-3 0-5 2-4.5-10.5-2-4 0zM302.5 124.5l-2.5 1.5-1 3 2 3.5 3 2 2.5-3.5 1-4.5-1.5-2-3 0zM268 129.5l1.5 2 3.5 1 3.5 0 1.5-1-2-1.5-7.5-.5zM342 133l-6.5 1-2.5 1.5 3.5 4 1 3-.5 2.5-3 3 3.5 1.5 7.5 0 7.5-2.5 1.5-3-1.5-8.5-5.5-2-5-.5zM289 149.5l-2.5 1.5-1.5 5 1 3 4 1 3.5-1.5 2-5-1.5-3.5-5-.5zM702.5 12l8.5 .5 5 2.5 5.5 5 11 18 4.5 10.5 3 10.5 0 5-2 4.5-4 2 1.5 4-.5 5.5-.5 2-5 5-8.5 3.5-6 .5-7-2.5 2.5 7.5 3.5 6.5 3-6 4-4 6.5-1.5 5 .5 7.5 5 1.5 3 1.5 5-1 2.5-2 0-3-8-5.5-4-3-.5-6 1.5-2.5 3-3 8 12 4.5 1.5 2-.5 2-1 1-1.5-.5-11-8-2.5-.5-3 7.5-5 7.5 11.5 4 2 2 9.5-1 4.5 2 4 4 6 11 2 1 4.5 1 5.5-3 11-2.5 0 25.5-6.5-1-5.5-2.5-4-5-1.5-7-6-1.5-2 1.5-3.5 7 0 7.5-1.5 1.5-2.5-.5-1 3.5 1.5 10 2.5 5 3 3.5 4-10.5 3-1 4.5 2.5 8 10 3 1 4.5 .5 0 20.5-6 0-1-4-2.5-5-2.5-2.5-2.5-.5-1.5 .5 3 11.5-4 0-1-6.5-2.5-3-2 2.5 1.5 7-10 0 0-13.5 2-5-7-12-2-11 1-5 5.5-12-1.5-4 3-2.5 0-4-1.5-5-3-5-5.5-1-8.5 1.5-13.5 5-15 3-10.5 1.5-19 0-2.5-1.5 .5-2 14-13.5 6.5-4 5.5-1.5-6-10.5-1-4 .5-1.5 1.5 0 2 1.5 3 8.5 5.5 6 11.5 1.5 3-2.5 4.5-7 2-7.5-8.5-22.5 0-11 1-5.5 4.5-9 6.5-7.5 2 .5 .5 2-5.5 6.5-1 3 4.5-1 6 0 .5-6 3-3.5 4.5-1.5 5 1-4.5-11.5-12-18-7.5-4.5-5.5-.5-4.5 2-3 3-1 2.5 2 3 0 4.5 1 2 9.5-2.5 3 1.5 3 3 3 8-.5 3-2.5 3-7.5 2.5-15.5-1-4.5 8-5.5 4-11.5 3.5-9.5 .5-3 1.5-4.5 5-13 10-1.5 9.5-1 12-1.5 3-2-1 0-4.5-7-4.5 3-2 4 1 .5-1 2-13 3-11.5 1.5 0 1 1 0 4.5 16.5-13.5 18-2.5 7-3.5 3-5.5 1-10.5 0-4-4-6 0-3.5 2.5-2.5 5-2 6.5-8 5-2.5zM727 53.5l-2.5 2 .5 7 5 3.5 4.5 0 2-4.5-1.5-5-4.5-3-3.5 0zM715 63.5l-8.5 3-1 5.5 0 7.5 5.5 6.5 5 1.5 7-1.5 5-2.5 3.5-4 0-4-1.5-4-2.5-2.5-5-3.5-5-2-2.5 0zM682.5 124l-9 5-9.5 9.5 14 0 17-2 8.5-2 11-4.5-10.5-3.5-7.5 0-10-3-4 .5zM131 39.5l8 .5 6 3 7 6.5 .5 5-1.5 3.5-9 8 3 10 1 7 0 11.5-2.5 11.5-3 1.5 1 8-1.5 4.5-10.5 19.5-1.5 2-.5 12 2 2 2.5 7.5-1.5 10.5-1.5 1-1.5-1 1-9-1.5-4.5-.5 5-2 6.5-7.5 9.5-3.5 9 .5 9.5 4.5 12-4 0-4-11-.5-12 2.5-7 7.5-9.5 2-4.5 1-4 1-18.5 2-16 1-2 1.5 0 1.5 3 6.5-11 1-5.5-1-8.5 1-1 3 0 2-11 0-9-3-13-10 20-1.5 .5-1.5-1 1-4 5.5-10.5 3.5-9-6.5-3-2-5-.5-13.5 1.5-4 2-2zM132.5 43l-1.5 4.5 0 7 1 6 4 2 5.5-1 7-6.5 .5-3-8.5-7.5-3-1-5-.5zM653 43.5l1 .5-.5 2.5-3 6.5-12.5 10-3.5 1.5-2.5 0-5-5.5-.5-1 1.5-1.5 25-13zM762.5 51l3 0 .5 2.5-15.5 4.5-2-1 0-1.5 2-1.5 11.5-3zM765 57.5l1.5 0 0 26-6.5 .5-4.5 2.5-1.5 8-5 2.5 0 8.5-.5 1.5-1.5 0-1-1.5-2-14 4-13 2-15 1.5-1 1.5 1 .5 6.5 5-9.5 3-2 3.5-1zM514.5 64l5 0 3 1 4.5 4.5 1.5 3 .5 8-5 4.5-2.5 0-1-1.5 .5-1.5 4.5-2.5-.5-6-2-3-4-3-8 1-.5-2.5 3.5-2zM488.5 64.5l6 0 3 2 3 6 2.5 .5 1.5 1.5 .5 3-1 2.5-1.5 .5-3.5-.5-3.5 4-3.5 1.5-5.5-.5-2.5-1.5-2.5-4.5-.5-6 3-5.5 4-3zM489.5 68l-2.5 1.5-1.5 3-1 2 1 2 2.5-2 5.5 .5 2-1 .5-2-1.5-3.5-5-.5zM492.5 78.5l-2.5 2.5 3-.5 1-2-1-.5zM711.5 69.5l3.5 0 3.5 2.5 2 3-.5 2.5-4.5 1.5-6-2-1.5-4 1-2 2-1.5zM628.5 74l1 0 .5 1.5-.5 2-1.5 .5-1-2 1.5-2zM81 75.5l6.5 0 4.5 3.5 2 5.5 2.5 19 6 6 4 1.5 3 0 3-3 2.5-13.5 3-6.5 7.5-11 2-1.5 2 .5 0 2-6.5 8.5-4 8-2.5 13.5-3 4.5-3.5 2-6 0-11-8-2.5-21-1.5-4-3-2.5-4 0-4 3.5-3 9.5-1 14-1 1-2-.5 0-15 1.5-5 4-8.5 4-2.5zM682.5 78.5l6 0 3 2 2 5-1.5 5-3.5 1.5-6-1-2.5-2 0-4.5-1 .5-5 5.5-5 13 4 .5 .5 2.5-7.5 3-8.5 6.5-16 19-2.5 .5-.5-2 .5-2 13.5-16 11-8.5 7-17.5 2.5-4 5-5 4-2zM484 90l3.5 1 5.5 6.5 0 4.5-4 2.5-8.5 2.5-7 .5-5.5-6-4-.5-4 2.5-3 3 5.5 1 .5 1.5-1 1.5-7.5 .5-4.5 2-9.5 2.5-14 7.5-5.5 2-2-1.5 0-2.5 5-6.5 4.5-2.5 6.5-.5 2-1-23.5-.5-15.5 .5-1 1 4 5 7.5 5 .5 2-.5 1.5-2 1-5-2-2.5 .5-12 10-7.5 4.5-3-1-3-5.5-1-5.5 .5-5 4.5-6.5 6-4-1-2.5 1-1.5 22.5-1.5 35 .5 7.5-11 11 2 9.5 .5 6-2.5 9-5.5zM527 93l2-.5 1.5 1.5-1.5 2-2.5 1.5-1-2 1.5-2.5zM26.5 99.5l21.5 1 10 3 1.5 1 0 1.5-2 1-13-3-.5 2.5-1.5 .5-25 1.5-9 1.5-8.5 3 0-4 10-3 1.5-2 5-2 9.5-2.5zM27.5 103l-4 1 12.5-.5-8-.5zM64 104l2 1-1 3.5-2.5 2.5-8 4.5 7 3 16 13.5 5 0 8.5-1.5 10.5 1 6 2 5 7 1 6-.5 5-2.5 6-7.5 5-6.5 3-4 5-1 14 6.5 27-4 0-4.5-17.5-2-9 1.5-15.5 2.5-4.5 3.5-3 6.5-2.5 5.5-4 2.5-4.5 .5-4-1-5.5-3-4.5-6-2-7-.5-17.5 1.5-1 8-3 10-8.5 14-.5 10 .5 18-.5 4.5-5 6.5-5 2-5-.5-3.5-1.5-8-14-4-3.5-7 2.5-4.5 5-3 6.5 .5 8-18 0 0-26 4.5-2.5 6-9.5-10.5-13 0-4 3.5 1.5 8.5 11.5 1.5 0 3-3 9.5 5.5 3.5-1 6.5-7 12.5-29 10-13.5-2.5-1.5-9-1-8.5 8.5-9 6.5-14 6-7 1.5-8.5 1 0-4 11-1 16-6.5 9-6.5 9-9 16-8 3-3.5zM61 124.5l-9.5 12-6.5 15-2.5 8-3.5 6-8 9 .5 2 3 4.5 1.5 6.5 5.5 7 4.5 9 3 1.5 3.5 0 2.5-1 4-5.5 0-30 1.5-4.5 7.5-10.5 3-11 1-9.5-5.5-5.5-4.5-3.5-1 .5zM524 115l16.5 4 3.5 2 2.5 2.5 .5 1.5-2 1-10.5 .5 5 11 5.5 8 11 6.5 10 3 13 6.5 13 4 3 2.5 1 4-1 2-3 1.5-6 .5 6.5 9 1 2.5-.5 .5-9 1-13.5-.5-11.5-5-6-.5-3 2-13.5-5-9.5 2-8 .5-.5 3 2.5 4.5 3 3.5 3.5 2.5 6.5-4.5 6.5-3 3.5-1 4 1 8.5 8.5 6.5 14.5-4 0-6-13-7-6.5-4.5 0-6.5 3.5 10.5 1 4 2 3 5 .5 8-13.5 0-1-3-2-1-2 1.5-1 2.5-32.5 0 3.5-16.5 0-4-1.5-2-3.5 0-15.5 3-10.5-3-14-1-1.5 1 2 10 5.5 12.5-24.5 0-2.5-3-3 3-4 0 5-6.5 6.5 .5-.5-3.5-7.5-3.5-3-3 2.5-3.5 13.5-8 0-1.5-2.5-2.5-5-.5-12.5 1.5-5 1.5-2 8-1.5 1.5-4.5 .5-6.5-1-22.5 9-3 2.5 0 8.5-65.5 0 .5-6.5-8-1-8.5 1 0 6.5-28.5 0-1.5-5.5-15.5 1-1.5-1 .5-2.5-1.5 0-2.5 .5-4 7.5-4 0 4.5-9 4.5-2.5 4.5 0 1 1 0 2 2 0 22-2.5 36.5 0 6.5-2 9-1 11 .5 6 3 4 .5 17-2.5 7-3 4.5 1 12-3.5 10-5-4.5-9.5-2-2-2.5-.5-7 2-12 6-3.5-1-7.5-4-8-2.5-22.5 5-34.5-.5-24.5 1-19.5-2.5-6.5 1-6.5 1.5-4 4-3.5 8.5-3 16.5-4 0 3.5-18 1.5-4.5 4-6.5 6.5-4 11-2.5 22 2.5 22-1 34.5 .5 10-1.5 17-5 29.5-11.5 20.5-5.5 16.5-6.5 7-1.5 16 1.5 26 5 13.5-2 14-4 1.5-4 2-16 1-4.5 2.5-2 2.5 .5 6-1.5 4-4.5zM518 124l-6 1.5-3 20.5-2 3.5-4 2.5 12.5 3.5 3 5 2.5 2 5.5-1 10.5-3.5 15.5-3-11-8-5-8-4-9-2.5-2.5-8-3.5-4 0zM435.5 150l-6.5 1.5-16.5 6.5-20.5 5.5-23.5 9.5 29.5-3.5 35-8.5 29.5-5 4.5 1-1 5.5 1.5 3.5 4.5 5 6 4 3 0 3-1 6-4 2-3 0-4-4-7.5-12.5 1-25.5-5-14.5-1.5zM550.5 159l-3.5 1.5 5 2 12.5 2.5 6 6 4 2 5.5 .5-7.5-6 0-2 2-1 12 7.5 4 0 1.5-.5-1-2.5-15.5-4.5-10-5.5-15 0zM528 165.5l-2 .5 1.5 .5 1.5-1-1 0zM530.5 172l-8 6 3.5 .5 11.5-3-3-2.5-4-1zM431 173.5l-3.5 1-2.5 2.5 12-1 3.5-1-3.5-1.5-5.5 0zM639.5 116.5l1.5 0 .5 2-5.5 10-2.5 8.5 2.5 5.5 4.5 0 1 1.5-2 2-4 0-2.5-1-3-5.5 0-5.5 3.5-8.5 6-9zM594.5 136l1.5 0 1 1.5 9 22 4.5 3.5 5.5 2.5 10-5.5 13-2 7.5-4.5 3-.5 7.5 1.5 17.5 6 31.5-9.5 13.5 1 4.5 3 .5 3-2 4-5.5 4-12.5 5-13 6.5-17.5 2-12.5 4-3 1.5-6.5 1.5-3 4-2 6-1.5 15-4 0 .5-4-3 .5-4-2.5-11.5-13-5.5-13.5-1.5-9.5-4-1-6-3.5-4-4-8.5-20.5-.5-3 1-1.5zM706 155l-30 9.5-6-1-14.5-5.5-7.5-1-7.5 4.5-12 1.5-7.5 4-.5 3.5 1 7 3.5 9.5 4 7 9 9 4 2.5 1.5-10.5 4.5-10-8.5 2.5-1-1.5 1.5-2.5 6-2 13-1.5 14-4 17.5-2 12.5-6.5 12.5-4.5 3.5-2.5 2-3-2-2-3.5-.5-9.5 0zM697.5 181.5l3.5 0 4 2 8 9 2.5 7.5 1.5 11.5-4 0-1-10-2.5-7.5-7-7.5-3.5-1.5-3.5 2-2.5 4.5-2 20-4 0 3-22.5 3.5-5.5 3.5-2zM175 187.5l7 .5 7 4 4.5 7 4 12.5-4 0-3.5-11-3.5-5.5-5-3.5-4-.5-5.5 2-4 4.5-8 14-4 0 8.5-16 6-6 4-2zM592.5 191l11 0 9 3 3 4.5 2 13-4 0-.5-7.5-2.5-6.5-5-2.5-5-.5-9 .5-6 2.5-2.5 4.5-.5 9.5-4 0 1-10.5 1.5-4 3.5-3 7.5-3zM473 210l2.5 0 1 1.5-5.5 0 2-1.5z"/>
<path fill="#fd2900" d="M.5 0l9.5 0-1 4-2 3-3 2.5-4 .5 0-10zM16.5 0l3 0 1.5 10.5-3.5 19.5 7.5 0 5-4 1-4 .5-12 1-4 21 4 5 5 5 7.5-1 2.5-4.5 1.5-4 0-8-3.5-2.5 .5-2.5 1.5-2 3.5-.5 7-7 7.5-3.5 11.5 6.5 .5 9.5-2 12.5-11 7-5 13.5-6 6.5-1 6.5 2.5 2.5 4.5 1 3.5-.5 9-2 5-4 5.5-10.5 9-5.5 2.5-5 1-6.5 0-11-2-5 0-16.5 6.5-27 13.5 0-3.5 26-13 11.5-5 5.5-1.5 5.5 0 16 2 10-3 10-8.5 3.5-5 2.5-7.5-.5-6.5-2-4-3-1.5-5 0-9 3-6.5 3.5-19.5 16-5 1.5-13.5 1-2.5 4-4 1-5 0-7-2.5-1-1.5 5-3.5-2-4-1.5-12.5 1.5-5 3-4 4-12 .5-8-1-10.5zM14 51l0 1 0-1zM66 0l3 0 .5 9 3 9.5 4 4 4.5 2.5 2-.5 10.5-6.5 9.5-1 27 7.5 24-1 18.5-2.5 5 .5 7 3.5 2.5 .5 8-4-8-.5-4-2-3-3-3.5-7-.5-9 3 0 .5 8 3 6.5 3 2.5 5.5 1.5 4-1 2.5-3 3.5-14.5 3 0-1 8.5 4.5-1.5 5 0 6 2.5 .5-2-2-7.5 3.5 0 7.5 34 6.5 2 10 1-1-2 4-.5 .5-1.5 0-16-5.5-1.5-.5-1 .5-5 3-7 0-2.5 12.5 0 2.5 13-3 20-1 1.5-2-1 0-2.5 2-15.5-5.5 1 0 18 1 2-.5 6-2 1-8.5-4-13.5-1.5-2.5 3-5.5 .5-16-2-37-3-2-1 0-3-1.5-2.5-6-3-9-.5-20 1-25-7.5-8.5 1-7.5 5.5-6 2-7-3.5-4.5-5-3-10-.5-10zM207 10.5l-3 2-2 7 1 8 10 3.5 8 .5 .5-7-3.5-11-5.5-3.5-5 .5zM198 23.5l-2 2.5 3 .5 .5-2.5-1-.5zM184 29l-.5 .5 .5 1.5 2.5-1.5-2-.5zM113.5 0l4.5 0 7 3.5 3.5-.5 13.5 7 6.5 2 11-6 8.5-6 5 0-12 9-9 5.5-3.5 .5-7.5-2-12-6-7.5-1.5-6-3-2.5-2.5zM185.5 0l8.5 0-1 9.5-1.5 0-3-3.5-3.5-6zM328.5 0l3 0 1 9.5 3 5 8 5.5 6.5 1.5 8-1 6.5-3 4.5-3.5 5.5-6 1.5-3.5 0-4.5 3.5 0-.5 6-1.5 3-7.5 8-9.5 6-10.5 1.5-5.5-.5-5.5-2.5-7-6.5-2.5-4.5-1-10.5zM341.5 0l9.5 0-1 4.5-2 3-2.5 1-2-.5-1.5-3.5-.5-4.5zM419 0l3 0 1.5 8 3.5 4 9 3 3.5-1 5.5-4 2-4.5 0-5.5 7.5 0-1 2-2.5 1-2 6.5-4 4.5-4.5 3-4 1-8-1.5-5-3.5-3-4-1.5-9zM463 0l3.5 0 1 4.5 3.5 4.5 6.5 2 31.5-5 6-6 4 0-6.5 8.5-34.5 5.5-5.5-.5-4-2.5-4-5.5-1.5-5.5zM547.5 0l26.5 0 .5 3 2 2 12 3.5 9 6 3.5 1 38.5-14 5.5 1 20-2 2 1.5-1 1.5-4.5 .5-20 2-4-.5-39.5 15-8.5 4-5 3-19 15.5-4.5 14-3.5-1.5-2.5 3-1.5 10-2.5 3.5-1.5 9.5 .5 10.5 1 2.5 4-1 9.5-5.5 1.5 .5 2 4.5 2.5 9 .5 4-2.5 2.5-7 1.5-.5 3-9.5-4-5-6-1-4.5 1.5-4-.5-8 .5-15.5-6-9.5-9.5-2-4-2.5-1.5-3.5 2-6.5-.5-2-2.5-1-3 1.5-8 8-2.5 4-3.5 .5-9.5-.5-5-3-6-7.5-4-.5-3.5-2.5-12-16-1.5 2.5-.5 5 5 20-.5 12.5-1 5-4 8-7.5 5-2.5 0 0-2 8-6 3-6 1.5-9-.5-10-4.5-16.5 0-6.5 1-3.5-5.5-5.5-3-5 0-2 2.5 .5 5 7 2 1 2.5-1.5 2 2 6-3.5 8-1 12.5-4 9.5-1 8.5 .5 2.5-3 3-1 7 0 6.5 1.5 2.5 2 0 2-7.5 8.5-.5 4 10 11 6 17 2 1.5 4.5 1 4.5-6.5-1-7 2-5.5 3-6.5 5-6.5 .5-2.5-2.5-4.5-13.5-8-1-3 .5-8.5zM504 17l-7.5 .5-6.5 2.5-2 1.5 9 4.5 3.5 4 8 0 3.5 2 2.5 3 4.5-6 0-2.5-.5-2.5-5-7.5-9 .5zM503.5 33.5l-1 1 2 2 3 .5 2.5-.5 0-1.5-2-1.5-4.5 0zM493 45.5l-1 1 0 1.5 4 4.5 6 2.5 7.5-1-10.5-8-5.5-.5zM679.5 .5l4-.5-10 10-10.5 16.5-8.5 10-12.5 8.5-2 2.5-17.5 4.5-8 4.5 0 .5 4.5 2.5 4.5 5.5 .5 8-3 6.5-2.5 2-3.5 0-6-8.5 .5-2 2 0 5.5 7.5 2.5-2.5 1.5-4-.5-5.5-2-3.5-3.5-2.5-3 0-3.5 2.5-6.5 12.5-9 10.5 .5 1 8 3 3 3 5 10.5 2.5 1.5-2.5 11.5-2.5 6 0 4 4 16 7.5 16.5-.5 2-1.5 .5-8.5-18-3.5-11.5-.5-10 1-5-7.5 3.5-8.5 2-2-1 1.5-2 14-4.5 3.5-9.5-1.5-6-2.5-5-3-2-10-3.5-1-2 12.5-23 6-6 15-9 16.5-4 1.5-2 8.5-5 6.5-5.5 16.5-24 8.5-8zM603 67l-1.5 3 1.5-3zM737 0l3 0 1.5 11 4 6.5 4-1.5 2-7 0-4-3-5 18 0 0 36.5-10.5 0-3-2-1.5-3 0-3.5 4.5-14 0-4.5-1-.5-2 6.5-2.5 3.5-4 2-2.5-.5-2.5-2-3-6.5-1.5-12zM284.5 1.5l10 .5 10.5 3 8.5 5 3.5 5 0 5.5-2.5 5-5.5 4.5-3.5 .5-5.5-.5-3 8 3 13.5-1 17.5 0 11.5 1 2 17-.5 7-2 2.5-6.5 1-18.5 1.5-2 1.5-.5 3 4 4.5 15 4.5 8.5 6.5 3 13.5 2 7 2 8.5 9.5 3.5 6.5 .5 3-1 1-1.5-.5-5-10-6-6-7-2.5-14-2-6.5-3.5-5.5-9.5-4.5-13.5-1 1.5-1 16-2 4-3.5 2.5-5.5 1.5-9.5 0-6 1-6.5 5-12 3.5-9.5-1-14.5-3.5-10 1-7.5 3.5-2.5 4-.5 2.5 8-1 28.5 1.5 17 2 8.5 3 6 0 23.5-3 1.5 .5 3.5 3.5 11-3.5 1 1-.5 1.5-7.5 4 5 6 0 2.5-1 1.5-7 3-5.5 .5-3-1-4.5-3.5-2.5-.5-3.5 1.5-1 2 7.5 4 4.5 6 5.5-2 7-1 11 1 2-4 2.5 0 3.5 4.5 3 11.5-1 2.5-9 7-8 1-9 0-3.5-1-7-5-10.5-2.5-7.5-4.5-1-1.5-.5-2.5 4-11.5-2-1.5-5-.5-5 2-1.5 3.5 1.5 4 5.5 7-.5 5.5-6 3.5 1.5 4.5-.5 4.5-2.5 4-2.5 2-3.5 .5-4-.5-4-4-.5-5 2.5-7.5-2.5-11.5-4.5 1-7.5-.5-8-7-2.5 2.5-7.5 19-1.5 1-14.5 .5-14 6-9 1-15.5 5-11 1.5-20.5 6.5-8.5 0-7.5-3.5-3-4-1-8 3.5-37.5 2.5-12-5 .5-1-1 .5-1.5 11.5-4 17.5-.5 0-26.5 3-6.5 5-4.5 6.5-.5 3 1 2 2 4 7.5 .5 9 1.5 6.5 3 2 2.5 .5 4-1.5 2.5-2.5 3-5 3-8.5 4.5-4 8-2.5 5.5 0 12 2 6 2.5 16-7 8.5-6 5.5-5 4.5-6.5 8.5-18.5-6-6.5-16-2-4.5-3 0-3.5 2.5-5 5-4.5 6-2zM283.5 5l-7 4-2.5 5 .5 1 5 2 13 1.5 6 6 5 3 5.5-1 3-2.5 2-4.5 0-3.5-4-5-6-3-10.5-3-9.5 0zM294 44l-4.5 7.5-8.5 9-9 6.5-14 6-1.5 2-9-3.5-11.5-2-6.5 .5-5.5 2-2.5 2.5-3 8-3.5 5.5-3.5 3.5-4 2-5-.5-4.5-3.5-2-7-.5-9-3.5-6.5-2-1.5-3.5-.5-5 2.5-3 4.5-1 6.5 .5 28-2 0-1-3-7.5-.5-9 .5-3.5 1.5-3 14.5-3.5 37 2 8.5 2.5 2 5 1.5 6.5 0 20.5-6.5 10.5-1.5 16-5 9-1 7-2.5 6-3.5 3.5-4.5-13 3.5-9 1-6.5-.5-10-2.5-11 .5-9.5-1-8-3.5-3-4-.5-6.5 2.5-4 6.5-5 4-1.5 12.5-1 12-3.5 8.5-4 14-8 1.5 2-4.5 3.5-11 6-16.5 6.5 10 1 1 1.5-1 1.5-5.5 .5-16.5-3-4 0-4.5 2-4.5 3.5-1.5 3.5 .5 4 3 3.5 6.5 2 9.5 1 10-1-3.5-3.5-1.5-3 0-4 1.5-3 3.5-1.5 10 2 6-6 5-1.5 4.5 1.5 3 3.5 2 5.5-1.5 3.5-6 4-9-.5-10.5 3.5 7 2.5 5 .5 8.5-1 16.5-5 5.5-17 .5-4-5.5-10.5-1-4.5-3 3.5-1.5-.5-.5-1.5 3.5-8.5 3-4.5 6-3.5 7.5-1 2-1.5 26.5 5.5 9.5-2 6-3.5-2-4.5 1-29.5-2-7.5-1-.5zM263.5 104.5l.5 1 3 1 6-1-9-1zM267 128l0 1.5 2.5 2 3.5 1.5 5.5-1 1.5-2.5-1.5-1.5-11.5 0zM340.5 133l-5 .5-4 2.5 4 6-.5 2.5-3 2 1 1.5 4.5 2 8 0 7.5-2.5 2.5-2 .5-1.5-3-9-6-2-6 0zM288 149.5l-3.5 5 .5 3.5 2 2 5 0 3.5-4 0-4.5-3-2.5-4 .5zM703.5 12l7.5 1 5 2.5 5 4.5 11.5 18.5 4.5 10 3 10.5 0 5-2 4-4.5 2.5 1.5 4 0 5.5-1 2-5 5-8.5 3.5-5 .5-3.5-.5-4.5-3 2.5 8.5 4 7 3.5-6.5 3.5-3.5 6.5-2 5 .5 7 5 2 3 1 5-.5 2-2 0-2.5-7.5-5.5-4-3.5-1-6 1.5-2.5 3-3.5 8-3 1-2.5 7.5-5.5 7.5 12 4.5 2 2 9.5-1 4.5 1.5 3.5 4 6 11 2.5 1.5 6 1 3.5-3 11.5-2.5 0 24-6-.5-5-2.5-4-5-1-6.5-9-3-2.5 6.5-3 4-3 7.5-.5 4 1 10 6 9 1 0 3.5-9.5 3-1.5 4.5 3 7.5 9.5 7.5 1.5 0 19.5-5 0-1-4.5-3.5-6-2.5-2-2.5-.5-2.5 .5 2.5 5 1 7.5-3.5 0-.5-6-1.5-3-2-2-5 .5-2-2 0-5.5-5.5-7.5-3-6.5-1-9 .5-5.5 3-7.5 3.5-5.5 .5-2-1-1.5 1.5-1.5-.5-6.5-2-5.5-2.5-2.5-3.5-1.5-3 0-8 1.5-13 5.5-15 3-11.5 1-18.5 0-2-1 1-2 13.5-13 6.5-4.5 6-1.5-6.5-10.5-1-4 1-1.5 2.5 1.5 3.5 8.5 5.5 6.5 11.5 1.5 3.5-3 4.5-7.5 1.5-7-8.5-22.5 0-10.5 1-5.5 5-9.5 6-6.5 2 0 .5 1.5-6 6.5-1 3.5 5-1.5 6 .5 .5-6.5 3-3.5 4.5-1 5.5 1-5-12-11.5-18-8-5-5.5-.5-5 2.5-3 3-1.5 4 .5 8.5 1 1.5 3.5 .5 8-3.5 3 1 2.5 2.5 3 7-.5 3-2 2.5-4.5 2-5.5 .5-10-1.5-2.5-3-2.5 8.5-4 5.5-7 4-18 2.5-20 16-2 10-.5 12-1 2.5-1.5 .5-1-1 0-5.5-5.5-3 2.5-1 3 1.5 2.5-15.5 3-11.5 1.5-.5 1 1-.5 5 .5 0 17-14 17.5-2 7.5-4 3-5.5 1-10 0-6-3-4 0-3.5 1.5-2 4.5-2 7-9 6-2.5zM727.5 53l-2.5 1-1 1.5 1 7 5 4 4.5 0 2.5-4.5-1-3.5-2.5-4-5.5-1.5zM714 63.5l-7.5 3-1.5 5.5 0 8.5 7.5 6.5 3.5 1 3.5-.5 8-3.5 3-2.5 1.5-2.5 0-4-2-4-7-5.5-5.5-2.5-3 .5zM684.5 123.5l-5 1.5-6 3.5-10 10 14.5 .5 17-2 8.5-2 11.5-5-11-4-7.5 .5-8.5-3-3 0zM404.5 17l7 .5 3 2 5.5 6 17.5-5.5 2.5 1-6.5 27 0 13 1.5 7.5 6.5-2.5 1 .5-5 12.5 5 8.5-1 1.5-1.5-.5-7-9-9 5.5-10 8-11 2.5-8 4.5-2.5-1.5-4-6-7.5-3.5-.5-2 3.5-2 7-.5 1 0 .5 3.5 1.5 2 5.5 .5 2.5-2.5 2-6.5 27-11.5-.5-23 5-22.5-16 4.5-5.5 15-5 8-4.5 4.5-9 5-11.5 3-10-8.5-5.5-2.5-8-1-4 2.5-3 8 0 2.5 1 3 2 3.5 6 6 8.5 6 .5 1.5-1 1-1.5 0-7.5-5.5-7.5-7.5-2.5-4-1.5-4.5 3-10.5 6.5-5 4.5 0 9.5 2.5 11 9 10-2.5 8-4.5 4-3.5 6-11-10 .5-6-1.5-4-3.5-1.5-5.5 1.5-5 4-4.5 8-3zM403.5 20.5l-5 1.5-3 3.5-1 4 1 4 2 2 5.5 1.5 8-1 4-4.5 1-5.5-2.5-3.5-3.5-2-6 0zM132 39.5l7 .5 6 3.5 6.5 6 1 5-2 3.5-8.5 7.5 4 17.5 0 11.5-2.5 11.5-3.5 1 1 8.5-1 4.5-10.5 19.5-2 2-.5 12.5 2.5 1.5 2.5 7.5-1.5 10.5-1.5 1-1.5-1.5 1.5-8.5-2-5-.5 5.5-2.5 6.5-7 9-4 9 .5 10 4.5 12-3.5 0-4-11-.5-12 3-7 7.5-9.5 2-4.5 1-4 .5-18.5 2-16 1.5-2 1.5 .5 .5 4.5 7-12.5 1.5-5.5-1.5-9 1.5-1 2 1 .5-.5 2.5-11 0-9.5-3.5-14-10 20.5-1.5 1-1.5-1.5 7-14 3-9-6-3-2.5-5.5-.5-13 2-4.5 2.5-1.5zM132 43l-1.5 4.5 0 7 1.5 6 4 2.5 5.5-1 7-6.5 1-3.5-5.5-5.5-3.5-2-5.5-2-3 .5zM652.5 44l1 .5-.5 2-2.5 4.5-12.5 10.5-5.5 1.5-5-4.5 1-2 24-12.5zM763.5 51l2 .5 0 2-8 1.5-7 3-2-1 .5-1.5 2-1.5 12.5-3zM765 58l1.5 0 0 24.5-12.5 1.5-3-2-2 7 2.5 .5 .5 2.5-3.5 2.5 .5 11-2 1.5-1-1.5-1.5-13.5 1.5-8 2.5-5.5 1.5-15 1.5-1 1.5 1 0 8 5.5-10 3-2.5 3.5-1zM515.5 64l4 0 3 1.5 4 4 2 3.5 .5 7.5-5.5 4.5-2 0-1-1.5 5-4 0-5.5-2-3.5-4.5-3.5-8 1 .5-2.5 4-1.5zM489.5 64.5l4.5 0 2 1 2.5 2.5 1 3.5 .5 4.5-1 3-3.5 4.5-3.5 1.5-5-.5-2.5-1.5-3-4-.5-3 0-3 3-5 5.5-3.5zM489 68l-2.5 2-2.5 5 1 3 2 2.5 4 1.5 2.5-1 1.5-2.5 1.5-6.5-2.5-4-5 0zM712 70.5l3 .5 2.5 1.5 1.5 2.5-1 2-4 1-4-2-1-3 3-2.5zM82 75.5l5.5 0 4 3.5 2.5 5.5 2 19 6.5 6.5 4 1.5 3-.5 3.5-3 2-13.5 3-6 7.5-11 2-2 1.5 .5 0 2-6.5 8.5-4 7.5-2 14-3.5 4.5-3.5 2-5.5 0-5.5-4-3-3.5-2-.5-2.5-21.5-2-4-3-2.5-4 0-4 3.5-3.5 10-.5 14-1 1-1.5-.5 0-15.5 1.5-6 4-7 5-2.5zM683.5 78.5l2.5 1 3 .5 2 1.5 1.5 4-1 4-3 1.5-4-.5-3-3 .5-4.5-3 1.5-5 6-5.5 13 .5 1 4 0 0 2-7 3-9 6.5-16 19-2 0-.5-1.5 1-2 13-15.5 11.5-9 6.5-17.5 3-4 4.5-4.5 5-2.5zM483.5 93.5l3.5 0 3.5 3 1 3-.5 3-2 1.5-5 2-9.5 1-2-3.5 .5-3 10-7zM450 97.5l4 .5 4 2 .5 2-3 5 6.5 .5 1 1-.5 1.5-8.5 .5-4.5 2.5-9.5 2-12 7-5.5 2-1-1-.5-2.5 4-5 4-2 7 .5 3.5-3.5-2.5-1-13.5 0-26.5 .5-2.5 1.5 3.5 4 1.5 4.5-6 8-6 5-6.5 4-3.5-.5-2.5-3.5-2-5.5 1-5 4.5-7 7.5-4-3-1.5-.5-1.5 1-1 22.5-1 35.5 0 1.5-.5 4.5-7 2-1.5zM27.5 99.5l20 1 10.5 3.5 1.5 2-2 1-11-3.5-18.5-1-7.5 2 22-.5 1.5 2-1.5 1-12 0-16.5 1.5-14 4.5 0-3.5 10-3 2-2.5 4.5-2 11-2.5zM598 99.5l6 5.5-3.5 1.5-2 0-1-2.5 .5-4.5zM63.5 104.5l1.5-.5 1 1-1 3-3 3-8.5 4.5 8 3.5 16 13.5 5.5 0 8-1.5 10.5 .5 6 2.5 5 6.5 1 6.5-.5 4.5-3 6-7 5-6.5 2.5-4.5 5.5-1 14 6.5 27-3 0-5-18-1.5-8.5 0-9 1-6.5 3-4.5 3-2.5 6.5-3 6-4 2.5-4.5 0-4-.5-5.5-3.5-5-6-2-7-.5-9 1.5-8.5 0-1 8-3 10.5-9 14-.5 10.5 1 17.5-.5 4-5 6.5-4.5 2-5 0-3.5-1.5-8-14-5-4-7.5 3-4.5 5-3 6.5 .5 8-17 0 0-25 2 0 2.5-2.5 6.5-10.5-11-13.5 0-3 3.5 1.5 5.5 8.5 3.5 3 1.5 0 3.5-3 8.5 5 3.5-1 6.5-6.5 2.5-5 10-24.5 10.5-13.5-3-2-9-1-9 9-9 6.5-6.5 3-14.5 4.5-8 .5 0-3.5 11-.5 6.5-2 10-5 8.5-6 9-9 16-8 2.5-3.5zM61 124l-3.5 3.5-6 9-7 15-2.5 8-3 6-8 9 3.5 6.5 1.5 7 5.5 7 4 8.5 3.5 2 3.5 0 2.5-1 4-5.5 1-4.5-1-25.5 1.5-4.5 7.5-11 3.5-11 1-9.5-11-9zM639 117l2 0 .5 1.5-6 10-2.5 6 0 3 2.5 5 5 0 1 1.5-2 2-4 0-2-1-3-5.5-.5-5.5 3.5-8.5 5.5-8.5zM525.5 117.5l4 0 9.5 2 3.5 1.5 3 2.5 .5 1.5-1.5 1-10.5 .5 5.5 11 5.5 8.5 10.5 6 10.5 3 13 7 13 3.5 3 2.5 .5 4-1 2-5 2-4.5-.5 7 9 1 2-1 1-8.5 1-12.5-1-12.5-5-6-.5-1 2-1.5 .5-13.5-5-9.5 2.5-9.5 0-.5 3 3 5 3.5 4.5 4 2.5 6.5-5.5 6.5-3 3.5-.5 4 1 8 8 6.5 14.5-3.5 0-6.5-14.5-6-5-2.5-.5-8.5 3-3 3 13 1.5 3 1 2 4 .5 7.5-8.5 0-1.5-5-3.5-2.5-4 2.5-2 5-30 0 4-17 .5-6.5-.5-2-16.5 4-5 .5-9-2.5-12-1-15.5-7-7-1-16.5 2.5-2.5 2-1 5-2 2-3.5 1-6-.5-13 6-10 3-3 2.5-.5 9-35.5 0-1-3-1-1-2 1-1 3-23.5 0 .5-7-9-1-7 .5-3 1.5 .5 6-27 0-1-6-16.5 1.5-1.5-1.5 1.5-2-2.5-.5-2.5 1-4.5 7.5-3.5 0 5-9 4-2.5 4.5 0 1 1.5-1 1.5 3 .5 22-2.5 37 0 8-2.5 11-1 7 1 2.5 3 6.5 1 17.5-2.5 4-1 3.5-2.5 2 0 2 1.5 12.5-4 11-6-5-10.5-2-2-2.5-.5-5.5 1.5-14 6.5-3.5-1-7-4-7-2-14 4-10 1.5-34.5-.5-24 1-20-2.5-6.5 1-6.5 2-4.5 4-3.5 8-2.5 17-3.5 0 3-17.5 2-5 4-6.5 6-4 11-2 22 2.5 22-1 34.5 .5 10-1.5 17-5 31-12.5 19-4.5 16.5-7 7-1.5 16 1.5 25.5 5.5 9.5-1 18.5-5 2-4.5 1.5-16 1.5-4.5 2-2 2.5 .5 7.5-1 3.5-2.5zM516.5 124l-5 1.5-2.5 20.5-3 4-4 2 10.5 3 4 5.5 3 2.5 22-6 12-2-11.5-8-5.5-8-4-9-2.5-3-8.5-3.5-4.5 .5zM434 150l-5 1-16.5 7-20.5 5-26 11 33.5-4 33-8.5 29.5-5 4 .5-1 6 2 4 11.5 9 2.5 .5 3-1.5 7-5 2.5-3-1-4-4-7.5-13 1-25.5-5.5-10.5-1.5-5 .5zM549.5 159l-5 1.5 6 3 13.5 2 6 6.5 4 2 7.5 0-8.5-6.5-.5-1.5 1.5-1 12.5 7.5 4.5 0 1.5-1-1.5-3-15.5-4.5-10-5.5-16 .5zM531 164l-8.5 2.5 2.5 3 0 2-4 6 .5 1 4.5 .5 8-2.5 7 0-8-8.5-.5-4-1.5 0zM433.5 172l-6.5 1.5-3.5 4.5 18.5-2.5-3-3-5.5-.5zM594 136.5l1.5-.5 1 1.5 9 22 5 4 5.5 2.5 10-6 13-1.5 7.5-5 3-.5 7.5 1.5 17.5 6.5 31.5-9.5 13.5 .5 4.5 3.5 .5 2.5-2.5 4-5 4-13 5-12.5 6.5-17.5 1.5-12.5 4-3 2-6.5 1.5-3 3.5-2.5 6-1 15.5-3.5 0 1-14.5 2.5-7 3-5-2-.5-6.5 3-1.5-1.5 1.5-2 6-2.5 13-1 14-4.5 17.5-1.5 12.5-6.5 12.5-5 4-2.5 1.5-3.5-2.5-2-3-.5-9 0-13.5 3.5-10.5 4.5-8.5 1.5-24-7.5-2.5 .5-7 4.5-11.5 1-6 2.5-3 3.5 1 9 1.5 4.5 6 12 13 12-.5 1.5-1.5 .5-4.5-3-5.5-5.5-6-7.5-5.5-13-1-9.5-4.5-1.5-5.5-3-4.5-4.5-8.5-20 0-4zM698.5 181.5l2.5 0 4 2.5 8 9 2.5 7.5 1 11-3 0-1-10-2.5-7.5-7-7.5-4-2-3 1.5-3 4-2 20.5-.5 1-3 0 2.5-22.5 4-5.5 4.5-2zM449 187l4 .5 3.5 3.5 6.5 20.5-22 0-2.5-3-3 3-4 0 5.5-6.5 2.5 0 4 2.5 3.5-5.5 0-2-2-1-7.5-1-2-1.5-.5-2 3.5-3 10-4.5zM176 187.5l6 .5 7 4.5 4.5 6.5 3.5 12.5-3.5 0-3-11.5-4-5.5-5-3-4-1-5.5 2-4.5 5-8 14-3.5 0 9-16 5.5-5.5 5.5-2.5zM593.5 191l10 0 9 3.5 3 4 1.5 13-3 0-.5-7.5-2.5-6.5-5.5-3-5-.5-9 .5-6.5 3-2.5 4.5-.5 9.5-3 0 .5-10.5 2-4 3.5-3 8-3zM736.5 203l4.5 4 2 4.5-7.5 0 1-8.5z"/>
<path fill="#f61400" d="M.5 0l8.5 0-.5 3.5-2 3-3 2-3.5 1 0-9.5zM17 0l2.5 0 1.5 10.5-4 20.5 8.5 0 6-4 1-3 0-13 2-4 19 4.5 4.5 4 3.5 6-.5 2.5-3 1.5-4-.5-9-3.5-3 .5-4 3-1.5 3 0 7-6 7.5-4 12 8 .5 9.5-2 12.5-11 7-4.5 13.5-6 6.5-1 6 2 3 4.5 .5 3.5-.5 9-2 5-3.5 5.5-11 9-5 2-5 1-6.5 .5-11-2-5 0-16.5 6-27 13.5 0-3 26-13 11.5-4.5 5.5-1.5 5.5-.5 7 1.5 9.5 .5 9.5-2.5 10.5-9 3.5-5 2-7.5-.5-7-2-4-3-1-5 0-9 3-6.5 3.5-19.5 15.5-5 1.5-14 1-3.5 4.5-3 1-5-.5-5.5-2-1-1 5-3.5-2.5-4.5-1-12.5 1-4 3-5 3.5-12 1-8-1.5-10.5zM13.5 48.5l0 3.5 2 1.5 0-2.5-2-2.5zM66.5 0l2.5 0 .5 9 3 10 4 4 4.5 2 2 0 10.5-6.5 9.5-1.5 27 7.5 24.5-1 18-2.5 5 .5 6 4 3 0 7-2.5 2.5-2.5-7.5 .5-5-2-3-2.5-3.5-7.5-1-9 3 0 .5 8 3 6.5 3 2.5 5.5 1.5 4-1 2.5-2.5 2-5.5 1.5-9.5 3 0-1.5 9 5-1.5 5-.5 6.5 3 0-2.5-1.5-7.5 3 0 7 34 7 2 8 1 5 2 0-2-2.5-1.5 3-1.5 0-17-4.5-1.5-1-1 1-5 2.5-6 0-3.5 11.5 0 2.5 11.5 0 4-3 17.5-1 1-1-.5-.5-3 2.5-15-1-.5-5 1.5 .5 24.5-1 2-9-3.5-14.5-2.5-1 .5-1.5 3-8 .5-12.5-2-16-.5-8.5-2 7-4 2.5-3-.5-1-7 .5-4.5 7-8 .5-2-.5-.5-3.5-2.5-3-6-3-30 .5-25-7-8.5 1-7.5 5-6 2-6-2.5-5-5.5-3-10-1-10zM208 10l-4.5 3-1.5 7 .5 7.5 9.5 4 9.5 1 0-8-3.5-11-5.5-3.5-4.5 0zM198.5 23l-3.5 3 4.5 .5 0-3-1-.5zM113.5 0l4 0 8 3.5 3 0 13.5 6.5 6.5 2 2.5-.5 9-5.5 8.5-6 4 0-11.5 8.5-9 5.5-3.5 1-7.5-2.5-12-5.5-7.5-2-6-3-2-2zM185.5 0l8 0-1.5 8.5-4-3.5-2.5-5zM329 0l2.5 0 1 9.5 2.5 4.5 3.5 3.5 4.5 2.5 7 1.5 8-1 6.5-3 4.5-3.5 5.5-6 1.5-3 .5-5 3 0-1 5.5-1.5 3.5-7 8-9.5 5.5-10.5 2-5.5-1-5-2-7.5-6.5-2-5-1.5-10zM343 0l7 0-1 3.5-1.5 2.5-2 .5-1.5-1-1.5-5.5zM419.5 0l2.5 0 1.5 8 3.5 4.5 9 2.5 3.5-.5 4.5-3.5 3-5 0-6 3.5 .5-1 6.5-2 4.5-7 5.5-5.5 1-7-2-4.5-3.5-2.5-3.5-2-9zM463.5 0l2.5 0 1.5 5 3.5 4 6.5 2 31.5-5 6.5-6 3 0-6 8-34.5 6-5.5-1-4-2.5-4-5-1.5-5.5zM548.5 0l24 0 1 3.5 2 2 13 3.5 9 6.5 2.5 1 4-1 35.5-13.5 2 1 3.5-.5 19.5-2 2 1.5-.5 1-4.5 .5-20 2.5-4-.5-39.5 15-8.5 3.5-5 3.5-19 15-2 3-2 7.5-2.5-1-4.5 6.5-4 13-1 9.5 .5 11 1 3.5 4-1 10-6 3 5 2.5 9 0 3.5-2.5 2.5-7.5 1.5-.5 1.5-8.5-3-2.5-2.5-2-4 1-5.5-1.5-15.5 1-12-2-5.5 1-2 3.5-.5 4.5-8 2-4.5-.5-5 2-7 2.5-4.5 5.5-5.5 .5-2.5-1-2.5-2.5-2.5-10-5.5-3-2.5-1.5-3.5-.5-7.5zM680 0l3 0-9.5 10-10.5 16-8.5 10.5-12.5 8.5-2 2.5-17.5 4.5-9 5 5 2 4.5 6 .5 8-1 4-1.5 2.5-3 1.5-3 0-5.5-8 0-1.5 1.5-.5 4.5 7 1.5 .5 3-2.5 1-4-.5-5.5-2-3.5-3.5-2.5-3 0-3.5 2.5-6.5 12-9 11 0 1 8.5 3.5 3 2.5 5 11 2 1-2.5 11.5-2 6 0 4.5 4 15.5 7 16.5 0 1.5-1.5 .5-8-17.5-3.5-12-1-9.5 2-7-5 4-12 3-1.5-.5 0-1 1.5-1 13.5-4.5 4-10-1.5-5-3.5-6-12-5-1-2 12.5-23 5.5-6 15-8.5 17-4.5 1.5-2 8.5-5.5 6-5 16.5-24 9-8.5zM603.5 65.5l-5.5 10 5-7 .5-3.5zM607 111l0 1.5 0-2zM737.5 0l2.5 0 1.5 11 2.5 6 1.5 1 3-1 2-3 1.5-8.5-1.5-5.5 16 0 0 36-10-1-3.5-3.5 0-6 4.5-13.5-1.5-5-.5-.5-1 1.5-1.5 7-1 2.5-3.5 2.5-4 .5-2.5-2-3-6.5-2-12zM283.5 2l11 .5 10.5 3 8.5 5 3 4.5 0 5-2 5.5-5.5 4-6 1-3-1-3.5 8.5 3.5 13.5-1 17.5 .5 13.5 4 .5 4-1 9.5 0 7-2 2.5-6.5 1.5-18.5 1-2 1.5 0 3 4 4.5 14.5 4.5 8.5 6 3 14 2.5 7.5 2.5 8 9 3 6 .5 3-2 0-5-9.5-5.5-6-7-2.5-14.5-2.5-6.5-3-5.5-10-4.5-14-1 2-1.5 16.5-1.5 3.5-3 2.5-6 1.5-10 .5-5.5 1-6.5 5-12 3-9.5-1-17-3.5-10 2-6 4-5 10.5-1.5 .5-.5-2 4-9.5 2.5-3 5.5-3 7.5-1.5 2.5-1 26 5 9.5-2 6-3 .5-1-2.5-4 1-29.5-2.5-9-5 8.5-8.5 9-9 6-14 6.5-1.5 1.5-9-3-11.5-2-6.5 .5-6 2-2.5 2.5-2.5 8-3.5 5-4 4-3.5 1.5-4.5 0-5-3.5-1.5-7-1-8.5-1.5-5-3.5-3.5-5-.5-4.5 3-3 6.5-.5 20.5 .5 11-1.5 .5-1.5-3-7.5-.5-9 .5-3.5 1.5-3 14.5-3.5 37 2 8.5 2.5 2 4.5 1.5 7 0 20.5-6 11-2 15.5-4.5 9-1.5 7-2 9-5.5 6-8.5 2-9 3-9.5-.5-4-5.5-10-.5-4 1-1 6-1 28 2 17 2 10 3 9 0 17.5-3 2 0 3.5 4 10.5-3.5 1.5 0 .5 1.5-9 4.5 4 4 1 3-1.5 2.5-3.5 1.5-7 .5-6-4-3.5-1-10 3.5-10.5 .5-5.5 3-1.5 2 .5 2.5 6.5 10.5 1 4.5-.5 2-5 2.5 1.5 4.5 0 2.5-2.5 5.5-2.5 2-3.5 1-4-1-3.5-3.5-.5-5 3-7.5-2-13-5.5 2-8-.5-5.5-4-3-4.5-3 2.5-1.5 4 .5 2.5-5.5 6-2 8.5-1 1-13 .5-14 5.5-9 1.5-15.5 4.5-11 2-20.5 6-8.5 0-5-1.5-2.5-1.5-2.5-4-1.5-8 4-37.5 2.5-12-1-.5-4 .5-1-1.5 11.5-4 17.5-.5 .5-27 2.5-6 5.5-5 6 0 2.5 .5 2 2 4 7.5 1 9 1.5 6.5 2.5 2 3 .5 4-1.5 2-2 4-5.5 3-8.5 4-4 8-2 5.5-.5 12 2.5 6 2.5 16-7 8.5-6 5.5-5.5 4.5-6 8.5-19-6-7-15.5-2-4.5-2.5 0-3.5 2-5 5-4 4.5-2zM284.5 4.5l-5 2-3 2.5-2.5 5 .5 1.5 5 1.5 12.5 1.5 6.5 6 5 3 6-1 2.5-2.5 2-4.5 0-3.5-4-5-6-3-10-3-9.5-.5zM260.5 104l1.5 2.5 3 2 11.5 2 2-1.5 0-3-3.5-1.5-14.5-.5zM283 120l-1 1.5 3.5 5 1-4.5-1.5-2-2 0zM279 125l-4.5 1.5-8.5 0-.5 1 1.5 2.5 3 2.5 6.5 .5 2.5-1 2.5-3.5-.5-2.5-2-1zM289 149l-2.5 1.5-2 5.5 1.5 3.5 4 1 4-1.5 2-5.5-1.5-4-5.5-.5zM525 11.5l5.5 .5 3 2.5-.5 2.5-7.5 7.5-1 2.5 10.5 12 5 13 .5 3.5-.5 2-6 1-5-2-1-4 3-8-2-2-3-.5-3 .5-2.5 2-6.5 7-2.5 5.5-3 1-10-1-4-2-4-3.5-2.5-6-4-1-3-2-10.5-15-3-1-1.5 4.5 0 4.5 4.5 20-.5 12.5-1 5-3.5 8-7 4.5-2.5 .5-.5-1.5 7.5-5 2.5-5 2.5-10.5 0-6.5-5-21 1-10.5-5.5-5.5-3-6 1-.5 1 .5 5.5 7.5 2 1 2.5-1.5 2 2.5 6.5-3.5 5.5-1 14.5-4.5 16.5-1 1 1-1 1-15.5 1.5-10.5 4 8.5 5 3.5 4 9.5 0 3.5 1.5 3 4.5 3.5-3 4.5-6.5-5.5-8.5-.5-3.5 2.5-2.5 5.5-1zM503.5 33l-3.5 1.5 2 3.5 3.5 1 5-1-.5-3.5-2.5-1.5-3.5 0zM496.5 43l-4 1-1 2.5 3.5 5.5 7 3 8-.5 0-2.5-4.5-2.5-5.5-6-3.5-.5zM702.5 12.5l8 .5 5 2.5 5.5 4.5 11 18 4.5 10.5 3 10.5 0 4.5-2 4.5-4 2.5 1.5 4-.5 5.5-.5 2-5 4.5-8.5 3.5-5 1-3.5-1-5-4 3 10 4 7.5 3.5-6.5 4-4 6-1.5 5 .5 7 5 3 7.5-.5 1.5-1.5 .5-3-8-5.5-4-3.5-.5-6 1.5-2.5 2.5-4 8.5-2.5 .5-2.5 7.5-6 8.5 12.5 4 1.5 2.5 10-1.5 4.5 2 3.5 4 6.5 11 4.5 2 4.5 .5 3-3.5 11-2.5 0 23.5-6-1-4.5-2-3.5-5-.5-6-8-2.5-3-2-2 6.5-3.5 5.5-3 7.5-.5 4 1.5 10 2.5 5 4 5 1 0 3.5-9 2.5-1.5 4.5 2.5 7 9.5 8 1 0 19-4.5 0-1-4.5-3.5-7-2-2-3-1-4 1 3 6 1.5 7.5-3 0-2-9-3-3.5-4.5-2-9.5-16-1.5-10.5 .5-5 3-8 3.5-5.5 1-5-.5-5-2.5-7-2-2.5-3.5-1.5-3.5 0-8 1.5-13 5-15 3-11 1.5-19 0-1.5-1 .5-2 13.5-13 6.5-4 6.5-2-6.5-10-1-4.5 .5-1 2.5 1 3.5 9 5.5 6 11.5 1.5 3-2.5 5.5-8 1.5-7-8.5-22.5-.5-10.5 1.5-5.5 4.5-9 6.5-7 1.5 .5 0 1-5.5 6.5-1.5 4 5.5-1.5 6.5 .5 .5-7 2.5-3 5-1.5 5.5 1.5-7.5-16.5-8.5-13-3.5-3-5.5-3-5.5-.5-4.5 2-3 3-3.5 6.5-2.5 12-.5 10.5-2.5 6.5-3.5 4-6.5 3.5-18 2.5-20 16-2 10.5-1 12-1 2.5-1.5-.5 1-15 4-19.5 1-.5 1 .5-.5 5 .5 .5 17.5-14 18-2.5 6.5-3.5 3-4 1-5 1-14.5-2-3.5 0-2 3.5-2.5 8-10.5 4.5-2.5zM728.5 52.5l-3.5 1-1 1.5 .5 7 5 4.5 3 .5 2-.5 2.5-4.5-.5-3.5-3-4-5-2zM715 63l-8.5 3-1.5 6 0 8 6 6.5 5 1.5 7-1.5 5-2.5 4-4 0-4.5-.5-2.5-3.5-4-5.5-4-5-2-2.5 0zM686 123l-6.5 1.5-6 4-10.5 10.5 15 0 17-2 8.5-2 12-5-11-4-8 0-10.5-3zM403.5 17.5l7.5 0 3.5 2 5.5 6 17.5-5 2 .5-6 27 0 13 1 7.5 5.5-1-4 7.5 1 4.5 5 7-.5 2-1 0-3.5-3.5-4-7-20 14.5-6.5 1-2.5-.5-1-1.5 2-10 26.5-11.5-.5-23 5-22-.5-1-16 5-5.5 15-5 7.5-5 5-8.5 4.5-11.5 3-10-8-5.5-2.5-8-1-4 2.5-3 8-.5 2.5 1 3 2.5 3.5 6 6 8 5.5 .5 1.5-.5 1-9-5-9-10-2-5 .5-4.5 2.5-7 5.5-4.5 5 0 9.5 2.5 11 8.5 10.5-2.5 6.5-3.5 4.5-4 5-7 2-5.5-6.5 1.5-9.5-1.5-4-3.5-1.5-5 .5-3.5 3-5 3-2.5 5-1.5zM404.5 20l-6 2-2.5 3-2 4.5 1 3.5 2 2.5 3 1 6 .5 5-1 4.5-4.5 1-5.5-3-3.5-3.5-2.5-5.5 0zM706 33.5l4 0 3.5 4 1.5 5-2 4-3.5 2-4 .5-7-1-4.5-2-1-3.5 1-3.5 12-5.5zM131 40l5 0 6 2 7.5 6 2.5 3.5 0 3-1 2.5-9.5 8.5 3 11 1.5 7-.5 11-2 10-1.5 2-1.5-1.5 2.5-11.5 0-9.5-1-7-2.5-7.5-10.5 21-1 .5-1-1 6.5-14 3.5-9.5-6.5-3-2-5-.5-13 3-5.5zM132 42.5l-1.5 4.5 0 7.5 1 6 1.5 1.5 3 1 5.5-1 7.5-6.5 .5-3.5-8.5-7.5-3-1.5-5.5-.5zM651 45l1.5 .5-2.5 4.5-12.5 10.5-5 1-4-3.5 1.5-2 20.5-11zM762.5 51.5l2.5 0 .5 1.5-15 4.5-1.5-.5 .5-1.5 1.5-1 11-3zM765 58.5l1.5 0 0 23.5-11.5 0-2-1.5-1-4-4 12.5 1 16-1 1.5-1 0-2.5-14.5 2-8 2-5.5 2-15 1-.5 1 1 0 12 6-13.5 2.5-2.5 4-1.5zM514.5 64.5l5 0 2.5 1 4.5 4 1.5 3 .5 8-4.5 4-2.5 0-.5-1 5-4-.5-6-2-3-4.5-3.5-7.5 1 0-2 2.5-1.5zM488.5 65l7 .5 2.5 2.5 1.5 3 0 5-1 3-3 4.5-3.5 1-5 0-2.5-1.5-2.5-4-.5-3 0-3 1.5-3 5-5zM489.5 67.5l-3 2-2.5 5.5 .5 3 2 2.5 4.5 1.5 2.5-1 2-2.5 1-6.5-2-4-5-.5zM712 72l4 1 .5 1.5-.5 1.5-2 .5-2.5-1-1-2 1.5-1.5zM81 76l6.5 0 4 3.5 2 5 2.5 19.5 6.5 6 3.5 1.5 3.5 0 3.5-3.5 2.5-13.5 2.5-6 7.5-11 2-1.5 1.5 .5 0 1-6.5 9-4 7.5-2.5 14-3 4.5-3.5 1.5-5.5 0-10.5-8-2.5-21-1.5-4-3.5-2.5-4.5 0-4 3.5-3 10-1 13.5-.5 1-1.5-.5 0-14.5 1.5-5 2.5-6 2-2.5 3-2zM682.5 79l2 0 1 2.5 2.5-.5 2 1 1.5 3-1 3.5-3 1-4-1.5-.5-2.5 1.5-4-5.5 2.5-5.5 6.5-5.5 13.5 .5 .5 4 0 .5 1.5-7.5 3.5-8.5 6.5-16 18.5-1.5 .5-.5-1.5 .5-1.5 13-16 11.5-9 7-17.5 2.5-3.5 4.5-5 4-2zM389 84.5l2 1-1 3-1 1.5-3.5-.5-4.5-1.5 .5-1.5 1.5-1 6-1zM483 96l3 0 3 1.5 1 2.5-1 2.5-4.5 3-8 1-1.5-2.5 .5-2.5 3-3 4.5-2.5zM450.5 99.5l3 .5 2 1.5-1.5 5.5 7.5 1 1 1.5-9.5 1-4.5 2.5-8.5 1.5 1-4-2.5-1-31.5 0-17 1-6 0-1-1.5 1-1 22-1.5 36.5 .5 1.5-.5 4-5.5 2-1.5zM26.5 100l21 1 10 3 1.5 1.5-1.5 1-11-3-18.5-1-4.5 .5-4 2 22.5-1 1.5 1.5-1 1-12 .5-16.5 1.5-14 4 0-3 10-3 2-2 4.5-2 9.5-2.5zM64 104.5l1.5 1-1 3-2.5 2-8.5 4.5-.5 1 4.5 1 3.5 2 11.5 10 5 3.5 5.5 0 8-1.5 10 1 6.5 2 4.5 6.5 1.5 6.5-1 4.5-2.5 5.5-7 5-6.5 3-4.5 5.5-1 14 6.5 27-3 0-5.5-23-1-12.5 1.5-6.5 3-4.5 3-2.5 6.5-3 6-4 2-4.5 .5-4-1-5.5-3.5-5-6-2-7-.5-18 1.5-1 8-3 10.5-2.5 5-5 6.5-1.5 4 .5 26.5-.5 4-4.5 6-4.5 2.5-5-.5-3.5-1.5-8-13.5-5-4.5-8 3.5-4.5 4.5-3.5 7 .5 8-16 0 0-24.5 2.5 0 2-1.5 7-12-11.5-13.5 0-3 3 1.5 6.5 9 3.5 3 5-3 8.5 5 3.5-1.5 6-6.5 3-5 3-9 7-15.5 10.5-13.5-3.5-2-9-1-9.5 9-8.5 6-7 3.5-13.5 4-8.5 1 0-3 11-1 16.5-6.5 9-6.5 9-9 15.5-8 3-3.5zM61 124l-10 12.5-6.5 15-2.5 7.5-3.5 6.5-8 9 4 6.5 1 6.5 5.5 7.5 4.5 8.5 3.5 2 3.5 0 2.5-1 4.5-5.5 .5-4.5-.5-25.5 1.5-4.5 7.5-11 3-11 1.5-9.5-10.5-9-1.5 0zM137.5 104.5l2.5 1.5 1 6-1 6.5-11 21-1.5 1-.5 5.5 0 8.5 2 1 2.5 7.5-.5 5.5-1 5-1.5 .5-1-2.5 1.5-7.5-2-5-3 12.5-7 9-4 9.5 .5 10 4.5 11.5-3 0-4-11-.5-11.5 2.5-7 7.5-10 2.5-6 3-34.5 1-3.5 1.5-.5 .5 1-.5 4 .5 .5 8-14 1-4.5-1-9 .5-1zM225.5 104.5l1.5 0 .5 1.5-4 3-11 6.5-17 6.5 10.5 1.5 .5 1-.5 1-5.5 .5-20.5-2.5-5 2-4 3.5-1.5 3.5 .5 4 3 3.5 6.5 2 9 1 11-.5 13 3 11-1 14-4.5 2 1-.5 1.5-15 4.5-12 1.5-13.5-3-11 .5-9-1.5-7.5-2.5-3-3.5-1-3.5 0-4 1.5-3.5 5.5-4.5 5.5-2 13-1.5 11.5-3.5 8.5-3.5 13-8zM389.5 112l3.5 .5 3 2.5 1.5 4-1 3.5-3.5 5-5 4.5-5.5 3.5-4 0-2.5-2-1.5-4-.5-4 1-4 5.5-6.5 8.5-3zM428 116l3 .5 2 1.5-5 3.5-4 1.5-1-1.5 .5-2 4-3.5zM639.5 117l1 0 .5 1.5-5.5 9.5-2.5 6.5 0 2.5 2.5 5.5 4.5 .5 1 1-1.5 1.5-4 0-2-1-3-5 0-5.5 3.5-8.5 5.5-8.5zM527.5 118.5l11 1.5 3.5 1.5 2.5 2.5 .5 1-1.5 1-10 0 6 12 5.5 8 10.5 6.5 10.5 3 10 5.5 13.5 4 5 3 1 2.5-1 3-2 1.5-3.5 .5-3.5-.5-5-2.5-7-5-.5-1.5 2-.5 6.5 4.5 5.5 2.5 5-.5 .5-1-1-2.5-16-5-9.5-5-15 0-9.5 2.5 8 3.5 13 1.5 6.5 6.5 3.5 2 11 .5 4.5 4.5 4 5.5 0 1.5-4 .5-6 .5-11.5-1-10-4.5-4.5-1-5.5-.5 1.5 2.5-2 1-13-4.5-10 2-10.5-.5-1.5 1-.5 1.5 .5 2 7.5 9.5 4.5 3.5 6.5-6.5 4-2 6-1.5 4 .5 8.5 8.5 6.5 14-3 0-3.5-9-4-6-5.5-5-2.5-.5-8 3-4 3.5-.5 2 1 3-2 9-28 0 .5-5.5 4.5-15 3-6.5-2-2.5-3.5 0-5 4-4 1.5-11 2-9-2.5-11.5-1-10.5-4.5-11-2.5-8.5 .5-10.5 2-3 2-2 4.5-2 2-7 0-14 6.5-10.5 3.5-3 2.5-.5 9-32.5 0 0-5-4-1-3.5 1-1.5 5-21.5 0 1-7-7-1-6.5 0-7 1.5-.5 1 .5 5.5-25 0-.5-5.5-1-1-16.5 1.5-1.5-.5 1.5-2 18-2 17-1 7.5 1 7-1.5 13.5 .5 4.5-2 8-1.5 11 1 1 3.5 9.5 1.5 21.5-4 3.5-1 1-1.5 3 1.5 16-6 8.5-4.5-5.5-11.5-3.5-3.5-21 8.5-15.5-6-16 4-10 2-34.5-.5-24.5 1-19.5-2.5-7 1-6.5 2-4 4-3.5 8-3 17-3 0 3.5-17.5 1.5-5 4-6 6-4 11-2.5 22 2.5 22-1 34.5 .5 10-1.5 17-5 31-12 19-5 16.5-6.5 7-1.5 16 1.5 25.5 5 9.5-1 11.5-2.5 7.5-3 1.5-4 2.5-18.5 2-3.5 12-.5 4-2zM518 123.5l-6.5 1.5-3 21-2.5 4-4.5 2 10 3 4 7 3.5 1.5 23-6 12-2-12-8.5-5-8-4.5-9.5-2.5-2.5-8-3.5-4 0zM435.5 149.5l-6.5 1.5-16.5 6.5-20.5 5.5-26 10-2 1.5 35.5-4 33.5-9 29-5 3 1-1 5 1.5 4 13 11 7-2.5 7-5 2-2.5-.5-3.5-5-9-13.5 1-25.5-5-14.5-1.5zM534.5 162.5l-13.5 4 1.5 5.5-3 6 2.5 1 4 0 8-2.5 3.5 0 7 1.5-9-11.5 .5-4-1.5 0zM431.5 171l-5.5 2-3.5 5.5 21.5-3-4.5-4.5-7.5 0zM218.5 123l3 0 2.5 1.5 3 5.5-1 4.5-4 3-4.5-.5-5-3.5 2-7.5 4-3zM314 126l3.5-.5 4.5 1.5 6 7 6.5-3 7-1 13 1.5 2.5-1.5 1.5 1.5 3 7 0 5-4 5-5.5 3-6.5 1.5-9-.5-3.5-1-4-2-3.5-3.5-9.5-2.5-6.5-4-1-3 .5-3.5 2-4.5 3-2.5zM342 132.5l-6.5 1-5 2.5 0 1 3 5-.5 2-2.5 1.5 1 2 6 2.5 8 0 7-2 4.5-3 1-4-3.5-5.5-7-2.5-5.5-.5zM197.5 129.5l3-.5 5.5 2 5 2.5 0 1.5-4.5 4.5-3 1-3-.5-3-2-2-3 .5-3.5 1.5-2zM594.5 136.5l2 1 9 22 5 4 5.5 2.5 10-5.5 13.5-2 7-4.5 3-.5 7.5 1.5 17.5 6 31.5-9.5 13.5 1 4.5 3 0 2.5-2 4-5 3.5-13 5-12.5 6.5-18 2-12.5 4-2.5 1.5-6.5 1.5-3 3.5-2.5 6.5-1.5 15.5-3 0 2-16.5 2-6 3-4-2.5-.5-6.5 2.5-1-1 1.5-2 5.5-2 13.5-1.5 13.5-4 17.5-2 12.5-6.5 13-5 3.5-2.5 2-3.5-2.5-2-3.5-.5-9 0-13.5 3.5-10.5 4-8.5 2-24-8-2.5 .5-7 4.5-11.5 1.5-6 2.5-2.5 2-.5 1.5 1 9 1.5 4.5 6 12 4.5 5 8 7 0 1-1.5 .5-4.5-3-5.5-5-5.5-7.5-5.5-13-1.5-10-4.5-1-5.5-3.5-4-4-8.5-20-.5-2.5 .5-1.5zM697.5 182l3.5 0 3.5 2 8 9 2.5 7.5 1.5 11-3 0-1-10-2.5-7.5-7-8-4-1.5-3 1-3 4.5-2.5 20 0 1.5-3 0 2.5-21 4-6.5 3-2zM175 188l7 .5 6.5 4 4.5 6.5 4 12.5-3 0-3.5-11.5-3.5-5.5-5.5-3.5-4-.5-3.5 .5-3 2.5-4 4-7.5 14-3 0 8.5-16 5.5-5.5 4-2zM447.5 189.5l4 0 3 2.5 7 19.5-20 0-3-3.5-3.5 3.5-3 0 5.5-6 2 0 5 3.5 5.5-7 .5-2.5-1.5-2-3.5-1.5-5.5-.5-.5-1 8-5zM592.5 191.5l11 0 9 3 2.5 4.5 2 12.5-3 0-.5-7.5-2.5-7-5.5-2.5-5-.5-9.5 .5-6 3-2.5 4.5-.5 9.5-3 0 1-10.5 1.5-3.5 3-3 7.5-3zM251.5 200.5l4.5 0 1 1.5-6 1.5-4.5 8-3 0 4.5-8.5 3-2.5zM545.5 202.5l1.5 .5 1.5 2-.5 6.5-2 0-2-7 1.5-2zM736.5 206.5l2.5 2.5 1 2.5-4 0 .5-5z"/>
<path fill="#ed0000" d="M.5 0l8 0-2.5 6-2.5 2-3.5 .5 0-8.5zM17 0l2 0 1.5 10.5-1 9-3 12.5 8.5 .5 7-1.5 2 2-5 10-4 11 .5 1 9 .5 10-2.5 12-10.5 7.5-5 13.5-6 6-1 6 2 3 5 .5 3-1 10-5.5 9.5-10.5 9-5.5 2-11 1-11-2-5 0-16.5 6.5-27 13.5 0-2.5 26-13 12-5 5-1.5 5.5 0 7 1.5 9.5 .5 9.5-3 10.5-8.5 3.5-5.5 2.5-7-.5-7.5-2.5-4-3-1.5-5.5 0-9 3.5-6 3-7 5-12.5 11-5 1.5-16 1-2.5 4.5-2.5 1-4.5-.5-5-2 0-1 5-3-3-2.5-1-2.5-.5-12 7.5-21.5 .5-8-1-10.5zM13 47l0 5.5 4 2 .5-3-4-4.5zM66.5 0l2 0 .5 9.5 3 9.5 4 4 5 2.5 2 0 10.5-7 9.5-1 27 7.5 24.5-1 18-3 6.5 1.5 2.5 1.5 .5 1.5 4.5 .5 8-3 2.5-3-8 1-6-2.5-3-3-2.5-5.5-1-10 2 0 .5 8 3.5 7 3 2.5 5.5 1.5 4-1 3-3 2-5.5 1.5-9.5 2 0-1 9.5 5-2 5 0 7 3.5-2-11 2.5 0 2.5 14 5 17.5 0 2.5 4 2 10.5 1 6 2.5 .5-22.5-5-2.5 .5-4.5 2.5-5 0-5 10 0 2.5 9 .5 6.5-2.5 17.5-1 1-1-1 0-2.5 2-15.5-6.5 1.5 0 26.5-1.5 0-7.5-4-8-.5-8.5-2-1.5 4-6.5 .5-13-2.5-15.5 0-5-1.5 5-4.5 2-4.5-10 .5-4 4-5 2-2-1-5.5-5-5-2.5-31 1-26.5-7.5-7.5 1.5-7 5-6 2-6-3-5-5.5-3-9.5-.5-10zM207 10l-4 3-1.5 6.5 .5 8 4.5 2 4 3 11.5 .5 0-9-3.5-10.5-6-4-5 .5zM199.5 17l-1.5 1.5 1.5-1.5zM198.5 22.5l-4.5 3.5 5.5 1 .5-3.5-1-1.5-.5 .5zM114 0l3 0 8 4 3.5-.5 13.5 7 6.5 2 2.5-.5 9-5.5 9-6.5 3.5 0-20.5 14-3.5 .5-7-2-12-6-8-1.5-8-5zM186 0l6.5 0-1.5 7-3.5-3-2-4zM329 0l2 0 1 9.5 3 5 3 3 5.5 3 6.5 1.5 9.5-1.5 9.5-6 6-6.5 1.5-3 .5-5 2 0-.5 5.5-1.5 3-7 8-9.5 6-10.5 1.5-5-.5-5.5-2.5-7-6-2.5-5-1-10zM344.5 0l3.5 0-1 3-2 0-1-3zM419.5 0l2 0 2 8.5 3 3.5 9 3.5 4.5-1 5-4 2.5-4.5 0-6 2.5 0 0 3.5-1.5 5.5-4 5-4.5 3-5.5 .5-6.5-2-4.5-3-2.5-3.5-1.5-9zM463.5 0l2 0 1.5 5 3.5 4 3 2 4 .5 31.5-5 2-1 5-5.5 2.5 0-6.5 8-34.5 5.5-5-.5-4-2.5-3.5-5-1.5-5.5zM549 0l22.5 0 .5 3.5 2 2.5 14.5 3.5 10.5 7.5 40.5-15 2 1 21-2 3 0 1 1-1 1-23.5 2.5-4-.5-40 15-8.5 4-5 3-19.5 15.5-10.5 15.5-4 12.5-1.5 10.5 .5 11 1.5 4.5 14-7 1.5 1 2 5 2 8-.5 3-2 1.5-9 2.5-5-1.5-4.5-3.5-2.5-18.5 1-17 1.5-6.5 10-18.5-1-4 1.5-5.5 2.5-3.5 6-5 .5-2.5-1-3-2.5-3-10.5-5-3.5-3-2-4-.5-6.5zM680.5 0l2.5 0-9.5 9.5-7 9.5-3.5 7-8.5 10-13 9-1.5 2-17.5 4.5-9.5 5.5 5.5 2.5 4.5 6 .5 7.5-1 4-2 2.5-2.5 1.5-3 0-5.5-8 0-1.5 1.5-.5 4.5 7.5 1.5 .5 3-2.5 1.5-4.5-.5-6-2.5-3.5-3.5-2.5-3.5 0-3.5 3-6 12-9.5 11.5 10 5 2.5 3 4 9.5 2.5 1.5-5 16.5 0 5 4 15.5 7.5 16.5 0 1.5-1.5 .5-8-17.5-3.5-12-.5-10 3.5-12.5-1.5 1.5-1 5-2.5 2.5-14 4-1.5-.5 1.5-2 13.5-4 4-10.5-1.5-5.5-3.5-6-12-5-1-1.5 12.5-23 6-6 14.5-8.5 17-4.5 1.5-2 8.5-5 6.5-5.5 16.5-24 9-8.5zM603.5 64.5l-6 10-.5 2.5 6-7.5 1.5-4.5-.5-.5zM737.5 0l2 0 1.5 11 3 6 1.5 1 3.5-1 2-3 1.5-14 14 0 0 35.5-9-1.5-3.5-3.5 0-6.5 5-12.5-.5-3-2-3-1.5-1-3 12.5-3 2.5-4 1-3-2-3-6.5-1.5-12zM284.5 2l10 .5 10.5 3 8.5 5 3 4.5 0 5-2.5 5.5-3.5 3.5-4 1-4 0-2.5-1-4 9 3.5 13.5-1 17.5 0 12 1 2 17.5-.5 7.5-2.5 2.5-6.5 1-18.5 2.5-2 3 4 4 14.5 4.5 8.5 6.5 3.5 14 2 7.5 2.5 8 9 3 6.5 .5 2.5-2 0-4.5-9.5-6-6.5-7-2.5-14-2-6.5-3-6-10-5-15.5-1 3.5-.5 14-2 5.5-2.5 2.5-6.5 2-10 0-5.5 1-7 5.5-11.5 3-9.5-1-17-3.5-10 1.5-6.5 4.5-4.5 10-1.5 1 0-3 3.5-8.5 2.5-3 6-3 7.5-1 2-1.5 26.5 5.5 9-2 6-3.5 .5-1-2-4 1-29.5-3-9.5-5.5 9-8 8.5-9.5 6.5-14 6.5-1.5 1.5-8.5-3.5-11.5-2-7 .5-5.5 2-2.5 3-4.5 11-5 5.5-4 2-4.5 0-4.5-3.5-2-7-.5-9-2-5-3.5-3.5-5-.5-5 3.5-3 6-.5 21 1 11-2 0-1-3-7.5-.5-9.5 .5-3.5 2-3 14.5-3.5 37 1 6.5 1.5 2.5 7 3.5 7.5 0 20.5-6.5 10.5-1.5 15.5-5 9-1 6.5-2 7-3.5 15-11 .5-1-2-.5-1-1.5-.5-4.5 4.5-12-7-12-1-5 .5-1 6.5-.5 36.5 2.5 7 1 10 3 9 0 17.5-3 4.5 4.5 11.5-4 2 1-10.5 5.5 3.5 3.5 1 2.5-1 2-3 1.5-5 .5-6-4.5-4-1-10.5 3.5-10 0-9 2.5-3-1.5-4.5-5-4.5-9.5-6-1.5-16-.5 1 3.5 2 2.5 11 2.5 5 3.5 1.5 4.5 3 3 2 3.5-1 4-3.5 4.5-7.5 .5-3.5-1-5.5-4.5-1-2.5 0-3-4-.5-2 2-2.5 8 2 0 1 1.5-9 8 0 6-1.5 1.5-10.5 0-15 6-9 1-15.5 5-10.5 1.5-20.5 6.5-8.5 0-7.5-3.5-2.5-4-1-7.5 3.5-37.5 2.5-12.5-.5-.5-4.5 1-1-1.5 11.5-4 18-.5 0-27 2.5-6 5.5-4.5 6-.5 2.5 .5 2 2 4 8 .5 8.5 1.5 6.5 3.5 2.5 3 .5 3.5-1.5 2.5-2.5 3.5-5.5 3-8.5 4.5-4 7.5-2 5.5 0 11.5 2 6.5 2.5 16.5-7 8.5-6 5.5-5.5 4.5-6 8.5-19-6.5-7-15.5-2-4.5-2.5 0-3 2.5-5.5 4.5-4 5.5-2zM283.5 4.5l-4 1.5-3.5 3-2.5 5 .5 1.5 5.5 2 12.5 1 6.5 6.5 4.5 3 6.5-1 2.5-2.5 2.5-5 0-3.5-4-5-6.5-3.5-10-3-10 0zM277 123.5l-4 2-7 0-1 2 1.5 2.5 4 3 3.5 .5 4.5-.5 2-2 1.5-4-1.5-2.5-3-1zM36 9.5l2.5 0 6.5 3 6 0 3 .5 5 5.5 .5 4-1.5 1-3 .5-10-4.5-9.5 3-1.5-2.5 0-4.5 .5-4 1.5-2zM703.5 12.5l7.5 1 4.5 2 5.5 5 11 18 4.5 10.5 3 10.5 0 4-2 4.5-4.5 2 1.5 4 0 6.5-5 5.5-7.5 3.5-6.5 1-5-1.5-4-3.5 3.5 11 4 7.5 3.5-7 4-4 6-1.5 4.5 .5 7 4.5 2 3.5 1 4.5-.5 2-1.5-.5-2.5-7.5-5.5-4-3.5-1-6 1.5-3 3-3.5 8-2.5 .5-3 8-6 8.5 12.5 4 2 3 9.5-1.5 4.5 1.5 4 4 6 11 5 2.5 6 0 3-3.5 9.5-2 0 22.5-5.5-1-4-2-3.5-4.5-.5-6.5-9-2-4-3.5-.5 6.5-4.5 7-3 7.5 0 4 1 10 2.5 5 5 6 1 .5 3-9 3-1.5 4 2.5 6.5 9 8.5 .5 0 18.5-3.5 0-1-4-4.5-9.5-1.5-2-2-.5-6.5 1.5 4 7.5 1 7-2 0-2-9-10.5-10.5-7-11-1.5-11 .5-4.5 3-8 3.5-5 1-5-.5-7-2-5.5-2.5-3-3.5-1.5-4 0-7.5 1.5-13.5 5.5-14.5 3-10.5 1-18.5 0-2.5-1 14.5-14.5 6-4 6.5-1.5-6.5-11-.5-4.5 2.5 1 3 8.5 5.5 6.5 12 1.5 3.5-3 5-7.5 1.5-7.5-8.5-22.5 0-10.5 1-5.5 4.5-9 6.5-7 1 .5 .5 1-5.5 6-2.5 5 7-2 6 1 .5-7 2.5-3.5 5-1 6 1.5-5.5-13.5-12-18-7.5-4.5-4-1-2.5 0-4 2-3 3-4 7-2.5 12-.5 10.5-2 6.5-3.5 4-6.5 3.5-8 1.5-10 .5-3 2-9.5 9-7.5 5-2.5 11-.5 12-1 2.5-1.5-1 1-14.5 4-19.5 1-.5 1 1-1 4.5 1 1 17.5-14.5 18-2 7-4 3.5-6 3-25 7.5-11 5.5-2.5zM727.5 52.5l-2.5 1-1.5 1.5 0 5 1 3 5.5 4 3 .5 2-.5 2.5-5-1-4-3-4-5.5-1.5zM714 63l-8 3-1.5 6 0 9 2.5 1 3.5 4.5 2 1 3.5 1 4-.5 8-3.5 3.5-3.5 1-2 0-4.5-2.5-4-7-5.5-5.5-2.5-3 .5zM685 123l-5.5 1-6.5 4.5-10.5 10.5 16 .5 16.5-2 8.5-2 13-5.5-2-1.5-10-3-8 .5-8-3-3.5 0zM524.5 13.5l5 0 1.5 2.5-2.5 3.5-4.5 2.5-3-1.5-1.5-3.5 1-2 3.5-1.5zM505.5 14l6.5 0 1 1-1 1-15.5 1-11.5 5 8 5 4 4.5 10.5-1 3.5 1.5 3.5 6.5 7.5-6.5 2-1 5 3.5 2 4-8 2-3 1.5-6 7.5-2.5 7.5-10.5 .5-6-2.5-4-3.5-2.5-4.5 .5-3.5-4-.5-3.5-2.5-7-9-2-4.5-5.5-.5-1.5 4.5 0 4.5 5 20-.5 12.5-1 5-3.5 7.5-7.5 5-2 .5 0-2 7.5-5 2-4 3-11 0-6.5-5-21 1-10.5-6-5.5-2.5-6 1.5 0 5 7.5 2.5 1 2.5-1.5 1 2.5 1 0 26.5-9 9-1zM502.5 33l-4.5 2-.5 4-4.5 3.5-2 4.5 3.5 5 4.5 2.5 10 1 1.5-2 0-3-4.5-2.5-2-4.5 1.5-2 5.5-2 0-4.5-3.5-2.5-4.5 .5zM404.5 17.5l6.5 .5 3.5 2 5.5 6 18-5.5 1.5 .5-6.5 27 0 13 1 7.5 2 1-1 3 1.5 7 5.5 7-.5 2-1 0-3.5-4-4.5-8.5-19 15.5-6 .5-1.5-1-.5-2 0-7 .5-1 26-11-1-22.5 5-23.5-16.5 4.5-3 5.5 .5 2.5-3.5 7.5-4.5 7.5-5 5-8.5 4.5-11.5 3-10-8.5-5.5-2.5-8-1-4 2.5-3.5 8 0 3 1 3 2 3.5 6 6 8.5 6 0 1.5-9-5-9-10-2-4.5 .5-4.5 2.5-7 5.5-4.5 5 0 9.5 2.5 11 9 10.5-3 6.5-3 5-4.5 4.5-7 2.5-6.5-6.5 2-9.5-1-4.5-3.5-1.5-5.5 1.5-5 4-4.5 7-2.5zM403.5 20l-5 1.5-3 3.5-1.5 4.5 1 4 2 2.5 3 1 6.5 .5 4.5-1 5-5 1-5.5-3.5-4-3.5-2-6 0zM707.5 34.5l3.5 1 2.5 3.5 0 4-1.5 3-3 1.5-4 .5-5.5-1-3.5-2-1-2.5 1.5-2.5 11-5.5zM132 40l6.5 .5 3 1.5 8 6 2.5 3.5 0 3-1 2.5-10 8.5 3.5 11 1 7 0 11-2 9.5-1.5 2.5-1-1.5 2.5-11.5 0-9.5-1-7-3-8-10.5 21-1 1-1-1 6.5-13.5 4-10-7-3-2-5-.5-13 1.5-4 2-1.5zM131.5 42.5l-1.5 4.5 0 7.5 1.5 6 1 1.5 3 1.5 6-1 7.5-7 1-3.5-6-6-3-2-3-1.5-6 0zM651 45.5l-1.5 3-5.5 3.5-7 7.5-4 .5-3.5-2 1-2 20-10.5zM533.5 48.5l2.5 .5 2 3 0 3-2 2-3.5 0-2.5-2.5 .5-3.5 2.5-2.5zM763.5 51.5l2 .5-.5 1.5-7.5 1-7 3-1-.5 .5-2 3.5-1.5 9.5-2zM765.5 59l1 0 0 22.5-10.5-.5-2-1.5-.5-2.5 2.5-8.5 3.5-6.5 5.5-3zM751 63l1.5 1-.5 8.5-1 7-3.5 9.5 1 15.5-1 2-1-1-1.5-13.5 1.5-7.5 2.5-5.5 1.5-15.5zM515.5 64.5l4 0 2.5 1 4 4 2 3.5 .5 7-5 4.5-1.5 0-1-1 5.5-4-1-6-1.5-3-4.5-3.5-8 .5 0-1.5 3.5-1.5zM489.5 65l6 .5 2.5 2.5 1 3-1 8-2.5 4-3.5 1.5-5-.5-2.5-1.5-2.5-3.5-.5-3 0-3 2.5-4.5 5-3.5zM489 67.5l-3 2-2.5 5.5 .5 3 2.5 3 4.5 1.5 2.5-1 2.5-3 1-6.5-2.5-4.5-5.5 0zM82 76l5 0 4.5 3.5 2 5 2 19.5 6.5 6 4 2 4-.5 3.5-3.5 2.5-15 4-7.5 5.5-7.5 2-2 1 .5-10.5 17.5-2 13.5-3 4.5-3.5 2-5 0-11-8-2-21-2-4-3.5-3-4.5 .5-4 3.5-3.5 10-.5 13.5-1 1-1-.5 .5-14.5 1.5-6 4-7.5 4-2zM683.5 79l1.5 1.5-6 3-5.5 6.5-4.5 10-1.5 5 4.5-.5 1 1.5-7.5 3-10.5 8-14 17.5-1.5 .5 0-3 13.5-16 11.5-9 0-2 6.5-15 3-4.5 4.5-4.5 4.5-2zM686.5 83l1.5-.5 1.5 1.5 .5 2-1.5 2-2 0-1.5-1.5 0-2 1.5-1.5zM386.5 85l3 .5-2 2.5-2.5 .5-3-1.5 1-1 3.5-1zM483 98.5l4 .5 .5 1.5-.5 2-3 2.5-5.5 .5-1-1.5 .5-2 4.5-3.5zM27.5 100l20 1 10 3 1.5 1.5-1.5 1-11-3.5-18.5-1-4.5 .5-6 2.5 24.5-.5 1.5 1-1.5 1-12 0-16 1.5-5.5 1-8.5 3.5 0-2.5 10.5-3.5 2-2 4.5-2 10-2.5zM450 102l2 0 1 1 0 4.5 8.5 .5 1 1.5-10.5 1-3 2-6 1-1-.5 .5-3-4-1-31.5 0-17 1-6 0-1-1 1.5-1 21.5-1 37 .5 2.5-1 4.5-4.5zM64 104.5l1 .5 .5 1-2.5 3.5-10 5.5-.5 1 4.5 1 4 2 16 13.5 6 .5 8-1.5 10 .5 6.5 2.5 4.5 6.5 1 6-.5 4.5-2.5 5.5-7.5 5-6.5 3-4.5 5-1 6.5 0 8 6.5 27-2 0-6-23-.5-12.5 1-6.5 3-4.5 3-2.5 6.5-2.5 5.5-4 3-5 0-4-1-6-3-4.5-6-2.5-7.5-.5-9.5 1.5-8-.5-1 1-.5 8-3 10.5-2.5 5-5.5 6.5-1.5 4 1 26.5-.5 4-4.5 6-4.5 2-5 0-3.5-1.5-8-14-3.5-4-2-.5-8.5 4-5 5-3.5 6.5 .5 8-14.5 0 0-24 4 0 8-14-5-5-5.5-8-1.5-1 0-2 3 1 6 9 4.5 3.5 5-3 8 5 3.5-1.5 6-6.5 3-5.5 10-24 10.5-14-3-2.5-10-1-9 9.5-8.5 6-7 3.5-13.5 4-8.5 .5 0-2 11-1 6.5-2 10.5-5 8.5-6 9-9.5 15.5-7.5 2.5-3.5zM61 123.5l-10 12.5-7 15.5-2 7.5-3.5 6.5-8.5 9 4 6.5 .5 6 6.5 8 4.5 9 3.5 2 4 0 2.5-1.5 4.5-5.5 .5-4.5-1-25.5 1.5-4 5.5-7 2-4.5 3.5-11 1-10-10.5-9-1.5 0zM137.5 105l2 1 1 6-.5 6-11 21-2 2-.5 13.5 2.5 1 2.5 8-1.5 9.5-1 1-1-1 1.5-9-2.5-6-3 13-7.5 9.5-4 9 .5 10.5 4.5 11.5-2 0-4.5-11-.5-11.5 2.5-7 8-10 2.5-6 2.5-34.5 1-3 1.5-1-.5 5.5 1 1 8-14.5 1.5-5-1-9.5zM225 105l2-.5 .5 1.5-14 8.5-19.5 7.5 11.5 1.5 1 1-.5 1-5 0-21-2.5-5 2-4 3.5-2 4 .5 4 3 3.5 6.5 2.5 9.5 1 11-.5 13 3 11-1 14-4.5 1.5 .5-.5 1.5-14.5 4.5-12 1-13.5-3-11 .5-9-1-7-2.5-3.5-4-1-3 0-4 2-3.5 5.5-4.5 5-2 13-1 11.5-3.5 9-4 12-7.5zM386 113.5l4.5-.5 3 1.5 2 3.5 0 4-2.5 4.5-4.5 4.5-5.5 3-4 .5-2-1.5-2-3 0-7 4.5-6.5 6-3zM639.5 117l1 .5 .5 1-5.5 9.5-3 6.5 0 3 3 5.5 4.5 0 1 1-2 1.5-3.5 0-2-1-3-5.5 0-5 3.5-8 5-8.5zM427 119.5l1.5-.5 .5 1-2.5 1 .5-1.5zM528.5 119.5l9.5 1 3.5 1.5 2.5 2.5-1.5 1-10 .5 12 20 11 6.5 10.5 3 13 7 13.5 4 2.5 3.5-.5 3.5-2.5 1.5-3 .5-7-2.5-6-3.5-3-2.5 0-1 2-.5 11.5 7.5 5 0 1.5-2.5-1.5-2-16-5-9.5-5.5-15 0-32 8.5 1.5 5.5-3 5.5 4 2 4 0 8.5-2.5 4 0 12.5 5 1 1-1 1-13.5-5-10 2.5-5 0-16.5-2.5-2 1-6.5 6-10.5 2-8.5-2.5-13 0-8-3.5-12-3.5-14 1-9.5 3-5 6-6 1-14.5 7-10.5 3.5-3.5 2-.5 9.5-29.5 0 .5-5-7-1.5-5 1-1 5.5-20 0 1-7.5-7-1-7 0-8.5 2 .5 6.5-23.5 0-.5-6.5-18 1.5-1.5-1 2-1.5 24.5-2.5 11.5-.5 6 1.5 7-1.5 15.5 .5 3.5-2.5 8.5-1 8 .5 1 4 14.5 1.5 16.5-4 7.5-1.5 1.5 .5 16.5-6.5 8.5-4.5-5.5-14 .5-2.5 1.5-2 28-7.5 17-2 11-3 4 .5-1.5 4.5 1 3.5 14 13 8.5-3 9-5.5 1.5-2-.5-3-6.5-10.5-8 1.5-6 0-25.5-5.5-14-1.5-7 1.5-17 7-20 5-29.5 12-17 5-10 1.5-35-.5-23.5 1-20.5-2.5-10.5 2-3.5 2-3.5 4-3.5 7.5-3 17-2 0 1.5-10.5 3-11.5 4-6.5 6-4 11-2 22 2.5 22-1 34.5 .5 10-1.5 17-5 30-12 20-5 17-7 6.5-1.5 16 1.5 25.5 5.5 10-1 11-2.5 7.5-3 2-4.5 2-18.5 2-3 13-.5 4-1.5zM517 123.5l-5.5 1.5-3 21-2.5 3.5-5.5 2.5 9.5 3 2.5 5.5 3.5 3.5 10.5-1.5 15.5-5 14-2-13.5-8.5-5.5-8.5-4-9-3-3-8-3.5-5 .5zM434 169.5l-8.5 2-3 4-1 4 12-2.5 12-1-5-6.5-6.5 0zM376 202.5l-2 .5 5.5-.5-3 0zM218.5 125l3 0 2.5 3 .5 3.5-2 3-3-.5-3-3-.5-3.5 2-2.5zM315.5 127.5l6 1 5.5 6.5 6.5-3.5 8-1.5 13 2 3 2 2.5 2.5 1 2.5 0 4.5-4 5-8 3.5-12 .5-3.5-1-4.5-2.5-4-4.5-8.5-1.5-5.5-4-1-3 .5-3.5 2-3.5 3-1.5zM341 132.5l-7 1-4.5 3.5 1.5 4.5-2 3 2 3 6 3 8.5 0 7.5-2.5 4.5-3 1-5-2-3.5-5-3-8-1.5-2.5 .5zM289.5 128l3 1 4.5 5.5 3.5 5 .5 4 0 2-4.5 2.5 2 5-1.5 5.5-2 3-4.5 1.5-5.5-1-2-2.5-1-3 0-3 4-7.5-1.5-9.5 .5-4 1.5-2.5 2.5-2zM288 149l-1.5 1-2.5 4.5 .5 3.5 2.5 2.5 5.5 0 3.5-4.5 0-5-3.5-2.5-4 .5zM200 131.5l5.5 2 .5 2-.5 1.5-3 1-3.5-1.5-1-3 2-2zM594.5 136.5l1.5 1 9.5 22.5 5 4 5.5 2.5 10-6 13.5-1.5 7-5 3.5-.5 8 2 16 6 7.5-1.5 11-4.5 13.5-3.5 13.5 .5 4 3 .5 2.5-2 3.5-5.5 4-12.5 5-12.5 6.5-18 1.5-12.5 4-2.5 2-7 1.5-3 4-2.5 6-1.5 15.5-2 0 1.5-16 2-5.5 3.5-5.5-3-.5-6.5 3-1-1 1.5-2 5.5-2 13.5-1 13.5-4.5 17.5-1.5 13-7 12.5-4.5 4-3 1.5-4-6-2.5-9 0-13.5 3.5-11 4.5-8 1.5-24-7.5-2.5 0-7.5 5-11.5 1-5.5 2.5-3 2.5-.5 1.5 1 9.5 1.5 4 6.5 12.5 12.5 11.5 0 1-1.5 .5-9.5-8-6-8-5.5-13-1-9.5-4.5-1-5.5-3.5-4.5-4-8.5-20-.5-3.5zM540 164.5l20.5 2.5 2.5 1 5 5 3 2 5 1 7.5-.5 5.5 5 2.5 5-8 1.5-11.5-1-12-5.5-12-2-4-4-4.5-8.5 .5-1.5zM389 171.5l5.5 .5-5 3.5-11 4.5-4.5-.5-6.5-4.5 21.5-3.5zM698.5 182l2.5 0 4 2.5 7.5 9 2.5 7 1 11-2 0-1-10.5-2.5-7-2.5-3.5-5-4.5-4-2-3.5 2-3 4-2 20-.5 1.5-2 0 2.5-22 3.5-5.5 4-2zM513 187.5l3 1 7 8.5 4 3 3-4.5 4.5-3.5 6.5-3 3-.5 3.5 .5 8.5 8.5 6 14-2 0-4-9-3.5-6-5.5-5-3-.5-8.5 3-4 3-1.5 4-1 10.5-26 0 1-6 4.5-13.5 2-3 2-1.5zM176 188l6 .5 6.5 4 4.5 7 3.5 12-2 0-3.5-11.5-4-5.5-5.5-3.5-4-1-3.5 1-3.5 2.5-3.5 4-8 14-2.5 0 9-16 5.5-5.5 4.5-2zM593.5 191.5l10 0 9 3.5 2.5 4 1.5 12.5-2 0-.5-8-2.5-6.5-6-3-5-.5-9.5 .5-6 3-3 4.5-.5 10-2 0 .5-10.5 1.5-3.5 3.5-3 8-3zM252.5 200.5l3.5 0 1 1-1 1-5.5 1-4.5 8-2.5 0 5-9 3.5-2zM454 202l2 .5 2 2.5 2 6.5-18 0-3.5-4-4 4-2.5 0 3-4 3-2 3 1 4 4 3-4.5 6-4zM737 210.5l0 1 0-.5z"/>
<path fill="#d00000" d="M.5 0l7 0-2 5.5-5.5 2.5 0-8zM17.5 0l1.5 0 1.5 10.5-1.5 9-3.5 13.5 12 2 1.5 2-3 10.5-3.5 4.5-1.5 0-8-6.5-.5 5.5 1.5 3 3 1 17 .5 10-2 19.5-15.5 6.5-3.5 9-3 4-.5 5 1 2.5 2.5 2 6 0 6-2 7-4 6-11.5 9.5-9.5 3-22-2-17 6.5-26.5 13 0-1.5 25.5-13 17.5-6.5 21.5 1.5 10.5-3 10-8.5 3.5-5 2.5-7.5-.5-7.5-2.5-4.5-3-1-5.5 0-9 3-6.5 3.5-6.5 4.5-12.5 11-5.5 2-18 1-1 4-1.5 1-7.5-1.5-1-1 6-3-5-4-1-9.5 1-6.5 6-19 1-8-1.5-10.5zM67 0l1.5 0 .5 9.5 3 9.5 4 4.5 5 2 2.5 0 10-6.5 9.5-1.5 26.5 7.5 25-1 18-3 7 2 2 3 5 0 8.5-3 5-5 0-2-3 3-3.5 1.5-4.5 0-5.5-2-3-3-2.5-5-1.5-5 0-5.5 2 0 .5 8 3 7 3 2.5 6 1.5 4.5-1 2.5-3 2-5.5 1.5-9.5 2 0-1.5 10 5.5-2 5-.5 7.5 4.5-2-12 1.5 0 3 14 4.5 17.5 0 3 7 2 8 1 6.5 2.5 0-23.5-4-2 2.5-8.5-.5-6 2 0 1 2 .5-2 5.5 0 3 7 1 8.5-3.5 18-1-3 2.5-16-6 1-1 1 0 26-9-3.5-10.5-1.5-7-2.5-1 5-6.5 .5-6.5-1-5-2.5-8.5 1.5-10.5-1 0-1 4.5-4.5 1.5-5.5-4 1.5-8 0-4.5 3.5-3.5 .5-12.5-6.5-31 1.5-25-7.5-3 0-8.5 2-5 4-6 2-5.5-2.5-5.5-6-2.5-9-1-10zM207.5 9.5l-3.5 2-1 1.5-1.5 6.5 .5 8 3.5 2 3 5 13-.5 1-1.5-.5-8-3.5-11-5.5-4-5 0zM199 21.5l-5.5 5 6.5 .5 0-3.5-1-2zM224 30l1 2-.5-2.5zM114 0l2.5 0 8.5 4 3.5 0 13.5 6.5 6.5 2 3-.5 8.5-5.5 9-6.5 3 0-20 13.5-3.5 1-7-2.5-12-5.5-8-2-7.5-4.5zM186 0l5.5 0-1.5 6-3-3-1-3zM329.5 0l1.5 0 1 9.5 2.5 5 3.5 3.5 5 2.5 7 1.5 9.5-1.5 9.5-5.5 6-6.5 1.5-3.5 .5-5 2 0-1 5.5-1 3-7.5 8-9 5.5-10.5 2-5-1-5-2-7.5-6.5-2-4.5-1.5-10zM420 0l1.5 0 1.5 8 2 3 4 3 6.5 1.5 4.5-1 5.5-4 2-4.5 .5-6 1.5 0 .5 3.5-1.5 5-4 5-4.5 3-5 1-6.5-2-5-3.5-2-3.5-2-8.5zM464 0l1.5 0 1.5 5 3 4 3.5 2 4 .5 31.5-5 2-.5 5-6 2 0-6 7.5-34.5 6-5-1-3.5-2-4-5.5-1.5-5zM550 0l20 0 1 4.5 1.5 2.5 15.5 3 4 2.5 5.5 5.5 6.5-2 35.5-13.5 2 1 21-2.5 3.5 1-1 1-23.5 2.5-3.5-1-40 15.5-9 4-5 3-19.5 15.5-10.5 15.5-4 12.5-1 10.5 .5 11 1.5 6 14-7.5 1.5 .5 1.5 3.5 2 8.5 0 3.5-2.5 1.5-8.5 2-9.5-4.5-2.5-19 2-21 4-9.5 9-14 .5-1.5-1-3 1.5-3.5 2.5-2 4-1.5 2 0 2.5 1.5 3-2.5-3-1-3.5-7-3.5-4.5-10.5-4.5-4-2.5-2-4-.5-6zM680.5 0l2 0-9.5 9.5-6.5 9-4 7.5-8.5 10-13 9-1.5 2-17 4.5-10.5 6 6 2 4.5 6 .5 7.5-2.5 6-2.5 1.5-3 0-5-7.5 0-1.5 1 0 4.5 7 1.5 .5 3.5-2.5 1-4.5-.5-6-2-3.5-4-2.5-3.5 0-3.5 2.5-6.5 12.5-9.5 11.5 10 5 3 3.5 4 10 2 .5-4.5 16.5 0 5 4 15.5 7 16.5 0 1.5-1 0-7.5-17-3.5-12-.5-10 4-14.5-2.5 3-1.5 5-2 2.5-6 2-9 2 1-1.5 13.5-4 4.5-11-1.5-5.5-3.5-6-3-2-9-3-1-1.5 12.5-23 5.5-5.5 14.5-8.5 17-4.5 1.5-2 8.5-5 7-6 16-23.5 9-8.5zM605 63.5l-2 1-1.5 3-5.5 11 7-9 2-6zM738 0l1.5 0 2.5 14 2 3.5 1.5 1 3.5-1 2-3 2-14.5 13.5 0 0 35-8-1.5-3.5-4 .5-7 5-12-5-9.5-3.5 15-2.5 3-4 1.5-3-2-3-6.5-2-12zM283.5 2.5l11 .5 10.5 3 8 4.5 3 4.5 0 5-2 5-3.5 3.5-4 1-4 0-3-1-3.5 9.5 3.5 13.5-1 17.5 0 12 .5 2 4.5 .5 4-1 9.5 0 7.5-2 2.5-7 1.5-18.5 2-1.5 2.5 3.5 4.5 15 4.5 8.5 6.5 3 14 2.5 7.5 2.5 7.5 8.5 3 6.5 .5 2.5-1.5-.5-4.5-9.5-6-6-7-2.5-14-2.5-6.5-3-5.5-9.5-5.5-16.5-1 4.5-1 14-2 6-2.5 2-6 1.5-10 .5-6 1-6.5 5-12 3.5-26-5-10 2-3 1-4 3.5-4 9.5-1.5 1 4-11 2-2.5 6-3 7.5-1.5 2-1 26.5 5 9-2 6-3 1-1.5-2.5-4.5 1-29-3-10.5-5.5 9.5-8.5 9-8.5 6-14.5 6.5-1.5 1.5-8.5-3-11.5-2-7 .5-5.5 2-2.5 2.5-5 11.5-5 5.5-3.5 1.5-4.5 0-4.5-3.5-1.5-6.5-1-9-2-5-3-3.5-5.5-.5-5.5 3.5-2.5 6-.5 21 .5 11-1 0-1-3-7.5-.5-10 .5-4 1.5-2.5 15-3.5 37 1 6.5 1.5 3 7 3 7 0 21-6 10.5-2 15.5-4.5 9-1.5 13.5-5.5 15.5-10.5 5.5-4.5 1.5 0 0 1-12.5 10.5 1 2.5 0 2-5.5 0-1 0 .5-1.5-11 5.5-7 2-9 1.5-15.5 4.5-10.5 2-20.5 6-8.5 0-7-3-2.5-3.5-1.5-8 4-37.5 2.5-13-5.5 .5-.5-1 11-3.5 18-.5 .5-27.5 2.5-6 5-4 6-.5 2.5 .5 2 2 3.5 7.5 1 8.5 1.5 6.5 3 2.5 3.5 .5 4-1.5 2.5-2.5 3-5 3.5-9 4-3.5 7.5-2 5.5-.5 11.5 2.5 7 2.5 16-7.5 8.5-6 6-5.5 4-6 9-19-7-7.5-15.5-2-4-2 0-3 2-5 4.5-4 5-2zM284 4l-4.5 2-4 3-2 5 .5 2 5 1.5 13 1.5 6.5 6.5 4.5 2.5 6.5-1 3-2.5 2-5 0-3.5-1-2.5-3-3-6.5-3-10-3-9.5-.5zM37 13l2.5 0 2 2.5-1 2-2.5 1.5-1.5-.5-.5-1.5 1-4zM702.5 13l8 .5 7.5 4.5 2.5 2.5 11.5 18.5 4 9.5 3.5 11-.5 4-2 4.5-4.5 2 1.5 4 0 6.5-5.5 6-7.5 3-4.5 1-6-1.5-5-5 4 12 4 9-3 9-6.5 9 13 4.5 1 1-.5 1-13-4-3.5-.5-4.5 .5-10-3-4 .5-9.5 5-11 11 1.5 .5 14.5 0 10.5-1 15-3 14-6 11.5-1 3.5 1.5 2.5 2 7.5 13 2.5 1.5 5.5 1.5 4.5 0 3-4 8.5-2 0 22-6-1.5-4-2.5-2.5-4 0-5.5-10-2.5-4-3.5-1.5 8.5-3.5 5.5-3 7.5 .5 12.5 3 6.5 4.5 6.5 2.5 1.5 1.5-7.5 3-3 3.5 1 3.5 5 1 3.5-1 1.5-8 2.5 4.5 6.5 2 9-2 0-2-9.5-10.5-10.5-4-5.5-3-7-1.5-9 1-4.5 3-8 3.5-5 1-5-.5-5.5-2.5-7-2-3-4-1.5-4 0-7.5 1.5-13.5 5-15 3.5-10.5 1-19 0-1-1 14-14 6-4 7-2-6.5-11-1-4.5 2 1 3.5 9 5.5 6 12 1.5 4-3 4.5-7.5 2-7.5-8.5-22.5-.5-10.5 1.5-5.5 4.5-9 6-6.5 1 1-5.5 6-2 5.5 7-2.5 6.5 1.5 .5-7.5 2.5-3 4.5-1.5 6 2-5.5-14-11.5-18-7.5-4.5-4.5-1-2.5 0-4 2-3.5 3-4 7-2 12-1 10.5-2 6.5-3 3.5-6.5 3.5-18.5 2.5-12.5 11-7.5 5-2 11-1 12-.5 2-1-.5 1-14.5 4-19.5 1.5 1-1 6 11-8 7.5-7 18-2.5 7-3.5 3.5-6.5 3.5-25.5 7-10 5-2.5zM728 52l-3 1-1.5 2 .5 7.5 5.5 4.5 3 .5 2.5-.5 2.5-5-.5-3.5-3-4.5-5.5-2zM714.5 62.5l-8.5 3-1.5 6.5 0 8.5 .5 1.5 2 .5 3.5 4.5 5.5 1.5 7-1.5 5.5-2.5 4-4.5 0-5-1.5-4-3-3-5.5-3.5-5-2-2.5 0zM50 14.5l3 0 2.5 1.5 2 3 0 2.5-3 .5-4.5-2.5-2-3 2-2zM456.5 14.5l6 7.5 2.5 1.5 2.5-1.5 .5 2 1.5 .5 26.5-9 16-1 .5 .5-.5 .5-15.5 1.5-11.5 4-2 1.5 7.5 4.5 4.5 5.5 9-2 4 .5 3.5 1.5 2.5 8.5 2 1-4.5 14.5-3 1-10-1-4-2-5-5.5-.5-2.5 1-5-4-.5-3.5-2.5-6.5-7.5-1.5-5-7.5 0-1.5 4.5 0 5 4 16.5 .5 13-1.5 8-3.5 7.5-8 5-1-1 7.5-5 2.5-4.5 2.5-11 0-7-4.5-20.5 .5-10.5-5.5-5.5-3-5 0-1zM503 32.5l-7 3-3 5-2.5 6.5 4 5.5 4 2 3.5 1 7 0 2-1.5 .5-4.5-.5-1-3-1.5-1-2 1-2 3-2 0-6-3.5-2.5-4 0zM525.5 17l1 0-1 0zM403.5 18l7 0 4 2.5 5 5.5 18.5-5 1 0-6 27 0 13 2 14 1.5 5 5 6.5 0 1.5-4-3.5-5.5-11-4 5.5-14 11-3 1-2.5-.5-2-4 .5-5.5 25-10.5-1-23 5.5-22.5-.5-1.5-17 5-2.5 5.5 0 2.5-3 7-5 8-4.5 4.5-8.5 4.5-11.5 3-9.5-8-6-2.5-8-1-4.5 2.5-3 8.5-.5 2.5 1.5 3.5 8 9.5 7.5 5 1 2-8.5-5-9.5-10.5-1.5-4 .5-4.5 2.5-7 5-4 5 0 9.5 2.5 11 9 11-3.5 6.5-3 4.5-4 4.5-7 3-7.5-7 2.5-9.5-1.5-4-3-2-5.5 2-5 3.5-4 6.5-2.5zM404 19.5l-5.5 2-3.5 3.5-1.5 4.5 1 4 2 2.5 3 1 7 .5 4.5-1 5-4.5 1-6-3-4-3.5-2-6-.5zM524 35l1 1-2.5 .5 1.5-1.5zM706.5 36l3 0 2.5 2.5 .5 3.5-1 3-2.5 1.5-3 .5-4-.5-3-1.5-1-2 .5-2 8-5zM131.5 40.5l4.5 0 5 1.5 8 6 2.5 3.5 0 3-1 2.5-9.5 8.5 3 11 1.5 7-.5 11-2 9.5-1 2-1-1 2.5-11.5 0-9.5-1-7-3-9-10.5 21.5-1 1-.5-.5 6.5-13.5 4-10.5-7-2.5-1.5-3-1.5-5.5 0-9 3-5.5zM132 42l-2 5 0 7.5 1.5 6.5 1 1.5 3.5 1 6-1 7.5-7 .5-4-9-7.5-3-1.5-6-.5zM640 52l.5 .5-1 2.5-3.5 3.5-3 .5-2.5-2 9.5-5zM762.5 52l2.5 .5-14.5 4.5-1-.5 4.5-2.5 8.5-2zM534 53l0 .5-.5-.5zM765.5 59.5l1 0 0 21.5-9.5-1-2-1.5-.5-2 2-8 3.5-6 5-3zM751.5 63.5l1 2.5-2 13.5-2 5.5-1.5 7 1.5 11.5-1 2.5-1-3.5-1.5-10.5 2-7.5 2-5.5 2-15.5zM514.5 65l5 0 2.5 1 4 4 1.5 3 .5 7-4.5 4-2-.5 5-4-1-6.5-1.5-3-4.5-3.5-8 1 .5-1.5 2.5-1zM488.5 65.5l6.5 0 2.5 2.5 1 3-.5 7.5-3 4.5-3 1-3 0-4-1.5-2.5-3.5-.5-3 0-2.5 1.5-3.5 5-4.5zM489 67l-3 2-2.5 6 .5 3 2 3 5 1.5 3-1 2-3 1-6.5-2-4.5-5.5-.5zM81 76.5l6 0 4 3 2 5 2.5 20 6.5 6 4 1.5 4-.5 3.5-3 3-15.5 4-7.5 5.5-7.5 1.5-1.5 1 .5-6.5 9-4 8-3 15-5 4.5-4.5 .5-4-2-5.5-5.5-2-.5-2.5-21-1.5-4-3.5-3-5 0-4 3.5-3.5 10-.5 13.5-1.5 1 0-14.5 1.5-4.5 2.5-6.5 2-2.5 3-1.5zM682.5 79.5l1.5 0 .5 1-5.5 2.5-6 7-6 15.5 4.5-1 1 1.5-7.5 3-10 8-14.5 17.5-1 0 .5-2.5 13.5-16 11.5-9 0-2 6.5-15.5 6.5-7.5 4.5-2.5zM384.5 86l2.5 0-2 1-1.5-.5 .5-.5zM727 92l5.5 .5 6 4 2 3.5 1 6-1-.5-1.5-5-1.5-2.5-4-3-5-1.5-7 2-2 2.5-3.5 7.5-1.5 .5-.5-1 4-8 3.5-3.5 5.5-1.5zM26.5 100.5l21 1 11 4-1 .5-15-3.5-14.5-.5-6 1-4.5 1.5-.5 1 22-1 4 1-1 1-12 0-16 1.5-5.5 1-8.5 3 0-1.5 11.5-4 1.5-2 10-3.5 3.5-.5zM245 101l40.5 2 7.5 1.5 9.5 3 9.5-.5 16.5-2.5 3 4 1.5 1 12.5-4.5 1.5 .5-11.5 5.5 4 5.5-1 2-2 1-3.5-.5-5.5-4-3.5-1-12.5 3.5-10-.5-7 1.5-3-1-3-3-4-9-9.5-1.5-17-1-.5 1 .5 3.5 2 4.5 9.5 1 4 1.5 10 11 0 4-3.5 5-7.5 1-4-1.5-4.5-4-1.5-3 1-4-15.5-12-3.5-6-.5-3 .5-1zM276 122l-3.5 2-6.5 .5-1.5 2.5 1 2.5 5 3.5 5.5 .5 3-.5 2.5-3.5 .5-3-2.5-3.5-3.5-1zM64.5 105l.5 .5-.5 2-2.5 2.5-9.5 5-1 1 5.5 1.5 4 2 16 13.5 6 0 8-1.5 10 1 6 2 4.5 6.5 1.5 6-1 4.5-2.5 5.5-6.5 4.5-7 3-4.5 5.5-1 14.5 6.5 27-2 0-6-26-.5-9.5 1.5-6.5 2.5-4 3-2.5 6.5-3 6-4 2.5-5 .5-4-1-6-3.5-5-6-2-7.5-.5-9.5 1.5-8-1-1 1-1 8.5-3 10.5-2.5 5-5 6.5-1.5 4 1 26-1 4.5-4.5 6-5.5 2-3.5-.5-3.5-1.5-7.5-13.5-4-4-2-1-10.5 5-7.5 8.5-1.5 3.5 1.5 7-13 0 0-10.5 1-1-1-4 3-5-3-1.5 0-2 3.5 1 2-.5 7-14.5-5.5-5.5-5.5-8-1.5-.5 0-2 3 1.5 5.5 8.5 5 4 5.5-2.5 7.5 4 3.5-1.5 6.5-7 3.5-6 2.5-8 6.5-14.5 11-15-3.5-2-10-1-9 9-8.5 6-7 3.5-13.5 4-8.5 1 0-2 11-1 7-2 10-5 8.5-6 9-9 15.5-8 3-3.5zM61 123l-4 4-6 9-7 15.5-2.5 7.5-3.5 6.5-8.5 9 4.5 6.5 0 5.5 6.5 8.5 4.5 9 4 2 4 0 2.5-1 4.5-6 .5-4.5-.5-25.5 1.5-4.5 5-6.5 2.5-5 3-10 1.5-10-12-10zM138 105l1 1 1.5 6-1 6.5-10.5 20.5-2 1.5-.5 15 2 0 3 8-2 9.5-1 .5-.5-1.5 1.5-8.5-2.5-6.5-3.5 14-7 9.5-4 9 .5 10.5 4.5 11.5-2 0-4-11-.5-11.5 2.5-7 7.5-9.5 2.5-6.5 3-34.5 .5-3 1.5-.5-.5 5 .5 2 9-15.5 1-5-1-9.5zM225.5 105l1.5 0 0 1-14 8.5-20 7.5 3.5 1 9 1 .5 1-5 .5-21-2.5-5 2-4.5 3.5-1.5 4 .5 4 3 4 6.5 2 9.5 1 10.5-.5 13.5 3 11-1 14-4 1 .5-.5 1-14 4-12 1.5-13.5-3-11 .5-9-1.5-7-2-3-3.5-1-3.5 0-4 1.5-3 5-4.5 5.5-2 13-1.5 11.5-3.5 9-4 12.5-7.5zM449 106l2.5 2 9.5 0 1 1-1 1-10 0-2.5 2-3 1-1-.5 .5-2.5-6.5-1-31.5 0-13 1-9.5 0-1-1 1-1 21.5-1 37 .5 6-1.5zM385.5 114.5l4-.5 3.5 1.5 1.5 3 0 4-3 4.5-3.5 3.5-5 3-3.5 0-3.5-3.5 0-6.5 3.5-6 5.5-3zM640 117.5l.5 1-5.5 9.5-2.5 6.5 0 2.5 3 6.5 5 .5-1.5 1-3.5 0-1.5-.5-3-5.5 0-5 3-7.5 5.5-9zM528.5 120.5l9 .5 5 3.5-2 1-8.5 0 3 4 4 8.5 5.5 8.5 11 6.5 10.5 3 13 6.5 13 4 2 2 .5 4.5-2.5 1.5-3 .5-7.5-2.5-5-3-3-2.5 0-1 1.5 0 11.5 7 5 0 1.5-1 0-1.5-1.5-2.5-13.5-4-12-6-15 0-34 8.5-.5 .5 2 3 0 2.5-3.5 5 6.5 2 4 0 8.5-2 4 0 10 3.5 3 1.5-.5 1-13-4.5-3 0-7.5 2-5.5 .5-9-2-2.5-2-5-1-2.5 1-5 7-7.5 2-4-.5-3-1.5-.5-1.5 1-3.5-6.5 2-2.5 2.5-6 1-23.5-6.5-14.5 1-7.5 2-4 2-3 4-5.5 1.5-14.5 7-10.5 3.5-2.5 1.5-9 1-3.5 1.5 7 3 2 5-25.5 0 1.5-5-10-1.5-6 .5-1 6-18.5 0 1-7.5-7.5-1-7 0-9 2-1 .5 1 6-22 0 1-7-1-.5-19 2-1-.5 1.5-1 24.5-3 11 0 4 1.5 9.5-2 16 1 2.5-2.5 9-1.5 7 1 0 3.5 1 .5 17 1.5 15-4 9-1 2-1.5 14.5-5 10-5.5-3-5.5-2-7 0-3 2.5-3 28.5-7.5 14-.5 10-3.5 3.5 0-1.5 5 1.5 3.5 14 13 11.5-4 9.5-4.5 1.5-1.5-.5-3-8.5-12-8.5 1.5-5.5 .5-25.5-5.5-14.5-1.5-7 1.5-16.5 6.5-20.5 5.5-29.5 11.5-17 5-10 2-35-.5-23.5 1-20.5-2.5-10.5 2-4 2-4.5 6.5-2 5-3 16.5-2 .5 3.5-17.5 1.5-4.5 3.5-6 6-4 11.5-2.5 21.5 2.5 22-1 34.5 .5 10.5-1.5 16.5-5 30-11.5 20-5.5 17-6.5 7-2 15.5 2 25.5 5 10-1 11-2.5 8-3 1.5-4 2.5-19 2-3 13.5 0 3.5-1zM517.5 123l-6.5 2-3 21-2.5 3.5-6.5 3 9.5 2 3 8 2 2 2 0 11-2 15.5-4.5 14.5-2-14-9.5-5.5-8.5-4-8.5-3-3.5-8-3-4 0zM438 167.5l-13 3-2.5 3-2.5 6.5 13.5-2.5 14.5-1-3-3.5-2.5-5-4.5-.5zM250.5 127.5l1.5 0 .5 1.5-2 3-1.5-1.5 1.5-3zM316 129l5 1 5 6.5 7-4.5 5-1 6-1 9.5 2 6 4.5 1.5 2.5 0 4-3.5 4.5-4 2.5-7.5 2.5-10-.5-6.5-3-5-6-7-1-5-3-1-2.5 0-3 1.5-3 2.5-1.5zM341.5 132l-8 1.5-5 4-1 5 3 5 6.5 3 8.5 0 8-2.5 4.5-3 1-5-2-4-5.5-2.5-9.5-1.5zM289 131l3 .5 3.5 3 3.5 5 1 4.5-.5 2-3 2 2 5-1.5 5-2 3-4.5 2-5.5-1.5-3-5 1-4 4-6-1-11 1-3 2-1.5zM288.5 148.5l-2.5 1.5-2 6 1.5 4 4.5 1 4-1.5 2.5-6-.5-3-1.5-1.5-5.5-.5zM595 137l10 23 5 4 5.5 2.5 2.5-.5 3.5-3 4.5-2 13.5-2 7-4.5 3.5-1 24 8 7.5-1.5 11-4 13.5-4 13.5 1 4 3 0 2-2 3.5-4.5 3.5-13 5-12.5 6.5-18 2-12.5 4-2.5 1.5-7 1.5-4 6-2.5 10.5-.5 8.5 0 1-2 0 2-16 2-6 3.5-5-3.5-.5-6.5 2.5-.5-.5 1-1.5 5.5-2 13.5-1.5 13.5-4 17.5-2 13-6.5 12.5-5 4.5-3 1.5-4-6-2.5-9.5 0-13.5 3.5-11 4-8 2-24-8-3 .5-7 4.5-11.5 1.5-6 2.5-3 2.5 0 1.5 1 9.5 1.5 4 6 12.5 4.5 5 8 6.5-1 1-9.5-8-6-7.5-5-13-1.5-10-5.5-1.5-5-3-3.5-3.5-8.5-20-.5-3.5zM548 167.5l12.5 1 7 6 4 2 12.5 0 4.5 4 2 4-7 1.5-10.5-1-4.5-1.5-7.5-4.5-11.5-1.5-3-2-2-4 .5-3 2.5-1zM387 172l5 0-4.5 3.5-8.5 3.5-4-.5-4.5-3.5 4.5-1.5 11.5-1.5zM697.5 182.5l3 0 4 2 7.5 8.5 2.5 7.5 1.5 11-2 0-1-10.5-2.5-7-2.5-4-4.5-4-4.5-2-3.5 1.5-3 4.5-2.5 20 0 1.5-2 0 2.5-21 3.5-6 3.5-2zM175 188.5l7 .5 6.5 4 4 6.5 4 12-2 0-3.5-11.5-4-6-5.5-3.5-4-.5-4 1-3.5 2.5-3 3.5-8 14.5-2 0 8.5-15.5 5.5-5.5 4-2zM543 189l4.5 .5 7 6.5 3.5 6 4 9.5-2 0-4-9.5-3-5.5-6-5.5-3-.5-8 3-4.5 3.5-3 6.5-.5 8-24.5 0 2-8 4-10.5 2.5-3 2-.5 2 1 10.5 11 3.5-5.5 4-3.5 9-3.5zM592.5 192l11 0 8.5 3 2.5 4 2 12.5-2 0-.5-8-2.5-6.5-6-3-5.5-.5-9 .5-6.5 3-2.5 4.5-.5 10-2 0 1-10.5 1.5-3.5 3.5-3 7-2.5zM764.5 194l2 0 0 17.5-2.5 0-5-14.5 .5-2 5-1zM251.5 201l4-.5 1 1-6 1.5-5 8.5-1.5 0 4.5-8.5 3-2zM453.5 204.5l3.5 1.5 2 5.5-12.5 0 2-4.5 5-2.5zM437.5 206l3.5 1 3.5 4.5-2 0-4-4-4 4-2 0 4.5-5.5z"/>
<path fill="#b30000" d="M.5 0l6 0-2 5-4.5 2 0-7zM18 0l2 10.5-1 8.5-4 15.5 4.5 0 4.5 1 2.5 2 .5 2.5-2 6-3 3-3.5-1-6-4-.5 7.5 2 3 5 1.5 12 0 8.5-.5 3.5-1 4-2 10-9.5 7-5 7-3.5 12-3.5 5.5 1.5 2 2.5 2 6-.5 7.5-2 5.5-4 5.5-10.5 9-10.5 3-10-.5-6-1.5-6 0-16 6-27 14 0-1.5 26-13 17-6.5 6 0 6 1.5 10 .5 9.5-2.5 11-9 4-6 2-7-.5-7.5-2.5-4.5-3-1.5-6 0-9 3-6.5 3.5-20 16-9.5 2-15.5 0-5-1.5-2-1.5-1-2 0-8 1-6.5 6-18.5 1-8.5-1.5-10.5zM67.5 0l1.5 12 2.5 7.5 4.5 4.5 5 2 2.5 0 10.5-7 8.5-1 27 7.5 25.5-1 17.5-3 6.5 1.5 1 1 .5 2.5 5.5 0 3.5-.5 6-3 5-5 1.5-6.5 4.5-3 6.5-.5 4 2 3.5 3-2.5-13 1.5 0 7.5 32-.5 1.5-2.5-7-.5 4 1.5 3 4 2.5 13 1.5 6.5 3 1-.5-.5-23.5-4-2 3-8.5-1-6 1 0 1.5 4.5 3-3 2 1.5 2 0 2 6.5 .5 6-3 17.5-.5-2.5 2.5-15-.5-2.5-7.5 3 0 26.5-8-4-10.5-1-7.5-3-1.5 1.5-1 4-4.5 .5-6.5-1.5-7-4-5 3-7.5 0-3.5-1 3.5-3.5 2.5-6 6.5 0 .5-3.5-1-3.5-4.5 4-5.5 2.5-10.5 .5-6 3-3-.5-9.5-5-32 1.5-25.5-7.5-9 1-7.5 5.5-3.5 1.5-2.5 0-8-5-3-4.5-2-8-.5-9.5zM209.5 9l-4.5 1-2.5 2.5-1.5 7 .5 8 2.5 2 1 4.5 4 2.5 2 .5 5.5-2 4.5 .5 2-3-.5-8.5-2.5-9-3-4-4-2-3.5 0zM114.5 0l10 4.5 4.5 0 12.5 6.5 7 2 3-.5 9-5.5 9-7 2.5 0-20 13-4 1-6.5-2-12-6-7.5-1.5-8-4.5zM177.5 0l1 8.5 3 6.5 3.5 3 6 1.5 4.5-1 3-3 2-6 1.5-9.5 1 0-2 11.5-4 7-3.5 2-3.5 0-6.5-2.5-3-3-2.5-5.5-1-9.5zM186.5 0l4 0-1 4.5-2-1.5-1.5-3zM330 0l1.5 10 2.5 4.5 5.5 5 5.5 2.5 4.5 .5 10.5-1.5 9-5.5 6.5-7 1.5-3 .5-5.5 1 0-.5 5-1.5 3.5-7 7.5-10 6-9.5 1.5-5-.5-5.5-2.5-6.5-6-2.5-5-1-9.5zM420.5 0l3 10 3.5 3.5 8 2.5 4.5-.5 6-4.5 2.5-4.5 0-6.5 1.5 0 0 3.5-1.5 5.5-4 4.5-4.5 3-4.5 .5-7-2-4-3-2.5-3.5-1.5-8.5zM464.5 0l2 5.5 3.5 4 3 2 4.5 .5 33.5-5.5 5.5-6.5 1.5 0-6.5 7.5-34 5.5-4.5-.5-4-2.5-3.5-4.5-1.5-5.5zM551 0l18 0 1 9.5 11-.5 6 1 5.5 4 3 5 9-2.5 35-14 2 1.5 21-2.5 3 .5-24 3-3.5-1-40.5 15.5-13.5 7-20 16-9.5 13.5-3.5 8-1.5 6.5-1 10.5 .5 11.5 2 7 14-8 1.5 .5 1 1.5 2.5 9 0 3.5-3 2-7.5 1-4.5-1.5-3-2.5-1.5 .5-.5-.5-2.5-18.5 2-21 4-9.5 10-14.5 17-14-3.5-1-2-1.5-7-12-8.5-.5-5.5-3-2.5-4-1-5.5zM681 0l1.5 0-10 9.5-10.5 16.5-8 9.5-14 9.5 0 1.5-18 4.5-12 7.5 5.5 0 5 4 2.5 5.5-1 8.5-4 4-2.5 0-1.5-1.5-3.5-7 5 7.5 2.5 0 3-3 1-4 0-4.5-.5-2.5-4-5-2.5-1-4.5 .5-3 2.5-3 7.5-3.5 5-10 12 10 4 3 3 3 5.5 1.5 6-2.5 4-1 5.5-2 2-14.5 4 1-1 13.5-4 4.5-10.5-1.5-6-4-6.5-12.5-5.5 12.5-23.5 5.5-5.5 8.5-5.5 12.5-5 10.5-2 1-2 6.5-3.5 7.5-6 7.5-9 3.5-7 7-9.5 9-9zM607.5 59.5l-5 5-6.5 11.5-1 4 3.5-3 5-7 3-7.5 2.5-3-1 0zM738.5 0l2 11.5 3 6.5 2 1 3.5-1 2-2.5 2.5-15.5 1 0-2 14.5-3.5 4.5-3.5 1-3-2-3-6.5-1.5-11.5zM757.5 0l9 0 0 34.5-7.5-2-3.5-4 1-7 6-11-5-10.5zM283 3l11 0 10 3 7 3.5 3.5 3 1.5 3 0 4.5-2.5 5-4 3.5-6.5 1-5-3-6.5-6.5-12.5-1-6.5-2.5-.5-3 2.5-5 4.5-4 4-1.5zM286 3.5l-5 1-5 3.5-3 5.5 .5 2.5 5.5 2 13 1.5 6 6 5 3 7-1 2.5-2.5 2.5-5 0-4.5-4-5-6.5-3.5-10-3-8.5-.5zM702.5 13.5l7.5 0 8 5 13.5 20 4.5 11 3 10 0 4-2.5 4.5-5 1.5 2.5 5 0 5.5-5 5.5-6 3-7 1.5-5.5-1.5-4.5-6 6.5 6 3.5 .5 4.5-.5 8-3.5 3.5-3.5 1-2 0-5-1.5-3.5-3-3-9-5.5-4.5-.5-6 2.5-2.5 0-2.5 7 0 10 9 23.5-3 9.5-7 9 13 4 1.5 1.5-13-4-8 .5-10-3.5-4 .5-3.5 1-6.5 4.5-11.5 11.5 17.5 .5 17-2 8.5-2 13.5-5.5 11-1.5 6 3 7.5 13 2.5 2 5.5 1.5 5.5 0 4-4.5 7-1.5 0 20.5-5.5-1-4-2.5-2-4 0-5-11.5-3-4-4-1 8.5-4 6-3 8-.5 4 1.5 10.5 7 11 10.5 10.5 2 9.5-1 0-2-9.5-10.5-10.5-4.5-6-3-6.5-1-9 .5-4 3-8 4-5.5 1-5-.5-5.5-1.5-5-3.5-5.5-4-1.5-4 0-8 1.5-13 5.5-15 3-10.5 1-19.5-.5 13.5-13.5 6.5-4.5 7-2-6.5-10.5-1-4.5 1.5 1 3 8.5 6 6.5 12 1.5 4-3 5-7.5 2-8-9-23 0-10 1.5-6 4-8 6-6.5 .5 .5-5.5 6-2.5 4.5 .5 1.5 7.5-2.5 7 1.5 0-7.5 2.5-3.5 4.5-1 6.5 3 .5-.5-6-15.5-12-18-8-5-3.5-.5-3.5 0-4 2-3 3-4.5 7-2 12-.5 10.5-2.5 7-2.5 3-7 4-18 2-12.5 11-7.5 5-2.5 11-.5 12-1 2-.5-.5 1-13.5 4.5-19.5 .5 .5-1 7 19.5-16 18-2 7-4 3.5-6.5 3-25 7.5-10.5 4-2zM727 52l-2.5 .5-1.5 2.5 0 5.5 1 3 5.5 4 3.5 .5 2.5-1 2.5-5.5-2-6-5-3.5-3.5 0zM510.5 14.5l1.5 .5-16 1.5-16 6.5 5 1.5 4 3 2.5 3.5 1.5 4 10.5-4 4.5 0 3.5 2 1.5 5 0 12-1.5 6-2 1-8 0-7-3-5.5-7 2-9-4.5 .5-5-3.5-5-6-.5-2.5 1-2-10.5 1.5-1.5 4.5 0 5.5 4.5 16.5 .5 12-1.5 8-3.5 7.5-8.5 5 7-5 3-5 2.5-10.5 0-7-5-21.5 1-10.5-4-3-4.5-7.5 5.5 7.5 3 1.5 2-1.5 .5 2 2 .5 26.5-9.5 14.5-1zM502 32.5l-3 .5-4.5 3-2 4-2 7 4 6 4.5 2.5 10.5 .5 2-2 .5-4-.5-15.5-4-2.5-5.5 .5zM403 18.5l8 0 3 2 5.5 6 19-5-6 26 0 14 2 14 1.5 4.5 5 6.5 0 1-6-7.5-2-7.5-1.5-10.5 0-14.5 5.5-22.5-.5-2-17.5 5-3 6 0 3-3 7-5 7.5-4.5 4.5-8.5 4.5-11 3-9.5-8.5-5.5-2.5-9-1-4 2.5-3.5 8.5-.5 3 1 3 2.5 4 6 6 7.5 5 1 1.5-8-5-9-9.5-2-5 1-4.5 2.5-6.5 5-4 4 0 9.5 2.5 11.5 9 10.5-2.5 7-3.5 5-4.5 5-7.5 3-6.5-.5-1.5-3.5 2-4 1-8-.5-5-3.5-2-5.5 3.5-7 2.5-2.5 5-1.5zM406 19l-8 2-4.5 6-.5 2.5 1 4 3.5 3.5 5.5 1 7-.5 4-2.5 2.5-3 1-5.5-1.5-3-6-4.5-4 0zM298.5 29l-3 9 3.5 13.5-1 29 1 3 5 .5 3.5-1 10 0 7.5-2.5 2.5-6.5 1-18.5 1.5-1.5 2.5 2.5 4.5 15.5 4.5 8.5 6.5 3.5 14 2 7.5 2.5 7 7.5 4 9.5-5-9.5-6-6.5-7.5-2.5-14-2-6-3-5.5-9-4.5-15.5-2-2.5-1.5 19-2 6-2 2-7 2-9.5 0-6 1-6 5-12.5 3.5-26-5-10.5 2-6.5 4.5-5 10.5 4-10.5 1.5-2 6-3.5 8-1 1.5-1.5 26.5 5.5 9.5-2 6-3.5 1-1.5-2.5-4.5 1-29.5-3.5-11-6 10.5-8 8.5-9 6.5-14.5 6-1 1.5-8-3-12-2-7 .5-6 2-2.5 2.5-3 9-3.5 5-3 3-4 2-4.5-.5-4-3.5-1.5-6.5-.5-8.5-2.5-6-4.5-3.5-6 .5-4 3.5-2.5 6-.5 21.5 .5 10-1.5-3-9.5-.5-8 .5-11 3 11-4 18-.5 0-27 3-6.5 4.5-4 5.5-.5 2.5 .5 2 2 4 7.5 .5 9 1.5 6.5 4 3 4 0 6-4.5 3.5-5.5 2.5-8 4.5-4 7.5-2 5 0 11.5 2 7 3 16.5-7.5 8.5-6 8-8.5 7.5-14 2.5-7.5zM706 37.5l4 .5 1.5 4-2.5 3.5-4.5 .5-3.5-1.5-.5-2 1.5-2.5 4-2.5zM131 41l4.5-.5 6 2 7.5 6 2.5 3.5-1.5 5-9.5 8 4.5 19 0 10-3 11.5 2-11.5 0-10-1-7.5-3.5-9.5-10.5 22-1 1-.5-.5 7-13 3.5-10.5-.5-1-6-1.5-2-3-1-5.5 0-9 2.5-5zM133.5 41.5l-2.5 .5-1.5 4 0 8.5 1 6 1.5 2 3.5 1.5 6.5-1 7.5-7 1-4.5-9-8-3-1.5-5-.5zM761 52.5l3.5 0-14.5 4 4.5-2.5 6-1.5zM636 54l1.5 0-1.5 2.5-2 .5-2-.5 4-2.5zM15 60l3 0 .5 2.5-6-1 2-1.5zM765.5 60l1 0 0 20-8.5-.5-2-1.5-.5-2 1.5-7 3.5-6.5 5-2.5zM751.5 64l.5 2-1.5 13-2.5 5.5-1.5 7.5 1.5 11.5-.5 2-2-13.5 1.5-7.5 2.5-5.5 2-15zM514.5 65.5l6 0 5.5 5 2 5.5 0 3.5-4 4-2 0 4-2.5 1-2-.5-5.5-1.5-3-5.5-4.5-7.5 1 2-1.5zM488.5 66l6.5 0 2.5 2.5 1 3-1 7.5-2.5 3.5-3.5 1.5-4-.5-2.5-1.5-2.5-3.5-.5-3 1.5-5 4.5-4.5zM491 66.5l-5 2-3 6 .5 4 2 2.5 4.5 2 4.5-1.5 2.5-3.5 .5-3-1-6.5-2.5-2-3 0zM430 72l.5 1-3 5-10 8.5-5 3-3.5-1-1-3-.5-4.5 22-9zM81 77l6-.5 3.5 3 2.5 5.5 2 19.5 7 6.5 4 1.5 4.5-.5 3.5-3.5 2.5-15 5-9 6.5-7.5-6.5 9-4 7.5-2.5 15-3 3.5-4.5 1.5-4-.5-8-7.5-1.5 0-2-21-2-4-3.5-3-5 0-2.5 1.5-2.5 3-3 9.5 0 9.5-1 4.5 0-14 1-4.5 3-6.5 4-3.5zM682.5 80l1.5 0-5.5 3-6 7-5 13-2 2.5 6.5-16 6.5-7.5 3.5-2zM726 92.5l6 0 6.5 4.5 2 3 .5 5.5-3.5-8-4.5-3.5-4.5-1-7 2-2.5 2.5-4.5 8 4-8.5 3-3 4.5-1.5zM25 101l10.5-.5 11.5 1 11 4-11-3-19.5-1-4.5 .5-9 4 16-1 12.5 .5-29 2-13.5 4.5 0-1.5 12-3.5 1-2 11.5-4zM246.5 101l39 2.5 11 2 6.5 2.5 24-3 1 .5 1.5 4 1.5 .5 7-1.5 7.5-3.5 1 .5-14.5 6.5 0 1 3.5 2 0 2-2-.5-3-3.5-3.5-.5-5.5 .5-12 3.5-9.5-3-5 1.5-3-1-2-3 .5-2.5 8 3 2.5-1.5-4-3-21.5-3.5-19-.5-1 7-1.5 1.5-2 0-3-2-2-3-2-4.5 1-1zM64 105.5l.5 0 0 1.5-2.5 2.5-12.5 6.5 7.5 1.5 3.5 2 16.5 14 6.5 0 8-1.5 9 .5 6.5 2.5 4.5 6 1 6-.5 4-2.5 5.5-7 5-6.5 2.5-5 6-1 6.5 0 8.5 6.5 26.5-1 0-6.5-26.5 1-15 3-4.5 2.5-2 7-3 6-4.5 2.5-5 .5-4-1-6-4-5.5-6-2-9-.5-8 1.5-6.5 0-15-12-5 4-6.5 9-12.5 29.5-9.5 9.5 5 6 .5 3.5-1 2.5 5.5 6 6.5 12 4 2 4 0 3-1.5 4.5-5.5 .5-4-1-16.5 .5-11.5 9-14 3-10.5 .5-8 1.5-1-1 9-3 10-2.5 5.5-5.5 6.5-1.5 4.5 1 26-.5 4-3 4.5-5.5 3.5-4.5 0-3.5-1.5-7.5-13.5-6-5.5-10.5 4.5-7.5 6.5-3 1.5-2.5-.5-2-2-1-6.5-5-1.5 0-1 3 1 3.5-.5 3.5-9 3-6-5.5-5.5-5-7.5-2.5-1.5 0-1 2.5 1 6 9 4.5 4 2 0 4.5-2.5 7 4 4-1.5 6.5-7 2.5-4.5 10-25 11-14.5-4-2.5-10.5-1-8.5 9-9 6.5-6 3-11.5 4-11 1 0-1 11.5-1 6.5-2 10.5-5 8.5-6 9-9.5 15.5-7.5 2.5-3.5zM138 105.5l1.5 3.5 .5 6.5-1.5 5-4 7.5-6 11-2 1-.5 17.5-1.5 10-2 5-8 10-2.5 7 .5 10.5 4.5 11.5-1 0-4.5-11.5-.5-10.5 2.5-7 8-10 2.5-6 2.5-34.5 1.5-3.5-.5 9 11-19.5 .5-5.5-1-7zM153.5 105l-2.5 14-3.5 37.5 2 9 3 2.5 4.5 1.5 8 0 20.5-6.5 10.5-1.5 15.5-5 9-1 7-2 13.5-7.5 14-11 1 0-15 12-13.5 7.5-7 2-9 1-15.5 5-10.5 1.5-20.5 6.5-8 0-4.5-1.5-3.5-3-1.5-3-1-6 3.5-38 3-13.5zM225.5 105.5l1 0-14 9-21.5 7.5 5 1.5 9 .5 .5 .5-.5 .5-21.5-2.5-4 0-5 2-4 3.5-2 3.5 .5 5.5 3.5 4 6.5 2 9 1 11-.5 13.5 3 11-1 14-4.5 .5 1-14.5 4.5-11.5 1-13-3-11 .5-9-1-7.5-2.5-3-3.5-1-3.5 .5-4 1.5-2.5 5-4.5 5.5-2 12.5-1 12-3.5 9-4 11.5-7.5zM610 105.5l.5 2-4.5 14.5 0 5.5 3.5 14 7.5 17 0 1.5-8-17.5-4-15 0-5.5 5-16.5zM670 105.5l2 0-7 3-10.5 8-14.5 17.5 .5-2 13.5-16 11-8.5 4.5-2zM403.5 108l35-.5 23 1.5-11.5 .5-12-1-54 .5 19-1zM268 115l4 1 2.5 3 8 5 1 5-3.5 5-3.5 1-6.5-.5-6-5-1-3 2.5-5-2-2-.5-2 1.5-2 3-.5zM274.5 121l-3 1.5-4.5 .5-1.5 1.5-1.5 3 1.5 2.5 3.5 3 3.5 1 4.5 0 4-2.5 1.5-5-3-4-5-1.5zM386.5 115l3.5 0 2.5 2 1 3-.5 3.5-2.5 4-3.5 3-4 2-3.5 0-2-1.5-1-2.5 .5-6 3.5-5 6-2.5zM639.5 118l.5 1-5 8-3 7.5 0 4 2.5 4.5 1.5 1 4 0-4 1-2-1-2.5-4.5-.5-5 3.5-8.5 5-8zM531.5 121l6.5 1 3.5 2.5-10 1 3 3.5 4 9.5 5.5 8 11.5 7 10 2.5 13 7 14 4 2 3-.5 3-5 2-8-3-7-5.5 12.5 7 5.5 0 1.5-1.5 0-1.5-2-3-15.5-4.5-9.5-5.5-16 0-36 9-.5 1 2.5 4-1.5 3-3 1.5-7-1.5-4.5 .5-2.5 7-5 3-4 0-2.5-1-1-2 .5-4-10 3-4 2.5-3.5 .5-23.5-6-11 .5-10.5 2-5 3-3 3-19 9-11 3.5-2.5 2-9 .5-6.5 3 7 2.5 2 2 .5 2.5-20.5 0 2-5-13-2-6.5 .5-1 6.5-17 0 1-7.5-1.5-1-7-.5-7.5 0-10.5 2.5 1 6.5-20 0 .5-4.5 1-2.5-1-1-21 2 1.5-1 32-3 6.5 2 10.5-2 15.5 1 3.5-3 8-1.5 6 1 .5 4 19.5 2 14.5-4.5 8.5-.5 2.5-2 14-4.5 10-5.5 1.5-1.5-3.5-4-1.5-6.5 0-3 2-3 4-2.5 20-5 11.5-1-1.5 2.5-3.5 2-14 3-2.5 3.5-2.5 8.5 8.5-2.5 11.5-1.5 6.5 0 9 1.5-7-4-2-5.5 2-3.5 8-3 2 .5 12.5 10.5 4.5 6 4 0 15-6 8.5-.5 1.5-1-1.5-5-7-6.5-3-5.5 1-1.5 4-.5 10 1.5 2 8 3 3 15-2.5 15.5-5 16.5-2-10-5-6-4.5-5.5-8-4-9.5-3-3-8-3.5-4.5 0-7.5 2-2 19-2 4.5-3 2-12 3.5-10.5 2-5 0-25.5-5.5-15-1.5-7 1.5-15.5 6.5-20 5-31 12.5-17 5-10 1.5-34.5-.5-23.5 1-20.5-2.5-11 2-5.5 4-3.5 5.5-3 11.5-1 8.5-.5 1.5-1 0 3-17 2-5.5 5-7 4.5-2.5 11-2 21 2.5 22.5-1 35 .5 10-1.5 17-5 30-12 20-5 17-7 6.5-1.5 15 1.5 25.5 5.5 10.5-1 11.5-2.5 8-3.5 1.5-4 2-18.5 2-3 10-.5 4.5 1 5-1.5zM316 130.5l2.5 0 2.5 1.5 4 7 5-5 5-2.5 8.5-1 8.5 1.5 3.5 1.5 3.5 3 1.5 3 0 3.5-3.5 4.5-4.5 2.5-6.5 2-9.5 0-7-3.5-4-5.5-1-3-5 1.5-5-2.5-2-4.5 1.5-2.5 2-1.5zM339.5 132l-6 1-3 1.5-2.5 3-1 5.5 4.5 6 5.5 2 9 0 7-2 5.5-4 1-5.5-2.5-4-3.5-2-6-1.5-7.5 0zM289.5 133.5l2.5 0 3.5 3 2.5 4 1 4-.5 1.5-3 1.5 2.5 5.5-1 4.5-2 3-5 2-5-1.5-2.5-5 2-6 4-3.5-1-9.5 1.5-3.5zM287.5 148.5l-2 1.5-2 4 .5 4.5 2.5 2.5 3.5 .5 3-.5 3.5-4.5 .5-3-.5-3-4-2.5-4.5 .5zM595 137.5l9.5 22.5 5.5 4.5 5.5 2.5 3-.5 3-3 5.5-2.5 13-1.5 7-5 3-.5 24 8 8-1.5 10.5-4.5 13.5-3.5 13 .5 3 2 1.5 2.5-2 3.5-5 4-12.5 4.5-13 7-17.5 1.5-13 4-2.5 2-6.5 1-3.5 4-2.5 6.5-1 6.5 0 8-.5 1.5-1 0 1.5-16 2.5-6.5 4-5-4.5-.5-6.5 2.5 .5-1 6-2.5 13.5-1 13.5-4.5 17.5-1.5 12-6.5 16-6.5 3.5-4.5 0-1.5-3.5-2.5-3-.5-10 0-13.5 3.5-10.5 4.5-8 1.5-24-8-3 .5-7 5-11.5 1-6 2.5-3.5 4 1 10 1.5 4.5 6 12 5 5.5 7.5 6-.5 1-9.5-8.5-5.5-7-5.5-13-1-10-5.5-1.5-5-3-4-4-8.5-22.5zM128 156l3 7.5-2 9.5-.5-1.5 1.5-7.5-2.5-8zM550 169.5l6-.5 4 1 2.5 2.5 2 4-10.5 0-4-1-2-1.5-.5-2 .5-1.5 2-1zM384.5 172.5l5.5 0-4.5 3-6 2-3.5-.5-3-2 1.5-1 10-1.5zM582 177l2 0 2 1 3 3.5 1 2.5-7.5 1-9.5-1.5-4-2-3-3.5 15.5-1zM512 177.5l10.5 2.5 4 0 8-2.5 3 0 5.5 1.5 7.5 4-13-4.5-3 0-8 2.5-4.5 0-9-2-1-1.5zM697.5 183l3-.5 4 2.5 7.5 8.5 2.5 7.5 1 10.5-1 0-1-10.5-2.5-7.5-7.5-8-4.5-2-3.5 1.5-3.5 4.5-2 20-.5 2-1 0 2-20.5 4-6.5 2.5-1.5zM747 184l3 .5 2.5 4 .5 3-2.5 2-4 .5-2-1.5 0-5 2.5-3.5zM174.5 189l7 0 6.5 4 4.5 7 3.5 11.5-1 0-3.5-12-4-5.5-6-4-4-.5-4.5 1-6.5 6-8 15-1.5 0 9-15.5 5-5 3.5-2zM542 189.5l5 0 7 6.5 3.5 5.5 4 10-1 0-3.5-9-4-6.5-6-5.5-3-.5-6.5 2-6.5 4.5-3 8-1 7-23 0 2-8 4-9 2.5-2.5 2-.5 2 1 9.5 11 5-8 3.5-3 7.5-3zM591.5 192.5l11.5-.5 9 3.5 3 6 1 10-1 0-.5-8-2.5-7-6-3-5.5-.5-9.5 .5-6.5 3-3 4.5-.5 10.5-1 0 .5-10 1.5-3.5 3-3 6.5-2.5zM764 195l2.5-.5 0 17-6-12.5 .5-2.5 2.5-1.5zM251 201.5l5 0-6 1.5-4.5 8.5-1.5 0 4.5-8 2.5-2zM437 206.5l1.5-.5 2.5 1.5 3 4-1 0-3-3.5-2-1-4 4.5-1.5 0 4.5-5zM452.5 206.5l3.5 1 1.5 4-10 0 1.5-3 3-2zM6 208l3.5 .5 1.5 3-11 0 5.5-3.5z"/>
<path fill="#950000" d="M.5 0l5 0-1.5 4.5-4 1.5 0-6zM170.5 0l.5 0-.5 0zM186.5 0l2.5 0-.5 2.5-1 0-1-2.5zM552 0l15.5 0-1.5 7.5-3.5 3-5.5-1-4-3.5-1-6zM759.5 0l7 0 0 34-7-2-3-4.5 0-4 1.5-4 7-9-5-7-1-3.5zM252 5l1.5 0 1.5 2 1 6.5-6.5 2.5-3-1-.5-2 2.5-7 1 .5 2-1.5zM578 10l6.5 0 5.5 2.5 3.5 4-.5 4.5-9 5-3.5 0-3-1.5-4-4.5-1.5-5 1.5-3 4-2zM200.5 19l-.5 .5 .5-.5zM167.5 22l5.5-.5 4.5 1 2 1.5-.5 3-4.5 2-3 .5-11.5-5 7.5-2.5zM437.5 22l.5 .5-1-.5zM466 24.5l1 .5-1 .5 0-1zM481 25l3.5 1 3 2.5 1.5 3.5-.5 2.5-3.5 0-5.5-4-1-3.5 2-2zM418 27l.5 .5-.5 1 0-1.5zM195.5 27.5l5.5 0 1.5 2 .5 3.5-1-.5-5 5-6.5 0-.5-.5 3-3 2-6zM17 35.5l5 1 2.5 2.5 0 4.5-2.5 3-5-1-5-4.5 1-4 4-1.5zM216.5 36.5l4.5 .5-1 2.5-4.5 .5-4-2 4.5-1.5zM294.5 38.5l.5 .5-.5-.5zM707 39l2.5 1 .5 2.5-2 2-3 0-1.5-1-.5-1.5 3.5-3zM737 55.5l1.5 5-1.5-5zM766 60.5l.5 19-7-.5-3-3 .5-6 3.5-6.5 5-3zM723 63l.5 1-.5-1zM738.5 62.5l-.5 1.5 0-1zM138.5 64.5l1.5-.5-.5 2-1-1.5zM725.5 65.5l2 1.5-2.5-1.5zM729.5 68l.5 .5-1-.5zM426.5 73.5l2 0-1.5 3-7 7-6 4-2.5 .5-1.5-1-1.5-4.5 .5-2 17.5-7zM592.5 83l-.5 1.5 0-1zM300.5 84.5l.5 .5-.5-.5zM591.5 85l-1 1.5 1-1.5zM565 92.5l1.5 0 2 4.5 1.5 6.5-1 3-3 1.5-5 .5-6.5-2.5-2-3 .5-3 12-7.5zM176.5 101.5l0 1-.5-.5 .5-.5zM247 101.5l7 .5 0 3-1 2.5-1.5 .5-2-1-2-2.5-.5-3zM323.5 105.5l2.5 0 .5 1 0 2.5-2.5 2 1 1-5.5 .5-7 2.5-3.5 .5-3-1-2-2-1-3 2.5-1.5 18-2.5zM326 111.5l1.5 0-1.5 0zM385.5 116l3.5 0 2.5 1.5 1 2.5-.5 3.5-2 3.5-3 3-4 2-3 0-3-3.5 0-5 3.5-5 5-2.5zM47.5 116.5l.5 .5-1.5 0 .5-.5zM269 119l4.5 1-5.5 1 1-1.5zM687 121.5l1 0-1 0zM185.5 122l3 0-3 0zM530.5 122l5.5 .5 4 2-10 .5-3.5-1.5 4-1.5zM689.5 122l1 .5-1.5-.5zM702 123.5l-1 .5 1-.5zM699 124l1.5 0-1.5 0zM316 132.5l2.5-.5 2.5 2 1 3-.5 2-3 .5-3-1.5-1-3 1.5-2.5zM290 136l3.5 .5 4 5 .5 4-3.5 2.5-5-.5-1-8 1.5-3.5zM737.5 138.5l1.5 3-1.5-3zM765 143l1.5 0 0 19.5-7.5-2-2.5-3-1-3 0-5 5-5 4.5-1.5zM495.5 153.5l6-.5 4.5 1.5 .5 4.5-1 3.5-3.5 1-5.5-3-3.5-5.5 2.5-1.5zM561.5 156.5l4.5 .5-4.5-.5zM435.5 162l5 0-2 2-4 2-12.5 1-4.5 16-1.5 2-3.5 1.5-3.5-2.5-2-4-.5-4.5 1-3.5 2.5-2.5 3.5-2 21.5-5.5zM452.5 165.5l5 .5 10 6.5 4 4 2 4.5-5 2-7-1-3-3-8.5-4-2.5-2.5 0-3 1.5-2.5 3.5-1.5zM509.5 169.5l2.5 1 0 3-4-.5 1.5-1 0-2.5zM18.5 170.5l2.5-.5 6.5 4 5.5 6 .5 4-1.5 2-11.5 5-7.5 5.5-3 0-2-1.5-1.5-5 1-1 3-10 3.5-6 4.5-2.5zM382.5 173l5 0-7 3-3 0-2-1.5 7-1.5zM507 173.5l1 0-1 0zM492.5 175l4.5-.5 .5 5.5-3 3-4.5 .5-2.5-2 .5-5 4.5-1.5zM584 177.5l3.5 2.5 1.5 3-7.5 1-4-1-3-2 2-1.5 7-2zM747 186l2-.5 2 2.5 0 2.5-1.5 1.5-2.5 0-1.5-1 0-2.5 1.5-2.5zM513 194l3.5 .5 7.5 8.5 2.5 4-.5 4.5-21 0 1.5-7.5 6-10zM764.5 196l2-.5 0 12-2.5-2.5-2-5 0-2.5 2-1.5zM331 198.5l5 0 2.5 1 .5 4.5-1.5 1.5-.5 6-15.5 0 1-8.5 4-3.5 4.5-1zM285.5 202.5l5 0 4 1.5-.5 1 1.5 6.5-18.5 0 2-6 3-2.5 3.5-.5zM364 206.5l4 0 3.5 1 2 1.5 1 2.5-15.5 0 1-3 4-2zM451.5 208.5l3 0 1.5 3-7 0 2.5-3z"/>
<path fill="#7a0000" d="M.5 0l4.5 0-1.5 3.5-3.5 1.5 0-5zM553 0l12.5 0-1.5 6-4 2.5-2.5-.5-2.5-2-2-6zM760.5 0l6 0 0 7-4-2.5-2-4.5zM251 7.5l1.5-.5 1.5 1 1 5.5-5.5 2-2-.5 .5-4 3-3.5zM580 10.5l6 .5 5 3 1.5 4-2 3.5-3.5 2-4.5 1.5-3-1-2.5-1.5-2.5-4 0-4 1.5-2.5 4-1.5zM765 13.5l1.5-.5 0 20-7-2-1.5-2-1-3 2-7 6-5.5zM168.5 22l6.5 0 4 2-3 3.5-3.5 1-3.5-1-7-3.5 6.5-2zM197.5 29l1.5 0 .5 1.5-1 2-1.5 .5-.5-1.5 1-2.5zM17 37l3 0 2.5 2 .5 3-1.5 2.5-3.5 0-3-2-.5-3.5 2-2zM766 61l.5 18-6-.5-3-3 .5-6 3-6 5-2.5zM425 74.5l1 0-1.5 3-6 6-4.5 2.5-3-.5-1-5 14.5-6zM566 93.5l1.5 1.5 1.5 5 0 6-3 1.5-3.5 .5-4-1-3.5-2-1.5-2.5 1-2.5 11-6.5zM249 102l2.5 0 .5 1-1.5 1-1.5-2zM322.5 106l1.5 .5-1 2.5-8.5 4.5-5.5 .5-3-2.5 0-2.5 1.5-1 15-2zM385 117l3-.5 2.5 1.5 1 2.5 0 3-2 3.5-3 2.5-3.5 1.5-2.5 0-2.5-2.5 0-4.5 2.5-4.5 4-2.5zM531 123l6.5 1-6.5 0-1.5-.5 1-.5zM291.5 138.5l2 .5 2.5 2.5 .5 3.5-1 1.5-3 .5-1.5-1-1-4.5 1.5-3zM764.5 144l2 0 0 18-6.5-2-2-2-1.5-3 1-5 1.5-2.5 2.5-2.5 3-1zM497 153.5l8 1-1 5.5-3.5 1-4-2-3-4 3.5-1.5zM434 162.5l4 0-5 2.5-5.5-.5 6.5-2zM452 167.5l5 0 10 5.5 4 4.5 0 3.5-3 1-3.5-.5-13.5-7-2-4 3-3zM415 168.5l3.5 1 0 5-2.5 8-1.5 1.5-2 .5-3.5-2.5-1.5-6.5 2.5-4.5 4.5-2.5zM19.5 171l2.5 0 7.5 5 3 4 .5 3-4.5 3.5-14.5 7.5-2.5 0-1.5-1-1-2.5 1.5-9.5 4-7 4.5-3zM379.5 174l3.5 0-4 0zM493 177l2 1 0 2-1 1.5-2.5 .5-1.5-1 0-1.5 2.5-2.5zM584.5 178.5l2 1 1.5 2.5-4.5 1-3.5-1.5 .5-1.5 4-1.5zM513 196.5l3 0 6.5 7 2 3.5 .5 4.5-19.5 0 1.5-6.5 6-8.5zM765.5 197l1 0 0 8-2-1.5-1.5-3 .5-2 2-1.5zM329.5 199l5-.5 3 1-1 12-14.5 0 2-8.5 2.5-3 2.5-1zM285.5 203.5l6 1 2 3 .5 4-16.5 0 2-5.5 5.5-2.5zM364.5 208.5l4.5 0 3 3-10 0 2.5-3z"/></g>
<line x1="217.8" y1="549.6" x2="717.8" y2="339.4" stroke="#2f2829" stroke-width="6" stroke-dasharray="10.5 16.3"/>
<rect x="80.5" y="337.1" width="769" height="214" fill="none" stroke="#2f2829" stroke-width="3"/>
<path d="M71.5 337V550.6M71.5 361.1H79M71.5 392.8H79M71.5 424.7H79M71.5 456.7H79M71.5 488.3H79M71.5 520.0H79" stroke="#8a8a8a" stroke-width="1" fill="none"/>
<path d="M843 361.4H848M843 392.6H848M843 424.4H848M843 456.4H848M843 488.3H848M843 520.2H848" stroke="#8a8a8a" stroke-width="1" fill="none"/>
<text x="390.85" y="388.3" font-size="26" letter-spacing="-0.07">Yueerya</text>
<circle cx="426.8" cy="395.9" r="2.8" fill="none" stroke="#2f2829" stroke-width="1.4"/>
<text x="477.45" y="442.5" font-size="26" letter-spacing="0.89">Hailituxigou</text>
<circle cx="541.6" cy="451.3" r="2.8" fill="none" stroke="#2f2829" stroke-width="1.4"/>
<text x="439.25" y="467.5" font-size="26" letter-spacing="0.76">Dongganzi</text>
<circle cx="471.6" cy="474.9" r="2.8" fill="none" stroke="#2f2829" stroke-width="1.4"/>
<text x="635.45" y="481.1" font-size="26" letter-spacing="0.74">Fushan</text>
<circle cx="658.1" cy="488.2" r="2.8" fill="none" stroke="#2f2829" stroke-width="1.4"/>
<path fill-rule="evenodd" d="M126.7 352.2L105.9 369.4L112.5 367.7L111.8 374.3ZM122.3 357.8L114.5 366.4L114.1 370.0Z" fill="#2f2829"/>
<text x="131.25" y="370.4" font-size="26" letter-spacing="1">N</text>
<text x="698.3" y="526.1" font-size="26" letter-spacing="1">0</text>
<text x="794.1" y="525.5" font-size="26" letter-spacing="0.99">2.5km</text>
<path d="M701.9 528.9V534.9H804.6V528.9" fill="none" stroke="#2f2829" stroke-width="1.6"/>
<text x="20" y="342.5" font-size="26" letter-spacing="0.88">(b)</text>
<text x="55.2" y="342.6" font-size="26" letter-spacing="1">5</text>
<text x="39.3" y="450.6" font-size="26" letter-spacing="1">2.5</text>
<text x="51.7" y="574.4" font-size="26" letter-spacing="1">0</text>
<text x="270.4" y="576.7" font-size="26" letter-spacing="1">5</text>
<text x="452.65" y="577.2" font-size="26" letter-spacing="1.65">10</text>
<text x="644.75" y="577.6" font-size="26" letter-spacing="1.65">15</text>
<text x="838" y="577.6" font-size="26" letter-spacing="2.1">20</text>
<text x="447.55" y="596.5" font-size="26" letter-spacing="0.68">x/km</text>
<text transform="translate(32.1 464.65) rotate(-90)" font-size="26" letter-spacing="0.88">y/km</text>
<rect x="869.2" y="336.7" width="20" height="215" fill="url(#gb)" stroke="#333" stroke-width="1.2"/>
<path d="M869.2 347.8H889.2M869.2 415H889.2M869.2 483.1H889.2" stroke="#333" stroke-width="1.3"/>
<text x="867.6" y="329.2" font-size="26" letter-spacing="0.45">rad</text>
<text x="896.35" y="352.9" font-size="26" letter-spacing="-0.57">1.5</text>
<text x="897.35" y="422.9" font-size="26" letter-spacing="1">1</text>
<text x="897.6" y="489.5" font-size="26" letter-spacing="-0.55">0.5</text>
<use href="#fa" transform="translate(84.4 627.3)"/>
<g clip-path="url(#cc)"><path d="M100.9 648.1 109.3 669.2 118.8 684 132.6 696.7 147.4 708.3M155.8 650.2 172.7 649.2 189.6 649.2 206.5 652.3 227.6 654.5 246.6 658.7 265.6 658.7 280 656.6M276 656.6 297.1 654.5 316.1 655.5 330.9 649.2 341.5 637.6 345.7 627M206.5 652.3 202.3 669.2 204.4 679.8 199.1 690.4 198.1 707.3M103 719.9 119.9 721 136.8 721 151.6 721M149.5 722 157.9 737.9 168.5 753.7 172.7 760.1M151.6 719.9 168.5 716.8 185.4 713.6 202.3 710.4 221.3 707.3 240.3 704.1 253 700.9 259.3 698.8 280 697.8M276 697.8 292.9 696.7 309.8 693.5 326.7 686.1 341.5 676.6 356.3 666.1 368.9 654.5 383.7 645 392.2 642.8M221.3 707.3 219.2 722 217.1 736.8 212.8 753.7 210.7 770.6 210.7 783.3M253 700.9 248.7 719.9 244.5 738.9 240.3 755.8 236.1 770.6 234 774.8M84 757.9 103 753.7M170.6 760.1 185.4 759 202.3 756.9 212.8 755.8M128.4 762.2 125.2 779.1 122 793.9 118.8 804.4 115.7 815M153.7 768.5 149.5 787.5 145.2 806.5 143.1 819.2M90.3 813.9 109.3 816 126.2 818.1 145.2 819.2 164.3 820.3 181.2 822.4 198.1 823.4M236.1 770.6 223.4 781.2 212.8 790.7 198.1 800.2M250.9 760.1 269.9 754.8 280 753.7M392.2 642.8 391.1 660.8 390.1 679.8 387.9 696.7 385.8 709.4M411.2 631.2 419.6 650.2 430.2 665 438.6 677.7 445 694.6 455.5 707.3 472 716.8M284.4 749.5 303.5 743.2 318.2 732.6 333 724.2 349.9 718.9 366.8 713.6 383.7 711.5 402.7 709.4 419.6 709.4 436.5 709.4M341.5 805.5 360.5 803.4 379.5 802.3 398.5 801.2 415.4 798.1 432.3 794.9 451.3 791.7M476.4 680.9 493.3 671.4 510.2 668.2 529.2 668.2 546.1 669.2 563 668.2 582.1 664 596.8 654.5 613.7 648.1M529.2 668.2 520.8 686.1 511.3 700.9 501.8 717.8 493.3 731.5M468 715.7 480.7 721 493.3 731.5M482.8 757.9 483.8 774.8 493.3 791.7M645.4 703 651.8 722 659.1 738.9 664 745.3M740.3 641.8 759.3 649.2 778.3 656.6 795.2 662.9 812.1 669.2 829 674.5 833.2 677.7M805.7 632.3 793.1 647.1 780.4 659.7 767.7 672.4 755 685.1M848 646 839.5 665 831.1 681.9 824.7 696.7M767.7 705.1 771.9 724.2 776.2 743.2 780.4 762.2 784.6 779.1 788.8 793.9 790.9 810.8 786.7 827.6M757.2 711.5 746.6 728.4 736 745.3 725.5 757.9 712.8 770.6 702.2 783.3 698 796M660 738.9 668.4 753.7 679 766.4 689.6 779.1 700.1 793.9 708.6 808.6 721.2 824.5" fill="none" stroke="#2f2829" stroke-width="3.6" stroke-dasharray="7 9.5"/>
<path d="M202.3 810.8 210.7 807.6 240.3 796 248.7 794.9 274.1 785.4 280 783.3M276 784.3 307.7 771.7 339.4 757.9 373.2 746.3 409.1 735.8 442.9 734.7 453.4 735.8M364.7 829.8 400.6 820.3 438.6 815 472 808.6M468 736.8 480.7 738.9 514.5 733.7 548.3 728.4 584.2 719.9 620.1 715.7 632.7 711.5M594.7 821.3 603.2 800.2 613.7 774.8M468 807.6 506 804.4 541.9 799.1 575.7 791.7 603.2 779.1 613.7 774.8M613.7 774.8 622.2 751.6 632.7 715.7 647.5 681.9 664 648.1M660 652.3 670.6 639.7 685.3 632.3 702.2 630.2 721.2 628.1" fill="none" stroke="#2f2829" stroke-width="6.5" stroke-dasharray="12.5 21"/></g>
<clipPath id="cc"><rect x="84.4" y="627.3" width="766.5" height="211.5"/></clipPath>
<rect x="83" y="625.5" width="769.3" height="215" fill="none" stroke="#2f2829" stroke-width="3"/>
<text x="393.05" y="674.3" font-size="26" letter-spacing="-0.07">Yueerya</text>
<circle cx="429.0" cy="681.9" r="2.8" fill="none" stroke="#2f2829" stroke-width="1.4"/>
<text x="479.65" y="728.5" font-size="26" letter-spacing="0.89">Hailituxigou</text>
<circle cx="543.8" cy="737.3" r="2.8" fill="none" stroke="#2f2829" stroke-width="1.4"/>
<text x="441.45" y="753.5" font-size="26" letter-spacing="0.76">Dongganzi</text>
<circle cx="473.8" cy="760.9" r="2.8" fill="none" stroke="#2f2829" stroke-width="1.4"/>
<text x="637.65" y="767.1" font-size="26" letter-spacing="0.74">Fushan</text>
<circle cx="660.3" cy="774.2" r="2.8" fill="none" stroke="#2f2829" stroke-width="1.4"/>
<path fill-rule="evenodd" d="M128.3 641.9L107.2 658.7L114.2 657.5L113.2 663.6ZM123.9 647.5L116.2 656.1L115.6 659.4Z" fill="#2f2829"/>
<text x="133.15" y="660.3" font-size="26" letter-spacing="1">N</text>
<text x="700" y="814.7" font-size="26" letter-spacing="1">0</text>
<text x="795.9" y="813.8" font-size="26" letter-spacing="0.84">2.5km</text>
<path d="M703.7 817.8V823.8H805.5V817.8" fill="none" stroke="#2f2829" stroke-width="1.6"/>
<text x="21.3" y="632.6" font-size="26" letter-spacing="1.47">(c)</text>
<text x="59.5" y="633.3" font-size="26" letter-spacing="1">5</text>
<text x="43.6" y="741.2" font-size="26" letter-spacing="1.4">2.5</text>
<text x="59" y="867.5" font-size="26" letter-spacing="1">0</text>
<text x="269.2" y="870.8" font-size="26" letter-spacing="1">5</text>
<text x="451.45" y="871.3" font-size="26" letter-spacing="1.65">10</text>
<text x="643.55" y="871.7" font-size="26" letter-spacing="1.65">15</text>
<text x="836.8" y="871.7" font-size="26" letter-spacing="2.1">20</text>
<text x="446.35" y="890.6" font-size="26" letter-spacing="0.68">x/km</text>
<text transform="translate(33.2 754.85) rotate(-90)" font-size="26" letter-spacing="0.28">y/km</text>
<rect x="871.7" y="627.20" width="18.5" height="3.80" fill="#ffa4ff"/>
<rect x="871.7" y="630.70" width="18.5" height="6.03" fill="#ff84ff"/>
<rect x="871.7" y="636.43" width="18.5" height="6.03" fill="#ff1ee6"/>
<rect x="871.7" y="642.17" width="18.5" height="6.03" fill="#ff00d0"/>
<rect x="871.7" y="647.90" width="18.5" height="5.70" fill="#ff0068"/>
<rect x="871.7" y="653.30" width="18.5" height="5.70" fill="#ff0040"/>
<rect x="871.7" y="658.70" width="18.5" height="5.70" fill="#ff0010"/>
<rect x="871.7" y="664.10" width="18.5" height="5.50" fill="#ff2000"/>
<rect x="871.7" y="669.30" width="18.5" height="5.50" fill="#ff3400"/>
<rect x="871.7" y="674.50" width="18.5" height="5.50" fill="#ff4800"/>
<rect x="871.7" y="679.70" width="18.5" height="5.80" fill="#ff6c00"/>
<rect x="871.7" y="685.20" width="18.5" height="5.80" fill="#ff7800"/>
<rect x="871.7" y="690.70" width="18.5" height="5.80" fill="#ff8400"/>
<rect x="871.7" y="696.20" width="18.5" height="5.87" fill="#ff9600"/>
<rect x="871.7" y="701.77" width="18.5" height="5.87" fill="#ffa200"/>
<rect x="871.7" y="707.33" width="18.5" height="5.87" fill="#ffae00"/>
<rect x="871.7" y="712.90" width="18.5" height="5.73" fill="#ffc800"/>
<rect x="871.7" y="718.33" width="18.5" height="5.73" fill="#ffd600"/>
<rect x="871.7" y="723.77" width="18.5" height="5.73" fill="#ffe400"/>
<rect x="871.7" y="729.20" width="18.5" height="5.90" fill="#ffff00"/>
<rect x="871.7" y="734.80" width="18.5" height="5.90" fill="#e4ff00"/>
<rect x="871.7" y="740.40" width="18.5" height="5.90" fill="#c8ff00"/>
<rect x="871.7" y="746.00" width="18.5" height="5.77" fill="#a4ff00"/>
<rect x="871.7" y="751.47" width="18.5" height="5.77" fill="#92ff00"/>
<rect x="871.7" y="756.93" width="18.5" height="5.77" fill="#80ff00"/>
<rect x="871.7" y="762.40" width="18.5" height="5.67" fill="#40ff00"/>
<rect x="871.7" y="767.77" width="18.5" height="5.67" fill="#00ff00"/>
<rect x="871.7" y="773.13" width="18.5" height="5.67" fill="#00ff20"/>
<rect x="871.7" y="778.50" width="18.5" height="5.87" fill="#00ff40"/>
<rect x="871.7" y="784.07" width="18.5" height="5.87" fill="#00ff58"/>
<rect x="871.7" y="789.63" width="18.5" height="5.87" fill="#00ff90"/>
<rect x="871.7" y="795.20" width="18.5" height="5.73" fill="#00ffd0"/>
<rect x="871.7" y="800.63" width="18.5" height="5.73" fill="#00ffff"/>
<rect x="871.7" y="806.07" width="18.5" height="5.73" fill="#00f4ff"/>
<rect x="871.7" y="811.50" width="18.5" height="5.77" fill="#00d4ff"/>
<rect x="871.7" y="816.97" width="18.5" height="5.77" fill="#00b0ff"/>
<rect x="871.7" y="822.43" width="18.5" height="5.77" fill="#008cff"/>
<rect x="871.7" y="827.90" width="18.5" height="5.05" fill="#0044ff"/>
<rect x="871.7" y="832.65" width="18.5" height="5.05" fill="#0000ff"/>
<line x1="871.7" x2="890.2" y1="630.7" y2="630.7" stroke="#141010" stroke-width="1.6"/>
<line x1="871.7" x2="890.2" y1="647.9" y2="647.9" stroke="#141010" stroke-width="1.6"/>
<line x1="871.7" x2="890.2" y1="664.1" y2="664.1" stroke="#141010" stroke-width="1.6"/>
<line x1="871.7" x2="890.2" y1="679.7" y2="679.7" stroke="#141010" stroke-width="1.6"/>
<line x1="871.7" x2="890.2" y1="696.2" y2="696.2" stroke="#141010" stroke-width="1.6"/>
<line x1="871.7" x2="890.2" y1="712.9" y2="712.9" stroke="#141010" stroke-width="1.6"/>
<line x1="871.7" x2="890.2" y1="729.2" y2="729.2" stroke="#141010" stroke-width="1.6"/>
<line x1="871.7" x2="890.2" y1="746.0" y2="746.0" stroke="#141010" stroke-width="1.6"/>
<line x1="871.7" x2="890.2" y1="762.4" y2="762.4" stroke="#141010" stroke-width="1.6"/>
<line x1="871.7" x2="890.2" y1="778.5" y2="778.5" stroke="#141010" stroke-width="1.6"/>
<line x1="871.7" x2="890.2" y1="795.2" y2="795.2" stroke="#141010" stroke-width="1.6"/>
<line x1="871.7" x2="890.2" y1="811.5" y2="811.5" stroke="#141010" stroke-width="1.6"/>
<line x1="871.7" x2="890.2" y1="827.9" y2="827.9" stroke="#141010" stroke-width="1.6"/>
<rect x="871.30" y="626.70" width="19.30" height="210.60" fill="none" stroke="#1a1616" stroke-width="2.2"/>
<text x="862.7" y="617.7" font-size="26" letter-spacing="0.65">mGal</text>
<text x="899.5" y="636.9" font-size="26" letter-spacing="1">-8.62</text>
<text x="899.5" y="669.7" font-size="26" letter-spacing="1">-9.42</text>
<text x="899.5" y="702.8" font-size="26" letter-spacing="1">-11.15</text>
<text x="899.5" y="735.8" font-size="26" letter-spacing="1">-12.21</text>
<text x="899.5" y="769.5" font-size="26" letter-spacing="1">-13.67</text>
<text x="899.5" y="802.2" font-size="26" letter-spacing="1">-14.38</text>
<text x="899.5" y="834.9" font-size="26" letter-spacing="1">-15.58</text>
<rect x="81.85" y="899.95" width="78.3" height="36.9" fill="none" stroke="#2f2829" stroke-width="3.5"/>
<circle cx="121.0" cy="918.7" r="2.9" fill="none" stroke="#2f2829" stroke-width="1.3"/>
<rect x="83.25" y="960.65" width="77.6" height="35.5" fill="none" stroke="#2f2829" stroke-width="3.5"/>
<rect x="95.5" y="975.2" width="14.1" height="6.3" fill="#2f2829"/><rect x="117" y="975.2" width="13.6" height="6.3" fill="#2f2829"/><rect x="137.6" y="975.2" width="14" height="6.3" fill="#2f2829"/>
<rect x="494.05" y="899.65" width="78.2" height="37" fill="none" stroke="#2f2829" stroke-width="2.9"/>
<rect x="505.4" y="916.6" width="7.3" height="3.2" fill="#2f2829"/><rect x="522.9" y="916.6" width="7.4" height="3.2" fill="#2f2829"/><rect x="540.8" y="916.6" width="7.2" height="3.2" fill="#2f2829"/><rect x="558.8" y="916.6" width="4.4" height="3.2" fill="#2f2829"/>
<text x="171.15" y="926.2" font-size="26" letter-spacing="0.57">Place name</text>
<text x="167.65" y="984.6" font-size="26" letter-spacing="0.65">Primary structural line</text>
<text x="581.85" y="925.5" font-size="26" letter-spacing="0.74">Secondary structural line</text>
</svg></body></html>
